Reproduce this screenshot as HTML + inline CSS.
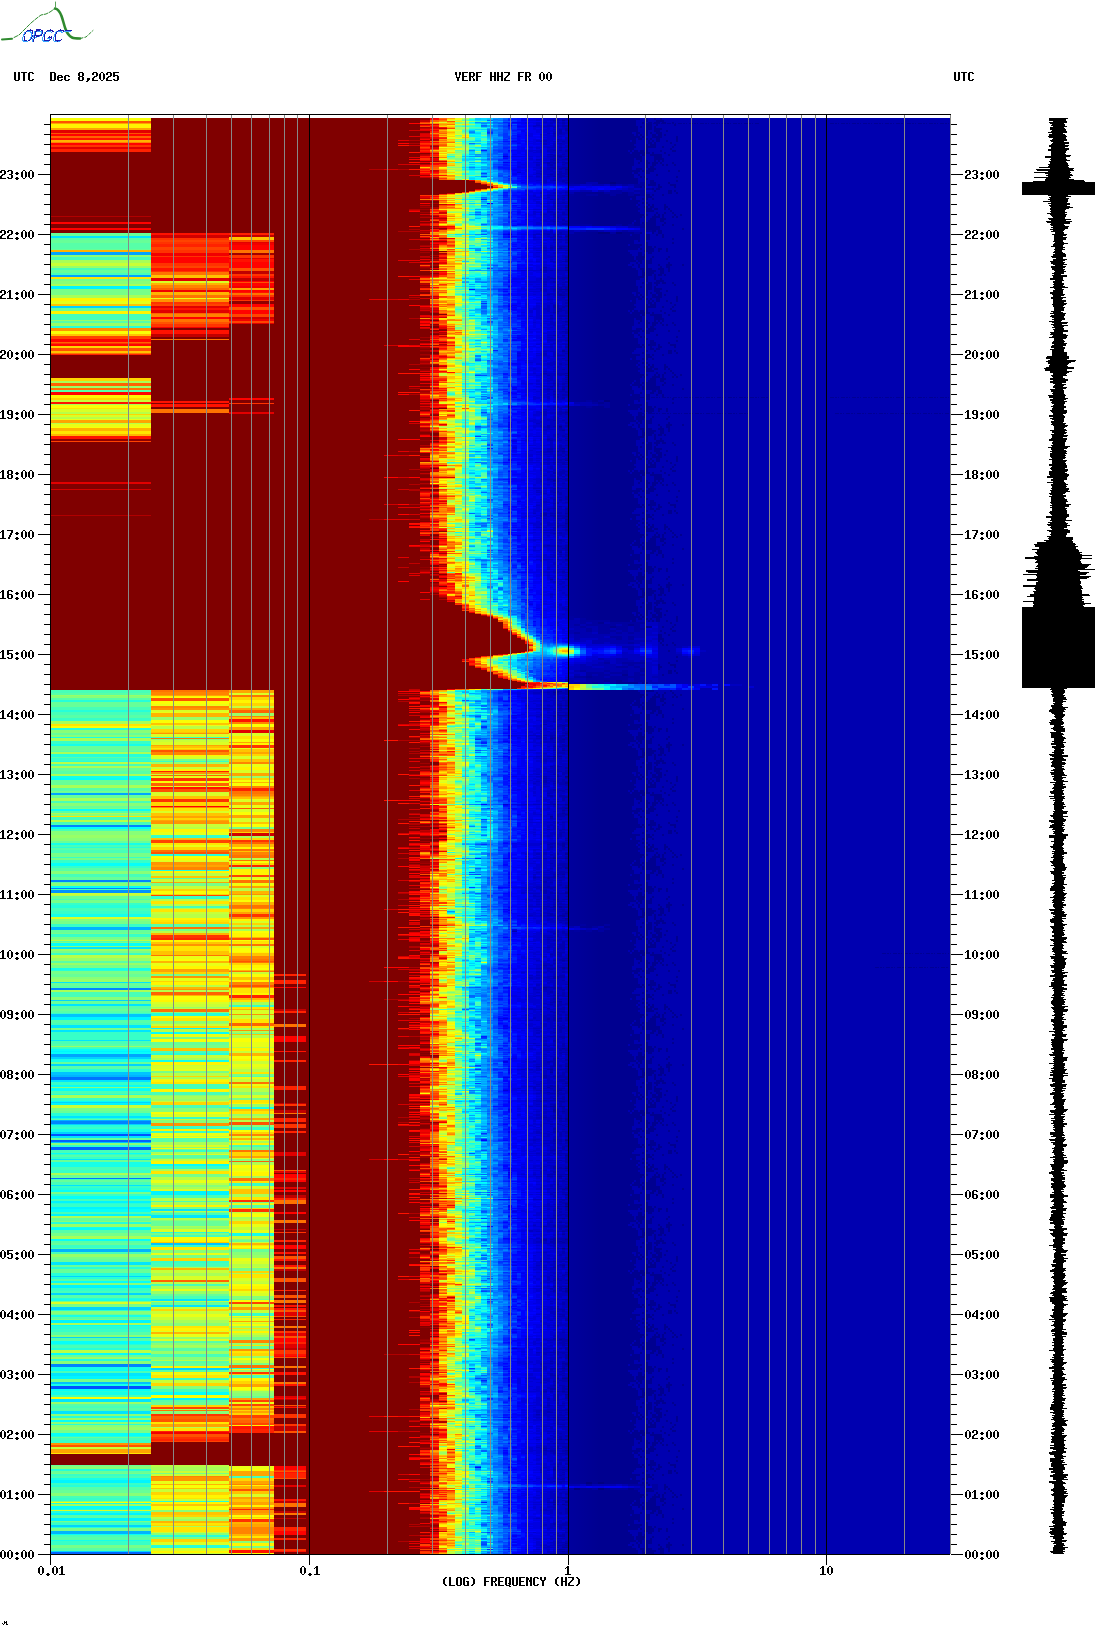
<!DOCTYPE html><html><head><meta charset="utf-8"><style>html,body{margin:0;padding:0;background:#fff;overflow:hidden}svg{display:block}
text{font-family:"Liberation Mono",monospace;font-weight:bold;font-size:13.6px;fill:#000}
.s path{fill:none}
.c0{stroke:#000080}
.c1{stroke:#000090}
.c2{stroke:#0000a0}
.c3{stroke:#0000b0}
.c4{stroke:#0000c0}
.c5{stroke:#0000d0}
.c6{stroke:#0000e1}
.c7{stroke:#0000f1}
.c8{stroke:#0002ff}
.c9{stroke:#0012ff}
.c10{stroke:#0022ff}
.c11{stroke:#0033ff}
.c12{stroke:#0043ff}
.c13{stroke:#0053ff}
.c14{stroke:#0063ff}
.c15{stroke:#0073ff}
.c16{stroke:#0084ff}
.c17{stroke:#0094ff}
.c18{stroke:#00a4ff}
.c19{stroke:#00b4ff}
.c20{stroke:#00c4ff}
.c21{stroke:#00d4ff}
.c22{stroke:#00e5ff}
.c23{stroke:#00f5ff}
.c24{stroke:#06fff9}
.c25{stroke:#16ffe9}
.c26{stroke:#26ffd9}
.c27{stroke:#37ffc8}
.c28{stroke:#47ffb8}
.c29{stroke:#57ffa8}
.c30{stroke:#67ff98}
.c31{stroke:#77ff88}
.c32{stroke:#88ff77}
.c33{stroke:#98ff67}
.c34{stroke:#a8ff57}
.c35{stroke:#b8ff47}
.c36{stroke:#c8ff37}
.c37{stroke:#d9ff26}
.c38{stroke:#e9ff16}
.c39{stroke:#f9ff06}
.c40{stroke:#fff500}
.c41{stroke:#ffe500}
.c42{stroke:#ffd500}
.c43{stroke:#ffc400}
.c44{stroke:#ffb400}
.c45{stroke:#ffa400}
.c46{stroke:#ff9400}
.c47{stroke:#ff8400}
.c48{stroke:#ff7300}
.c49{stroke:#ff6300}
.c50{stroke:#ff5300}
.c51{stroke:#ff4300}
.c52{stroke:#ff3300}
.c53{stroke:#ff2200}
.c54{stroke:#ff1200}
.c55{stroke:#ff0200}
.c56{stroke:#f10000}
.c57{stroke:#e10000}
.c58{stroke:#d00000}
.c59{stroke:#c00000}
.c60{stroke:#b00000}
.c61{stroke:#a00000}
.c62{stroke:#900000}
.c63{stroke:#800000}</style></head><body>
<svg width="1102" height="1634" viewBox="0 0 1102 1634" shape-rendering="crispEdges">
<rect width="1102" height="1634" fill="#fff"/>
<defs><linearGradient id="nvg" x1="0" x2="1" y1="0" y2="0"><stop offset="0" stop-color="#00009e"/><stop offset="1" stop-color="#000090"/></linearGradient><pattern id="mot" patternUnits="userSpaceOnUse" x="624" y="118" width="88" height="160"><path fill="#0000b0" d="M16 0h2v2h-2zM18 0h2v2h-2zM20 0h2v2h-2zM12 2h2v2h-2zM14 2h2v2h-2zM16 2h2v2h-2zM18 2h2v2h-2zM20 2h2v2h-2zM12 4h2v2h-2zM14 4h2v2h-2zM16 4h2v2h-2zM20 4h2v2h-2zM12 6h2v2h-2zM14 6h2v2h-2zM16 6h2v2h-2zM18 6h2v2h-2zM20 6h2v2h-2zM14 8h2v2h-2zM18 8h2v2h-2zM20 8h2v2h-2zM14 10h2v2h-2zM16 10h2v2h-2zM18 10h2v2h-2zM20 10h2v2h-2zM14 12h2v2h-2zM16 12h2v2h-2zM18 12h2v2h-2zM20 12h2v2h-2zM8 14h2v2h-2zM10 14h2v2h-2zM16 14h2v2h-2zM18 14h2v2h-2zM20 14h2v2h-2zM10 16h2v2h-2zM14 16h2v2h-2zM18 16h2v2h-2zM20 16h2v2h-2zM16 18h2v2h-2zM20 18h2v2h-2zM12 20h2v2h-2zM18 20h2v2h-2zM20 20h2v2h-2zM6 22h2v2h-2zM12 22h2v2h-2zM14 22h2v2h-2zM16 22h2v2h-2zM18 22h2v2h-2zM20 22h2v2h-2zM12 24h2v2h-2zM14 24h2v2h-2zM16 24h2v2h-2zM18 24h2v2h-2zM20 24h2v2h-2zM10 26h2v2h-2zM12 26h2v2h-2zM14 26h2v2h-2zM16 26h2v2h-2zM18 26h2v2h-2zM20 26h2v2h-2zM12 28h2v2h-2zM14 28h2v2h-2zM16 28h2v2h-2zM18 28h2v2h-2zM20 28h2v2h-2zM10 30h2v2h-2zM12 30h2v2h-2zM14 30h2v2h-2zM16 30h2v2h-2zM18 30h2v2h-2zM20 30h2v2h-2zM4 32h2v2h-2zM8 32h2v2h-2zM14 32h2v2h-2zM20 32h2v2h-2zM6 34h2v2h-2zM16 36h2v2h-2zM18 38h2v2h-2zM20 38h2v2h-2zM10 40h2v2h-2zM18 40h2v2h-2zM20 40h2v2h-2zM10 42h2v2h-2zM12 42h2v2h-2zM14 42h2v2h-2zM18 42h2v2h-2zM20 42h2v2h-2zM10 44h2v2h-2zM12 44h2v2h-2zM16 44h2v2h-2zM18 44h2v2h-2zM20 44h2v2h-2zM10 46h2v2h-2zM12 46h2v2h-2zM14 46h2v2h-2zM16 46h2v2h-2zM18 46h2v2h-2zM20 46h2v2h-2zM8 48h2v2h-2zM10 48h2v2h-2zM12 48h2v2h-2zM14 48h2v2h-2zM16 48h2v2h-2zM18 48h2v2h-2zM20 48h2v2h-2zM8 50h2v2h-2zM10 50h2v2h-2zM18 50h2v2h-2zM20 50h2v2h-2zM16 52h2v2h-2zM20 52h2v2h-2zM8 54h2v2h-2zM14 54h2v2h-2zM16 54h2v2h-2zM18 54h2v2h-2zM20 54h2v2h-2zM10 56h2v2h-2zM12 56h2v2h-2zM16 56h2v2h-2zM18 56h2v2h-2zM20 56h2v2h-2zM10 58h2v2h-2zM12 58h2v2h-2zM14 58h2v2h-2zM18 58h2v2h-2zM14 60h2v2h-2zM16 60h2v2h-2zM18 60h2v2h-2zM20 60h2v2h-2zM14 62h2v2h-2zM16 62h2v2h-2zM18 62h2v2h-2zM20 62h2v2h-2zM14 64h2v2h-2zM16 64h2v2h-2zM18 64h2v2h-2zM20 64h2v2h-2zM16 66h2v2h-2zM20 66h2v2h-2zM18 68h2v2h-2zM12 70h2v2h-2zM14 70h2v2h-2zM16 70h2v2h-2zM18 70h2v2h-2zM20 70h2v2h-2zM10 72h2v2h-2zM12 72h2v2h-2zM14 72h2v2h-2zM16 72h2v2h-2zM18 72h2v2h-2zM20 72h2v2h-2zM8 74h2v2h-2zM10 74h2v2h-2zM12 74h2v2h-2zM14 74h2v2h-2zM16 74h2v2h-2zM20 74h2v2h-2zM16 76h2v2h-2zM18 76h2v2h-2zM20 76h2v2h-2zM12 78h2v2h-2zM14 78h2v2h-2zM16 78h2v2h-2zM18 78h2v2h-2zM20 78h2v2h-2zM6 80h2v2h-2zM12 80h2v2h-2zM14 80h2v2h-2zM16 80h2v2h-2zM20 80h2v2h-2zM16 82h2v2h-2zM18 82h2v2h-2zM20 82h2v2h-2zM14 84h2v2h-2zM16 84h2v2h-2zM20 84h2v2h-2zM12 86h2v2h-2zM16 86h2v2h-2zM18 86h2v2h-2zM20 86h2v2h-2zM14 88h2v2h-2zM16 88h2v2h-2zM18 88h2v2h-2zM16 90h2v2h-2zM18 90h2v2h-2zM20 90h2v2h-2zM14 92h2v2h-2zM16 92h2v2h-2zM18 92h2v2h-2zM20 92h2v2h-2zM16 94h2v2h-2zM18 94h2v2h-2zM20 94h2v2h-2zM20 96h2v2h-2zM18 98h2v2h-2zM16 100h2v2h-2zM18 100h2v2h-2zM20 100h2v2h-2zM10 102h2v2h-2zM16 102h2v2h-2zM18 102h2v2h-2zM20 102h2v2h-2zM8 104h2v2h-2zM16 104h2v2h-2zM20 104h2v2h-2zM6 106h2v2h-2zM18 106h2v2h-2zM20 106h2v2h-2zM8 108h2v2h-2zM10 108h2v2h-2zM12 108h2v2h-2zM16 108h2v2h-2zM20 108h2v2h-2zM8 110h2v2h-2zM10 110h2v2h-2zM12 110h2v2h-2zM14 110h2v2h-2zM16 110h2v2h-2zM20 110h2v2h-2zM10 112h2v2h-2zM12 112h2v2h-2zM14 112h2v2h-2zM16 112h2v2h-2zM18 112h2v2h-2zM20 112h2v2h-2zM10 114h2v2h-2zM12 114h2v2h-2zM14 114h2v2h-2zM18 114h2v2h-2zM20 114h2v2h-2zM6 116h2v2h-2zM16 116h2v2h-2zM18 116h2v2h-2zM20 116h2v2h-2zM16 118h2v2h-2zM18 118h2v2h-2zM20 118h2v2h-2zM16 120h2v2h-2zM18 120h2v2h-2zM20 120h2v2h-2zM10 122h2v2h-2zM12 122h2v2h-2zM16 122h2v2h-2zM18 122h2v2h-2zM20 122h2v2h-2zM10 124h2v2h-2zM12 124h2v2h-2zM14 124h2v2h-2zM16 124h2v2h-2zM18 124h2v2h-2zM20 124h2v2h-2zM4 126h2v2h-2zM18 126h2v2h-2zM20 126h2v2h-2zM16 128h2v2h-2zM18 128h2v2h-2zM20 128h2v2h-2zM14 130h2v2h-2zM18 130h2v2h-2zM20 130h2v2h-2zM4 132h2v2h-2zM6 132h2v2h-2zM8 132h2v2h-2zM10 132h2v2h-2zM12 132h2v2h-2zM14 132h2v2h-2zM16 132h2v2h-2zM18 132h2v2h-2zM6 134h2v2h-2zM8 134h2v2h-2zM10 134h2v2h-2zM12 134h2v2h-2zM18 134h2v2h-2zM20 134h2v2h-2zM8 136h2v2h-2zM10 136h2v2h-2zM12 136h2v2h-2zM18 136h2v2h-2zM10 138h2v2h-2zM10 140h2v2h-2zM20 140h2v2h-2zM12 142h2v2h-2zM18 142h2v2h-2zM20 142h2v2h-2zM6 144h2v2h-2zM8 144h2v2h-2zM10 144h2v2h-2zM14 144h2v2h-2zM18 144h2v2h-2zM20 144h2v2h-2zM4 146h2v2h-2zM6 146h2v2h-2zM10 146h2v2h-2zM12 146h2v2h-2zM16 146h2v2h-2zM18 146h2v2h-2zM20 146h2v2h-2zM8 148h2v2h-2zM10 148h2v2h-2zM12 148h2v2h-2zM16 148h2v2h-2zM18 148h2v2h-2zM20 148h2v2h-2zM12 150h2v2h-2zM14 150h2v2h-2zM20 150h2v2h-2zM14 152h2v2h-2zM16 152h2v2h-2zM20 152h2v2h-2zM14 154h2v2h-2zM16 154h2v2h-2zM14 156h2v2h-2zM16 156h2v2h-2zM20 158h2v2h-2z"/><path fill="#000090" d="M22 0h2v2h-2zM30 0h2v2h-2zM36 0h2v2h-2zM22 2h2v2h-2zM32 2h2v2h-2zM34 2h2v2h-2zM36 2h2v2h-2zM38 2h2v2h-2zM24 4h2v2h-2zM26 4h2v2h-2zM30 4h2v2h-2zM32 4h2v2h-2zM34 4h2v2h-2zM38 4h2v2h-2zM40 4h2v2h-2zM48 4h2v2h-2zM22 6h2v2h-2zM24 6h2v2h-2zM26 6h2v2h-2zM32 6h2v2h-2zM50 6h2v2h-2zM22 8h2v2h-2zM24 8h2v2h-2zM26 8h2v2h-2zM30 8h2v2h-2zM22 10h2v2h-2zM24 10h2v2h-2zM26 10h2v2h-2zM30 10h2v2h-2zM32 10h2v2h-2zM34 10h2v2h-2zM36 10h2v2h-2zM22 12h2v2h-2zM30 12h2v2h-2zM32 12h2v2h-2zM34 12h2v2h-2zM42 12h2v2h-2zM22 14h2v2h-2zM26 14h2v2h-2zM32 14h2v2h-2zM34 14h2v2h-2zM36 14h2v2h-2zM22 16h2v2h-2zM28 16h2v2h-2zM30 16h2v2h-2zM34 16h2v2h-2zM36 16h2v2h-2zM40 16h2v2h-2zM28 18h2v2h-2zM30 18h2v2h-2zM32 18h2v2h-2zM34 18h2v2h-2zM36 18h2v2h-2zM52 18h2v2h-2zM22 20h2v2h-2zM26 20h2v2h-2zM32 20h2v2h-2zM34 20h2v2h-2zM52 20h2v2h-2zM24 22h2v2h-2zM28 22h2v2h-2zM32 22h2v2h-2zM34 22h2v2h-2zM42 22h2v2h-2zM52 22h2v2h-2zM24 24h2v2h-2zM26 24h2v2h-2zM30 24h2v2h-2zM46 24h2v2h-2zM22 26h2v2h-2zM26 26h2v2h-2zM28 26h2v2h-2zM30 26h2v2h-2zM50 26h2v2h-2zM22 28h2v2h-2zM24 28h2v2h-2zM26 28h2v2h-2zM28 28h2v2h-2zM30 28h2v2h-2zM38 28h2v2h-2zM48 28h2v2h-2zM22 30h2v2h-2zM46 30h2v2h-2zM22 32h2v2h-2zM36 32h2v2h-2zM48 32h2v2h-2zM50 32h2v2h-2zM22 34h2v2h-2zM24 34h2v2h-2zM28 34h2v2h-2zM40 34h2v2h-2zM26 36h2v2h-2zM28 36h2v2h-2zM30 36h2v2h-2zM32 36h2v2h-2zM34 36h2v2h-2zM36 36h2v2h-2zM44 36h2v2h-2zM30 38h2v2h-2zM32 38h2v2h-2zM34 38h2v2h-2zM36 38h2v2h-2zM30 40h2v2h-2zM32 40h2v2h-2zM34 40h2v2h-2zM36 40h2v2h-2zM38 40h2v2h-2zM22 42h2v2h-2zM30 42h2v2h-2zM34 42h2v2h-2zM38 42h2v2h-2zM22 44h2v2h-2zM24 44h2v2h-2zM28 44h2v2h-2zM30 44h2v2h-2zM32 44h2v2h-2zM36 44h2v2h-2zM48 44h2v2h-2zM22 46h2v2h-2zM28 46h2v2h-2zM30 46h2v2h-2zM38 46h2v2h-2zM42 46h2v2h-2zM50 46h2v2h-2zM22 48h2v2h-2zM26 48h2v2h-2zM28 48h2v2h-2zM24 50h2v2h-2zM26 50h2v2h-2zM28 50h2v2h-2zM30 50h2v2h-2zM22 52h2v2h-2zM24 52h2v2h-2zM26 52h2v2h-2zM28 52h2v2h-2zM44 52h2v2h-2zM54 52h2v2h-2zM22 54h2v2h-2zM24 54h2v2h-2zM32 56h2v2h-2zM52 58h2v2h-2zM22 60h2v2h-2zM26 62h2v2h-2zM28 62h2v2h-2zM52 62h2v2h-2zM26 64h2v2h-2zM28 64h2v2h-2zM30 64h2v2h-2zM44 64h2v2h-2zM24 66h2v2h-2zM26 66h2v2h-2zM28 66h2v2h-2zM30 66h2v2h-2zM34 66h2v2h-2zM46 66h2v2h-2zM48 66h2v2h-2zM50 66h2v2h-2zM26 68h2v2h-2zM34 68h2v2h-2zM36 68h2v2h-2zM50 68h2v2h-2zM26 70h2v2h-2zM28 70h2v2h-2zM32 70h2v2h-2zM34 70h2v2h-2zM22 72h2v2h-2zM30 72h2v2h-2zM44 72h2v2h-2zM46 72h2v2h-2zM50 72h2v2h-2zM44 74h2v2h-2zM46 74h2v2h-2zM52 74h2v2h-2zM22 76h2v2h-2zM24 76h2v2h-2zM28 76h2v2h-2zM38 76h2v2h-2zM22 78h2v2h-2zM24 78h2v2h-2zM26 78h2v2h-2zM22 80h2v2h-2zM28 80h2v2h-2zM22 84h2v2h-2zM24 86h2v2h-2zM28 86h2v2h-2zM40 86h2v2h-2zM22 88h2v2h-2zM26 88h2v2h-2zM28 88h2v2h-2zM40 88h2v2h-2zM42 88h2v2h-2zM22 90h2v2h-2zM24 90h2v2h-2zM26 90h2v2h-2zM30 90h2v2h-2zM32 90h2v2h-2zM40 90h2v2h-2zM44 90h2v2h-2zM22 92h2v2h-2zM24 92h2v2h-2zM26 92h2v2h-2zM28 92h2v2h-2zM46 92h2v2h-2zM32 94h2v2h-2zM40 94h2v2h-2zM48 94h2v2h-2zM22 96h2v2h-2zM30 96h2v2h-2zM34 96h2v2h-2zM38 96h2v2h-2zM50 96h2v2h-2zM56 96h2v2h-2zM28 98h2v2h-2zM30 98h2v2h-2zM32 98h2v2h-2zM34 98h2v2h-2zM38 98h2v2h-2zM48 98h2v2h-2zM52 98h2v2h-2zM26 100h2v2h-2zM28 100h2v2h-2zM30 100h2v2h-2zM36 100h2v2h-2zM38 100h2v2h-2zM40 100h2v2h-2zM24 102h2v2h-2zM26 102h2v2h-2zM28 102h2v2h-2zM30 102h2v2h-2zM36 102h2v2h-2zM38 102h2v2h-2zM22 104h2v2h-2zM24 104h2v2h-2zM26 104h2v2h-2zM28 104h2v2h-2zM30 104h2v2h-2zM40 104h2v2h-2zM22 106h2v2h-2zM24 106h2v2h-2zM26 106h2v2h-2zM28 106h2v2h-2zM30 106h2v2h-2zM38 106h2v2h-2zM48 106h2v2h-2zM22 108h2v2h-2zM24 108h2v2h-2zM26 108h2v2h-2zM28 108h2v2h-2zM30 108h2v2h-2zM32 108h2v2h-2zM34 108h2v2h-2zM22 110h2v2h-2zM24 110h2v2h-2zM26 110h2v2h-2zM28 110h2v2h-2zM30 110h2v2h-2zM32 110h2v2h-2zM34 110h2v2h-2zM58 110h2v2h-2zM28 112h2v2h-2zM30 112h2v2h-2zM34 112h2v2h-2zM36 112h2v2h-2zM26 114h2v2h-2zM28 114h2v2h-2zM34 114h2v2h-2zM36 114h2v2h-2zM22 116h2v2h-2zM24 116h2v2h-2zM32 116h2v2h-2zM38 116h2v2h-2zM22 118h2v2h-2zM24 118h2v2h-2zM38 118h2v2h-2zM22 120h2v2h-2zM24 120h2v2h-2zM48 120h2v2h-2zM22 124h2v2h-2zM48 124h2v2h-2zM22 126h2v2h-2zM22 128h2v2h-2zM24 128h2v2h-2zM26 128h2v2h-2zM30 128h2v2h-2zM22 130h2v2h-2zM24 130h2v2h-2zM26 130h2v2h-2zM28 130h2v2h-2zM34 130h2v2h-2zM36 130h2v2h-2zM42 130h2v2h-2zM22 132h2v2h-2zM24 132h2v2h-2zM26 132h2v2h-2zM28 132h2v2h-2zM34 132h2v2h-2zM42 132h2v2h-2zM24 134h2v2h-2zM26 134h2v2h-2zM28 138h2v2h-2zM44 138h2v2h-2zM26 140h2v2h-2zM42 140h2v2h-2zM22 142h2v2h-2zM24 142h2v2h-2zM26 142h2v2h-2zM22 144h2v2h-2zM24 144h2v2h-2zM26 144h2v2h-2zM44 144h2v2h-2zM22 146h2v2h-2zM34 146h2v2h-2zM42 146h2v2h-2zM44 146h2v2h-2zM46 146h2v2h-2zM58 146h2v2h-2zM22 148h2v2h-2zM36 148h2v2h-2zM42 148h2v2h-2zM44 148h2v2h-2zM22 150h2v2h-2zM24 150h2v2h-2zM26 150h2v2h-2zM34 150h2v2h-2zM36 150h2v2h-2zM38 150h2v2h-2zM44 150h2v2h-2zM22 152h2v2h-2zM24 152h2v2h-2zM26 152h2v2h-2zM28 152h2v2h-2zM30 152h2v2h-2zM36 152h2v2h-2zM38 152h2v2h-2zM44 152h2v2h-2zM22 154h2v2h-2zM24 154h2v2h-2zM26 154h2v2h-2zM28 154h2v2h-2zM36 154h2v2h-2zM38 154h2v2h-2zM22 156h2v2h-2zM24 156h2v2h-2zM26 156h2v2h-2zM30 156h2v2h-2zM34 156h2v2h-2zM36 156h2v2h-2zM40 156h2v2h-2zM22 158h2v2h-2zM30 158h2v2h-2z"/></pattern></defs>
<rect x="306" y="118" width="114" height="1436" fill="#800000"/>
<rect x="568" y="118" width="77" height="1436" fill="#000090"/>
<rect x="645" y="118" width="305" height="1436" fill="#0000b0"/>
<rect x="568" y="118" width="32" height="1436" fill="url(#nvg)"/>
<rect x="624" y="118" width="88" height="1436" fill="url(#mot)"/>
<path d="M645 123.5H760M830 123.5H949M640 397.5H770M830 397.5H949M640 413.5H750M835 413.5H949M882 953.5H949M875 967.5H949" stroke="#000094" stroke-width="1" stroke-dasharray="4 1 2 1 1 2" fill="none"/>
<g class="s">
<g stroke-width="100">
<path class="c39" d="M101 118v3m0 210v3m0 71v3m0 19v1m0 298v2m0 669v2m0 103v1"/>
<path class="c50" d="M101 121v2m0 10v1m0 214v3m0 1094v2"/>
<path class="c45" d="M101 123v1m0 4v2m0 290v3m0 1026v4"/>
<path class="c40" d="M101 124v4m0 170v3m0 10v3m0 81v3"/>
<path class="c57" d="M101 130v3m0 14v2m0 333v2"/>
<path class="c55" d="M101 134v2m0 7v2m0 77v2m0 4v2m0 109v3m0 2v2m0 46v3"/>
<path class="c49" d="M101 136v2m0 204v1m0 40v3"/>
<path class="c54" d="M101 138v2m0 262v2m0 32v3"/>
<path class="c44" d="M101 140v2m0 108v2m0 176v3m0 3v2"/>
<path class="c47" d="M101 142v1"/>
<path class="c52" d="M101 145v2m0 196v1"/>
<path class="c53" d="M101 149v3m0 202v1"/>
<path class="c63" d="M101 152v64m0 1v5m0 2v4m0 2v3m0 122v23m0 64v40m0 2v5m0 1v25m0 1v174m0 764v11"/>
<path class="c60" d="M101 216v1m0 298v1"/>
<path class="c30" d="M101 233v3m0 4v3m0 6v1m0 20v3m0 35v3m0 391v5m0 26v2m0 11v5m0 17v3m0 9v5m0 7v1m0 2v3m0 8v2m0 33v2m0 34v3m0 16v3m0 31v3m0 41v3m0 6v3m0 15v3m0 5v2m0 51v2m0 47v2m0 25v2m0 20v2m0 13v3m0 2v2m0 36v3m0 22v2m0 14v3m0 3v2m0 2v4m0 41v1m0 40v2m0 80v1m0 27v1m0 5v2m0 17v3"/>
<path class="c22" d="M101 236v2m0 709v2m0 33v1m0 21v2m0 19v3m0 2v2m0 8v1m0 39v2m0 34v2m0 18v2m0 21v1m0 25v1m0 76v3m0 108v3m0 23v3m0 9v3"/>
<path class="c29" d="M101 238v2m0 3v6m0 72v2m0 67v2m0 301v2m0 3v2m0 15v3m0 33v1m0 5v1m0 13v3m0 14v3m0 20v2m0 35v2m0 18v3m0 11v1m0 58v1m0 19v2m0 23v2m0 18v3m0 2v2m0 7v3m0 21v2m0 20v3m0 50v1m0 35v2m0 73v3m0 8v2m0 5v1m0 30v2m0 14v3m0 19v2m0 13v3m0 3v3m0 63v2m0 2v3m0 76v3m0 25v3m0 19v3m0 8v3"/>
<path class="c18" d="M101 252v3m0 20v2m0 516v2m0 259v3"/>
<path class="c32" d="M101 255v2m0 24v3m0 412v2m0 32v3m0 2v2m0 66v3m0 8v2m0 15v4m0 3v3m0 30v3m0 9v3m0 33v2m0 18v1m0 6v1m0 30v2m0 18v3m0 87v1m0 55v2m0 76v1m0 61v2m0 26v3m0 21v2m0 24v3m0 50v2m0 6v2m0 1v2m0 39v3m0 24v3m0 5v1"/>
<path class="c28" d="M101 257v3m0 8v2m0 3v2m0 39v6m0 370v3m0 14v3m0 2v3m0 49v2m0 35v2m0 14v3m0 2v3m0 4v2m0 14v2m0 3v3m0 21v3m0 12v1m0 9v1m0 8v3m0 81v5m0 26v2m0 16v3m0 3v1m0 43v3m0 56v3m0 14v3m0 12v3m0 14v2m0 11v2m0 38v2m0 37v2m0 52v3m0 23v2m0 22v2m0 9v2m0 30v2m0 36v2m0 18v2m0 24v1m0 12v2"/>
<path class="c34" d="M101 260v3m0 21v2m0 9v3m0 83v2m0 21v1m0 316v3m0 14v3m0 11v2m0 12v2m0 6v2m0 9v3m0 10v3m0 12v1m0 176v2m0 103v3m0 75v2m0 41v2m0 18v3m0 84v2"/>
<path class="c36" d="M101 263v3m0 134v2m0 491v2m0 210v3m0 339v2"/>
<path class="c33" d="M101 266v2m0 52v1m0 2v3m0 60v2m0 307v1m0 139v3m0 111v2m0 7v3m0 2v2m0 14v3m0 64v1m0 177v3m0 27v3m0 100v2m0 43v2m0 14v2m0 7v3m0 74v2"/>
<path class="c41" d="M101 277v2m0 129v1m0 22v3m0 290v2m0 90v1m0 636v1"/>
<path class="c31" d="M101 279v2m0 8v6m0 496v1m0 16v1m0 44v4m0 1v2m0 40v3m0 18v3m0 9v1m0 3v2m0 3v1m0 8v2m0 12v3m0 3v3m0 54v2m0 78v3m0 81v2m0 39v3m0 21v2m0 42v1m0 2v3m0 12v1m0 59v3m0 48v3m0 40v1m0 47v1m0 6v3m0 14v3"/>
<path class="c23" d="M101 286v3m0 728v3m0 31v1m0 51v2m0 96v2m0 4v2m0 5v2m0 69v3m0 32v3m0 53v3m0 101v3m0 30v2m0 3v3"/>
<path class="c38" d="M101 301v3m0 115v1m0 4v3"/>
<path class="c43" d="M101 304v2m0 28v2m0 15v2"/>
<path class="c21" d="M101 306v2m0 692v1m0 56v2m0 5v2m0 36v1m0 21v1m0 7v2m0 142v1m0 16v2m0 12v3m0 27v1m0 187v2m0 24v1"/>
<path class="c26" d="M101 326v2m0 372v2m0 8v2m0 16v2m0 24v3m0 4v1m0 85v1m0 57v3m0 62v1m0 98v3m0 22v1m0 18v3m0 2v1m0 6v2m0 19v1m0 41v2m0 13v1m0 18v2m0 43v2m0 4v3m0 1v2m0 19v1m0 11v1m0 15v3m0 15v1m0 3v2m0 9v2m0 30v1m0 24v2m0 6v1m0 11v1m0 32v2m0 14v2m0 22v1m0 1v2m0 14v1"/>
<path class="c46" d="M101 328v3m0 1112v2"/>
<path class="c51" d="M101 336v3m0 102v1"/>
<path class="c42" d="M101 346v2m0 30v3m0 17v2m0 14v1"/>
<path class="c48" d="M101 353v1m0 34v2"/>
<path class="c37" d="M101 409v3m0 3v2m0 500v2m0 383v2m0 206v1"/>
<path class="c35" d="M101 412v2m0 3v2m0 4v1m0 338v2m0 56v2m0 73v1m0 44v1m0 14v3m0 392v3"/>
<path class="c62" d="M101 439v2"/>
<path class="c58" d="M101 489v1"/>
<path class="c27" d="M101 718v3m0 20v3m0 14v3m0 96v1m0 2v3m0 3v2m0 35v2m0 6v3m0 10v3m0 7v3m0 16v2m0 58v1m0 18v8m0 8v1m0 33v3m0 13v3m0 26v2m0 16v1m0 8v1m0 2v2m0 11v3m0 6v1m0 6v2m0 6v2m0 8v3m0 38v3m0 40v3m0 38v3m0 108v3m0 31v2m0 7v2m0 13v3m0 22v2m0 16v4"/>
<path class="c25" d="M101 737v1m0 6v2m0 30v2m0 65v2m0 69v3m0 51v2m0 89v3m0 26v1m0 40v3m0 30v5m0 60v1m0 71v2m0 14v2m0 50v3m0 14v2m0 6v3m0 83v2m0 23v1m0 36v1"/>
<path class="c24" d="M101 778v2m0 29v2m0 16v2m0 34v3m0 20v2m0 55v3m0 103v2m0 1v2m0 31v2m0 2v2m0 10v1m0 51v1m0 36v2m0 4v3m0 10v3m0 16v2m0 9v2m0 40v2m0 42v1m0 15v3m0 9v2m0 15v1m0 18v2m0 29v2m0 11v3m0 70v3m0 25v1"/>
<path class="c16" d="M101 825v2m0 53v2m0 6v1m0 99v2m0 131v3m0 240v3"/>
<path class="c17" d="M101 890v3"/>
<path class="c19" d="M101 927v3m0 145v2m0 43v1m0 128v3m0 279v3"/>
<path class="c20" d="M101 1014v3m0 55v3m0 67v1m0 239v2"/>
<path class="c15" d="M101 1077v3m0 98v1"/>
<path class="c13" d="M101 1134v2m0 250v3"/>
<path class="c14" d="M101 1140v2m0 5v3m0 402v2"/>
</g>
<g stroke-width="78">
<path class="c63" d="M190 118v115m0 95v2m0 7v2m0 1v61m0 2v1m0 3v2m0 4v277m0 752v23"/>
<path class="c54" d="M190 233v2m0 33v3m0 37v2m0 20v4m0 67v2m0 1v3m0 380v2"/>
<path class="c58" d="M190 235v3"/>
<path class="c52" d="M190 238v2m0 2v2m0 6v3m0 3v1m0 6v3m0 5v1m0 30v2m0 20v3m0 451v3m0 18v3m0 133v3m0 476v2m0 21v2"/>
<path class="c51" d="M190 240v2m0 5v3m0 16v2m0 36v2m0 534v3m0 52v1m0 511v2m0 32v1"/>
<path class="c53" d="M190 244v3m0 524v1m0 166v2m0 491v1m0 7v2"/>
<path class="c56" d="M190 253v3m0 34v2m0 35v1m0 1104v2"/>
<path class="c55" d="M190 257v6m0 54v2m0 487v1"/>
<path class="c48" d="M190 272v3m0 20v3m0 21v3m0 17v1m0 69v4m0 277v2m0 46v1m0 111v2m0 75v2m0 26v1m0 53v3m0 398v1"/>
<path class="c43" d="M190 275v3m0 445v2m0 7v1m0 13v2m0 1v1m0 46v3m0 14v3m0 22v1m0 37v2m0 64v2m0 7v4m0 93v3m0 191v1m0 245v1m0 15v2m0 6v3"/>
<path class="c57" d="M190 278v3m0 25v2m0 2v3"/>
<path class="c37" d="M190 281v2m0 427v2m0 22v3m0 5v3m0 11v3m0 34v3m0 15v2m0 48v1m0 140v2m0 62v3m0 45v3m0 28v2m0 7v1m0 34v2m0 38v3m0 44v4m0 51v1m0 7v2m0 201v3m0 3v3"/>
<path class="c44" d="M190 283v2m0 7v3m0 418v4m0 47v3m0 72v1m0 93v2m0 26v2m0 24v2m0 6v1m0 272v2m0 62v2m0 150v1m0 36v2"/>
<path class="c47" d="M190 285v3m0 26v3m0 375v3m0 11v2m0 44v3m0 52v1m0 59v3m0 606v1"/>
<path class="c49" d="M190 288v2m0 23v1m0 461v1m0 7v3m0 206v3m0 285v2m0 134v3"/>
<path class="c38" d="M190 298v1m0 405v2m0 6v1m0 12v1m0 50v2m0 8v1m0 45v3m0 10v2m0 13v1m0 95v3m0 4v3m0 12v3m0 53v3m0 32v2m0 8v1m0 53v3m0 44v3m0 70v2m0 34v2m0 23v3m0 17v3m0 36v2m0 106v3"/>
<path class="c46" d="M190 299v3m0 406v2m0 23v1m0 38v2m0 47v3m0 38v3m0 79v2m0 30v2m0 11v1m0 133v3m0 351v4"/>
<path class="c50" d="M190 322v2m0 374v3m0 49v2m0 37v3m0 60v2m0 565v3m0 12v3"/>
<path class="c59" d="M190 334v3"/>
<path class="c45" d="M190 695v1m0 49v1m0 70v2m0 2v1m0 44v2m0 15v1m0 86v3m0 452v3"/>
<path class="c40" d="M190 696v1m0 58v1m0 13v2m0 58v3m0 26v2m0 11v2m0 45v2m0 20v2m0 24v3m0 13v3m0 15v2m0 14v2m0 44v3m0 15v2m0 7v3m0 37v2m0 30v3m0 41v2m0 33v2m0 86v3m0 35v2m0 4v1m0 122v3m0 4v2m0 47v2"/>
<path class="c39" d="M190 697v1m0 3v3m0 16v3m0 58v2m0 73v2m0 33v3m0 65v2m0 35v4m0 39v3m0 70v2m0 23v1m0 10v1m0 88v3m0 155v3m0 87v3m0 18v4"/>
<path class="c33" d="M190 717v3m0 42v2m0 243v1m0 15v1m0 75v2m0 126v2m0 62v3m0 43v2m0 8v1m0 3v3m0 116v1m0 48v2"/>
<path class="c35" d="M190 726v3m0 98v2m0 44v3m0 23v2m0 3v2m0 8v4m0 13v2m0 52v2m0 3v2m0 16v1m0 20v3m0 41v3m0 101v3m0 3v2m0 13v3m0 10v1m0 6v2m0 62v2m0 17v1m0 58v1m0 66v1m0 37v2m0 50v2"/>
<path class="c42" d="M190 729v3m0 70v4m0 12v2m0 27v3m0 39v2m0 3v1m0 27v2m0 48v2m0 7v1m0 44v2m0 48v1m0 25v3m0 153v3m0 48v2m0 72v3m0 19v2m0 85v3m0 20v2m0 8v1m0 13v3"/>
<path class="c27" d="M190 737v1m0 23v1m0 73v3m0 58v3m0 218v2m0 7v3m0 2v2m0 17v2m0 14v3m0 76v2m0 14v2m0 115v2"/>
<path class="c32" d="M190 739v1m0 272v1m0 8v2m0 72v1m0 12v4m0 8v3m0 24v1m0 37v2m0 33v1m0 29v3m0 70v3m0 17v2m0 12v3m0 26v3m0 22v3m0 96v2m0 21v2"/>
<path class="c36" d="M190 740v2m0 25v2m0 5v1m0 17v1m0 31v3m0 52v3m0 4v3m0 23v2m0 90v3m0 17v2m0 29v3m0 7v1m0 35v1m0 17v1m0 16v1m0 22v2m0 109v3m0 34v2m0 2v3m0 3v3m0 60v3m0 88v2m0 1v2m0 13v3m0 7v2m0 31v1m0 20v1"/>
<path class="c41" d="M190 748v1m0 59v3m0 32v2m0 56v3m0 5v3m0 8v2m0 24v5m0 67v3m0 61v2m0 87v3m0 73v3m0 76v2m0 47v3m0 44v2m0 4v3m0 67v1m0 24v2m0 2v5"/>
<path class="c31" d="M190 759v2m0 122v3m0 43v2m0 43v2m0 61v2m0 6v3m0 23v2m0 76v1m0 8v1m0 15v3m0 30v2m0 3v1m0 20v2m0 20v3m0 215v1m0 63v2"/>
<path class="c26" d="M190 854v2m0 157v3m0 37v2m0 177v1m0 268v1m0 33v2m0 8v3"/>
<path class="c25" d="M190 870v1m0 189v2"/>
<path class="c29" d="M190 878v1m0 45v3m0 211v4m0 13v3m0 108v1m0 74v2m0 5v3m0 10v2m0 7v2m0 28v2"/>
<path class="c28" d="M190 906v2m0 143v2m0 31v5m0 3v3m0 10v3m0 87v3m0 3v1m0 11v2m0 20v2m0 26v3m0 18v2m0 10v3m0 55v3m0 32v3"/>
<path class="c34" d="M190 908v1m0 149v2m0 17v2m0 17v3m0 43v3m0 7v2m0 15v2m0 16v2m0 13v3m0 21v1m0 40v1m0 5v3m0 10v3m0 31v3m0 22v2m0 62v1m0 57v3m0 56v1"/>
<path class="c23" d="M190 1028v1m0 162v4m0 203v2"/>
<path class="c24" d="M190 1032v2m0 130v2m0 226v3"/>
<path class="c30" d="M190 1042v3m0 176v5m0 68v2m0 6v3m0 58v3m0 36v3"/>
<path class="c22" d="M190 1209v2m0 4v3m0 81v2m0 4v2"/>
<path class="c20" d="M190 1243v2"/>
<path class="c21" d="M190 1368v2"/>
</g>
<g stroke-width="45">
<path class="c63" d="M251.5 118v115m0 91v74m0 2v3m0 1v8m0 2v276m0 743v33"/>
<path class="c53" d="M251.5 233v2m0 553v3m0 74v2m0 128v3m0 431v4m0 76v1"/>
<path class="c59" d="M251.5 235v2m0 34v3m0 4v3"/>
<path class="c43" d="M251.5 237v3m0 477v2m0 30v3m0 7v3m0 35v2m0 23v2m0 27v1m0 101v3m0 21v3m0 54v1m0 74v2m0 78v5m0 212v2m0 83v3m0 5v3"/>
<path class="c51" d="M251.5 240v2m0 72v3m0 4v2m0 552v2m0 425v2m0 96v2m0 2v2m0 9v3m0 5v2"/>
<path class="c57" d="M251.5 242v1m0 15v1m0 38v3m0 23v1m0 88v2m0 316v3"/>
<path class="c56" d="M251.5 243v2m0 41v2m0 31v2"/>
<path class="c55" d="M251.5 245v5m0 12v6m0 13v1m0 1v3m0 4v2m0 12v3m0 3v4m0 84v2"/>
<path class="c48" d="M251.5 250v3m0 40v2m0 400v2m0 94v3m0 55v2m0 4v3m0 2v1m0 19v3m0 22v3m0 36v2m0 13v2m0 1v1m0 8v1m0 110v2m0 66v2m0 26v3m0 184v3m0 50v2"/>
<path class="c61" d="M251.5 253v2"/>
<path class="c52" d="M251.5 255v3m0 16v2m0 19v2m0 3v1m0 102v1m0 341v3m0 92v2m0 72v3m0 283v2m0 7v3m0 160v2m0 145v3"/>
<path class="c54" d="M251.5 259v3m0 14v2m0 14v1m0 426v3m0 704v3m0 121v3"/>
<path class="c50" d="M251.5 268v3m0 11v1m0 24v3m0 498v1m0 129v2m0 21v1m0 23v2m0 135v3m0 364v2"/>
<path class="c45" d="M251.5 288v2m0 400v3m0 15v2m0 17v3m0 12v1m0 9v2m0 19v3m0 20v1m0 5v3m0 10v3m0 68v2m0 24v2m0 13v2m0 189v2m0 36v2m0 149v3m0 11v1m0 62v3m0 11v2m0 11v2m0 58v5m0 5v3m0 13v2m0 3v3m0 8v2m0 9v3"/>
<path class="c62" d="M251.5 301v3"/>
<path class="c58" d="M251.5 317v2m0 514v3"/>
<path class="c37" d="M251.5 693v2m0 38v3m0 20v3m0 11v3m0 27v2m0 7v3m0 6v4m0 55v2m0 16v2m0 24v2m0 23v2m0 62v4m0 4v1m0 48v2m0 26v3m0 38v2m0 20v1m0 27v2m0 73v3m0 14v3m0 12v3m0 8v3m0 83v1m0 103v3"/>
<path class="c42" d="M251.5 697v3m0 3v3m0 48v2m0 22v2m0 52v1m0 5v2m0 23v2m0 44v3m0 11v2m0 38v2m0 167v2m0 18v4m0 52v1m0 12v3m0 47v2m0 16v2m0 62v3m0 18v1m0 6v3m0 26v1m0 2v2m0 63v3m0 36v1m0 30v2"/>
<path class="c40" d="M251.5 700v3m0 40v2m0 22v3m0 77v2m0 20v6m0 10v1m0 33v2m0 12v4m0 15v1m0 12v3m0 12v2m0 11v2m0 53v3m0 8v2m0 42v1m0 39v2m0 27v4m0 110v3m0 42v2m0 45v3m0 44v1m0 59v1m0 19v2m0 11v1m0 24v3"/>
<path class="c36" d="M251.5 706v2m0 264v2m0 41v3m0 33v2m0 8v3m0 15v3m0 106v1m0 38v3m0 6v3m0 3v1m0 24v1m0 13v2m0 27v3m0 10v1m0 9v2m0 25v3"/>
<path class="c49" d="M251.5 710v3m0 129v2m0 179v3m0 135v1m0 258v3"/>
<path class="c33" d="M251.5 713v3m0 60v2m0 326v3m0 7v2m0 46v1m0 92v3m0 85v2m0 11v2m0 12v2m0 19v2"/>
<path class="c47" d="M251.5 716v1m0 5v2m0 38v2m0 22v2m0 6v2m0 33v3m0 20v3m0 53v1m0 47v3m0 23v3m0 149v2m0 204v3m0 65v2m0 74v1m0 42v7"/>
<path class="c39" d="M251.5 724v3m0 12v3m0 38v2m0 1v3m0 26v3m0 9v3m0 34v2m0 16v1m0 20v2m0 29v2m0 7v1m0 7v4m0 16v2m0 4v3m0 61v4m0 14v3m0 71v2m0 33v3m0 3v1m0 42v3m0 29v2m0 36v2m0 14v2m0 14v1m0 7v2m0 32v2m0 9v1m0 17v3m0 79v2m0 44v2m0 36v1"/>
<path class="c41" d="M251.5 736v3m0 158v3m0 41v3m0 44v5m0 7v2m0 5v2m0 10v4m0 3v2m0 44v2m0 12v2m0 12v3m0 8v3m0 67v2m0 14v3m0 45v1m0 2v1m0 25v4m0 50v1m0 16v1m0 5v2m0 183v2"/>
<path class="c38" d="M251.5 748v1m0 15v3m0 32v1m0 5v3m0 75v2m0 157v5m0 17v3m0 10v2m0 5v2m0 54v1m0 27v3m0 32v2m0 8v1m0 10v3m0 3v3m0 25v3m0 30v2m0 25v3m0 1v1m0 79v2m0 62v3"/>
<path class="c44" d="M251.5 782v1m0 61v3m0 44v3m0 8v3m0 32v1m0 32v1m0 27v2m0 9v1m0 43v3m0 82v2m0 103v2m0 241v3m0 33v2m0 10v2"/>
<path class="c31" d="M251.5 827v2m0 245v2m0 22v2m0 47v3m0 52v1m0 65v3m0 66v3m0 23v2m0 181v2"/>
<path class="c34" d="M251.5 836v2m0 91v2m0 71v3m0 23v2m0 1v2m0 108v2m0 33v2m0 16v3m0 20v2m0 54v1m0 43v1m0 8v2m0 7v2"/>
<path class="c35" d="M251.5 858v2m0 28v3m0 34v2m0 108v3m0 9v1m0 21v3m0 16v4m0 24v2m0 2v2m0 41v2m0 47v1m0 6v2m0 43v3m0 16v1m0 45v2"/>
<path class="c32" d="M251.5 867v2m0 223v3m0 30v2m0 32v2m0 78v1m0 12v3m0 41v3m0 94v3m0 145v2"/>
<path class="c46" d="M251.5 894v1m0 22v2m0 68v1m0 26v1m0 15v1m0 318v2m0 156v2m0 1v3m0 25v3"/>
<path class="c27" d="M251.5 1005v2m0 120v3m0 53v3m0 127v3"/>
<path class="c30" d="M251.5 1033v1m0 206v2m0 7v3m0 47v1m0 46v3m0 47v2"/>
<path class="c29" d="M251.5 1076v1m0 128v3"/>
<path class="c25" d="M251.5 1107v2m0 124v3"/>
<path class="c28" d="M251.5 1145v2m0 228v3m0 98v2"/>
<path class="c26" d="M251.5 1368v1"/>
</g>
<g stroke-width="32">
<path class="c63" d="M290 118v856m0 2v4m0 4v3m0 1v21m0 4v11m0 3v9m0 6v9m0 1v8m0 2v24m0 4v13m0 3v4m0 4v4m0 4v2m0 4v3m0 2v19m0 4v14m0 3v1m0 8v5m0 2v1m0 2v3m0 9v8m0 2v6m0 3v6m0 1v2m0 1v7m0 2v3m0 4v3m0 2v2m0 5v4m0 6v7m0 4v8m0 1v4m0 3v2m0 3v2m0 2v1m0 9v2m0 1v6m0 2v3m0 27v8m0 2v4m0 3v7m0 4v10m0 4v5m0 3v6m0 4v6m0 9v33m0 13v6m0 2v12m0 8v4m0 4v3m0 1v8m0 8v3m0 2v9m0 3v2"/>
<path class="c53" d="M290 974v2m0 4v4m0 27v2m0 47v2m0 24v4m0 28v4m0 9v2m0 45v2m0 18v2m0 40v2m0 48v1m0 28v1m0 22v2m0 129v5m0 49v4m0 7v2"/>
<path class="c55" d="M290 987v1m0 48v6m0 132v4m0 2v2m0 8v2m0 20v2m0 31v4m0 89v4m0 14v1m0 41v1m0 67v4m0 61v4"/>
<path class="c59" d="M290 1009v2m0 92v1m0 6v3m0 82v3m0 31v1m0 39v2m0 77v2m0 49v1m0 6v1m0 19v5m0 70v2m0 8v2m0 5v1"/>
<path class="c48" d="M290 1024v3m0 86v1m0 86v4m0 16v3m0 44v2m0 31v3m0 23v2m0 38v2m0 14v2m0 119v4m0 6v2"/>
<path class="c54" d="M290 1051v1m0 200v2m0 5v2m0 4v2m0 38v2m0 1v2m0 44v2m0 16v3m0 9v2m0 21v1m0 64v1m0 26v2m0 50v1"/>
<path class="c52" d="M290 1104v2m0 18v4m0 104v1m0 98v2m0 17v4m0 60v4m0 6v2m0 44v1m0 78v2"/>
<path class="c57" d="M290 1152v4m0 15v2m0 14v2m0 123v4m0 17v3m0 8v4m0 48v2m0 87v2"/>
<path class="c50" d="M290 1170v1m0 85v3m0 19v4m0 13v3m0 12v2m0 4v1m0 19v2m0 19v1m0 47v1m0 25v2m0 38v1m0 6v1"/>
</g>
<g stroke-width="15">
<path class="c60" d="M376.5 169v1m0 349v1"/>
<path class="c57" d="M376.5 299v1m0 1116v1m0 14v1m0 59v1"/>
<path class="c58" d="M376.5 981v1m0 177v1"/>
<path class="c54" d="M376.5 1064v1"/>
</g>
<g stroke-width="14">
<path class="c58" d="M391 169v1m0 129v1m0 45v1m0 158v1m0 404v1"/>
<path class="c57" d="M391 455v1m0 63v1m0 911v1"/>
<path class="c55" d="M391 477v1m0 489v1m0 13v1m0 177v1"/>
<path class="c54" d="M391 740v1m0 59v1m0 263v1m0 351v1m0 74v1"/>
<path class="c60" d="M391 999v1m0 354v1"/>
</g>
<g stroke-width="11">
<path class="c57" d="M403.5 140v1m0 119v1m0 38v1m0 151v1m0 55v1m0 11v1m0 37v1m0 381v1m0 60v1m0 19v1m0 15v1m0 39v1m0 48v1m0 153v1"/>
<path class="c55" d="M403.5 143v1m0 201v2m0 47v1m0 44v1m0 64v1m0 9v1m0 66v1m0 109v1m0 7v1m0 25v1m0 74v1m0 47v1m0 17v1m0 100v1m0 26v1m0 11v1m0 38v1m0 2v1m0 15v1m0 9v1m0 269v1m0 71v1m0 62v1"/>
<path class="c54" d="M403.5 145v1m0 130v1m0 96v1m0 18v1m0 381v1m0 28v1m0 19v1m0 10v1m0 74v1m0 2v1m0 14v1m0 6v1m0 22v2m0 55v1m0 13v1m0 95v1m0 29v1m0 58v1m0 62v1m0 169v1m0 44v1m0 11v1"/>
<path class="c58" d="M403.5 164v1m0 290v1m0 21v1m0 11v1m0 203v1m0 30v1m0 108v1m0 13v1m0 5v1m0 26v1m0 11v1m0 12v1m0 29v1m0 20v1m0 12v1m0 42v1m0 34v1m0 56v1m0 54v1m0 314v1"/>
<path class="c60" d="M403.5 169v1m0 61v1m0 463v1m0 5v1m0 38v1m0 78v1m0 38v1m0 34v1m0 5v1m0 81v1m0 17v1m0 29v1m0 87v1m0 4v1m0 231v1m0 76v1m0 109v1"/>
<path class="c63" d="M403.5 180v15m0 346v16m0 1v9m0 1v13m0 1v108"/>
<path class="c59" d="M403.5 567v1"/>
</g>
<g stroke-width="11">
<path class="c55" d="M414.5 123v1m0 35v1m0 51v1m0 64v1m0 28v1m0 40v1m0 22v1m0 51v1m0 17v1m0 37v1m0 46v1m0 1v1m0 18v1m0 145v1m0 6v1m0 4v1m0 8v1m0 16v1m0 45v1m0 57v1m0 3v1m0 6v1m0 14v2m0 8v1m0 3v1m0 17v1m0 6v1m0 8v1m0 1v1m0 4v1m0 18v3m0 3v2m0 14v1m0 2v1m0 13v1m0 5v1m0 2v1m0 12v1m0 5v1m0 2v1m0 18v1m0 2v1m0 3v1m0 15v1m0 1v1m0 13v3m0 5v1m0 1v1m0 4v1m0 1v3m0 13v2m0 16v1m0 1v1m0 10v1m0 5v1m0 6v1m0 12v1m0 8v1m0 4v1m0 4v1m0 23v1m0 7v1m0 17v1m0 43v1m0 67v1m0 11v1m0 81v1m0 10v1m0 8v1m0 7v1m0 3v2m0 14v1m0 33v2"/>
<path class="c58" d="M414.5 130v1m0 14v1m0 29v1m0 34v1m0 28v1m0 22v1m0 160v1m0 90v1m0 4v1m0 170v1m0 6v1m0 1v1m0 10v1m0 4v1m0 8v1m0 45v1m0 27v1m0 10v1m0 18v1m0 2v1m0 13v1m0 6v2m0 4v1m0 7v1m0 3v1m0 5v1m0 4v1m0 15v1m0 12v1m0 12v1m0 5v1m0 11v1m0 14v1m0 12v1m0 5v1m0 3v1m0 2v1m0 3v1m0 11v1m0 54v1m0 1v1m0 8v2m0 7v1m0 3v1m0 5v1m0 12v1m0 1v1m0 5v1m0 12v1m0 18v1m0 9v1m0 35v1m0 34v1m0 136v1m0 66v1m0 9v1m0 47v1m0 23v1m0 44v1"/>
<path class="c57" d="M414.5 136v1m0 20v1m0 6v1m0 95v1m0 18v1m0 15v1m0 43v1m0 5v1m0 40v1m0 120v1m0 38v1m0 26v1m0 1v1m0 117v1m0 31v1m0 32v1m0 2v1m0 5v1m0 22v1m0 12v1m0 10v1m0 17v1m0 10v1m0 4v1m0 5v1m0 10v1m0 9v1m0 1v1m0 7v1m0 7v1m0 5v1m0 11v1m0 10v1m0 1v1m0 7v1m0 4v2m0 11v1m0 6v1m0 29v1m0 3v2m0 6v1m0 1v1m0 4v1m0 1v1m0 11v1m0 27v1m0 5v1m0 13v1m0 6v1m0 10v1m0 29v1m0 2v1m0 22v1m0 16v1m0 39v1m0 49v1m0 2v2m0 22v1m0 180v1m0 23v1m0 59v1m0 1v1m0 2v1"/>
<path class="c60" d="M414.5 140v1m0 2v1m0 65v1m0 19v1m0 1v1m0 17v1m0 47v1m0 1v1m0 18v1m0 45v1m0 23v1m0 5v1m0 56v1m0 17v1m0 14v1m0 4v2m0 13v1m0 190v1m0 5v1m0 21v1m0 13v1m0 2v1m0 7v1m0 2v1m0 1v1m0 20v1m0 3v1m0 34v1m0 3v1m0 1v1m0 3v2m0 1v1m0 7v1m0 3v1m0 8v1m0 14v1m0 1v1m0 23v1m0 14v1m0 4v1m0 3v1m0 33v2m0 19v1m0 2v1m0 47v1m0 5v1m0 1v1m0 1v1m0 7v1m0 23v1m0 13v1m0 24v1m0 1v1m0 1v1m0 7v1m0 12v1m0 29v1m0 14v1m0 8v1m0 1v1m0 32v1m0 43v1m0 44v1m0 8v1m0 5v1m0 58v2m0 4v1m0 26v1m0 10v1m0 66v1m0 36v1m0 1v1m0 8v1"/>
<path class="c54" d="M414.5 152v1m0 9v1m0 6v1m0 56v1m0 146v1m0 18v1m0 17v1m0 44v1m0 67v1m0 3v1m0 174v1m0 3v1m0 1v1m0 12v1m0 14v1m0 5v1m0 42v1m0 10v1m0 3v1m0 20v1m0 18v1m0 9v1m0 6v1m0 9v1m0 12v1m0 11v1m0 1v1m0 6v1m0 3v1m0 7v1m0 1v1m0 4v1m0 6v1m0 49v1m0 7v1m0 11v1m0 11v1m0 2v1m0 1v1m0 12v1m0 69v1m0 2v1m0 5v1m0 1v1m0 13v1m0 7v1m0 9v1m0 16v1m0 31v1m0 3v1m0 3v1m0 67v1m0 13v1m0 30v1m0 19v1m0 4v1m0 32v1m0 47v1m0 25v1m0 48v1m0 15v1"/>
<path class="c63" d="M414.5 180v15m0 346v4m0 2v16m0 1v9m0 1v1m0 1v113"/>
<path class="c59" d="M414.5 563v1m0 125v1"/>
</g>
<g stroke-width="10">
<path class="c63" d="M425 118v2m0 11v2m0 20v1m0 9v1m0 14v17m0 7v1m0 1v1m0 3v1m0 1v2m0 1v1m0 1v1m0 2v3m0 1v1m0 3v4m0 8v1m0 2v4m0 2v1m0 3v1m0 1v3m0 2v1m0 4v1m0 5v1m0 1v4m0 17v2m0 2v2m0 1v6m0 7v3m0 11v1m0 2v8m0 1v2m0 1v2m0 2v1m0 3v1m0 2v2m0 2v1m0 8v2m0 1v1m0 3v1m0 8v2m0 1v2m0 1v2m0 21v1m0 6v1m0 14v2m0 3v3m0 1v4m0 8v3m0 1v1m0 13v2m0 2v3m0 3v2m0 2v2m0 2v1m0 21v1m0 2v1m0 4v1m0 1v1m0 7v1m0 6v3m0 3v2m0 8v4m0 2v1m0 1v7m0 1v1m0 5v18m0 1v6m0 1v91m0 10v4m0 8v2m0 3v1m0 12v1m0 13v1m0 1v3m0 1v1m0 2v1m0 4v4m0 1v2m0 2v1m0 8v1m0 21v1m0 3v1m0 3v1m0 1v5m0 6v1m0 3v2m0 1v3m0 6v2m0 1v2m0 1v1m0 16v2m0 3v1m0 10v1m0 34v1m0 6v1m0 2v6m0 4v1m0 7v2m0 2v1m0 7v1m0 4v1m0 1v1m0 16v1m0 10v1m0 5v1m0 23v2m0 23v1m0 3v1m0 1v2m0 3v1m0 1v1m0 1v1m0 28v1m0 14v1m0 2v1m0 17v1m0 1v1m0 2v3m0 30v5m0 14v1m0 4v2m0 6v2m0 1v1m0 1v4m0 1v2m0 2v2m0 1v1m0 21v1m0 2v2m0 1v3m0 6v1m0 1v1m0 4v2m0 6v2m0 2v1m0 20v1m0 7v3m0 2v2m0 1v1m0 1v2m0 1v1m0 1v2m0 1v1m0 15v1m0 1v11m0 5v3m0 3v1m0 11v1m0 9v1m0 15v1m0 1v1m0 5v1m0 24v2m0 2v1m0 1v6m0 1v1m0 3v2m0 4v3m0 18v2m0 1v6m0 1v4m0 1v1m0 4v2m0 1v1m0 1v3m0 6v1m0 3v1m0 10v3m0 2v4m0 1v1m0 2v5m0 2v1m0 2v1"/>
<path class="c59" d="M425 120v2m0 6v1m0 26v1m0 8v1m0 12v1m0 20v1m0 6v1m0 19v1m0 20v1m0 3v1m0 5v1m0 19v1m0 7v1m0 20v1m0 1v2m0 10v2m0 2v1m0 16v1m0 19v1m0 2v1m0 10v1m0 11v1m0 3v1m0 2v1m0 17v1m0 4v1m0 7v1m0 5v1m0 16v1m0 12v1m0 12v1m0 13v1m0 3v1m0 5v1m0 2v1m0 3v1m0 2v1m0 31v1m0 9v1m0 160v1m0 4v1m0 13v1m0 7v1m0 2v1m0 1v1m0 7v1m0 4v1m0 10v1m0 20v1m0 3v1m0 13v1m0 24v1m0 19v1m0 16v1m0 8v1m0 11v1m0 40v1m0 6v1m0 4v1m0 4v1m0 12v1m0 48v1m0 5v1m0 7v1m0 16v1m0 8v1m0 7v1m0 28v1m0 10v2m0 20v1m0 27v2m0 5v1m0 13v1m0 24v1m0 18v1m0 5v1m0 27v1m0 39v1m0 3v1m0 6v1m0 9v1m0 8v1m0 27v1m0 15v1m0 25v2m0 6v1m0 9v1m0 4v1m0 31v1m0 18v1m0 22v1m0 4v1m0 5v1m0 1v1m0 17v1m0 34v1"/>
<path class="c52" d="M425 122v1m0 20v1m0 14v2m0 10v1m0 1v1m0 22v1m0 74v1m0 18v1m0 68v1m0 30v1m0 103v1m0 31v1m0 1v1m0 228v1m0 16v1m0 16v1m0 64v1m0 27v1m0 20v1m0 21v1m0 45v1m0 3v2m0 19v1m0 21v1m0 50v1m0 15v1m0 3v2m0 8v1m0 87v1m0 24v1m0 17v1m0 36v1m0 47v1m0 35v1m0 4v1m0 47v1m0 3v1m0 9v1m0 31v1m0 1v1m0 4v1m0 50v1m0 41v1m0 1v1"/>
<path class="c49" d="M425 123v1m0 154v2m0 1v2m0 131v1m0 48v1m0 275v1m0 56v1m0 61v1m0 144v1m0 14v1m0 49v2m0 41v1m0 28v1m0 73v1m0 153v1m0 29v1m0 107v1"/>
<path class="c60" d="M425 124v1m0 12v1m0 16v1m0 62v1m0 5v1m0 8v1m0 24v1m0 3v1m0 2v1m0 18v1m0 2v1m0 4v1m0 17v1m0 7v1m0 74v1m0 7v1m0 3v1m0 3v2m0 8v2m0 9v1m0 15v1m0 10v1m0 11v1m0 1v1m0 9v1m0 2v1m0 26v1m0 6v1m0 13v1m0 8v1m0 3v1m0 3v1m0 2v1m0 19v1m0 1v1m0 121v1m0 1v1m0 2v1m0 10v1m0 15v1m0 2v1m0 5v1m0 9v1m0 22v1m0 6v1m0 49v1m0 4v1m0 39v1m0 1v1m0 38v1m0 5v1m0 34v1m0 36v1m0 15v1m0 14v1m0 15v2m0 2v1m0 36v1m0 1v1m0 23v1m0 12v1m0 34v1m0 10v1m0 8v1m0 7v1m0 4v1m0 33v1m0 8v1m0 5v1m0 12v1m0 2v1m0 3v1m0 16v1m0 19v1m0 3v1m0 13v1m0 3v2m0 4v1m0 22v1m0 4v1m0 13v1m0 14v1m0 24v2m0 20v1m0 11v1m0 12v1m0 69v1m0 7v1m0 23v1"/>
<path class="c55" d="M425 125v1m0 13v1m0 20v1m0 4v1m0 5v1m0 1v1m0 2v1m0 26v1m0 58v1m0 43v1m0 14v2m0 1v1m0 19v1m0 30v1m0 1v1m0 1v1m0 32v1m0 23v1m0 93v1m0 10v1m0 50v1m0 98v1m0 4v1m0 8v2m0 16v1m0 1v2m0 48v1m0 6v2m0 35v1m0 13v2m0 12v1m0 9v1m0 19v1m0 2v1m0 13v1m0 1v1m0 34v1m0 2v1m0 13v2m0 20v1m0 4v1m0 3v2m0 29v1m0 6v1m0 8v1m0 4v1m0 11v1m0 29v1m0 24v1m0 13v1m0 22v1m0 9v1m0 4v1m0 24v1m0 11v1m0 1v1m0 18v1m0 1v1m0 9v1m0 53v1m0 36v1m0 46v1m0 6v1m0 7v2m0 4v1m0 17v1m0 6v1m0 38v1m0 8v1m0 52v1m0 32v1m0 3v1m0 3v1"/>
<path class="c51" d="M425 126v1m0 20v1m0 88v1m0 58v1m0 130v1m0 22v1m0 14v1m0 33v1m0 209v1m0 15v1m0 49v1m0 20v1m0 25v1m0 23v1m0 44v1m0 1v1m0 4v1m0 66v1m0 2v1m0 32v1m0 93v1m0 12v1m0 57v1m0 2v1m0 12v1m0 59v1m0 25v1m0 1v1m0 9v1m0 37v1m0 64v1m0 24v1m0 2v1m0 133v2m0 3v1m0 2v1"/>
<path class="c61" d="M425 127v1m0 12v1m0 34v1m0 24v1m0 6v1m0 1v1m0 2v1m0 18v1m0 3v1m0 4v1m0 4v1m0 3v1m0 2v1m0 14v1m0 7v1m0 11v1m0 2v1m0 46v1m0 9v1m0 2v1m0 3v1m0 6v2m0 1v1m0 5v1m0 5v1m0 14v1m0 15v1m0 20v1m0 2v1m0 2v1m0 26v1m0 28v1m0 10v1m0 6v1m0 6v1m0 12v1m0 41v1m0 136v1m0 4v1m0 6v1m0 23v1m0 13v1m0 5v1m0 3v1m0 2v1m0 7v2m0 14v1m0 3v1m0 18v1m0 20v1m0 2v1m0 21v1m0 1v1m0 12v1m0 2v1m0 37v1m0 20v1m0 4v1m0 5v1m0 8v1m0 4v2m0 16v1m0 51v1m0 83v1m0 4v1m0 31v2m0 12v2m0 53v1m0 17v1m0 60v1m0 7v1m0 8v1m0 18v1m0 29v2m0 15v1m0 4v1m0 18v1m0 29v1m0 14v1m0 22v1m0 1v1m0 16v1m0 12v1m0 5v1m0 18v1m0 6v1"/>
<path class="c56" d="M425 129v1m0 11v2m0 2v1m0 3v1m0 2v1m0 4v1m0 4v1m0 11v1m0 84v1m0 17v1m0 2v1m0 35v1m0 10v1m0 68v1m0 1v1m0 4v1m0 16v1m0 2v1m0 1v1m0 9v1m0 22v1m0 7v1m0 25v1m0 6v1m0 6v1m0 2v1m0 3v1m0 21v1m0 36v1m0 144v1m0 23v1m0 16v1m0 38v1m0 25v1m0 22v1m0 2v1m0 6v1m0 13v1m0 14v1m0 7v1m0 17v1m0 20v1m0 19v1m0 5v1m0 22v1m0 5v1m0 36v1m0 24v1m0 7v1m0 7v1m0 5v1m0 2v1m0 20v1m0 18v1m0 15v2m0 1v1m0 2v1m0 12v1m0 14v1m0 19v1m0 21v1m0 16v2m0 13v1m0 3v1m0 15v1m0 18v1m0 8v1m0 1v1m0 33v1m0 25v1m0 4v1m0 15v1m0 7v1m0 42v1m0 42v1m0 19v1m0 10v1m0 2v1m0 4v1m0 20v1m0 16v2"/>
<path class="c57" d="M425 130v1m0 3v3m0 59v2m0 26v1m0 12v1m0 1v1m0 75v1m0 30v1m0 12v1m0 11v1m0 8v1m0 2v1m0 13v1m0 3v1m0 4v1m0 8v1m0 43v1m0 19v1m0 16v1m0 6v1m0 18v1m0 23v1m0 12v1m0 39v1m0 116v1m0 16v1m0 37v1m0 9v1m0 2v1m0 16v1m0 13v1m0 2v1m0 24v2m0 3v1m0 23v1m0 6v1m0 4v1m0 10v1m0 6v1m0 10v1m0 1v2m0 20v1m0 5v1m0 10v1m0 6v1m0 7v1m0 1v1m0 10v1m0 9v1m0 1v1m0 34v2m0 5v1m0 5v1m0 33v1m0 10v1m0 13v1m0 1v1m0 28v1m0 6v1m0 2v1m0 1v1m0 9v1m0 31v1m0 7v1m0 8v1m0 12v1m0 4v1m0 4v2m0 27v1m0 6v1m0 3v1m0 15v1m0 40v1m0 1v1m0 25v1m0 2v1m0 20v1m0 15v1m0 20v3m0 3v1m0 5v1m0 11v1m0 5v1m0 12v1m0 40v1m0 3v1m0 11v1m0 22v1m0 3v1"/>
<path class="c58" d="M425 133v1m0 4v1m0 75v1m0 6v1m0 8v1m0 17v1m0 17v1m0 31v1m0 11v1m0 17v1m0 14v1m0 34v1m0 20v1m0 27v1m0 37v1m0 1v1m0 10v1m0 37v1m0 17v1m0 10v1m0 176v1m0 5v1m0 6v1m0 16v2m0 26v1m0 4v1m0 28v1m0 1v1m0 15v1m0 2v1m0 15v1m0 14v1m0 1v2m0 33v1m0 1v1m0 2v1m0 19v1m0 4v1m0 10v1m0 28v1m0 15v1m0 14v1m0 2v1m0 42v1m0 12v2m0 10v1m0 3v1m0 3v1m0 31v1m0 7v1m0 5v1m0 7v2m0 9v1m0 17v1m0 2v1m0 9v1m0 22v1m0 6v1m0 63v1m0 9v1m0 6v1m0 8v1m0 20v1m0 3v1m0 38v1m0 16v1m0 13v1m0 31v1m0 10v1m0 19v1m0 4v1m0 4v1m0 33v1m0 45v1"/>
<path class="c53" d="M425 144v1m0 3v1m0 1v1m0 15v1m0 121v1m0 5v1m0 118v1m0 80v1m0 7v1m0 20v2m0 7v1m0 161v1m0 77v1m0 109v1m0 8v1m0 8v1m0 87v1m0 4v1m0 1v1m0 15v1m0 8v1m0 11v1m0 55v1m0 21v1m0 23v1m0 87v1m0 17v1m0 8v1m0 14v1m0 5v1m0 4v2m0 41v1m0 80v2m0 15v1m0 33v1m0 56v1m0 2v1"/>
<path class="c54" d="M425 146v1m0 4v1m0 4v1m0 12v1m0 155v1m0 47v1m0 21v1m0 56v1m0 35v1m0 6v1m0 30v1m0 23v1m0 158v1m0 10v1m0 67v1m0 3v1m0 11v1m0 3v1m0 77v1m0 11v1m0 7v1m0 2v1m0 25v1m0 27v1m0 14v1m0 5v1m0 13v1m0 10v1m0 2v1m0 10v1m0 1v1m0 7v1m0 47v2m0 22v1m0 3v1m0 3v1m0 59v1m0 2v1m0 1v1m0 33v1m0 26v1m0 16v1m0 15v1m0 76v1m0 5v2m0 9v2m0 10v1m0 2v1m0 1v1m0 22v1m0 8v1m0 48v1m0 24v1m0 18v1m0 23v1"/>
<path class="c62" d="M425 161v1m0 39v1m0 4v1m0 9v1m0 16v1m0 26v1m0 7v1m0 16v1m0 25v1m0 36v1m0 2v1m0 3v1m0 1v1m0 9v1m0 1v1m0 32v1m0 2v1m0 34v1m0 5v1m0 22v1m0 4v1m0 9v1m0 20v1m0 6v1m0 5v1m0 1v1m0 26v1m0 8v2m0 9v1m0 1v1m0 128v2m0 32v1m0 1v1m0 9v1m0 41v1m0 6v1m0 6v1m0 1v1m0 3v1m0 54v2m0 26v1m0 24v1m0 12v1m0 28v1m0 5v1m0 23v1m0 18v1m0 7v1m0 20v1m0 10v1m0 6v1m0 1v1m0 12v1m0 48v1m0 4v1m0 6v1m0 22v1m0 101v1m0 33v1m0 13v1m0 25v1m0 11v1m0 1v1m0 18v1m0 3v1m0 24v1m0 5v1m0 37v1m0 13v1m0 1v1m0 10v2m0 12v1m0 9v1m0 40v1m0 7v1"/>
<path class="c43" d="M425 167v1"/>
<path class="c50" d="M425 168v1m0 65v1m0 30v1m0 128v1m0 26v1m0 111v1m0 187v1m0 16v1m0 50v1m0 84v1m0 12v1m0 11v1m0 7v1m0 39v1m0 20v1m0 59v1m0 33v1m0 3v1m0 10v1m0 11v1m0 18v1m0 32v1m0 13v1m0 43v1m0 18v1m0 11v1m0 34v1m0 14v2m0 102v1m0 69v1"/>
<path class="c48" d="M425 199v1m0 248v1m0 244v1m0 160v1m0 144v1m0 2v1m0 24v1m0 33v1m0 10v1m0 101v1m0 73v1m0 8v1m0 20v1"/>
<path class="c46" d="M425 318v1m0 533v1m0 48v1m0 94v1m0 61v1m0 84v1m0 71v1"/>
<path class="c47" d="M425 422v1m0 27v1m0 241v1m0 129v1m0 237v1m0 31v1m0 168v1m0 242v1"/>
<path class="c44" d="M425 451v1m0 401v1m0 563v1"/>
<path class="c45" d="M425 462v1m0 538v1m0 57v1"/>
<path class="c39" d="M425 1093v1"/>
<path class="c41" d="M425 1106v1"/>
</g>
<g stroke-width="9">
<path class="c56" d="M434.5 118v1m0 11v1m0 6v2m0 19v1m0 4v1m0 49v1m0 33v1m0 14v1m0 5v1m0 7v1m0 20v1m0 23v1m0 14v1m0 1v1m0 8v1m0 22v1m0 1v1m0 7v1m0 9v1m0 13v2m0 11v1m0 22v1m0 20v1m0 3v1m0 21v1m0 12v2m0 22v1m0 28v1m0 7v1m0 7v1m0 19v1m0 108v1m0 6v1m0 8v1m0 9v1m0 16v1m0 25v1m0 13v1m0 18v1m0 2v1m0 26v1m0 19v1m0 2v1m0 35v1m0 31v1m0 57v1m0 51v1m0 21v1m0 9v1m0 65v1m0 24v1m0 14v1m0 7v1m0 14v1m0 13v1m0 47v1m0 18v1m0 8v1m0 12v1m0 4v1m0 8v2m0 5v2m0 4v1m0 12v1m0 5v1m0 19v1m0 11v1m0 67v1m0 36v2m0 10v1m0 9v1m0 31v1m0 1v1m0 1v1m0 7v1"/>
<path class="c55" d="M434.5 119v1m0 22v1m0 21v1m0 7v1m0 2v1m0 20v1m0 33v1m0 5v1m0 6v1m0 6v1m0 36v1m0 17v1m0 10v1m0 24v1m0 13v2m0 1v1m0 8v2m0 2v1m0 13v1m0 1v1m0 19v1m0 3v1m0 37v1m0 43v1m0 10v1m0 3v1m0 13v1m0 27v1m0 1v1m0 10v1m0 17v1m0 124v1m0 3v1m0 8v2m0 47v2m0 9v1m0 26v3m0 8v1m0 11v1m0 3v1m0 1v1m0 31v1m0 23v1m0 43v1m0 5v1m0 22v2m0 56v1m0 10v1m0 93v1m0 16v1m0 6v1m0 43v1m0 20v1m0 8v1m0 16v1m0 15v1m0 9v1m0 9v1m0 1v1m0 5v1m0 28v1m0 4v1m0 12v1m0 3v1m0 2v1m0 3v1m0 2v1m0 6v1m0 65v1m0 23v1m0 17v1m0 38v1m0 1v1m0 13v1m0 3v1m0 6v1m0 22v1"/>
<path class="c49" d="M434.5 120v2m0 19v1m0 25v2m0 79v1m0 51v2m0 4v1m0 56v1m0 63v1m0 51v1m0 32v1m0 177v1m0 6v1m0 3v1m0 29v1m0 13v1m0 2v1m0 9v1m0 14v1m0 8v1m0 3v1m0 8v1m0 20v1m0 51v1m0 13v1m0 15v1m0 30v1m0 4v1m0 14v1m0 7v1m0 11v1m0 18v1m0 14v1m0 28v1m0 25v1m0 5v1m0 9v1m0 3v1m0 4v1m0 8v1m0 5v1m0 9v1m0 32v1m0 18v1m0 6v1m0 20v1m0 37v1m0 1v4m0 9v1m0 10v1m0 22v1m0 12v1m0 63v1m0 4v1m0 10v1m0 2v1m0 4v2m0 2v1m0 2v1m0 2v2m0 3v1m0 15v1m0 2v1m0 42v1m0 18v1m0 37v1m0 42v1"/>
<path class="c42" d="M434.5 122v1m0 272v1m0 60v1m0 281v1m0 17v1m0 121v1m0 14v1m0 15v1m0 27v1m0 38v1m0 42v1m0 50v1m0 39v1m0 8v1m0 304v1"/>
<path class="c46" d="M434.5 123v1m0 75v1m0 34v1m0 56v1m0 11v1m0 58v1m0 33v2m0 27v1m0 22v1m0 2v1m0 21v1m0 6v1m0 212v2m0 41v1m0 2v1m0 218v1m0 1v2m0 6v1m0 6v1m0 34v1m0 1v1m0 14v1m0 17v1m0 34v1m0 8v1m0 13v1m0 30v1m0 31v1m0 22v1m0 48v2m0 59v1m0 50v1m0 52v1m0 46v1"/>
<path class="c57" d="M434.5 124v1m0 3v1m0 18v2m0 4v1m0 5v2m0 10v1m0 45v1m0 24v1m0 2v1m0 26v1m0 36v1m0 1v1m0 5v1m0 1v1m0 8v1m0 6v1m0 4v1m0 9v1m0 25v1m0 4v1m0 2v1m0 14v1m0 9v1m0 3v1m0 4v1m0 17v1m0 9v1m0 22v2m0 27v1m0 46v1m0 18v1m0 22v2m0 1v1m0 108v1m0 23v1m0 25v1m0 41v1m0 29v1m0 4v1m0 4v1m0 13v1m0 2v1m0 14v2m0 5v1m0 53v1m0 18v1m0 6v1m0 4v1m0 78v1m0 149v1m0 1v1m0 3v2m0 32v1m0 12v1m0 5v1m0 28v1m0 1v1m0 2v1m0 18v1m0 11v1m0 20v1m0 16v1m0 22v1m0 23v2m0 35v1m0 2v1m0 8v1m0 4v1m0 1v1m0 9v1m0 1v1m0 24v1m0 12v1m0 19v1m0 10v1m0 12v1m0 2v1"/>
<path class="c52" d="M434.5 125v1m0 8v1m0 1v1m0 12v1m0 47v1m0 13v1m0 12v2m0 35v1m0 33v1m0 73v1m0 33v1m0 19v1m0 4v1m0 15v1m0 21v1m0 9v1m0 15v1m0 6v1m0 9v1m0 16v1m0 2v2m0 1v2m0 161v1m0 11v1m0 17v1m0 26v1m0 4v1m0 2v1m0 5v1m0 21v1m0 13v1m0 19v1m0 20v1m0 10v2m0 28v1m0 18v1m0 24v1m0 1v1m0 8v1m0 34v1m0 5v2m0 7v1m0 4v1m0 9v2m0 18v1m0 19v1m0 6v1m0 13v1m0 16v1m0 1v1m0 11v2m0 16v1m0 6v1m0 23v1m0 13v1m0 1v1m0 25v1m0 12v2m0 57v1m0 46v1m0 12v1m0 28v1m0 17v1m0 23v1m0 11v1m0 5v1m0 3v1m0 12v1m0 5v1m0 6v1m0 17v2m0 5v1m0 5v1m0 26v1m0 15v1m0 28v1"/>
<path class="c54" d="M434.5 126v1m0 8v1m0 19v1m0 42v1m0 11v1m0 20v1m0 3v1m0 2v1m0 1v1m0 63v1m0 2v1m0 29v1m0 23v1m0 31v1m0 18v1m0 6v1m0 23v1m0 6v1m0 68v2m0 4v1m0 2v1m0 10v1m0 19v1m0 7v1m0 128v1m0 24v1m0 18v1m0 6v1m0 13v1m0 13v1m0 18v1m0 6v1m0 11v2m0 17v1m0 9v1m0 17v1m0 39v1m0 13v1m0 23v1m0 3v1m0 27v1m0 19v1m0 30v1m0 49v1m0 54v1m0 1v1m0 18v2m0 21v1m0 1v1m0 1v1m0 5v1m0 28v1m0 22v1m0 3v1m0 8v1m0 2v1m0 2v1m0 15v1m0 35v1m0 9v1m0 10v1m0 7v1m0 10v1m0 18v1m0 2v1m0 15v1m0 10v1m0 35v1m0 11v1m0 44v1m0 6v1m0 18v1m0 23v1"/>
<path class="c58" d="M434.5 127v1m0 17v1m0 24v1m0 44v1m0 11v1m0 18v1m0 28v1m0 22v1m0 9v1m0 23v1m0 18v1m0 49v2m0 28v1m0 35v1m0 3v1m0 5v1m0 25v1m0 7v1m0 60v1m0 1v1m0 5v1m0 10v1m0 112v1m0 6v1m0 53v1m0 4v1m0 6v1m0 47v1m0 26v1m0 6v1m0 2v1m0 3v1m0 52v1m0 24v1m0 1v1m0 6v1m0 9v1m0 21v1m0 138v1m0 5v1m0 48v1m0 5v1m0 17v1m0 40v1m0 49v1m0 26v1m0 48v1m0 13v1m0 15v2m0 20v1m0 9v1m0 2v1m0 12v1m0 16v1m0 2v1m0 47v1m0 6v1m0 9v1"/>
<path class="c53" d="M434.5 129v1m0 1v2m0 21v1m0 18v1m0 45v1m0 3v1m0 5v1m0 93v1m0 5v1m0 13v1m0 13v1m0 2v1m0 17v2m0 3v1m0 5v1m0 16v1m0 3v1m0 5v1m0 30v1m0 36v1m0 17v1m0 43v1m0 15v1m0 149v1m0 31v1m0 14v1m0 18v1m0 1v1m0 9v1m0 8v1m0 18v1m0 25v1m0 4v1m0 15v1m0 17v1m0 26v1m0 5v1m0 3v1m0 5v1m0 39v1m0 56v1m0 11v1m0 11v1m0 51v1m0 17v1m0 7v1m0 5v1m0 17v2m0 4v1m0 79v1m0 17v1m0 44v1m0 2v2m0 1v2m0 12v1m0 36v1m0 2v1m0 15v1m0 7v1m0 6v1m0 46v1m0 9v1m0 23v1m0 2v1m0 17v1m0 1v1m0 12v2m0 6v1m0 7v1m0 19v1m0 4v1m0 4v1"/>
<path class="c47" d="M434.5 133v1m0 99v1m0 5v1m0 39v1m0 2v1m0 103v1m0 42v1m0 24v1m0 8v1m0 8v1m0 1v1m0 48v1m0 167v1m0 8v1m0 26v1m0 22v1m0 23v1m0 40v1m0 59v1m0 19v2m0 7v1m0 26v1m0 63v1m0 11v1m0 21v2m0 6v1m0 24v1m0 46v1m0 5v1m0 2v1m0 17v1m0 2v2m0 11v2m0 4v1m0 3v1m0 18v1m0 17v1m0 8v1m0 3v1m0 132v1m0 68v1m0 37v1m0 29v1m0 6v1m0 5v1"/>
<path class="c60" d="M434.5 139v1m0 38v1m0 24v1m0 3v2m0 13v1m0 26v1m0 5v1m0 1v1m0 7v1m0 59v1m0 5v1m0 22v1m0 4v1m0 4v1m0 67v1m0 9v1m0 132v1m0 8v1m0 1v1m0 5v1m0 1v1m0 123v1m0 32v1m0 193v1m0 16v1m0 94v1m0 88v1m0 28v1m0 47v1m0 36v1m0 22v1m0 23v1m0 3v1m0 19v1m0 144v1m0 38v1m0 8v1m0 15v1m0 7v1"/>
<path class="c59" d="M434.5 140v1m0 36v1m0 22v1m0 20v1m0 22v1m0 14v1m0 11v1m0 2v1m0 21v1m0 13v1m0 1v1m0 2v1m0 26v1m0 39v1m0 5v1m0 102v1m0 2v1m0 2v1m0 9v1m0 13v1m0 15v1m0 20v1m0 9v1m0 1v1m0 131v2m0 9v1m0 8v1m0 48v1m0 33v1m0 3v1m0 1v1m0 11v1m0 14v1m0 8v1m0 21v1m0 57v1m0 24v1m0 114v1m0 55v1m0 32v1m0 16v1m0 8v1m0 13v1m0 1v1m0 8v1m0 12v1m0 36v1m0 23v1m0 15v1m0 25v1m0 3v1m0 6v1m0 7v1m0 10v1m0 13v1m0 31v1m0 21v1m0 7v1m0 41v1m0 5v1m0 2v1m0 39v1m0 6v1m0 9v1"/>
<path class="c50" d="M434.5 143v1m0 18v1m0 57v1m0 56v1m0 2v1m0 9v1m0 2v2m0 7v1m0 41v1m0 29v1m0 2v1m0 13v2m0 27v1m0 3v1m0 50v1m0 2v1m0 2v1m0 6v1m0 21v1m0 44v1m0 4v1m0 18v1m0 137v1m0 12v1m0 3v1m0 7v1m0 3v1m0 8v1m0 20v1m0 12v1m0 3v1m0 3v1m0 14v1m0 58v1m0 1v1m0 11v2m0 7v1m0 6v2m0 15v1m0 13v1m0 3v1m0 10v1m0 6v1m0 1v1m0 29v1m0 59v1m0 1v1m0 24v1m0 3v1m0 13v1m0 2v1m0 18v1m0 6v1m0 21v1m0 20v1m0 4v1m0 94v2m0 14v1m0 34v1m0 34v1m0 6v1m0 6v1m0 11v1m0 9v1m0 18v1m0 8v1m0 2v1m0 10v1m0 9v1m0 5v1m0 20v1m0 16v1m0 2v1m0 23v1"/>
<path class="c51" d="M434.5 144v1m0 7v1m0 3v1m0 8v2m0 9v1m0 18v1m0 13v1m0 4v1m0 70v1m0 6v1m0 25v1m0 3v1m0 16v1m0 6v1m0 28v1m0 22v1m0 31v1m0 14v1m0 6v2m0 10v1m0 17v1m0 22v1m0 8v1m0 3v1m0 38v1m0 196v1m0 17v1m0 10v2m0 7v1m0 5v1m0 20v1m0 14v1m0 26v1m0 19v1m0 8v1m0 14v1m0 16v2m0 16v1m0 26v1m0 14v3m0 21v1m0 19v1m0 9v1m0 13v1m0 3v1m0 20v1m0 17v1m0 1v1m0 75v1m0 4v1m0 1v1m0 23v1m0 8v1m0 2v2m0 6v1m0 4v1m0 5v2m0 27v1m0 13v1m0 61v2m0 11v1m0 12v1m0 44v1m0 1v1m0 5v1m0 1v1m0 25v1m0 9v1m0 2v1m0 1v1m0 5v2m0 6v2m0 11v1m0 6v1m0 10v1m0 3v1m0 28v2m0 5v1m0 3v1"/>
<path class="c61" d="M434.5 146v1m0 10v1m0 3v1m0 54v1m0 1v1m0 7v1m0 33v1m0 3v1m0 80v1m0 68v1m0 121v1m0 41v1m0 4v1m0 1v1m0 224v1m0 13v1m0 11v1m0 4v1m0 214v1m0 136v1m0 10v1m0 12v1m0 32v1m0 4v1m0 28v1m0 27v1m0 12v1m0 4v1m0 41v1m0 153v1m0 23v1"/>
<path class="c44" d="M434.5 150v1m0 86v1m0 32v1m0 12v1m0 5v1m0 167v1m0 1v1m0 96v1m0 152v1m0 19v1m0 2v1m0 63v1m0 79v1m0 2v1m0 93v1m0 3v1m0 15v1m0 46v3m0 23v1m0 23v1m0 16v1m0 298v1m0 90v1"/>
<path class="c48" d="M434.5 151v1m0 17v1m0 4v1m0 37v1m0 75v1m0 84v1m0 20v1m0 26v2m0 37v1m0 45v1m0 10v1m0 9v1m0 26v1m0 160v1m0 21v1m0 5v1m0 9v1m0 31v1m0 1v1m0 68v1m0 23v1m0 7v1m0 3v1m0 4v1m0 14v1m0 2v1m0 32v1m0 10v1m0 65v1m0 12v1m0 20v1m0 16v1m0 2v1m0 1v1m0 3v1m0 30v1m0 15v2m0 1v1m0 1v1m0 19v1m0 6v2m0 28v1m0 2v1m0 20v1m0 21v1m0 24v1m0 122v1m0 34v1m0 15v1m0 14v1m0 28v1m0 18v1m0 10v1"/>
<path class="c63" d="M434.5 179v16m0 6v2m0 1v1m0 1v1m0 44v4m0 1v1m0 1v1m0 4v1m0 2v2m0 45v2m0 5v1m0 5v2m0 2v1m0 3v1m0 13v2m0 2v2m0 12v1m0 33v1m0 7v1m0 24v2m0 2v3m0 28v1m0 20v2m0 5v1m0 34v1m0 3v1m0 2v1m0 1v5m0 3v2m0 1v1m0 13v2m0 4v1m0 1v1m0 2v2m0 4v1m0 10v1m0 1v95m0 72v3m0 55v1m0 6v2m0 10v2m0 76v1m0 7v1m0 129v1m0 127v1m0 21v1m0 15v1m0 24v2m0 1v1m0 6v1m0 9v1m0 2v3m0 13v1m0 6v1m0 35v1m0 7v1m0 22v1m0 35v2m0 21v1m0 15v1m0 53v1m0 42v1"/>
<path class="c62" d="M434.5 205v1m0 22v1m0 12v1m0 27v1m0 3v1m0 50v1m0 8v1m0 31v1m0 49v1m0 19v1m0 5v1m0 43v2m0 8v1m0 38v1m0 12v1m0 289v1m0 8v1m0 4v1m0 99v1m0 170v1m0 96v1m0 67v1m0 1v3m0 1v1m0 32v1m0 33v1m0 36v2m0 126v1m0 3v1"/>
<path class="c45" d="M434.5 232v1m0 48v1m0 4v1m0 12v1m0 158v1m0 3v1m0 50v1m0 1v1m0 200v1m0 11v1m0 128v1m0 14v1m0 26v1m0 11v1m0 1v1m0 19v1m0 37v1m0 6v1m0 18v1m0 4v1m0 8v1m0 16v1m0 10v1m0 9v1m0 2v1m0 15v1m0 3v1m0 29v1m0 1v1m0 33v1m0 71v1m0 2v1m0 201v1m0 10v1m0 24v1m0 46v1m0 19v1"/>
<path class="c38" d="M434.5 278v1m0 628v1m0 64v1m0 41v1m0 2v1m0 69v1m0 17v1"/>
<path class="c41" d="M434.5 284v1m0 707v1m0 5v1m0 87v1m0 13v1m0 10v1"/>
<path class="c37" d="M434.5 426v1m0 308v1m0 264v1"/>
<path class="c43" d="M434.5 455v1m0 60v1m0 175v1m0 15v1m0 17v1m0 6v1m0 172v1m0 1v1m0 78v1m0 3v1m0 9v1m0 11v1m0 2v1m0 3v1m0 39v1m0 200v1m0 116v2m0 124v1"/>
<path class="c40" d="M434.5 483v1m0 320v1m0 72v1m0 118v1m0 64v1m0 7v1m0 42v1m0 30v1"/>
<path class="c35" d="M434.5 858v1m0 140v1m0 8v1m0 9v1"/>
<path class="c39" d="M434.5 874v1m0 12v1m0 155v1m0 361v1"/>
<path class="c33" d="M434.5 1009v1"/>
<path class="c31" d="M434.5 1015v1"/>
<path class="c36" d="M434.5 1088v1m0 12v1"/>
<path class="c32" d="M434.5 1106v1"/>
</g>
<g stroke-width="8">
<path class="c49" d="M443 118v1m0 10v1m0 3v1m0 8v1m0 1v1m0 15v1m0 5v1m0 3v1m0 1v1m0 6v1m0 26v2m0 13v1m0 13v1m0 16v1m0 11v1m0 1v1m0 1v1m0 16v1m0 20v1m0 3v1m0 28v1m0 51v1m0 2v1m0 21v1m0 27v1m0 1v1m0 8v1m0 1v1m0 12v1m0 26v1m0 21v1m0 1v1m0 11v1m0 11v1m0 157v1m0 20v1m0 34v1m0 6v1m0 1v1m0 29v1m0 74v1m0 1v1m0 43v1m0 10v1m0 12v1m0 41v1m0 48v2m0 19v1m0 15v1m0 79v1m0 2v1m0 24v1m0 16v1m0 13v2m0 16v1m0 4v1m0 2v1m0 16v1m0 31v1m0 3v1m0 12v1m0 24v1m0 6v1m0 62v1m0 73v1m0 10v1m0 8v1m0 6v1m0 21v1m0 1v1m0 7v1m0 8v1m0 3v2m0 3v1"/>
<path class="c51" d="M443 119v1m0 45v1m0 39v1m0 4v1m0 64v2m0 19v1m0 16v1m0 6v3m0 15v1m0 19v1m0 8v1m0 4v1m0 9v1m0 6v1m0 6v1m0 9v1m0 3v1m0 32v1m0 6v1m0 51v1m0 2v1m0 8v1m0 22v1m0 11v1m0 9v1m0 1v1m0 7v1m0 12v1m0 148v1m0 2v1m0 28v1m0 5v1m0 5v1m0 49v1m0 7v1m0 25v1m0 208v1m0 83v1m0 5v1m0 28v1m0 3v1m0 11v1m0 1v1m0 10v1m0 49v1m0 11v1m0 5v1m0 8v1m0 31v1m0 2v1m0 57v1m0 8v1m0 36v1m0 50v1m0 4v1m0 22v1m0 2v1m0 1v1"/>
<path class="c48" d="M443 120v1m0 19v1m0 30v1m0 30v1m0 5v1m0 21v2m0 4v1m0 8v1m0 34v1m0 9v1m0 13v1m0 6v1m0 12v1m0 28v1m0 5v1m0 16v2m0 17v1m0 22v1m0 16v1m0 12v1m0 3v2m0 15v1m0 20v1m0 13v1m0 6v1m0 36v1m0 13v1m0 150v1m0 3v1m0 11v1m0 7v1m0 14v1m0 9v1m0 47v1m0 23v1m0 20v1m0 14v1m0 34v1m0 4v1m0 13v1m0 2v1m0 18v1m0 74v1m0 1v1m0 27v1m0 18v1m0 26v1m0 4v1m0 53v1m0 6v1m0 8v1m0 4v1m0 2v2m0 12v1m0 7v1m0 3v1m0 8v1m0 14v1m0 4v1m0 8v1m0 15v1m0 1v2m0 12v1m0 10v1m0 2v1m0 5v1m0 21v1m0 17v1m0 12v1m0 16v1m0 7v1m0 45v1m0 17v1m0 25v1m0 9v1m0 2v1m0 17v1m0 1v1m0 29v2m0 23v1"/>
<path class="c46" d="M443 121v1m0 2v1m0 14v1m0 3v1m0 52v1m0 26v1m0 8v1m0 13v1m0 44v1m0 70v1m0 24v1m0 9v1m0 11v1m0 13v1m0 9v1m0 2v1m0 35v1m0 2v1m0 15v1m0 2v1m0 4v1m0 6v1m0 1v1m0 38v1m0 156v1m0 10v1m0 4v1m0 6v1m0 4v1m0 9v2m0 30v1m0 22v1m0 10v1m0 6v1m0 55v1m0 4v1m0 44v1m0 1v1m0 25v1m0 16v1m0 2v1m0 31v1m0 18v1m0 4v1m0 4v1m0 19v1m0 1v1m0 10v2m0 7v1m0 16v1m0 15v1m0 36v1m0 5v1m0 21v1m0 88v1m0 8v1m0 28v1m0 3v1m0 22v1m0 10v1m0 2v3m0 1v1m0 5v1m0 2v1m0 12v1m0 15v1m0 1v1m0 23v1m0 16v1m0 65v1m0 27v1m0 20v1m0 2v1"/>
<path class="c37" d="M443 122v1m0 111v1m0 167v1m0 379v1m0 97v1m0 4v1m0 65v1m0 23v1m0 6v1m0 5v1m0 11v1m0 44v1m0 39v1m0 7v1m0 37v2m0 147v1m0 124v1m0 37v1m0 3v1"/>
<path class="c44" d="M443 123v1m0 1v1m0 4v1m0 3v1m0 16v1m0 21v2m0 50v1m0 7v1m0 13v1m0 1v1m0 50v1m0 62v1m0 37v1m0 26v1m0 37v1m0 26v1m0 22v1m0 6v1m0 1v1m0 169v2m0 19v1m0 69v1m0 61v1m0 8v1m0 2v1m0 18v1m0 9v1m0 4v3m0 21v1m0 21v1m0 6v1m0 13v1m0 65v1m0 4v2m0 13v1m0 6v1m0 14v1m0 39v1m0 15v1m0 15v1m0 15v1m0 2v1m0 17v1m0 18v1m0 16v1m0 16v2m0 8v1m0 14v2m0 24v1m0 8v1m0 3v1m0 17v1m0 17v1m0 1v1m0 22v1m0 2v2m0 4v1m0 58v1m0 16v1m0 19v1m0 8v1m0 52v1m0 9v1m0 19v1"/>
<path class="c42" d="M443 126v1m0 22v1m0 5v2m0 40v1m0 5v1m0 46v1m0 19v1m0 11v1m0 26v1m0 9v1m0 40v1m0 51v1m0 38v1m0 9v1m0 18v1m0 224v1m0 72v1m0 43v1m0 21v1m0 21v1m0 11v1m0 18v1m0 3v1m0 14v1m0 9v1m0 2v1m0 6v1m0 25v1m0 33v1m0 1v1m0 5v1m0 2v1m0 11v1m0 6v1m0 10v1m0 1v1m0 2v1m0 5v2m0 27v1m0 2v1m0 2v1m0 8v1m0 5v1m0 9v1m0 46v1m0 9v1m0 163v1m0 24v1m0 3v1m0 9v1m0 20v1m0 59v1m0 36v1m0 14v1m0 4v1m0 1v1m0 25v1"/>
<path class="c54" d="M443 127v1m0 47v1m0 67v1m0 16v1m0 76v1m0 5v1m0 36v1m0 7v1m0 9v1m0 6v1m0 90v1m0 3v1m0 28v1m0 9v1m0 1v1m0 12v1m0 26v1m0 2v1m0 6v1m0 138v1m0 75v2m0 3v1m0 6v1m0 13v1m0 124v1m0 232v1m0 16v1m0 65v1m0 29v1m0 3v1m0 11v1m0 30v1m0 21v1m0 10v1m0 1v1m0 10v1m0 3v1m0 32v1m0 2v2m0 52v1m0 3v1m0 26v1m0 29v1"/>
<path class="c59" d="M443 128v1m0 75v1m0 128v1m0 2v1m0 29v1m0 171v1m0 57v1m0 227v1m0 2v1m0 370v1m0 75v1m0 119v1"/>
<path class="c47" d="M443 131v2m0 2v1m0 10v1m0 10v1m0 19v1m0 20v1m0 2v1m0 12v1m0 72v1m0 13v2m0 9v1m0 37v1m0 3v1m0 15v1m0 10v1m0 29v1m0 5v1m0 16v1m0 14v1m0 6v1m0 6v2m0 19v1m0 24v2m0 1v1m0 2v1m0 1v1m0 38v1m0 33v1m0 103v1m0 19v1m0 3v1m0 32v1m0 1v1m0 11v1m0 4v1m0 23v1m0 10v1m0 7v2m0 4v1m0 21v1m0 8v1m0 11v1m0 11v1m0 33v1m0 29v1m0 5v1m0 23v1m0 55v1m0 4v1m0 1v1m0 12v1m0 1v1m0 6v1m0 19v1m0 8v1m0 1v1m0 10v2m0 6v1m0 16v1m0 6v1m0 1v1m0 19v1m0 11v2m0 8v1m0 12v1m0 4v1m0 5v1m0 4v1m0 3v1m0 29v1m0 10v1m0 2v1m0 5v1m0 12v1m0 24v1m0 54v1m0 21v1m0 1v1m0 3v1m0 1v1m0 10v1m0 14v1m0 3v1m0 11v1m0 8v1m0 29v1m0 4v1m0 2v2m0 4v1m0 20v1m0 24v1"/>
<path class="c43" d="M443 136v1m0 11v1m0 1v1m0 2v1m0 22v1m0 18v1m0 3v1m0 67v1m0 9v1m0 8v1m0 1v1m0 4v1m0 14v1m0 42v1m0 34v1m0 43v1m0 23v1m0 16v1m0 1v1m0 11v1m0 205v1m0 44v1m0 21v1m0 1v1m0 10v1m0 1v1m0 5v1m0 11v3m0 48v1m0 4v1m0 1v1m0 2v2m0 2v1m0 4v1m0 38v1m0 70v1m0 2v1m0 2v1m0 38v1m0 26v1m0 34v1m0 44v1m0 6v1m0 14v3m0 40v1m0 38v1m0 15v1m0 25v1m0 46v1m0 26v1m0 29v1m0 16v1m0 18v1m0 1v2m0 3v1m0 22v1m0 4v2m0 9v1m0 22v1m0 21v1m0 4v1m0 30v2m0 7v1"/>
<path class="c52" d="M443 137v1m0 26v1m0 13v1m0 15v1m0 44v1m0 44v1m0 30v1m0 19v1m0 11v1m0 30v1m0 14v1m0 6v1m0 3v1m0 20v1m0 5v1m0 54v1m0 2v1m0 8v1m0 19v1m0 1v1m0 7v1m0 34v1m0 3v1m0 3v1m0 11v1m0 9v1m0 114v1m0 1v1m0 53v1m0 2v1m0 31v2m0 1v2m0 8v1m0 10v1m0 2v1m0 75v2m0 13v1m0 32v1m0 46v1m0 106v1m0 112v1m0 28v1m0 4v1m0 18v1m0 12v1m0 15v1m0 11v2m0 2v1m0 6v1m0 75v1m0 66v1m0 2v1m0 71v1"/>
<path class="c53" d="M443 138v1m0 72v1m0 3v2m0 5v1m0 21v1m0 10v2m0 4v1m0 10v1m0 43v1m0 8v1m0 20v1m0 2v1m0 5v1m0 23v1m0 12v1m0 48v1m0 5v1m0 86v1m0 7v2m0 11v1m0 36v1m0 116v1m0 44v1m0 62v1m0 10v1m0 119v1m0 172v1m0 63v1m0 15v1m0 45v1m0 2v1m0 53v1m0 3v1m0 67v1m0 15v1m0 9v1m0 1v1m0 68v1m0 18v1m0 3v1m0 53v1"/>
<path class="c45" d="M443 141v1m0 27v1m0 109v1m0 3v1m0 21v1m0 46v1m0 11v1m0 20v1m0 28v1m0 4v1m0 12v1m0 35v1m0 5v1m0 3v1m0 34v1m0 8v1m0 1v1m0 7v1m0 17v1m0 6v1m0 132v1m0 28v1m0 2v1m0 2v1m0 13v1m0 4v1m0 2v3m0 7v1m0 19v1m0 9v2m0 27v1m0 103v1m0 1v1m0 19v1m0 2v1m0 21v1m0 15v2m0 17v2m0 71v1m0 3v1m0 11v1m0 7v1m0 7v1m0 2v1m0 17v1m0 15v1m0 24v1m0 5v1m0 16v1m0 20v1m0 5v1m0 17v1m0 34v1m0 41v1m0 2v1m0 27v1m0 6v2m0 13v1m0 11v1m0 1v1m0 5v1m0 39v1m0 28v1m0 12v1m0 5v2m0 2v2m0 3v1m0 2v1m0 22v1m0 31v1m0 6v1"/>
<path class="c50" d="M443 145v1m0 16v1m0 37v1m0 36v1m0 21v1m0 9v1m0 22v1m0 4v1m0 25v1m0 16v1m0 27v1m0 30v1m0 40v1m0 35v1m0 18v1m0 11v1m0 18v1m0 8v1m0 24v1m0 11v1m0 16v1m0 122v1m0 10v1m0 16v2m0 13v1m0 45v1m0 7v1m0 11v1m0 133v2m0 2v1m0 10v1m0 15v1m0 35v1m0 150v1m0 8v2m0 24v1m0 20v1m0 22v1m0 22v1m0 1v1m0 1v1m0 25v1m0 3v1m0 10v1m0 2v1m0 13v1m0 3v1m0 2v1m0 1v1m0 8v1m0 14v1m0 28v1m0 18v1m0 6v1m0 5v1m0 8v1m0 1v1m0 19v1m0 46v1m0 3v1m0 5v1m0 9v1"/>
<path class="c39" d="M443 147v1m0 6v1m0 12v1m0 56v1m0 190v1m0 5v1m0 7v1m0 49v1m0 1v2m0 210v1m0 4v1m0 1v1m0 75v1m0 13v1m0 5v1m0 48v1m0 37v1m0 20v1m0 2v1m0 23v1m0 2v1m0 28v1m0 30v1m0 11v1m0 3v2m0 1v1m0 3v1m0 38v1m0 8v2m0 33v1m0 14v1m0 107v3m0 29v1m0 5v1m0 26v1m0 74v1m0 14v1m0 36v1m0 130v1"/>
<path class="c38" d="M443 152v1m0 128v1m0 121v1m0 58v1m0 64v1m0 18v1m0 150v1m0 40v1m0 11v1m0 10v1m0 18v2m0 81v1m0 18v1m0 26v1m0 22v1m0 20v1m0 22v1m0 14v1m0 7v1m0 5v1m0 6v1m0 25v1m0 19v1m0 22v1m0 5v1m0 2v1m0 15v1m0 6v2m0 38v1m0 66v2m0 16v2m0 177v1m0 41v1m0 21v1m0 3v1m0 21v1m0 39v1"/>
<path class="c40" d="M443 158v1m0 119v1m0 16v1m0 3v1m0 61v1m0 7v1m0 13v1m0 29v1m0 8v1m0 44v1m0 19v1m0 4v1m0 206v1m0 26v1m0 56v1m0 59v1m0 2v1m0 37v1m0 13v2m0 12v1m0 1v2m0 12v1m0 6v1m0 3v1m0 1v1m0 18v1m0 4v1m0 12v1m0 8v1m0 1v2m0 4v1m0 12v1m0 65v1m0 44v1m0 6v1m0 8v1m0 1v3m0 10v1m0 13v1m0 11v1m0 35v1m0 13v1m0 13v1m0 1v1m0 15v1m0 6v1m0 66v1m0 24v1m0 4v1m0 50v1m0 12v1m0 21v1m0 1v1m0 52v1m0 21v2"/>
<path class="c36" d="M443 159v1m0 213v3m0 83v1m0 28v1m0 246v1m0 20v1m0 101v1m0 32v1m0 89v1m0 33v1m0 2v1m0 9v1m0 30v1m0 56v1m0 7v1m0 42v2m0 49v1m0 62v1m0 79v1m0 52v1"/>
<path class="c58" d="M443 161v1m0 50v2m0 15v1m0 24v1m0 3v1m0 58v1m0 27v1m0 91v2m0 62v1m0 63v1m0 9v1m0 4v1m0 14v1m0 111v1m0 112v1m0 137v1m0 234v1m0 116v1"/>
<path class="c56" d="M443 163v1m0 53v1m0 2v1m0 6v1m0 12v1m0 1v1m0 19v1m0 102v1m0 41v1m0 57v1m0 37v1m0 26v1m0 13v1m0 7v1m0 5v1m0 9v1m0 8v1m0 273v1m0 73v1m0 196v1m0 63v1m0 84v1m0 157v2m0 3v1m0 77v1"/>
<path class="c41" d="M443 168v1m0 40v1m0 38v1m0 16v1m0 23v1m0 4v1m0 3v1m0 4v1m0 3v1m0 10v1m0 65v1m0 60v1m0 12v1m0 1v1m0 22v1m0 217v1m0 19v1m0 6v1m0 4v1m0 12v1m0 25v1m0 11v2m0 3v1m0 5v1m0 58v1m0 14v1m0 2v1m0 4v1m0 3v1m0 29v1m0 1v1m0 40v1m0 9v1m0 7v2m0 40v1m0 21v1m0 3v2m0 15v1m0 4v1m0 13v1m0 11v1m0 5v1m0 6v1m0 38v1m0 2v1m0 22v1m0 7v1m0 24v1m0 64v1m0 21v1m0 7v1m0 11v1m0 23v1m0 60v1m0 18v1m0 46v1m0 2v1m0 63v1m0 7v1m0 2v1"/>
<path class="c63" d="M443 180v14m0 57v1m0 62v1m0 15v1m0 77v1m0 165v1m0 11v1m0 11v1m0 1v90m0 141v1m0 4v1m0 2v1"/>
<path class="c60" d="M443 218v1m0 113v1m0 11v1m0 221v1m0 32v1m0 230v1m0 6v1m0 583v2"/>
<path class="c57" d="M443 219v1m0 6v1m0 30v1m0 5v1m0 7v1m0 55v2m0 27v1m0 67v1m0 14v1m0 37v1m0 73v1m0 18v1m0 2v1m0 5v1m0 5v1m0 249v1m0 323v1m0 140v1m0 20v1m0 86v1m0 122v1"/>
<path class="c62" d="M443 228v1m0 100v1m0 201v1m0 46v1m0 822v1"/>
<path class="c61" d="M443 238v1m0 2v1m0 11v1m0 80v1m0 7v1m0 210v1m0 10v1m0 32v1m0 795v1"/>
<path class="c55" d="M443 273v2m0 51v1m0 4v1m0 9v1m0 6v1m0 8v1m0 13v1m0 18v1m0 51v1m0 93v1m0 3v1m0 35v1m0 10v2m0 5v1m0 107v1m0 3v1m0 4v1m0 117v1m0 8v1m0 1v1m0 226v1m0 141v1m0 39v1m0 48v1m0 27v1m0 57v1m0 50v1m0 63v1m0 15v1"/>
<path class="c32" d="M443 420v1m0 467v1m0 3v1m0 13v1m0 154v1m0 24v1m0 30v1m0 104v1"/>
<path class="c35" d="M443 426v2m0 317v1m0 118v2m0 1v2m0 24v1m0 43v1m0 14v1m0 40v1m0 118v1m0 20v2m0 316v1m0 2v1m0 47v1"/>
<path class="c34" d="M443 692v1m0 111v1m0 81v1m0 3v1m0 88v1m0 12v1m0 118v1m0 24v1"/>
<path class="c30" d="M443 887v1m0 230v1"/>
<path class="c33" d="M443 933v1m0 518v2"/>
<path class="c31" d="M443 980v1m0 79v1m0 385v1m0 57v1"/>
<path class="c28" d="M443 1009v1"/>
</g>
<g stroke-width="8">
<path class="c45" d="M451 118v1m0 8v1m0 48v1m0 17v1m0 3v1m0 3v1m0 3v1m0 11v1m0 31v1m0 1v1m0 2v1m0 8v1m0 10v2m0 26v1m0 2v1m0 5v1m0 1v1m0 19v1m0 47v1m0 17v1m0 4v1m0 3v1m0 79v1m0 8v1m0 6v1m0 25v1m0 26v1m0 11v1m0 8v1m0 127v1m0 2v1m0 12v1m0 42v1m0 1v1m0 2v1m0 21v1m0 29v1m0 36v1m0 39v1m0 2v1m0 19v1m0 21v1m0 9v1m0 1v1m0 7v1m0 3v1m0 59v1m0 23v1m0 10v1m0 44v1m0 6v1m0 65v2m0 6v1m0 25v1m0 3v1m0 2v1m0 26v1m0 55v1m0 3v1m0 107v1m0 31v1m0 3v1m0 8v1m0 15v1m0 15v2m0 36v1m0 3v1m0 4v1"/>
<path class="c41" d="M451 119v1m0 14v1m0 9v2m0 3v1m0 46v1m0 22v1m0 13v1m0 25v2m0 11v1m0 14v1m0 20v1m0 7v1m0 6v1m0 16v1m0 23v1m0 5v1m0 3v1m0 4v1m0 8v1m0 8v1m0 3v1m0 5v1m0 16v1m0 8v1m0 6v1m0 15v1m0 1v1m0 2v1m0 11v1m0 8v1m0 8v1m0 48v1m0 11v1m0 15v2m0 24v1m0 100v1m0 9v1m0 13v1m0 1v1m0 28v1m0 6v1m0 26v2m0 8v1m0 5v1m0 16v1m0 22v1m0 5v1m0 1v1m0 15v1m0 8v1m0 17v1m0 16v1m0 21v1m0 23v1m0 6v1m0 40v1m0 2v1m0 28v2m0 13v1m0 58v1m0 1v1m0 13v1m0 4v2m0 13v1m0 7v1m0 12v1m0 14v1m0 4v1m0 39v1m0 9v1m0 17v1m0 25v1m0 2v1m0 54v1m0 3v1m0 13v1m0 44v1m0 1v1m0 12v1m0 18v1m0 39v1m0 6v1m0 2v1m0 40v4m0 21v1"/>
<path class="c37" d="M451 120v1m0 17v1m0 8v1m0 2v1m0 46v1m0 25v1m0 8v1m0 15v1m0 39v1m0 5v1m0 27v1m0 96v1m0 3v1m0 5v1m0 18v1m0 38v1m0 6v1m0 9v1m0 12v1m0 4v1m0 31v1m0 158v1m0 6v1m0 57v3m0 27v1m0 6v1m0 17v1m0 13v1m0 10v1m0 4v1m0 1v1m0 1v1m0 15v4m0 1v1m0 3v1m0 5v1m0 37v1m0 5v1m0 5v1m0 19v1m0 3v1m0 14v1m0 6v1m0 15v1m0 1v1m0 12v1m0 5v1m0 57v3m0 2v1m0 10v2m0 32v1m0 26v1m0 14v1m0 27v1m0 8v1m0 11v1m0 11v1m0 14v1m0 28v2m0 1v2m0 27v1m0 21v1m0 39v1m0 13v1m0 16v2m0 3v1m0 3v1m0 6v1m0 2v1m0 4v1m0 51v1m0 26v1m0 23v1"/>
<path class="c50" d="M451 121v1m0 83v1m0 40v1m0 57v1m0 10v1m0 10v1m0 3v1m0 12v1m0 164v1m0 1v1m0 31v1m0 4v2m0 4v1m0 26v1m0 9v1m0 157v1m0 5v2m0 103v1m0 65v1m0 336v1m0 10v1m0 52v1m0 19v1m0 109v1m0 34v1m0 7v1"/>
<path class="c44" d="M451 122v1m0 9v1m0 8v1m0 4v1m0 14v1m0 3v1m0 12v1m0 21v1m0 29v1m0 30v2m0 4v3m0 8v1m0 19v1m0 1v1m0 1v1m0 4v1m0 17v1m0 6v1m0 22v1m0 9v2m0 79v1m0 10v1m0 12v1m0 7v1m0 27v1m0 29v1m0 1v1m0 172v1m0 32v1m0 20v1m0 4v1m0 2v1m0 23v2m0 6v1m0 19v2m0 3v1m0 6v1m0 18v1m0 13v1m0 1v1m0 6v1m0 1v1m0 20v1m0 2v1m0 21v1m0 18v1m0 38v1m0 20v1m0 41v1m0 2v1m0 32v1m0 47v1m0 30v2m0 26v1m0 3v1m0 26v1m0 21v1m0 4v1m0 1v2m0 5v2m0 14v1m0 33v1m0 45v1m0 15v1m0 8v1m0 7v1m0 18v1m0 2v1m0 11v1m0 21v1m0 33v1m0 25v1m0 5v1m0 12v1"/>
<path class="c43" d="M451 123v1m0 15v1m0 74v2m0 8v1m0 59v2m0 15v1m0 8v1m0 2v1m0 17v1m0 4v1m0 14v1m0 6v1m0 14v1m0 2v3m0 95v1m0 18v1m0 3v1m0 1v1m0 28v1m0 20v1m0 31v1m0 135v1m0 57v1m0 12v1m0 12v3m0 10v1m0 6v1m0 6v1m0 40v1m0 46v1m0 1v1m0 34v1m0 20v1m0 4v1m0 2v1m0 24v1m0 28v1m0 5v1m0 16v1m0 1v1m0 16v1m0 48v1m0 29v1m0 1v1m0 67v1m0 4v2m0 22v1m0 38v1m0 6v1m0 1v1m0 8v1m0 1v1m0 3v1m0 12v1m0 17v1m0 52v1m0 41v1m0 2v1m0 9v1m0 1v1m0 11v1m0 10v1m0 16v1m0 7v1m0 9v1m0 16v2m0 4v1m0 2v1m0 1v1"/>
<path class="c48" d="M451 124v1m0 17v1m0 110v2m0 11v1m0 4v1m0 5v1m0 55v1m0 65v1m0 8v1m0 5v1m0 38v1m0 22v1m0 30v1m0 3v1m0 32v1m0 28v1m0 148v1m0 26v1m0 2v1m0 10v1m0 5v1m0 50v1m0 18v1m0 130v1m0 155v1m0 76v1m0 79v1m0 25v1m0 17v1m0 2v1m0 122v1m0 5v1m0 80v1"/>
<path class="c40" d="M451 125v1m0 9v1m0 24v1m0 34v1m0 7v1m0 6v1m0 2v1m0 3v1m0 39v1m0 23v1m0 9v2m0 6v1m0 71v1m0 13v1m0 17v1m0 8v1m0 5v1m0 15v1m0 14v1m0 21v2m0 12v1m0 27v1m0 11v1m0 13v1m0 15v1m0 3v1m0 4v1m0 1v1m0 172v1m0 3v1m0 1v2m0 9v1m0 29v1m0 20v1m0 1v1m0 1v1m0 12v1m0 6v2m0 2v1m0 21v1m0 31v2m0 13v1m0 14v1m0 9v1m0 3v1m0 37v1m0 17v1m0 23v1m0 9v1m0 2v1m0 1v1m0 12v1m0 5v1m0 20v1m0 4v1m0 39v1m0 8v1m0 8v1m0 11v1m0 14v1m0 29v1m0 25v2m0 27v1m0 22v2m0 17v1m0 7v1m0 18v1m0 4v1m0 59v1m0 5v1m0 4v1m0 1v1m0 6v1m0 7v1m0 23v1m0 8v1m0 62v1m0 46v1"/>
<path class="c42" d="M451 126v1m0 4v1m0 1v1m0 2v1m0 3v1m0 7v1m0 3v1m0 10v2m0 7v1m0 4v1m0 42v1m0 35v1m0 8v1m0 13v1m0 59v1m0 14v1m0 58v1m0 21v2m0 17v1m0 31v1m0 34v1m0 4v1m0 10v1m0 12v1m0 6v1m0 3v1m0 9v1m0 23v1m0 100v1m0 43v1m0 20v1m0 15v1m0 9v1m0 11v1m0 10v1m0 7v2m0 18v1m0 16v1m0 15v1m0 5v1m0 2v1m0 40v2m0 9v1m0 6v1m0 10v1m0 1v1m0 11v1m0 8v1m0 6v2m0 1v1m0 17v1m0 52v1m0 5v1m0 18v2m0 18v1m0 17v3m0 15v1m0 25v1m0 10v1m0 4v1m0 14v1m0 1v1m0 1v1m0 11v1m0 37v1m0 14v1m0 16v1m0 2v1m0 38v1m0 15v1m0 8v1m0 2v1m0 7v1m0 19v1m0 8v1m0 3v1m0 6v1m0 43v1m0 6v1m0 13v1m0 13v1m0 6v1m0 47v1m0 1v1m0 6v1m0 7v1"/>
<path class="c51" d="M451 128v1m0 112v2m0 6v1m0 78v1m0 9v1m0 157v1m0 54v1m0 23v1m0 17v1m0 233v1m0 400v1m0 41v2m0 51v1m0 4v1m0 55v1m0 72v1m0 4v1m0 8v1"/>
<path class="c38" d="M451 129v2m0 12v1m0 7v1m0 18v1m0 38v1m0 12v1m0 14v1m0 32v1m0 11v1m0 7v1m0 26v2m0 2v1m0 53v1m0 4v1m0 47v1m0 16v1m0 9v1m0 8v1m0 14v1m0 10v1m0 1v1m0 10v1m0 20v1m0 5v1m0 29v1m0 4v1m0 128v1m0 4v1m0 4v1m0 7v1m0 11v1m0 8v1m0 7v1m0 17v1m0 29v1m0 5v1m0 10v1m0 5v1m0 3v1m0 12v1m0 12v1m0 2v1m0 15v1m0 20v1m0 32v1m0 35v1m0 11v1m0 22v1m0 1v1m0 1v1m0 9v1m0 21v1m0 4v1m0 12v1m0 5v1m0 9v1m0 1v1m0 12v1m0 40v1m0 7v2m0 19v1m0 42v1m0 2v1m0 38v1m0 18v1m0 8v1m0 20v1m0 35v1m0 27v1m0 3v1m0 16v1m0 1v1m0 6v1m0 1v1m0 3v1m0 15v1m0 44v1m0 2v1m0 24v1m0 1v1m0 35v1m0 3v1m0 16v1"/>
<path class="c39" d="M451 137v1m0 36v1m0 26v1m0 29v1m0 54v1m0 22v1m0 25v1m0 23v1m0 3v1m0 3v1m0 13v1m0 8v1m0 11v1m0 3v1m0 36v1m0 6v1m0 67v1m0 171v1m0 7v1m0 75v1m0 16v2m0 29v1m0 13v1m0 4v1m0 9v1m0 16v1m0 6v1m0 2v1m0 22v1m0 26v1m0 11v1m0 3v1m0 11v1m0 2v1m0 24v1m0 18v2m0 19v1m0 7v2m0 3v2m0 11v1m0 1v1m0 13v1m0 7v1m0 17v1m0 2v1m0 8v1m0 9v1m0 8v1m0 4v1m0 22v1m0 2v1m0 5v1m0 1v1m0 15v2m0 9v1m0 7v1m0 26v1m0 52v1m0 2v1m0 11v1m0 1v1m0 19v1m0 1v1m0 32v1m0 43v1m0 52v1m0 18v1m0 1v1m0 21v1m0 15v1m0 1v1"/>
<path class="c36" d="M451 153v1m0 14v1m0 2v1m0 1v1m0 25v1m0 93v1m0 1v1m0 65v1m0 7v1m0 13v2m0 1v1m0 2v1m0 6v1m0 25v1m0 2v2m0 17v1m0 22v1m0 12v1m0 2v1m0 31v1m0 4v1m0 14v1m0 31v1m0 129v1m0 3v1m0 6v2m0 4v1m0 1v1m0 13v1m0 5v1m0 39v1m0 5v2m0 6v1m0 5v1m0 16v1m0 39v1m0 8v1m0 3v1m0 9v1m0 30v1m0 27v1m0 5v1m0 16v1m0 19v1m0 16v1m0 43v1m0 17v1m0 11v1m0 7v1m0 4v2m0 13v1m0 38v3m0 1v1m0 14v1m0 13v1m0 1v1m0 41v1m0 22v1m0 4v1m0 13v1m0 73v1m0 34v2m0 6v1m0 19v1m0 17v1m0 2v2m0 7v1m0 2v1m0 60v1m0 17v1m0 6v1m0 12v1m0 27v1"/>
<path class="c30" d="M451 154v1m0 2v1m0 234v1m0 70v1m0 340v1m0 69v1m0 34v1m0 109v1m0 83v1m0 41v1m0 4v1m0 16v1m0 70v1m0 135v1m0 174v1"/>
<path class="c32" d="M451 155v1m0 6v1m0 49v1m0 22v1m0 215v1m0 239v1m0 35v1m0 3v1m0 217v1m0 67v1m0 25v1m0 26v1m0 10v1m0 6v1m0 13v1m0 44v1m0 22v1m0 41v1m0 75v1m0 77v1m0 1v1m0 9v1m0 2v1m0 35v1m0 8v1"/>
<path class="c25" d="M451 156v1"/>
<path class="c31" d="M451 158v1m0 8v1m0 227v1m0 131v1m0 164v1m0 32v1m0 12v1m0 95v1m0 157v1m0 15v1m0 92v1m0 129v1m0 8v1m0 141v1m0 15v1m0 20v1"/>
<path class="c34" d="M451 159v1m0 129v1m0 70v1m0 60v1m0 44v1m0 14v1m0 6v1m0 11v2m0 14v1m0 176v1m0 6v1m0 14v1m0 12v1m0 114v1m0 5v1m0 43v2m0 1v2m0 1v1m0 6v1m0 13v1m0 5v1m0 4v1m0 11v1m0 47v1m0 1v1m0 5v1m0 14v1m0 29v1m0 27v1m0 2v2m0 21v1m0 12v1m0 64v1m0 88v1m0 72v1m0 12v1m0 5v1m0 41v1m0 32v1m0 4v1m0 74v1"/>
<path class="c35" d="M451 166v1m0 44v1m0 150v1m0 5v1m0 51v1m0 9v1m0 53v1m0 17v1m0 16v1m0 14v1m0 167v2m0 28v1m0 2v1m0 1v1m0 4v1m0 17v1m0 20v1m0 62v1m0 50v1m0 38v1m0 2v1m0 9v1m0 12v1m0 14v1m0 21v1m0 18v1m0 4v1m0 8v1m0 54v3m0 60v1m0 4v1m0 20v1m0 11v1m0 12v1m0 11v1m0 22v1m0 29v1m0 11v1m0 65v1m0 4v1m0 4v1m0 8v1m0 5v1m0 60v1m0 2v1m0 1v1m0 117v1m0 1v1"/>
<path class="c33" d="M451 169v1m0 51v1m0 169v1m0 35v1m0 31v2m0 68v1m0 2v2m0 22v1m0 172v1m0 28v1m0 91v1m0 3v1m0 32v1m0 26v1m0 61v2m0 18v1m0 1v1m0 12v1m0 3v1m0 29v1m0 47v1m0 2v1m0 49v1m0 2v1m0 87v1m0 53v1m0 66v2m0 3v1m0 60v1m0 60v1"/>
<path class="c46" d="M451 175v1m0 3v1m0 28v1m0 31v1m0 6v1m0 15v1m0 10v1m0 22v1m0 26v1m0 2v1m0 19v1m0 1v1m0 37v1m0 10v1m0 32v2m0 5v2m0 1v1m0 5v1m0 4v1m0 281v1m0 29v1m0 201v2m0 87v1m0 9v1m0 1v1m0 65v1m0 8v1m0 30v1m0 1v1m0 24v1m0 47v1m0 23v1m0 11v1m0 14v1m0 22v1m0 1v2m0 9v1m0 50v1m0 14v1m0 39v1m0 28v1m0 2v1m0 2v1m0 17v1m0 2v2m0 11v1m0 4v1m0 1v1m0 3v1m0 7v1m0 1v1"/>
<path class="c63" d="M451 180v13m0 409v87"/>
<path class="c58" d="M451 193v1m0 283v1"/>
<path class="c55" d="M451 204v1m0 21v1m0 118v1m0 238v1m0 1v1m0 713v1"/>
<path class="c49" d="M451 207v1m0 36v1m0 28v1m0 55v1m0 11v1m0 14v1m0 47v1m0 11v1m0 20v1m0 4v1m0 26v1m0 39v1m0 52v1m0 14v1m0 140v1m0 43v1m0 4v1m0 156v1m0 138v1m0 61v1m0 30v1m0 44v2m0 1v1m0 1v1m0 12v1m0 85v1m0 1v1m0 23v1m0 63v1m0 8v1m0 2v2m0 71v1m0 7v1m0 3v1m0 26v2"/>
<path class="c47" d="M451 216v1m0 8v1m0 3v1m0 9v1m0 3v1m0 14v1m0 21v1m0 2v1m0 12v1m0 8v1m0 5v1m0 7v2m0 23v1m0 1v1m0 1v1m0 1v1m0 1v2m0 63v1m0 47v1m0 2v1m0 6v1m0 19v1m0 16v1m0 1v1m0 26v1m0 1v1m0 1v2m0 16v1m0 18v1m0 123v1m0 40v1m0 5v1m0 18v1m0 165v1m0 23v1m0 99v1m0 44v1m0 7v1m0 18v1m0 58v1m0 23v1m0 11v1m0 33v1m0 4v2m0 33v1m0 17v1m0 11v2m0 9v1m0 8v1m0 88v1m0 1v1m0 6v1m0 3v1m0 13v1m0 8v1m0 14v1m0 22v1m0 17v1m0 8v1m0 1v1"/>
<path class="c53" d="M451 227v1m0 17v1m0 96v1m0 72v1m0 158v1m0 3v1m0 8v1m0 3v1m0 5v3m0 317v1m0 329v1m0 50v1m0 2v1m0 188v1"/>
<path class="c54" d="M451 228v1m0 143v1m0 216v1m0 2v1m0 158v1m0 446v1m0 22v1"/>
<path class="c28" d="M451 234v1m0 774v1m0 200v1m0 302v1"/>
<path class="c29" d="M451 236v1m0 286v1m0 48v1m0 447v1m0 79v1m0 138v1m0 183v1"/>
<path class="c56" d="M451 238v1m0 344v1m0 17v1m0 87v1m0 515v1m0 243v1"/>
<path class="c52" d="M451 251v1m0 85v1m0 19v1m0 52v2m0 164v1m0 8v1m0 2v1m0 7v1m0 610v1m0 52v1m0 35v1m0 155v1m0 15v1"/>
<path class="c27" d="M451 393v1"/>
<path class="c26" d="M451 394v1m0 67v1m0 263v1m0 125v1m0 57v1m0 107v1m0 149v1m0 204v1"/>
<path class="c59" d="M451 600v1m0 696v1"/>
<path class="c17" d="M451 911v1"/>
<path class="c21" d="M451 912v1"/>
<path class="c24" d="M451 913v1"/>
</g>
<g stroke-width="7">
<path class="c38" d="M458.5 118v1m0 11v1m0 3v1m0 7v1m0 2v1m0 3v1m0 22v1m0 37v1m0 3v1m0 5v1m0 1v1m0 39v1m0 4v1m0 4v1m0 1v1m0 24v1m0 16v1m0 4v1m0 14v1m0 11v1m0 30v2m0 11v1m0 11v1m0 6v1m0 19v1m0 20v1m0 6v1m0 24v1m0 43v1m0 10v1m0 6v1m0 4v1m0 4v1m0 7v1m0 137v1m0 20v1m0 16v1m0 13v1m0 32v1m0 17v1m0 5v2m0 8v1m0 4v1m0 62v1m0 31v1m0 5v1m0 2v1m0 13v2m0 184v1m0 17v1m0 14v1m0 13v1m0 37v1m0 4v1m0 27v1m0 6v1m0 4v1m0 31v1m0 22v1m0 7v2m0 21v1m0 11v1m0 27v1m0 3v1m0 42v1m0 3v1m0 4v1m0 2v1m0 25v1m0 3v1m0 2v1m0 2v1m0 2v1m0 10v1m0 20v1"/>
<path class="c39" d="M458.5 119v1m0 18v1m0 55v1m0 5v1m0 8v1m0 5v1m0 3v1m0 6v1m0 15v2m0 5v1m0 15v2m0 1v1m0 31v1m0 42v1m0 21v1m0 11v1m0 6v1m0 5v1m0 10v1m0 14v1m0 1v1m0 23v1m0 3v2m0 9v1m0 3v1m0 6v1m0 76v1m0 226v1m0 20v1m0 43v1m0 79v1m0 4v1m0 32v1m0 75v1m0 122v1m0 45v1m0 15v1m0 11v1m0 28v1m0 5v1m0 10v1m0 7v1m0 26v1m0 18v1m0 3v1m0 3v1m0 39v1m0 45v1m0 1v1m0 4v1m0 19v1m0 2v1m0 4v1m0 1v2m0 12v1m0 17v2m0 21v1m0 4v2m0 27v1m0 1v1"/>
<path class="c34" d="M458.5 120v1m0 6v3m0 6v1m0 3v1m0 5v1m0 6v1m0 3v1m0 6v1m0 4v1m0 3v1m0 4v1m0 54v1m0 5v1m0 21v1m0 7v1m0 15v1m0 75v1m0 2v1m0 2v1m0 15v1m0 10v3m0 16v1m0 11v1m0 8v1m0 4v2m0 14v1m0 4v1m0 20v2m0 11v1m0 15v1m0 11v1m0 35v1m0 148v1m0 10v1m0 20v1m0 4v1m0 13v1m0 1v2m0 4v1m0 1v1m0 27v1m0 3v1m0 14v1m0 1v1m0 14v1m0 1v1m0 7v1m0 4v1m0 5v1m0 17v1m0 5v1m0 25v1m0 8v1m0 6v1m0 37v1m0 5v1m0 1v1m0 8v1m0 15v1m0 11v1m0 3v1m0 58v2m0 5v3m0 24v1m0 12v1m0 16v1m0 3v2m0 1v1m0 13v1m0 1v1m0 4v1m0 4v1m0 1v1m0 1v1m0 1v1m0 12v1m0 4v1m0 9v1m0 14v1m0 9v1m0 3v1m0 8v1m0 6v1m0 38v1m0 14v1m0 3v1m0 6v1m0 12v1m0 21v1m0 7v1m0 9v1m0 7v1m0 21v1m0 1v1m0 3v1m0 10v1m0 5v1m0 26v1m0 22v1m0 3v1m0 26v1m0 4v1m0 10v1"/>
<path class="c41" d="M458.5 121v1m0 76v1m0 3v1m0 4v1m0 8v1m0 10v1m0 10v1m0 2v1m0 33v1m0 62v2m0 29v3m0 10v1m0 6v1m0 38v1m0 35v1m0 20v1m0 17v1m0 17v1m0 9v1m0 9v1m0 12v2m0 7v1m0 3v1m0 17v2m0 1v1m0 160v1m0 21v1m0 22v1m0 11v1m0 16v1m0 3v1m0 3v1m0 9v1m0 14v1m0 67v1m0 21v1m0 90v1m0 133v1m0 11v1m0 51v1m0 17v2m0 1v1m0 13v1m0 12v1m0 9v1m0 2v1m0 3v1m0 6v1m0 27v1m0 57v1m0 31v1m0 27v1m0 20v1m0 13v1m0 16v1"/>
<path class="c31" d="M458.5 122v2m0 1v1m0 9v1m0 3v1m0 7v1m0 4v1m0 5v2m0 7v1m0 8v1m0 22v1m0 78v1m0 16v1m0 50v1m0 116v1m0 9v1m0 38v1m0 11v1m0 1v1m0 30v1m0 2v1m0 167v1m0 5v1m0 18v1m0 26v1m0 2v1m0 5v1m0 8v1m0 3v1m0 62v1m0 25v1m0 17v1m0 26v1m0 5v1m0 28v1m0 12v1m0 3v1m0 9v1m0 8v1m0 8v1m0 25v1m0 16v1m0 1v1m0 6v1m0 19v1m0 2v1m0 4v1m0 10v2m0 2v1m0 6v1m0 5v1m0 1v2m0 47v1m0 13v1m0 9v1m0 18v1m0 12v1m0 43v2m0 1v1m0 19v1m0 18v1m0 7v1m0 13v1m0 24v1m0 14v1m0 1v1m0 3v1m0 55v1m0 4v1m0 16v1m0 46v1m0 30v1m0 7v1m0 3v1"/>
<path class="c37" d="M458.5 124v1m0 19v1m0 56v1m0 29v2m0 13v1m0 29v1m0 6v1m0 21v1m0 17v1m0 11v1m0 4v1m0 12v1m0 14v1m0 36v1m0 9v1m0 8v1m0 2v1m0 26v1m0 1v1m0 1v1m0 10v1m0 28v1m0 1v1m0 6v1m0 10v1m0 30v1m0 2v1m0 167v1m0 1v1m0 4v1m0 2v1m0 16v1m0 11v1m0 2v1m0 6v2m0 15v1m0 29v1m0 32v1m0 7v1m0 1v1m0 4v1m0 5v1m0 7v1m0 6v1m0 40v1m0 11v2m0 22v1m0 31v1m0 37v1m0 14v1m0 23v1m0 6v2m0 42v1m0 36v1m0 1v1m0 22v1m0 2v1m0 14v1m0 10v1m0 13v1m0 38v1m0 10v1m0 9v1m0 26v1m0 22v1m0 12v1m0 19v1m0 3v2m0 16v1m0 1v1m0 2v1m0 11v1m0 8v1m0 21v1m0 3v1m0 6v1m0 6v1m0 6v1m0 11v1m0 16v1m0 9v1m0 18v1m0 15v2"/>
<path class="c29" d="M458.5 126v1m0 14v1m0 8v1m0 52v1m0 20v1m0 10v1m0 57v1m0 13v2m0 38v1m0 54v2m0 17v1m0 27v1m0 28v1m0 29v1m0 26v1m0 160v1m0 9v1m0 29v2m0 4v1m0 3v1m0 35v1m0 60v1m0 43v1m0 6v1m0 12v1m0 8v1m0 1v1m0 12v1m0 9v1m0 30v1m0 16v1m0 5v2m0 2v1m0 9v1m0 12v1m0 23v1m0 2v1m0 3v1m0 6v1m0 14v1m0 6v2m0 2v1m0 34v1m0 22v1m0 31v1m0 20v1m0 9v1m0 32v1m0 38v1m0 38v1m0 36v1m0 5v1m0 6v1m0 9v1m0 35v1m0 4v1m0 30v1m0 16v1m0 66v1m0 9v1"/>
<path class="c36" d="M458.5 131v3m0 3v1m0 17v1m0 15v1m0 45v1m0 12v1m0 16v1m0 2v1m0 2v1m0 5v1m0 11v1m0 5v1m0 3v1m0 15v1m0 17v1m0 10v1m0 10v1m0 6v1m0 9v1m0 19v1m0 22v1m0 25v1m0 14v1m0 2v1m0 29v1m0 17v2m0 20v1m0 18v1m0 56v1m0 131v1m0 23v1m0 4v1m0 8v1m0 6v2m0 12v1m0 24v1m0 4v1m0 19v2m0 3v1m0 4v1m0 11v2m0 2v1m0 8v1m0 5v1m0 2v1m0 3v1m0 2v1m0 1v1m0 2v1m0 23v1m0 24v1m0 9v1m0 7v2m0 1v1m0 11v1m0 3v1m0 34v1m0 34v1m0 56v1m0 33v2m0 14v1m0 1v1m0 5v1m0 13v1m0 2v2m0 19v1m0 1v1m0 28v1m0 19v2m0 12v1m0 5v1m0 4v1m0 2v1m0 16v1m0 7v1m0 5v2m0 11v1m0 3v1m0 5v2m0 1v1m0 21v1m0 4v1m0 3v1m0 11v1m0 37v1m0 19v2m0 36v1m0 1v1m0 1v1m0 6v1m0 5v1m0 1v1m0 9v1m0 2v1m0 6v1m0 3v1m0 24v1m0 1v1"/>
<path class="c33" d="M458.5 143v1m0 10v1m0 1v1m0 3v1m0 2v1m0 6v1m0 41v1m0 71v1m0 2v1m0 2v1m0 1v1m0 10v1m0 9v1m0 11v1m0 3v1m0 25v1m0 94v1m0 23v2m0 11v1m0 27v1m0 17v2m0 169v1m0 5v1m0 1v1m0 11v1m0 4v1m0 1v2m0 8v1m0 42v1m0 6v1m0 5v1m0 1v1m0 14v1m0 7v1m0 12v2m0 45v1m0 3v1m0 10v1m0 22v1m0 11v1m0 31v1m0 4v1m0 11v2m0 2v1m0 7v1m0 3v1m0 52v1m0 12v1m0 6v1m0 9v1m0 8v1m0 5v1m0 27v1m0 11v1m0 10v1m0 11v1m0 8v1m0 2v1m0 19v1m0 14v1m0 8v1m0 23v2m0 41v1m0 4v1m0 7v1m0 82v1m0 25v1m0 3v1m0 15v1m0 3v1m0 33v1m0 40v1m0 5v1m0 4v1m0 3v1m0 13v1m0 11v1"/>
<path class="c40" d="M458.5 148v1m0 26v1m0 30v1m0 6v1m0 15v1m0 14v1m0 9v1m0 41v1m0 1v1m0 2v2m0 1v1m0 12v1m0 23v2m0 6v1m0 16v1m0 9v1m0 8v1m0 1v2m0 4v1m0 5v1m0 8v1m0 1v1m0 6v1m0 35v1m0 13v1m0 9v1m0 14v2m0 3v1m0 19v1m0 22v1m0 24v1m0 6v1m0 11v1m0 190v1m0 16v1m0 16v2m0 223v1m0 16v1m0 104v1m0 28v1m0 17v1m0 25v1m0 2v1m0 3v2m0 8v1m0 61v1m0 21v1m0 73v1m0 3v1m0 12v1m0 68v1m0 5v1m0 9v1m0 15v1"/>
<path class="c32" d="M458.5 151v1m0 25v1m0 17v1m0 27v1m0 32v2m0 12v1m0 11v1m0 23v1m0 5v1m0 49v2m0 9v1m0 12v1m0 32v1m0 13v1m0 2v1m0 11v1m0 56v2m0 6v1m0 11v1m0 190v2m0 3v1m0 23v1m0 4v1m0 25v1m0 42v1m0 25v1m0 6v1m0 8v1m0 4v1m0 13v1m0 9v1m0 7v1m0 3v1m0 8v1m0 23v1m0 4v1m0 15v1m0 16v1m0 29v2m0 5v1m0 18v1m0 5v1m0 26v1m0 1v1m0 22v1m0 26v1m0 2v1m0 7v1m0 12v1m0 3v1m0 8v1m0 8v1m0 4v1m0 25v1m0 12v1m0 21v1m0 38v1m0 1v2m0 19v1m0 1v1m0 51v1m0 2v1m0 7v2m0 10v2m0 6v1m0 6v1m0 6v2m0 9v1m0 1v1m0 15v2m0 46v1m0 53v1m0 9v1m0 1v1m0 15v1m0 4v2"/>
<path class="c35" d="M458.5 161v1m0 3v2m0 1v1m0 5v1m0 21v2m0 13v1m0 9v1m0 15v1m0 2v1m0 4v1m0 6v1m0 2v1m0 17v1m0 40v1m0 3v1m0 3v1m0 33v1m0 2v1m0 15v1m0 5v1m0 9v1m0 15v1m0 1v1m0 2v1m0 1v1m0 14v2m0 1v1m0 2v1m0 9v1m0 24v1m0 1v1m0 3v1m0 22v1m0 2v1m0 1v1m0 9v1m0 1v1m0 12v1m0 7v1m0 23v1m0 141v1m0 7v1m0 2v1m0 37v1m0 2v1m0 7v1m0 3v1m0 6v1m0 4v1m0 5v1m0 4v1m0 4v1m0 17v1m0 4v1m0 29v1m0 13v1m0 20v1m0 39v1m0 4v1m0 5v1m0 12v3m0 33v1m0 7v2m0 37v1m0 2v1m0 5v1m0 17v1m0 19v1m0 6v2m0 23v2m0 9v1m0 7v1m0 8v1m0 50v1m0 23v1m0 10v1m0 6v1m0 28v1m0 2v1m0 39v1m0 40v2m0 2v1m0 9v1m0 11v1m0 26v1m0 14v1m0 1v1m0 14v1m0 3v1m0 14v1m0 28v1m0 24v1m0 10v1m0 11v4m0 1v1"/>
<path class="c24" d="M458.5 162v1m0 123v1m0 240v1m0 4v1m0 164v1m0 160v1m0 121v1m0 122v1m0 70v1m0 188v1"/>
<path class="c30" d="M458.5 179v1m0 45v1m0 62v1m0 2v1m0 18v2m0 15v2m0 91v1m0 58v2m0 28v1m0 40v1m0 8v1m0 135v1m0 5v1m0 36v1m0 17v1m0 31v1m0 57v1m0 13v1m0 6v1m0 5v2m0 13v1m0 3v1m0 2v2m0 8v1m0 4v1m0 3v1m0 14v1m0 78v1m0 4v1m0 13v2m0 7v1m0 7v1m0 3v1m0 3v1m0 23v1m0 4v1m0 22v2m0 10v1m0 22v1m0 151v1m0 46v1m0 1v1m0 7v1m0 3v1m0 31v1m0 14v1m0 20v1m0 22v1m0 25v1m0 62v1m0 2v1"/>
<path class="c63" d="M458.5 180v13m0 412v84"/>
<path class="c43" d="M458.5 193v1m0 70v1m0 80v1m0 12v1m0 13v1m0 25v1m0 1v1m0 65v1m0 19v1m0 32v1m0 16v1m0 46v1m0 6v1m0 122v1m0 59v1m0 33v1m0 259v1m0 110v1m0 1v1m0 92v1m0 164v1m0 44v1m0 2v1m0 16v1"/>
<path class="c45" d="M458.5 204v1m0 46v1m0 11v1m0 69v1m0 17v1m0 217v1m0 29v1m0 220v1m0 104v1m0 112v1m0 140v1m0 2v1m0 18v1m0 47v2"/>
<path class="c42" d="M458.5 205v1m0 12v1m0 39v1m0 20v1m0 44v1m0 6v1m0 18v1m0 6v1m0 20v1m0 58v1m0 5v2m0 46v1m0 4v1m0 4v1m0 18v1m0 17v1m0 9v1m0 33v1m0 168v1m0 25v1m0 46v2m0 4v1m0 8v2m0 14v1m0 19v1m0 74v1m0 2v1m0 265v1m0 13v1m0 18v1m0 48v1m0 3v1m0 16v1m0 8v1m0 2v1m0 100v2m0 17v2m0 26v1m0 32v1m0 5v1m0 15v1"/>
<path class="c46" d="M458.5 208v1m0 143v1m0 112v1m0 76v2m0 31v1m0 5v1m0 18v2m0 708v1m0 2v1m0 7v1"/>
<path class="c47" d="M458.5 228v1m0 91v1m0 9v1m0 3v1m0 233v1m0 25v1m0 603v1m0 112v1m0 122v1"/>
<path class="c22" d="M458.5 234v1m0 456v1m0 16v1m0 197v1m0 105v1"/>
<path class="c28" d="M458.5 236v1m0 123v1m0 45v1m0 15v1m0 3v1m0 24v1m0 10v1m0 20v1m0 4v1m0 34v1m0 168v1m0 6v1m0 15v1m0 9v1m0 118v1m0 23v1m0 31v2m0 35v1m0 21v1m0 1v1m0 13v1m0 3v1m0 20v2m0 15v1m0 3v1m0 3v1m0 17v1m0 11v2m0 35v1m0 5v1m0 16v1m0 25v1m0 50v1m0 16v2m0 11v1m0 19v1m0 18v1m0 100v1m0 8v1m0 11v1m0 17v1m0 3v1m0 20v1m0 62v1m0 43v1m0 13v1"/>
<path class="c26" d="M458.5 248v1m0 40v1m0 4v1m0 14v1m0 388v1m0 105v1m0 88v1m0 19v1m0 44v1m0 1v1m0 62v1m0 34v1m0 43v1m0 37v1m0 2v1m0 1v1m0 60v1"/>
<path class="c44" d="M458.5 260v1m0 19v1m0 38v1m0 175v1m0 51v1m0 14v1m0 3v1m0 3v2m0 17v1m0 12v1m0 614v1m0 33v1m0 19v1m0 13v1m0 47v1m0 122v1m0 23v1m0 18v1"/>
<path class="c49" d="M458.5 332v1m0 220v1m0 22v1m0 112v1m0 557v1"/>
<path class="c48" d="M458.5 544v1m0 33v2m0 11v1"/>
<path class="c54" d="M458.5 573v1"/>
<path class="c52" d="M458.5 574v1m0 18v1m0 3v1m0 6v1m0 679v1"/>
<path class="c51" d="M458.5 577v1m0 2v1m0 731v1"/>
<path class="c50" d="M458.5 592v1m0 2v1"/>
<path class="c57" d="M458.5 596v1"/>
<path class="c53" d="M458.5 598v1m0 4v1"/>
<path class="c25" d="M458.5 690v1m0 2v1m0 6v1m0 4v1m0 3v1m0 71v1m0 133v1m0 62v1m0 7v1m0 32v2"/>
<path class="c27" d="M458.5 694v1m0 31v1m0 6v1m0 1v1m0 65v1m0 97v1m0 4v1m0 62v2m0 7v2m0 36v2m0 8v1m0 1v1m0 14v1m0 27v1m0 43v1m0 5v1m0 33v1m0 40v1m0 13v1m0 34v1m0 138v1m0 19v1m0 12v1m0 32v1m0 93v1"/>
<path class="c23" d="M458.5 987v1m0 23v1m0 6v1m0 35v1m0 35v1m0 9v1m0 5v1m0 438v1"/>
<path class="c20" d="M458.5 1045v1m0 47v2"/>
<path class="c19" d="M458.5 1101v1"/>
</g>
<g stroke-width="7">
<path class="c35" d="M465.5 118v1m0 29v2m0 54v1m0 2v1m0 10v1m0 1v1m0 21v1m0 2v2m0 2v1m0 74v1m0 17v1m0 1v1m0 8v1m0 2v1m0 9v1m0 5v1m0 55v1m0 16v1m0 4v1m0 26v1m0 17v1m0 14v1m0 9v1m0 1v1m0 6v1m0 6v1m0 6v1m0 1v1m0 2v1m0 22v1m0 1v1m0 27v1m0 104v1m0 11v1m0 60v1m0 41v1m0 81v1m0 81v1m0 52v1m0 3v1m0 113v1m0 6v1m0 19v1m0 44v1m0 3v1m0 5v1m0 7v1m0 5v1m0 2v1m0 4v1m0 39v1m0 8v1m0 45v1m0 33v1m0 31v1m0 20v1m0 25v1m0 6v1m0 14v1m0 1v1m0 16v1m0 9v1m0 24v1"/>
<path class="c31" d="M465.5 119v1m0 19v1m0 10v1m0 1v1m0 24v1m0 17v1m0 10v1m0 5v1m0 24v1m0 5v1m0 16v1m0 6v2m0 6v1m0 21v1m0 6v1m0 7v1m0 7v1m0 1v1m0 3v1m0 74v2m0 32v1m0 29v1m0 8v2m0 10v1m0 3v2m0 2v1m0 6v1m0 33v1m0 10v1m0 3v1m0 4v2m0 2v2m0 135v1m0 24v2m0 3v1m0 5v1m0 4v1m0 23v1m0 19v2m0 1v1m0 18v1m0 26v1m0 17v1m0 10v1m0 15v1m0 24v1m0 4v1m0 24v3m0 9v1m0 37v1m0 10v1m0 13v1m0 10v1m0 18v1m0 35v1m0 17v1m0 24v1m0 7v1m0 6v2m0 11v1m0 1v1m0 7v1m0 6v1m0 1v1m0 7v1m0 15v1m0 21v1m0 27v1m0 23v1m0 20v1m0 8v1m0 5v1m0 1v1m0 16v1m0 29v2m0 41v1m0 2v1m0 29v1m0 9v1m0 13v1m0 13v2m0 9v1m0 23v2m0 3v1m0 1v1m0 13v1m0 15v1m0 4v2"/>
<path class="c28" d="M465.5 120v1m0 9v1m0 34v1m0 4v1m0 46v1m0 62v1m0 10v1m0 24v1m0 1v1m0 18v1m0 43v1m0 5v1m0 8v1m0 26v1m0 39v1m0 2v1m0 35v1m0 22v1m0 46v1m0 124v1m0 33v1m0 13v2m0 4v1m0 1v1m0 1v1m0 4v1m0 11v1m0 13v1m0 3v1m0 45v1m0 17v1m0 39v1m0 3v1m0 15v1m0 43v1m0 3v1m0 18v1m0 10v1m0 10v1m0 9v1m0 1v1m0 17v1m0 5v1m0 10v1m0 11v1m0 3v1m0 1v1m0 6v1m0 8v1m0 18v1m0 11v1m0 16v1m0 1v1m0 43v1m0 7v2m0 20v1m0 5v1m0 24v1m0 21v1m0 26v1m0 1v2m0 6v2m0 33v1m0 23v2m0 7v1m0 9v1m0 4v1m0 3v1m0 47v1m0 4v1m0 14v1m0 2v1m0 21v2m0 11v1m0 9v1m0 2v1m0 8v1m0 3v2m0 14v2m0 6v1m0 10v1"/>
<path class="c37" d="M465.5 121v1m0 88v1m0 14v1m0 15v1m0 2v1m0 7v1m0 49v1m0 43v1m0 7v1m0 51v2m0 24v1m0 5v1m0 5v1m0 8v1m0 83v1m0 4v1m0 18v1m0 1v1m0 27v1m0 118v1m0 12v1m0 12v1m0 27v2m0 46v1m0 5v1m0 7v1m0 4v1m0 92v1m0 12v1m0 129v1m0 23v1m0 159v1m0 1v1m0 9v1m0 8v1m0 11v1m0 46v1m0 22v1m0 1v1m0 39v1m0 21v1m0 64v1m0 15v1"/>
<path class="c32" d="M465.5 122v1m0 10v1m0 38v1m0 2v1m0 18v1m0 7v1m0 2v1m0 3v1m0 1v1m0 11v1m0 6v1m0 5v1m0 2v1m0 10v1m0 6v1m0 4v1m0 1v1m0 1v1m0 25v1m0 8v1m0 6v1m0 12v1m0 1v1m0 4v1m0 9v2m0 18v1m0 8v1m0 1v2m0 9v1m0 1v1m0 12v1m0 22v1m0 35v1m0 4v1m0 33v1m0 13v1m0 9v1m0 5v2m0 14v1m0 13v1m0 155v1m0 14v1m0 9v1m0 24v1m0 6v1m0 26v2m0 3v1m0 3v1m0 21v1m0 92v1m0 27v1m0 4v1m0 32v1m0 52v1m0 41v1m0 13v1m0 6v1m0 57v1m0 4v1m0 3v2m0 7v1m0 4v1m0 1v1m0 17v1m0 20v1m0 25v1m0 10v1m0 8v1m0 1v1m0 13v1m0 1v1m0 22v1m0 3v2m0 11v1m0 21v1m0 3v1m0 97v1m0 2v1m0 13v1m0 17v1m0 3v1m0 21v1m0 4v1"/>
<path class="c33" d="M465.5 123v1m0 21v2m0 24v1m0 28v2m0 57v1m0 5v1m0 3v1m0 1v1m0 18v1m0 36v1m0 1v1m0 6v1m0 22v1m0 8v1m0 19v1m0 8v1m0 13v1m0 34v1m0 5v1m0 3v1m0 4v1m0 14v1m0 34v1m0 2v1m0 15v1m0 2v2m0 14v1m0 44v1m0 100v1m0 81v1m0 27v1m0 1v1m0 24v2m0 3v1m0 1v1m0 10v1m0 1v1m0 2v1m0 41v1m0 10v1m0 17v1m0 1v1m0 4v1m0 7v1m0 40v1m0 14v1m0 19v1m0 33v1m0 45v1m0 66v1m0 25v1m0 4v1m0 8v1m0 14v2m0 12v1m0 10v1m0 4v1m0 14v1m0 16v2m0 4v1m0 5v1m0 13v1m0 3v1m0 22v1m0 14v2m0 37v1m0 3v1m0 1v1m0 13v1m0 13v1m0 17v1m0 4v1m0 21v1m0 14v1m0 23v2m0 3v2m0 16v1m0 9v2"/>
<path class="c41" d="M465.5 124v1m0 10v1m0 72v1m0 26v1m0 19v1m0 2v1m0 71v1m0 14v1m0 2v1m0 60v1m0 118v1m0 35v1m0 1v1m0 20v1m0 4v1m0 5v2m0 251v1m0 469v1m0 149v1"/>
<path class="c30" d="M465.5 125v1m0 3v1m0 2v1m0 7v1m0 3v1m0 52v2m0 14v1m0 2v1m0 70v1m0 8v1m0 6v1m0 37v1m0 19v1m0 16v1m0 34v3m0 1v1m0 6v1m0 15v1m0 23v1m0 2v1m0 28v1m0 3v1m0 14v1m0 2v1m0 8v1m0 4v1m0 7v1m0 11v1m0 4v1m0 136v1m0 8v3m0 24v1m0 16v1m0 6v1m0 2v1m0 9v1m0 10v1m0 4v1m0 8v1m0 8v1m0 14v1m0 5v1m0 11v1m0 14v1m0 3v1m0 34v1m0 12v1m0 27v1m0 4v1m0 9v1m0 1v1m0 8v1m0 28v1m0 9v1m0 5v1m0 5v1m0 25v1m0 11v1m0 7v1m0 10v1m0 9v1m0 30v2m0 1v1m0 8v1m0 11v1m0 6v1m0 18v1m0 22v1m0 24v1m0 13v1m0 10v1m0 2v1m0 14v1m0 20v1m0 1v1m0 37v1m0 30v1m0 31v1m0 10v1m0 16v1m0 18v1m0 15v1m0 1v1m0 11v1m0 7v1m0 7v2m0 52v1m0 3v1m0 21v1m0 3v2"/>
<path class="c26" d="M465.5 126v1m0 27v1m0 6v1m0 2v1m0 8v1m0 29v1m0 80v1m0 8v1m0 13v1m0 57v1m0 9v1m0 3v1m0 14v1m0 24v1m0 7v1m0 42v2m0 10v1m0 1v1m0 2v1m0 10v2m0 212v1m0 35v1m0 1v1m0 17v1m0 20v1m0 7v1m0 16v1m0 4v1m0 15v1m0 20v2m0 2v1m0 10v1m0 13v1m0 9v1m0 3v1m0 12v1m0 5v1m0 34v2m0 8v1m0 1v1m0 3v1m0 3v1m0 19v1m0 8v1m0 17v1m0 3v1m0 4v1m0 17v1m0 1v1m0 4v1m0 2v2m0 13v1m0 1v1m0 44v1m0 1v1m0 1v1m0 3v1m0 5v1m0 6v1m0 9v1m0 7v1m0 17v1m0 17v1m0 30v2m0 59v1m0 48v1m0 7v1m0 47v1m0 6v1m0 52v1m0 3v1m0 1v1m0 3v1m0 27v1m0 32v1m0 2v1m0 23v1m0 1v1"/>
<path class="c34" d="M465.5 127v2m0 9v1m0 8v1m0 48v1m0 22v1m0 11v2m0 7v1m0 15v1m0 15v1m0 44v1m0 14v1m0 17v1m0 1v1m0 2v1m0 4v1m0 37v2m0 29v1m0 3v1m0 9v1m0 3v1m0 1v1m0 5v1m0 2v1m0 30v1m0 36v1m0 184v1m0 7v2m0 19v2m0 38v1m0 25v1m0 6v1m0 9v1m0 65v1m0 12v1m0 20v1m0 3v1m0 8v1m0 97v1m0 18v1m0 41v1m0 41v1m0 27v1m0 31v1m0 3v1m0 1v1m0 1v1m0 23v1m0 6v1m0 25v1m0 12v1m0 2v2m0 16v1m0 6v1m0 6v1m0 19v1m0 62v1m0 9v1m0 25v1m0 6v1m0 28v1m0 39v1m0 31v1m0 10v1m0 1v1"/>
<path class="c27" d="M465.5 131v1m0 10v2m0 18v1m0 52v1m0 32v1m0 25v1m0 1v1m0 6v1m0 4v2m0 15v2m0 2v1m0 5v1m0 46v1m0 14v1m0 12v1m0 1v1m0 10v1m0 65v1m0 10v1m0 11v1m0 4v1m0 15v1m0 199v2m0 2v1m0 10v1m0 6v1m0 16v1m0 16v1m0 1v1m0 13v1m0 5v1m0 7v2m0 14v1m0 24v1m0 1v1m0 2v2m0 32v1m0 1v1m0 14v1m0 10v1m0 1v1m0 9v1m0 1v1m0 21v1m0 5v1m0 1v1m0 14v1m0 3v1m0 8v1m0 6v1m0 9v1m0 1v2m0 1v1m0 9v2m0 1v1m0 3v1m0 22v1m0 1v1m0 4v1m0 10v1m0 4v2m0 27v1m0 2v1m0 5v1m0 5v1m0 8v1m0 18v1m0 1v1m0 7v2m0 1v1m0 5v1m0 14v3m0 19v1m0 6v1m0 6v1m0 17v1m0 9v1m0 6v2m0 14v1m0 34v1m0 46v1m0 1v1m0 6v1m0 3v1m0 11v2m0 1v1m0 4v1m0 11v1m0 22v1m0 4v1m0 24v1m0 5v1m0 53v1m0 23v1m0 5v1m0 10v1"/>
<path class="c36" d="M465.5 134v1m0 89v1m0 2v1m0 1v1m0 17v1m0 25v1m0 57v1m0 3v1m0 7v1m0 3v1m0 9v1m0 42v1m0 29v1m0 8v1m0 65v1m0 2v1m0 10v1m0 21v1m0 2v1m0 6v1m0 6v1m0 41v1m0 107v1m0 100v3m0 5v1m0 7v1m0 2v1m0 106v1m0 4v1m0 250v1m0 64v1m0 17v1m0 30v1m0 18v1m0 28v1m0 50v1m0 69v1m0 2v1m0 2v1m0 14v2m0 34v1m0 11v1"/>
<path class="c40" d="M465.5 136v1m0 42v1m0 46v1m0 1v1m0 9v1m0 14v1m0 9v1m0 85v1m0 87v1m0 83v1m0 9v1m0 30v1m0 2v1m0 13v1m0 1v1m0 14v1m0 328v1m0 376v1m0 14v2m0 3v1m0 4v2m0 17v1m0 88v1m0 37v1m0 2v1"/>
<path class="c43" d="M465.5 137v1m0 430v1m0 7v1m0 1v1m0 18v1m0 5v1m0 594v1m0 124v1"/>
<path class="c24" d="M465.5 141v1m0 72v1m0 55v1m0 8v1m0 19v1m0 73v2m0 45v1m0 1v1m0 39v1m0 5v1m0 10v1m0 210v1m0 2v1m0 64v1m0 16v1m0 19v1m0 12v1m0 29v1m0 2v1m0 24v1m0 2v2m0 2v1m0 9v1m0 2v1m0 26v1m0 42v1m0 18v1m0 43v1m0 3v1m0 22v1m0 14v1m0 7v2m0 10v1m0 24v1m0 3v1m0 2v1m0 12v1m0 46v1m0 35v1m0 2v1m0 9v1m0 42v1m0 66v1m0 7v1m0 32v2m0 2v1m0 61v1m0 24v1m0 58v1m0 4v1m0 24v1"/>
<path class="c29" d="M465.5 151v1m0 1v1m0 9v1m0 12v1m0 1v1m0 42v2m0 10v1m0 64v1m0 1v1m0 9v1m0 2v2m0 4v1m0 5v1m0 14v1m0 10v1m0 19v1m0 4v1m0 8v1m0 7v1m0 18v1m0 3v1m0 4v1m0 12v1m0 13v1m0 2v1m0 8v1m0 17v1m0 6v1m0 17v2m0 1v1m0 5v1m0 3v1m0 37v1m0 147v1m0 22v1m0 7v1m0 4v2m0 2v1m0 6v1m0 23v1m0 55v1m0 17v1m0 42v1m0 13v1m0 5v1m0 11v1m0 34v1m0 16v1m0 29v1m0 2v1m0 14v1m0 17v1m0 14v1m0 20v1m0 3v1m0 13v1m0 25v1m0 4v1m0 5v1m0 16v1m0 2v1m0 8v1m0 18v1m0 4v1m0 28v1m0 1v1m0 1v1m0 25v1m0 32v1m0 52v1m0 6v1m0 1v1m0 20v1m0 11v1m0 7v1m0 2v2m0 2v1m0 18v2m0 2v1m0 9v1m0 3v1m0 1v1m0 1v2m0 2v1m0 15v1m0 22v1m0 10v1m0 21v1m0 22v1m0 18v1"/>
<path class="c25" d="M465.5 155v1m0 1v1m0 8v1m0 1v1m0 5v1m0 110v1m0 25v1m0 72v1m0 1v1m0 38v1m0 10v1m0 35v2m0 7v1m0 1v1m0 4v1m0 227v1m0 12v1m0 44v1m0 12v2m0 87v1m0 1v1m0 12v1m0 19v1m0 4v1m0 3v1m0 26v2m0 15v1m0 60v1m0 53v1m0 18v1m0 25v1m0 14v1m0 1v1m0 1v1m0 1v1m0 43v1m0 33v1m0 7v1m0 8v1m0 53v1m0 80v1m0 35v1m0 1v1m0 1v1m0 1v1m0 6v1m0 23v1m0 11v1m0 24v2m0 45v1"/>
<path class="c20" d="M465.5 156v1m0 534v1m0 64v1m0 19v1m0 27v1m0 58v1m0 10v1m0 2v1m0 2v1m0 25v1m0 70v1m0 10v1m0 19v1m0 17v1m0 58v1"/>
<path class="c22" d="M465.5 158v1m0 127v1m0 7v1m0 68v1m0 432v1m0 70v2m0 3v1m0 11v1m0 67v1m0 6v1m0 1v1m0 9v1m0 38v1m0 10v1m0 6v1m0 2v1m0 28v1m0 21v2m0 6v1m0 62v1m0 27v1m0 29v1m0 130v1m0 20v1m0 4v1m0 41v1m0 3v1m0 35v1m0 36v1"/>
<path class="c21" d="M465.5 159v2m0 6v1m0 93v1m0 127v1m0 1v1m0 309v1m0 160v1m0 52v1m0 56v1m0 3v1m0 12v1m0 40v1m0 55v1m0 14v1m0 10v1m0 55v1m0 5v1m0 35v1m0 151v1m0 38v1"/>
<path class="c23" d="M465.5 169v1m0 29v1m0 34v1m0 42v1m0 17v1m0 68v1m0 18v1m0 42v1m0 271v2m0 70v1m0 93v2m0 16v1m0 4v1m0 4v1m0 74v2m0 9v1m0 11v1m0 4v1m0 31v1m0 28v1m0 20v1m0 9v2m0 11v1m0 8v1m0 8v1m0 69v1m0 29v1m0 29v1m0 111v1m0 17v1m0 23v1m0 23v1m0 75v1m0 21v1"/>
<path class="c63" d="M465.5 180v12m0 419v48m0 3v27"/>
<path class="c51" d="M465.5 192v1m0 414v1m0 2v1"/>
<path class="c38" d="M465.5 193v1m0 237v1m0 10v1m0 14v1m0 109v1m0 1v2m0 12v1m0 5v1m0 5v1m0 111v1m0 19v1m0 16v1m0 17v2m0 56v1m0 118v1m0 97v1m0 216v1m0 15v1m0 2v1m0 30v1m0 11v1m0 3v1m0 120v1m0 30v1"/>
<path class="c44" d="M465.5 251v1m0 330v1m0 1v1m0 353v1"/>
<path class="c39" d="M465.5 254v1m0 78v1m0 70v1m0 5v1m0 30v1m0 67v1m0 37v1m0 26v2m0 14v1m0 11v1m0 140v1m0 83v1m0 365v1m0 2v1m0 53v1m0 26v1m0 23v1m0 13v1m0 3v1m0 6v1m0 43v1m0 24v1m0 112v1"/>
<path class="c18" d="M465.5 278v1m0 3v1m0 561v1m0 48v1m0 66v1m0 439v1"/>
<path class="c19" d="M465.5 281v1m0 410v1m0 22v1m0 127v1m0 17v1m0 183v1m0 65v1m0 249v1m0 37v1"/>
<path class="c42" d="M465.5 334v1m0 70v1m0 132v1m0 49v1m0 4v1m0 643v1m0 33v1"/>
<path class="c50" d="M465.5 408v1"/>
<path class="c47" d="M465.5 577v1m0 2v1"/>
<path class="c49" d="M465.5 585v2m0 17v1"/>
<path class="c54" d="M465.5 605v1m0 2v1"/>
<path class="c52" d="M465.5 606v1m0 54v1"/>
<path class="c57" d="M465.5 609v1"/>
<path class="c56" d="M465.5 659v1"/>
<path class="c58" d="M465.5 660v1"/>
<path class="c48" d="M465.5 689v1"/>
<path class="c14" d="M465.5 700v1m0 308v1"/>
<path class="c16" d="M465.5 858v1"/>
<path class="c17" d="M465.5 987v1"/>
</g>
<g stroke-width="6">
<path class="c30" d="M472 118v1m0 18v1m0 1v1m0 35v1m0 32v1m0 2v1m0 4v1m0 25v2m0 13v1m0 61v1m0 12v1m0 21v2m0 1v1m0 3v1m0 15v1m0 9v1m0 32v1m0 9v1m0 12v1m0 2v2m0 29v1m0 13v1m0 11v1m0 4v1m0 42v2m0 9v1m0 5v1m0 133v1m0 8v1m0 7v1m0 8v1m0 30v1m0 10v1m0 2v1m0 3v1m0 13v2m0 17v1m0 6v2m0 2v1m0 29v1m0 14v1m0 41v1m0 12v1m0 37v1m0 13v1m0 6v1m0 29v1m0 30v1m0 9v1m0 35v1m0 11v1m0 26v1m0 10v1m0 3v2m0 16v1m0 3v1m0 20v1m0 50v1m0 22v1m0 9v1m0 9v1m0 4v1m0 1v1m0 9v1m0 26v1m0 2v3m0 2v1m0 56v1m0 35v1m0 26v1m0 34v1m0 14v1m0 23v1m0 12v1m0 2v1m0 9v1"/>
<path class="c25" d="M472 119v2m0 13v1m0 28v1m0 8v3m0 26v1m0 4v1m0 6v1m0 1v1m0 30v2m0 1v1m0 18v2m0 5v1m0 7v1m0 17v1m0 10v1m0 26v1m0 24v1m0 3v1m0 24v2m0 8v1m0 22v1m0 2v1m0 20v1m0 13v1m0 2v1m0 3v1m0 30v1m0 12v1m0 6v1m0 1v1m0 3v1m0 161v1m0 7v1m0 35v1m0 2v1m0 3v1m0 3v1m0 10v1m0 1v1m0 22v1m0 21v1m0 11v1m0 8v1m0 16v2m0 7v1m0 17v1m0 6v1m0 5v1m0 1v1m0 16v1m0 1v1m0 9v1m0 15v1m0 17v1m0 7v1m0 13v1m0 62v2m0 2v1m0 1v1m0 19v1m0 6v1m0 55v1m0 3v1m0 3v1m0 7v1m0 1v1m0 21v2m0 3v1m0 39v2m0 1v1m0 2v1m0 17v1m0 26v2m0 22v1m0 48v1m0 2v1m0 9v2m0 8v1m0 21v1m0 8v1m0 2v1m0 18v1m0 7v1m0 1v1m0 11v2m0 17v2m0 6v1m0 26v2m0 18v1m0 12v1m0 11v1m0 1v1m0 4v1m0 2v1"/>
<path class="c33" d="M472 121v1m0 2v1m0 137v1m0 64v1m0 3v1m0 10v1m0 9v1m0 18v1m0 8v1m0 4v1m0 31v1m0 119v1m0 5v1m0 29v1m0 197v1m0 48v1m0 82v1m0 13v1m0 282v1m0 6v1m0 41v1m0 25v1m0 11v1m0 3v1m0 9v1m0 5v1m0 42v1m0 45v2m0 20v1m0 19v1m0 10v1m0 34v1m0 1v1m0 42v1m0 1v1m0 16v1"/>
<path class="c24" d="M472 122v1m0 24v1m0 17v1m0 10v1m0 20v1m0 11v1m0 22v2m0 5v1m0 10v1m0 30v1m0 3v1m0 5v1m0 8v1m0 2v1m0 10v1m0 1v1m0 23v1m0 10v1m0 13v1m0 3v1m0 13v1m0 6v1m0 4v1m0 39v2m0 15v1m0 10v1m0 1v1m0 8v1m0 9v1m0 1v1m0 29v1m0 23v2m0 27v1m0 121v2m0 13v1m0 7v1m0 16v1m0 20v1m0 11v2m0 10v1m0 6v1m0 1v1m0 1v1m0 2v1m0 9v2m0 36v1m0 6v1m0 19v1m0 18v1m0 12v1m0 6v1m0 13v2m0 7v1m0 10v1m0 21v1m0 3v1m0 1v2m0 3v1m0 34v1m0 8v1m0 9v1m0 2v1m0 4v1m0 14v1m0 7v1m0 11v1m0 5v1m0 3v1m0 24v2m0 3v1m0 7v1m0 12v1m0 1v2m0 2v1m0 7v1m0 4v1m0 22v1m0 32v1m0 11v1m0 10v1m0 6v1m0 17v1m0 1v1m0 31v1m0 1v1m0 22v1m0 22v1m0 12v1m0 14v1m0 4v1m0 4v1m0 17v1m0 16v1m0 9v1m0 30v1m0 4v1m0 43v1m0 14v1m0 36v1"/>
<path class="c27" d="M472 123v1m0 1v1m0 2v1m0 11v1m0 20v1m0 32v1m0 1v1m0 8v1m0 1v1m0 9v1m0 3v1m0 1v1m0 14v1m0 1v1m0 11v1m0 14v1m0 4v1m0 7v1m0 25v1m0 34v1m0 5v1m0 19v1m0 6v2m0 10v1m0 40v2m0 47v1m0 3v1m0 13v1m0 22v1m0 3v1m0 10v1m0 11v1m0 20v1m0 6v1m0 136v1m0 3v1m0 25v1m0 17v1m0 5v1m0 5v1m0 9v1m0 2v1m0 3v1m0 21v1m0 13v1m0 12v1m0 4v1m0 11v1m0 6v1m0 20v1m0 1v1m0 62v1m0 6v1m0 32v1m0 40v1m0 12v1m0 4v1m0 1v1m0 32v1m0 14v1m0 1v1m0 10v1m0 17v1m0 14v1m0 4v1m0 3v1m0 23v1m0 12v1m0 3v1m0 3v1m0 2v1m0 25v1m0 4v1m0 35v1m0 2v1m0 11v1m0 26v1m0 5v1m0 11v1m0 8v1m0 2v1m0 9v1m0 10v3m0 28v1m0 3v1m0 11v1m0 19v1m0 11v1m0 23v1m0 7v1m0 5v1m0 8v1m0 43v1m0 14v1m0 1v1m0 7v1"/>
<path class="c26" d="M472 126v1m0 44v1m0 102v1m0 2v1m0 14v1m0 18v1m0 94v1m0 26v2m0 34v1m0 5v1m0 14v1m0 1v1m0 11v1m0 1v1m0 2v3m0 2v1m0 3v1m0 15v1m0 12v1m0 1v1m0 4v1m0 16v1m0 123v1m0 1v1m0 1v1m0 20v1m0 8v1m0 20v1m0 9v2m0 16v1m0 1v1m0 7v1m0 8v1m0 1v1m0 6v1m0 4v1m0 1v1m0 5v1m0 7v1m0 1v1m0 26v1m0 13v1m0 14v1m0 4v1m0 20v1m0 1v1m0 16v1m0 1v1m0 17v1m0 2v1m0 15v1m0 2v1m0 2v1m0 2v1m0 55v1m0 15v1m0 4v1m0 7v1m0 16v1m0 8v1m0 22v1m0 9v2m0 6v1m0 13v1m0 13v1m0 3v1m0 3v2m0 19v1m0 15v1m0 16v1m0 3v1m0 7v2m0 9v1m0 21v1m0 32v2m0 19v1m0 24v1m0 4v1m0 20v1m0 23v1m0 3v1m0 20v2m0 22v1m0 8v1m0 9v1m0 7v1m0 4v1m0 17v1m0 4v1m0 7v1m0 10v1m0 2v1m0 4v1m0 19v1"/>
<path class="c29" d="M472 127v1m0 20v1m0 61v1m0 24v1m0 19v2m0 2v1m0 1v1m0 3v1m0 30v1m0 11v1m0 8v1m0 7v1m0 11v1m0 21v1m0 6v1m0 3v1m0 7v1m0 5v1m0 14v2m0 1v1m0 37v1m0 8v1m0 57v1m0 11v1m0 18v1m0 3v1m0 5v1m0 18v1m0 139v1m0 22v1m0 41v1m0 2v1m0 17v1m0 4v1m0 29v1m0 1v2m0 1v1m0 3v1m0 1v1m0 15v1m0 13v1m0 35v1m0 3v2m0 138v1m0 47v1m0 29v1m0 23v1m0 5v1m0 6v1m0 13v1m0 3v1m0 36v1m0 25v1m0 7v1m0 5v1m0 3v1m0 17v1m0 12v1m0 2v1m0 10v1m0 14v1m0 13v1m0 13v1m0 24v1m0 16v1m0 35v1m0 1v1m0 1v1m0 1v1m0 3v1m0 15v1m0 1v2m0 13v1m0 6v1m0 11v2m0 1v1m0 21v1m0 6v1m0 6v1m0 8v1m0 1v1m0 1v1m0 2v1"/>
<path class="c23" d="M472 129v1m0 5v2m0 18v1m0 1v1m0 12v1m0 24v1m0 35v1m0 44v1m0 10v1m0 5v1m0 3v1m0 11v1m0 34v1m0 103v1m0 12v1m0 17v1m0 5v1m0 26v1m0 13v1m0 2v2m0 2v1m0 1v1m0 20v1m0 137v1m0 13v1m0 3v1m0 4v1m0 3v1m0 1v1m0 8v1m0 3v1m0 31v1m0 26v1m0 6v1m0 9v1m0 34v1m0 23v1m0 6v1m0 7v1m0 7v1m0 12v1m0 8v1m0 3v1m0 10v1m0 7v1m0 2v1m0 1v1m0 16v2m0 19v2m0 30v1m0 12v1m0 15v1m0 10v1m0 7v1m0 8v1m0 12v1m0 25v1m0 2v2m0 19v1m0 4v1m0 10v1m0 19v1m0 1v1m0 3v1m0 11v1m0 32v1m0 3v1m0 15v2m0 18v1m0 47v1m0 7v1m0 17v1m0 5v1m0 11v1m0 19v1m0 1v1m0 1v1m0 4v1m0 2v1m0 3v1m0 10v1m0 1v1m0 6v1m0 59v1m0 32v1m0 15v1m0 16v1"/>
<path class="c20" d="M472 130v1m0 20v1m0 7v1m0 6v1m0 1v2m0 64v1m0 53v1m0 10v1m0 154v3m0 68v1m0 19v1m0 158v1m0 84v1m0 53v1m0 18v1m0 4v1m0 28v1m0 2v1m0 15v1m0 17v2m0 13v2m0 52v1m0 6v1m0 8v1m0 33v1m0 32v1m0 2v1m0 16v2m0 2v1m0 1v1m0 5v1m0 1v1m0 48v1m0 141v1m0 5v1m0 1v1m0 42v1m0 16v1m0 87v2m0 40v1m0 42v1m0 1v1"/>
<path class="c17" d="M472 131v1m0 24v1m0 91v1m0 21v1m0 217v1m0 226v1m0 142v1m0 33v1m0 36v1m0 7v1m0 3v1m0 117v1m0 6v1m0 2v1m0 2v1m0 20v1m0 7v1"/>
<path class="c16" d="M472 132v1m0 17v1m0 16v1m0 636v1m0 21v1m0 234v1m0 30v1m0 247v1m0 50v1m0 18v1"/>
<path class="c19" d="M472 133v1m0 20v1m0 7v1m0 123v1m0 8v1m0 14v1m0 4v1m0 75v1m0 67v1m0 13v1m0 7v1m0 1v1m0 3v1m0 35v1m0 176v1m0 15v1m0 9v1m0 8v1m0 113v1m0 4v1m0 36v1m0 43v2m0 10v1m0 28v1m0 7v1m0 4v1m0 2v3m0 65v1m0 9v1m0 5v2m0 3v1m0 36v1m0 14v1m0 76v1m0 7v1m0 7v1m0 28v1m0 109v1m0 13v1m0 46v1m0 86v1m0 18v1"/>
<path class="c31" d="M472 138v1m0 61v1m0 1v1m0 1v1m0 36v1m0 2v1m0 8v2m0 78v1m0 1v1m0 9v1m0 16v1m0 13v1m0 5v1m0 5v1m0 16v1m0 1v1m0 4v1m0 8v1m0 19v2m0 1v1m0 8v1m0 3v1m0 37v1m0 9v1m0 25v1m0 4v1m0 173v1m0 7v1m0 28v1m0 3v1m0 55v1m0 116v1m0 31v1m0 85v1m0 113v1m0 18v1m0 3v1m0 13v1m0 19v2m0 21v1m0 14v1m0 10v1m0 13v1m0 13v1m0 5v1m0 3v1m0 3v1m0 16v1m0 6v1m0 66v1m0 10v1m0 15v1m0 11v1m0 2v1m0 6v1m0 11v1m0 19v1m0 3v1m0 8v1m0 5v1m0 9v1m0 16v1"/>
<path class="c21" d="M472 141v1m0 2v1m0 7v2m0 4v1m0 5v1m0 13v1m0 24v1m0 15v1m0 16v1m0 41v1m0 11v1m0 98v1m0 70v1m0 1v1m0 3v1m0 5v1m0 5v1m0 3v1m0 56v1m0 10v1m0 6v1m0 143v1m0 1v1m0 20v1m0 13v1m0 27v1m0 17v1m0 29v1m0 10v1m0 8v1m0 13v1m0 4v1m0 6v2m0 1v2m0 30v1m0 5v1m0 41v1m0 19v1m0 1v1m0 20v1m0 11v2m0 1v1m0 3v1m0 1v1m0 3v2m0 4v1m0 4v2m0 12v1m0 21v1m0 6v1m0 17v1m0 18v1m0 52v1m0 25v1m0 10v1m0 19v1m0 17v1m0 7v2m0 98v1m0 6v1m0 2v1m0 14v1m0 39v1m0 8v1m0 1v1"/>
<path class="c28" d="M472 142v1m0 2v2m0 51v1m0 19v1m0 3v1m0 1v1m0 5v1m0 33v1m0 6v1m0 1v1m0 30v2m0 1v1m0 35v1m0 2v1m0 11v1m0 1v1m0 12v1m0 24v1m0 26v1m0 42v1m0 20v1m0 30v1m0 34v1m0 2v1m0 2v1m0 8v1m0 125v1m0 25v1m0 4v1m0 12v1m0 2v2m0 1v1m0 6v1m0 8v1m0 11v1m0 19v1m0 10v1m0 17v1m0 12v1m0 20v1m0 21v1m0 9v1m0 24v1m0 7v1m0 28v1m0 6v1m0 20v1m0 1v1m0 34v1m0 23v1m0 6v1m0 5v1m0 41v1m0 2v1m0 47v2m0 21v1m0 7v1m0 11v1m0 1v1m0 10v1m0 6v1m0 5v1m0 1v1m0 19v1m0 8v1m0 1v1m0 33v1m0 30v3m0 40v1m0 44v1m0 6v1m0 7v1m0 8v1m0 25v1m0 7v1m0 27v1m0 27v1m0 5v1m0 25v1"/>
<path class="c15" d="M472 143v1m0 853v1m0 10v1m0 11v1m0 69v1m0 280v1m0 92v1"/>
<path class="c22" d="M472 149v1m0 10v1m0 16v1m0 1v1m0 19v1m0 12v1m0 7v1m0 16v1m0 7v1m0 33v1m0 2v1m0 11v1m0 3v1m0 14v1m0 4v1m0 44v1m0 28v1m0 3v1m0 48v1m0 12v1m0 11v1m0 89v1m0 164v1m0 7v1m0 8v1m0 24v1m0 28v1m0 19v1m0 15v1m0 40v1m0 2v2m0 10v1m0 9v1m0 7v1m0 19v1m0 13v1m0 36v1m0 22v1m0 12v1m0 7v1m0 2v1m0 4v2m0 14v1m0 27v1m0 1v1m0 6v1m0 3v1m0 65v1m0 1v1m0 44v1m0 31v1m0 88v1m0 33v2m0 4v1m0 5v1m0 13v2m0 2v1m0 14v1m0 11v1m0 49v1m0 1v1m0 1v1m0 38v1m0 2v1m0 1v3m0 22v1m0 3v1"/>
<path class="c57" d="M472 180v1m0 484v1"/>
<path class="c63" d="M472 181v10m0 422v45m0 8v23"/>
<path class="c51" d="M472 191v1m0 419v1"/>
<path class="c37" d="M472 192v1m0 127v1m0 28v1m0 58v1m0 22v1m0 147v1m0 6v1m0 1v1m0 682v1"/>
<path class="c32" d="M472 193v1m0 31v1m0 76v1m0 18v2m0 6v1m0 8v1m0 14v1m0 25v1m0 33v2m0 1v1m0 15v1m0 6v1m0 53v1m0 72v1m0 18v1m0 162v2m0 59v1m0 113v1m0 33v1m0 12v1m0 3v1m0 205v1m0 4v1m0 9v2m0 47v1m0 2v1m0 2v1m0 9v1m0 11v1m0 30v1m0 1v1m0 25v1m0 98v1m0 9v2m0 35v1m0 18v1m0 2v1m0 3v1"/>
<path class="c18" d="M472 214v1m0 69v1m0 112v1m0 53v1m0 75v1m0 18v1m0 12v1m0 133v1m0 11v1m0 138v1m0 1v1m0 46v1m0 94v1m0 1v2m0 11v2m0 14v1m0 71v1m0 8v1m0 14v1m0 5v1m0 52v1m0 47v1m0 17v1m0 123v1m0 4v1"/>
<path class="c40" d="M472 226v1m0 369v1m0 1v1m0 3v2"/>
<path class="c34" d="M472 227v1m0 1v1m0 21v1m0 8v1m0 65v1m0 9v1m0 19v1m0 24v1m0 22v1m0 4v1m0 5v1m0 6v1m0 74v1m0 1v1m0 1v1m0 51v1m0 21v1m0 178v1m0 200v1m0 111v1m0 115v1m0 85v1m0 7v1m0 11v1m0 142v1m0 12v1m0 25v1m0 1v1m0 4v1m0 11v1m0 28v1"/>
<path class="c36" d="M472 228v1m0 94v2m0 76v1m0 17v1m0 17v1m0 58v1m0 66v1m0 10v1m0 7v1m0 4v1m0 167v1m0 169v1m0 366v2"/>
<path class="c38" d="M472 258v1m0 152v1m0 11v1m0 76v1m0 89v1m0 6v1m0 672v1m0 2v1m0 10v1m0 17v1m0 118v1m0 20v1"/>
<path class="c35" d="M472 263v1m0 2v1m0 61v1m0 19v1m0 1v1m0 67v1m0 5v1m0 13v1m0 59v1m0 65v1m0 18v2m0 14v1m0 438v1m0 159v1m0 2v1m0 64v1m0 7v1"/>
<path class="c9" d="M472 289v1"/>
<path class="c39" d="M472 330v1m0 3v1m0 37v1m0 203v1m0 4v1m0 7v1m0 14v1"/>
<path class="c41" d="M472 410v1"/>
<path class="c14" d="M472 513v1m0 473v1m0 7v2"/>
<path class="c44" d="M472 577v1m0 2v1"/>
<path class="c43" d="M472 578v1m0 21v1m0 4v2"/>
<path class="c42" d="M472 591v4m0 12v1m0 81v1m0 798v1"/>
<path class="c46" d="M472 595v1"/>
<path class="c45" d="M472 601v1"/>
<path class="c49" d="M472 608v1"/>
<path class="c47" d="M472 609v1"/>
<path class="c50" d="M472 610v1m0 48v1"/>
<path class="c56" d="M472 612v1"/>
<path class="c52" d="M472 658v1"/>
<path class="c53" d="M472 660v1m0 2v2"/>
<path class="c55" d="M472 661v2"/>
<path class="c13" d="M472 872v1m0 1v1m0 278v1m0 185v1"/>
<path class="c12" d="M472 887v1m0 480v1"/>
</g>
<g stroke-width="6">
<path class="c20" d="M478 118v2m0 47v1m0 1v1m0 45v1m0 64v1m0 12v1m0 5v1m0 11v2m0 33v1m0 43v1m0 7v1m0 26v1m0 12v1m0 1v1m0 34v1m0 8v1m0 33v1m0 6v1m0 7v1m0 157v1m0 10v1m0 17v1m0 10v1m0 12v1m0 15v1m0 10v1m0 24v1m0 45v1m0 10v1m0 3v1m0 12v1m0 2v1m0 4v1m0 20v1m0 2v1m0 10v1m0 8v1m0 6v1m0 2v1m0 65v1m0 7v1m0 40v1m0 15v1m0 14v1m0 5v1m0 7v1m0 12v1m0 1v1m0 17v1m0 3v1m0 7v1m0 43v1m0 36v1m0 20v1m0 25v1m0 9v1m0 15v1m0 14v1m0 7v1m0 9v1m0 24v1m0 101v1m0 12v1"/>
<path class="c22" d="M478 120v1m0 8v1m0 2v1m0 14v1m0 49v1m0 1v1m0 17v1m0 19v1m0 14v1m0 8v1m0 15v1m0 6v1m0 1v1m0 1v1m0 5v1m0 32v2m0 14v1m0 32v1m0 14v1m0 68v1m0 47v1m0 1v1m0 1v1m0 6v1m0 6v1m0 3v1m0 161v1m0 28v1m0 8v1m0 16v1m0 5v1m0 48v1m0 12v1m0 2v1m0 22v1m0 8v1m0 54v1m0 14v1m0 26v1m0 11v1m0 8v1m0 9v1m0 3v1m0 17v1m0 9v1m0 25v1m0 15v1m0 19v2m0 8v1m0 18v1m0 2v1m0 53v1m0 9v1m0 4v1m0 38v1m0 18v1m0 2v2m0 25v1m0 49v1m0 8v1m0 18v2m0 2v1m0 16v1m0 8v1m0 11v1m0 2v1m0 7v1m0 16v1m0 22v2m0 2v1m0 39v1m0 8v1m0 1v1m0 10v1m0 7v1m0 15v1"/>
<path class="c28" d="M478 121v1m0 5v1m0 2v1m0 11v1m0 9v1m0 4v1m0 2v1m0 11v1m0 19v1m0 39v2m0 23v1m0 14v1m0 25v1m0 6v1m0 11v1m0 8v1m0 15v1m0 8v1m0 59v1m0 34v1m0 17v1m0 1v1m0 15v1m0 48v1m0 15v1m0 18v1m0 4v1m0 192v1m0 19v1m0 2v1m0 3v1m0 17v1m0 7v1m0 9v1m0 23v1m0 121v1m0 29v3m0 52v1m0 12v1m0 23v1m0 6v1m0 39v1m0 1v1m0 14v1m0 3v1m0 41v1m0 31v1m0 7v1m0 31v1m0 1v1m0 37v1m0 14v1m0 18v1m0 3v1m0 40v2m0 24v1m0 37v1m0 1v1m0 37v1m0 38v1"/>
<path class="c17" d="M478 122v1m0 31v1m0 79v1m0 13v2m0 20v1m0 8v1m0 2v1m0 6v1m0 68v1m0 15v1m0 53v1m0 103v1m0 167v1m0 4v1m0 11v1m0 18v1m0 4v1m0 16v1m0 42v1m0 70v1m0 28v1m0 14v1m0 44v1m0 27v1m0 1v1m0 2v1m0 16v1m0 9v2m0 8v2m0 17v1m0 26v1m0 8v1m0 3v1m0 20v1m0 24v1m0 3v1m0 10v1m0 3v1m0 66v1m0 15v1m0 47v1m0 90v1m0 1v1m0 36v1m0 30v1m0 20v1m0 35v1"/>
<path class="c21" d="M478 123v1m0 9v1m0 6v2m0 20v1m0 13v1m0 92v1m0 22v1m0 15v1m0 9v1m0 38v1m0 3v1m0 11v1m0 3v1m0 1v2m0 15v1m0 2v1m0 1v3m0 26v1m0 21v1m0 23v1m0 6v1m0 20v1m0 9v1m0 42v2m0 2v1m0 128v1m0 3v1m0 9v1m0 9v1m0 3v2m0 28v2m0 1v1m0 5v1m0 3v1m0 33v1m0 20v1m0 17v1m0 30v1m0 26v1m0 11v1m0 4v1m0 1v1m0 2v1m0 11v1m0 6v1m0 15v1m0 10v1m0 6v1m0 4v1m0 7v1m0 18v1m0 8v1m0 3v1m0 2v1m0 2v1m0 9v1m0 1v1m0 9v1m0 20v1m0 18v1m0 7v1m0 9v1m0 1v1m0 8v1m0 3v1m0 10v1m0 7v1m0 23v1m0 3v1m0 27v1m0 4v1m0 13v1m0 32v1m0 1v1m0 21v1m0 60v1m0 12v1m0 24v1m0 4v1m0 16v2m0 3v1m0 3v1m0 17v1m0 6v1m0 17v1m0 5v1m0 21v1m0 9v1m0 26v1"/>
<path class="c26" d="M478 124v1m0 12v1m0 35v1m0 24v1m0 23v1m0 1v2m0 34v1m0 1v1m0 10v1m0 2v1m0 43v1m0 8v1m0 23v1m0 16v1m0 13v1m0 2v1m0 21v2m0 4v1m0 6v1m0 9v1m0 9v2m0 3v1m0 7v1m0 7v1m0 4v1m0 1v1m0 10v1m0 7v1m0 4v1m0 4v3m0 3v2m0 13v1m0 7v1m0 20v1m0 17v1m0 4v1m0 122v1m0 2v1m0 8v1m0 17v1m0 2v1m0 33v1m0 4v1m0 7v1m0 1v1m0 3v1m0 1v1m0 4v1m0 3v1m0 13v1m0 30v2m0 1v1m0 7v1m0 3v1m0 22v1m0 10v1m0 10v1m0 10v1m0 29v2m0 10v1m0 1v1m0 1v1m0 1v1m0 26v1m0 32v2m0 11v1m0 7v1m0 21v1m0 37v1m0 16v1m0 6v1m0 21v1m0 4v1m0 23v1m0 22v1m0 8v1m0 11v1m0 12v1m0 13v1m0 4v1m0 4v1m0 6v1m0 9v1m0 2v2m0 14v1m0 3v1m0 9v1m0 1v1m0 3v1m0 11v2m0 10v1m0 3v1m0 12v1m0 2v1m0 4v1m0 3v1m0 2v1m0 29v1m0 12v1m0 9v1m0 4v1m0 34v1m0 12v2m0 16v1m0 6v1m0 4v1m0 10v1m0 7v1m0 6v1m0 5v1m0 11v1"/>
<path class="c24" d="M478 125v2m0 8v1m0 22v1m0 4v1m0 1v1m0 13v1m0 14v1m0 15v1m0 8v1m0 27v1m0 26v2m0 7v1m0 13v1m0 2v1m0 5v1m0 8v1m0 9v1m0 15v1m0 36v1m0 4v1m0 53v1m0 10v1m0 4v1m0 7v1m0 10v1m0 1v1m0 15v1m0 2v1m0 9v1m0 3v1m0 21v1m0 26v1m0 7v1m0 134v1m0 11v1m0 14v1m0 43v1m0 1v1m0 5v1m0 10v1m0 7v3m0 5v1m0 7v1m0 8v1m0 36v1m0 3v1m0 2v1m0 13v1m0 7v1m0 6v1m0 25v1m0 26v1m0 13v2m0 11v1m0 3v1m0 71v1m0 10v1m0 4v1m0 21v1m0 6v1m0 6v1m0 6v1m0 1v1m0 14v1m0 2v1m0 3v1m0 40v1m0 6v1m0 8v1m0 7v1m0 6v1m0 1v2m0 11v1m0 1v1m0 12v1m0 12v1m0 16v1m0 14v1m0 5v1m0 2v1m0 19v1m0 2v1m0 9v1m0 18v1m0 4v1m0 4v1m0 20v2m0 49v1m0 6v1m0 8v2m0 7v1m0 5v1m0 17v1m0 7v2m0 3v1m0 6v1m0 3v1m0 15v1m0 4v1m0 4v1m0 1v2m0 1v1m0 7v1m0 16v1"/>
<path class="c27" d="M478 128v1m0 20v1m0 14v1m0 9v1m0 18v1m0 2v1m0 9v1m0 23v1m0 12v1m0 2v1m0 4v1m0 15v1m0 17v1m0 1v1m0 35v1m0 7v2m0 4v1m0 12v1m0 11v1m0 4v1m0 24v1m0 1v1m0 11v2m0 13v1m0 34v1m0 10v1m0 10v1m0 1v1m0 10v1m0 53v2m0 1v1m0 3v1m0 1v2m0 9v1m0 4v1m0 16v1m0 109v1m0 12v1m0 11v1m0 51v1m0 5v1m0 27v1m0 21v1m0 1v1m0 46v1m0 1v1m0 9v1m0 32v1m0 21v1m0 24v1m0 62v1m0 81v1m0 44v1m0 2v2m0 4v1m0 7v1m0 11v1m0 5v1m0 23v1m0 6v1m0 5v1m0 10v1m0 33v1m0 1v1m0 1v1m0 12v1m0 3v1m0 15v2m0 17v1m0 9v1m0 1v1m0 20v1m0 2v1m0 1v1m0 9v1m0 15v1m0 35v1m0 28v1m0 13v2m0 4v1m0 8v1m0 1v2m0 11v1m0 6v1m0 19v2m0 1v1m0 5v1"/>
<path class="c25" d="M478 131v1m0 12v1m0 3v1m0 21v1m0 6v1m0 30v1m0 11v2m0 9v1m0 36v1m0 34v2m0 2v1m0 11v1m0 1v1m0 17v1m0 14v1m0 8v2m0 23v1m0 8v1m0 14v1m0 1v1m0 5v1m0 29v1m0 28v1m0 18v1m0 37v2m0 12v1m0 11v2m0 5v1m0 126v1m0 16v1m0 54v2m0 3v1m0 5v1m0 2v1m0 17v1m0 2v1m0 15v1m0 13v1m0 1v2m0 23v1m0 1v1m0 22v1m0 4v1m0 7v1m0 4v1m0 6v1m0 16v2m0 1v1m0 10v1m0 23v2m0 18v1m0 15v1m0 33v1m0 5v1m0 49v1m0 23v1m0 30v1m0 2v1m0 17v1m0 9v1m0 2v1m0 16v1m0 4v1m0 10v1m0 3v1m0 12v1m0 23v2m0 1v1m0 5v1m0 8v1m0 31v1m0 30v1m0 21v1m0 25v1m0 17v1m0 3v1m0 20v1m0 3v1m0 11v1m0 14v1m0 16v1m0 28v1m0 6v1m0 10v1m0 16v1"/>
<path class="c23" d="M478 134v1m0 1v1m0 1v2m0 10v1m0 15v1m0 1v1m0 9v1m0 16v1m0 7v1m0 12v1m0 18v2m0 59v1m0 16v1m0 2v1m0 27v1m0 26v1m0 9v1m0 4v1m0 8v1m0 4v1m0 12v1m0 9v2m0 8v2m0 4v1m0 1v1m0 7v1m0 8v1m0 12v1m0 1v1m0 11v1m0 6v1m0 16v1m0 1v1m0 5v1m0 3v1m0 17v1m0 166v1m0 2v1m0 19v1m0 4v1m0 19v2m0 3v1m0 3v1m0 29v2m0 17v1m0 13v1m0 2v1m0 25v2m0 4v1m0 14v1m0 5v2m0 16v1m0 11v1m0 4v1m0 5v1m0 13v1m0 2v1m0 10v1m0 12v1m0 16v1m0 2v1m0 12v1m0 9v1m0 5v1m0 32v1m0 13v1m0 33v1m0 22v1m0 1v1m0 3v1m0 7v1m0 1v1m0 7v1m0 3v1m0 1v1m0 6v1m0 11v1m0 4v1m0 11v1m0 27v1m0 2v1m0 9v1m0 1v1m0 24v1m0 24v1m0 15v1m0 14v1m0 4v1m0 28v1m0 3v1m0 8v1m0 4v1m0 4v1m0 6v1m0 39v1m0 1v1m0 6v1m0 14v1m0 8v1m0 11v1m0 2v1m0 31v1m0 13v1m0 11v1"/>
<path class="c19" d="M478 143v1m0 11v1m0 3v1m0 51v1m0 1v1m0 4v1m0 91v1m0 29v1m0 94v1m0 18v1m0 4v1m0 42v1m0 10v1m0 8v1m0 12v1m0 157v1m0 14v1m0 23v1m0 7v1m0 35v1m0 37v1m0 31v1m0 2v1m0 14v1m0 2v1m0 16v1m0 2v1m0 6v1m0 1v1m0 10v1m0 28v1m0 21v1m0 17v1m0 9v1m0 3v1m0 1v1m0 40v1m0 8v1m0 21v1m0 5v1m0 4v1m0 11v1m0 30v1m0 7v1m0 1v1m0 21v1m0 1v2m0 3v1m0 18v1m0 8v1m0 1v1m0 22v1m0 4v1m0 9v1m0 15v1m0 10v1m0 5v1m0 8v2m0 39v1m0 52v1m0 13v1m0 11v2m0 61v1m0 1v2m0 16v1m0 53v1"/>
<path class="c34" d="M478 145v1m0 81v1m0 38v1m0 63v1m0 7v1m0 78v2m0 58v1m0 17v1m0 46v1m0 30v1m0 2v1m0 2v1m0 2v1m0 9v1m0 377v1m0 3v1m0 322v1m0 32v1"/>
<path class="c31" d="M478 146v1m0 53v1m0 1v1m0 52v1m0 2v1m0 12v1m0 30v1m0 30v1m0 1v2m0 29v1m0 1v1m0 13v1m0 33v1m0 157v1m0 10v1m0 2v1m0 176v1m0 58v1m0 117v1m0 257v1m0 18v1m0 12v1m0 23v1m0 14v1m0 29v1m0 17v1m0 101v1m0 3v1m0 62v1m0 19v1m0 10v1m0 10v1m0 1v1m0 11v1m0 2v1m0 1v1m0 1v1"/>
<path class="c33" d="M478 151v1m0 9v1m0 78v1m0 107v1m0 3v1m0 52v1m0 2v1m0 10v1m0 37v1m0 7v1m0 87v1m0 27v1m0 13v1m0 4v1m0 122v2m0 106v1m0 93v1m0 401v1m0 171v1"/>
<path class="c29" d="M478 153v1m0 17v1m0 35v1m0 15v1m0 15v1m0 13v2m0 1v1m0 2v1m0 54v1m0 7v1m0 22v1m0 1v1m0 17v1m0 3v1m0 2v1m0 20v1m0 51v1m0 23v1m0 16v1m0 10v1m0 43v1m0 2v1m0 45v1m0 13v1m0 161v1m0 23v1m0 30v1m0 3v1m0 2v1m0 115v1m0 8v1m0 1v1m0 1v1m0 44v1m0 53v1m0 42v1m0 69v1m0 9v1m0 23v1m0 42v1m0 47v1m0 41v1m0 19v1m0 9v1m0 32v2m0 1v1m0 4v1m0 20v1m0 32v1m0 22v1m0 30v1m0 30v1m0 5v1"/>
<path class="c16" d="M478 156v1m0 93v1m0 30v1m0 13v1m0 59v2m0 94v1m0 72v1m0 190v1m0 19v1m0 1v1m0 8v1m0 96v1m0 87v1m0 63v2m0 26v1m0 15v1m0 4v1m0 3v1m0 19v1m0 12v1m0 24v1m0 31v2m0 34v1m0 9v1m0 9v1m0 153v1m0 42v1m0 1v1m0 75v1"/>
<path class="c30" d="M478 175v1m0 29v1m0 23v1m0 14v2m0 18v2m0 35v1m0 22v1m0 24v1m0 54v1m0 26v1m0 12v1m0 51v1m0 41v1m0 1v1m0 10v1m0 16v1m0 6v1m0 7v1m0 2v1m0 7v1m0 132v1m0 57v2m0 20v1m0 3v1m0 11v1m0 15v1m0 49v1m0 53v1m0 110v1m0 2v1m0 62v1m0 1v1m0 127v1m0 34v1m0 16v1m0 15v1m0 7v1m0 2v1m0 73v1m0 2v1m0 20v1m0 1v1m0 49v1m0 31v1m0 4v1m0 12v1m0 11v2"/>
<path class="c46" d="M478 180v1m0 481v1"/>
<path class="c49" d="M478 181v1m0 8v1m0 422v1m0 47v1"/>
<path class="c51" d="M478 182v1m0 480v2"/>
<path class="c63" d="M478 183v6m0 425v43m0 11v21"/>
<path class="c57" d="M478 189v1"/>
<path class="c41" d="M478 191v1"/>
<path class="c32" d="M478 201v1m0 39v2m0 20v1m0 121v1m0 157v1m0 40v1m0 4v1m0 1v1m0 7v1m0 210v1m0 9v1m0 124v1m0 23v1m0 83v1m0 108v1m0 38v1m0 26v1m0 33v1m0 20v1m0 16v1m0 30v1m0 72v1m0 75v1m0 9v1m0 18v1"/>
<path class="c35" d="M478 204v1m0 129v1m0 258v1m0 7v1m0 645v1m0 36v1m0 255v1"/>
<path class="c18" d="M478 209v1m0 68v1m0 11v2m0 17v1m0 79v1m0 39v1m0 57v1m0 27v1m0 18v1m0 25v1m0 142v1m0 8v1m0 20v1m0 111v1m0 1v1m0 6v1m0 14v1m0 1v1m0 34v1m0 8v1m0 3v1m0 14v2m0 52v1m0 20v1m0 4v1m0 4v1m0 4v1m0 1v2m0 10v1m0 35v1m0 4v1m0 5v1m0 7v1m0 41v1m0 50v1m0 2v1m0 69v1m0 9v1m0 18v1m0 87v1m0 3v1m0 8v1m0 20v1m0 6v1m0 20v1m0 6v1m0 8v1"/>
<path class="c15" d="M478 212v1m0 146v1m0 67v1m0 34v1m0 25v1m0 27v1m0 6v1m0 3v1m0 31v1m0 141v1m0 41v1m0 1v1m0 6v1m0 3v1m0 47v1m0 113v1m0 58v1m0 15v1m0 26v1m0 24v1m0 3v1m0 58v1m0 83v1m0 221v2m0 32v1"/>
<path class="c14" d="M478 214v1m0 145v1m0 381v1m0 125v1m0 8v1m0 15v1m0 172v1m0 9v1m0 369v1"/>
<path class="c36" d="M478 226v1m0 11v1m0 338v1m0 18v1m0 1v1m0 4v1m0 692v1m0 251v1m0 1v1"/>
<path class="c38" d="M478 228v1m0 368v1m0 4v1m0 928v1"/>
<path class="c12" d="M478 375v1m0 60v1m0 437v1m0 168v1m0 21v1m0 17v1m0 294v1m0 60v1"/>
<path class="c13" d="M478 426v1m0 289v1m0 21v1m0 11v1m0 93v1m0 142v1m0 37v1m0 440v1"/>
<path class="c37" d="M478 578v1m0 27v2m0 590v1m0 99v1m0 29v1"/>
<path class="c39" d="M478 580v1m0 27v1m0 1v1m0 444v1"/>
<path class="c40" d="M478 605v1m0 83v1"/>
<path class="c44" d="M478 609v1m0 49v2"/>
<path class="c47" d="M478 611v1m0 46v1"/>
<path class="c43" d="M478 612v1"/>
<path class="c56" d="M478 657v1"/>
<path class="c45" d="M478 665v1"/>
<path class="c50" d="M478 666v1"/>
<path class="c54" d="M478 667v1"/>
<path class="c10" d="M478 739v1m0 118v1"/>
<path class="c11" d="M478 1069v1"/>
<path class="c8" d="M478 1467v1"/>
</g>
<g stroke-width="6">
<path class="c21" d="M484 118v2m0 7v1m0 1v1m0 27v2m0 11v1m0 25v1m0 12v1m0 19v1m0 2v1m0 24v1m0 6v1m0 3v1m0 10v2m0 3v2m0 1v1m0 9v1m0 20v1m0 32v1m0 24v1m0 5v1m0 1v1m0 5v1m0 4v1m0 11v1m0 12v1m0 17v1m0 9v1m0 9v1m0 29v1m0 10v2m0 3v1m0 13v1m0 18v1m0 1v1m0 1v1m0 27v1m0 13v1m0 112v1m0 5v1m0 1v1m0 59v1m0 3v2m0 1v1m0 8v1m0 14v1m0 6v1m0 22v1m0 2v1m0 81v1m0 6v1m0 11v1m0 5v1m0 9v1m0 3v1m0 14v1m0 9v1m0 5v1m0 51v1m0 8v1m0 12v1m0 60v1m0 4v1m0 21v1m0 36v2m0 33v1m0 18v1m0 1v1m0 17v1m0 15v1m0 5v1m0 1v1m0 15v3m0 10v1m0 12v1m0 4v2m0 13v1m0 1v3m0 44v2m0 7v1m0 4v1m0 2v1m0 5v3m0 18v2m0 7v1m0 17v3m0 3v2m0 9v1m0 1v1m0 19v1m0 10v1m0 6v2m0 2v1m0 7v1"/>
<path class="c22" d="M484 120v1m0 23v1m0 16v1m0 9v1m0 22v1m0 17v2m0 3v1m0 27v2m0 6v1m0 2v1m0 4v2m0 14v2m0 4v1m0 4v1m0 3v1m0 2v1m0 23v1m0 5v1m0 2v1m0 30v1m0 17v1m0 2v1m0 20v2m0 13v1m0 5v1m0 2v1m0 2v1m0 16v1m0 3v1m0 33v1m0 6v1m0 2v2m0 6v1m0 3v1m0 3v1m0 5v1m0 26v1m0 3v1m0 24v1m0 1v1m0 1v1m0 3v1m0 168v1m0 4v1m0 8v1m0 4v1m0 24v1m0 18v1m0 4v1m0 1v1m0 13v1m0 3v1m0 1v1m0 7v1m0 3v1m0 71v1m0 3v1m0 1v1m0 22v1m0 3v1m0 199v1m0 3v1m0 6v1m0 6v1m0 11v1m0 10v1m0 4v1m0 5v1m0 9v1m0 9v1m0 14v1m0 1v1m0 7v1m0 3v1m0 7v1m0 7v1m0 27v1m0 1v2m0 8v1m0 4v1m0 5v1m0 6v1m0 64v1m0 28v1m0 13v1m0 14v1m0 15v1m0 12v1m0 4v1m0 9v1m0 7v2m0 1v1m0 18v1m0 9v1"/>
<path class="c30" d="M484 121v1m0 104v1m0 1v1m0 114v1m0 12v1m0 67v1m0 51v1m0 58v1m0 17v1m0 26v1m0 14v1m0 3v2m0 199v1m0 603v1m0 24v1m0 41v1m0 12v1"/>
<path class="c18" d="M484 122v1m0 29v1m0 1v1m0 1v1m0 10v1m0 4v1m0 30v1m0 66v1m0 19v1m0 3v1m0 4v1m0 2v1m0 11v1m0 9v1m0 4v1m0 43v2m0 34v2m0 3v1m0 21v1m0 22v1m0 46v1m0 9v1m0 5v1m0 4v1m0 35v1m0 2v1m0 134v1m0 20v1m0 8v1m0 3v1m0 1v1m0 6v1m0 12v1m0 3v1m0 15v2m0 3v1m0 4v1m0 17v1m0 6v1m0 1v1m0 5v1m0 13v1m0 12v1m0 17v1m0 2v1m0 2v2m0 1v1m0 3v1m0 10v1m0 1v1m0 8v1m0 1v1m0 2v1m0 7v1m0 5v2m0 10v2m0 1v1m0 42v1m0 3v1m0 1v2m0 6v1m0 12v3m0 3v1m0 5v1m0 1v1m0 12v1m0 7v2m0 2v1m0 4v1m0 3v1m0 6v5m0 4v1m0 2v1m0 7v1m0 1v1m0 1v2m0 2v1m0 4v1m0 1v1m0 1v2m0 4v2m0 4v2m0 8v1m0 13v1m0 10v1m0 1v1m0 1v1m0 22v3m0 4v1m0 8v1m0 2v1m0 9v1m0 5v1m0 2v1m0 6v1m0 14v1m0 15v1m0 7v1m0 44v1m0 14v1m0 23v1m0 8v2m0 10v1m0 1v1m0 3v1m0 7v1m0 2v1m0 6v1m0 6v1m0 7v2m0 10v1m0 9v1m0 2v1m0 38v1m0 44v1m0 38v2m0 3v1"/>
<path class="c16" d="M484 123v1m0 27v1m0 46v1m0 6v1m0 80v1m0 2v1m0 1v1m0 1v1m0 92v1m0 12v1m0 13v1m0 13v1m0 12v1m0 21v2m0 15v1m0 44v1m0 34v1m0 131v1m0 33v1m0 24v1m0 25v1m0 32v1m0 11v1m0 4v1m0 26v2m0 3v1m0 18v1m0 6v2m0 4v1m0 3v3m0 7v1m0 6v1m0 36v1m0 17v3m0 7v1m0 5v1m0 6v2m0 1v2m0 3v1m0 1v1m0 1v1m0 6v2m0 1v3m0 35v1m0 8v1m0 5v1m0 4v2m0 2v1m0 3v1m0 21v1m0 4v1m0 6v1m0 14v1m0 2v1m0 11v1m0 4v1m0 15v1m0 29v1m0 11v1m0 33v1m0 18v1m0 9v1m0 83v1m0 40v1m0 70v1m0 40v1m0 8v1m0 9v1m0 15v1m0 13v1"/>
<path class="c20" d="M484 124v1m0 38v1m0 13v1m0 17v1m0 4v1m0 6v1m0 7v1m0 7v1m0 41v1m0 34v1m0 14v2m0 4v1m0 38v1m0 42v1m0 35v1m0 6v1m0 8v2m0 7v1m0 26v1m0 10v1m0 14v1m0 11v2m0 9v1m0 11v1m0 141v1m0 20v1m0 3v1m0 3v1m0 8v1m0 1v1m0 12v1m0 4v1m0 6v2m0 2v1m0 2v1m0 3v1m0 8v1m0 1v1m0 3v1m0 10v1m0 9v1m0 6v1m0 10v1m0 31v1m0 2v2m0 1v1m0 4v1m0 7v1m0 5v1m0 30v1m0 1v1m0 24v1m0 1v1m0 4v1m0 6v2m0 15v1m0 1v1m0 12v1m0 48v1m0 20v1m0 29v1m0 9v1m0 18v1m0 1v1m0 4v2m0 1v1m0 23v1m0 38v1m0 12v1m0 2v1m0 17v1m0 7v1m0 2v1m0 3v1m0 42v1m0 2v1m0 3v1m0 5v1m0 22v2m0 3v1m0 8v1m0 22v3m0 1v1m0 17v1m0 19v1m0 21v1m0 8v1m0 1v1m0 7v3m0 5v1m0 5v1m0 17v1m0 2v1m0 18v1m0 13v1m0 7v1m0 6v1m0 16v2m0 15v1"/>
<path class="c14" d="M484 125v1m0 71v1m0 26v1m0 76v1m0 5v2m0 2v1m0 84v1m0 95v1m0 30v1m0 1v1m0 34v1m0 3v1m0 140v1m0 33v1m0 16v1m0 18v1m0 51v1m0 79v1m0 7v1m0 17v1m0 61v2m0 109v1m0 67v1m0 3v1m0 33v1m0 32v1m0 34v1m0 7v1m0 1v1m0 84v1m0 15v1m0 58v2m0 73v1m0 19v1"/>
<path class="c15" d="M484 126v1m0 104v1m0 50v1m0 22v1m0 4v1m0 1v2m0 212v1m0 40v1m0 138v1m0 1v1m0 19v1m0 11v1m0 5v1m0 61v1m0 26v1m0 7v1m0 42v2m0 4v1m0 6v1m0 94v1m0 5v1m0 71v1m0 17v1m0 7v1m0 1v1m0 4v1m0 28v1m0 3v1m0 21v1m0 49v1m0 15v1m0 4v1m0 2v1m0 23v2m0 97v1m0 21v1m0 2v1m0 1v1m0 15v1m0 13v1m0 2v1m0 1v1m0 90v1m0 21v1m0 5v1m0 2v1"/>
<path class="c26" d="M484 128v1m0 1v1m0 5v1m0 9v1m0 31v1m0 32v1m0 4v1m0 3v2m0 33v1m0 10v1m0 7v1m0 57v2m0 1v1m0 10v1m0 15v1m0 1v1m0 16v1m0 49v1m0 18v1m0 6v1m0 24v1m0 2v1m0 12v1m0 13v1m0 19v1m0 10v1m0 4v1m0 37v2m0 128v1m0 77v1m0 60v1m0 71v1m0 267v1m0 51v1m0 62v2m0 21v1m0 33v1m0 19v1m0 42v1m0 9v1m0 33v1m0 8v1m0 2v1m0 3v1m0 3v1m0 24v1m0 9v1m0 3v1m0 14v1"/>
<path class="c24" d="M484 131v1m0 5v1m0 3v1m0 1v1m0 64v1m0 33v1m0 16v1m0 16v1m0 54v1m0 23v1m0 2v1m0 6v1m0 40v1m0 1v1m0 32v1m0 24v1m0 36v1m0 41v1m0 4v1m0 3v1m0 2v1m0 18v1m0 1v1m0 5v1m0 122v1m0 3v1m0 2v1m0 2v1m0 36v2m0 35v1m0 59v1m0 18v1m0 50v1m0 8v1m0 7v1m0 3v1m0 1v1m0 7v1m0 7v1m0 83v1m0 85v1m0 44v1m0 6v1m0 36v1m0 8v1m0 33v1m0 2v2m0 18v1m0 11v2m0 8v1m0 10v1m0 7v1m0 4v1m0 3v1m0 8v1m0 4v1m0 19v1m0 1v1m0 14v1m0 9v1m0 11v1m0 13v1m0 5v1m0 15v1m0 23v1m0 11v1m0 4v1m0 35v1"/>
<path class="c28" d="M484 132v1m0 9v1m0 106v1m0 4v1m0 8v1m0 7v2m0 57v1m0 5v2m0 3v1m0 10v1m0 4v1m0 3v1m0 7v1m0 35v1m0 11v1m0 1v1m0 13v1m0 35v1m0 17v1m0 19v1m0 11v1m0 69v1m0 14v1m0 188v1m0 4v1m0 40v1m0 121v1m0 236v1m0 61v1m0 2v1m0 6v1m0 3v1m0 12v1m0 157v1"/>
<path class="c27" d="M484 133v2m0 83v1m0 3v1m0 14v1m0 31v1m0 5v1m0 50v1m0 11v1m0 5v1m0 5v1m0 2v1m0 12v1m0 1v1m0 1v1m0 52v1m0 8v1m0 9v1m0 4v1m0 13v1m0 5v1m0 4v1m0 38v1m0 8v2m0 11v1m0 2v1m0 1v1m0 8v1m0 3v1m0 25v1m0 3v2m0 7v1m0 3v1m0 94v1m0 107v1m0 1v1m0 123v1m0 26v1m0 203v1m0 35v2m0 31v1m0 27v1m0 31v1m0 20v1m0 16v2m0 5v1m0 5v1m0 2v1m0 30v1m0 34v1m0 53v1m0 34v1m0 6v1m0 50v1"/>
<path class="c31" d="M484 135v1m0 44v1m0 223v1m0 39v1m0 23v1m0 119v1m0 13v2m0 2v1m0 317v1m0 325v1m0 20v1m0 98v1m0 117v1"/>
<path class="c29" d="M484 138v3m0 99v2m0 5v1m0 12v1m0 84v1m0 97v1m0 29v3m0 20v2m0 16v1m0 29v1m0 56v1m0 5v1m0 110v1m0 239v2m0 87v1m0 236v1m0 87v1m0 69v1m0 30v1"/>
<path class="c23" d="M484 145v1m0 2v1m0 15v1m0 14v1m0 13v1m0 56v1m0 1v1m0 14v1m0 28v1m0 20v1m0 21v1m0 14v1m0 8v1m0 14v2m0 8v1m0 4v1m0 6v1m0 20v1m0 30v1m0 17v2m0 12v1m0 10v1m0 17v1m0 14v1m0 27v1m0 11v1m0 5v1m0 10v1m0 163v1m0 15v1m0 20v1m0 1v1m0 12v1m0 5v1m0 9v1m0 13v1m0 16v1m0 17v1m0 2v1m0 86v1m0 96v1m0 98v1m0 4v2m0 24v1m0 32v1m0 3v1m0 4v1m0 11v1m0 63v1m0 3v1m0 3v1m0 22v1m0 74v1m0 10v1m0 12v1m0 2v1m0 12v1m0 4v1m0 3v1m0 1v1m0 16v1m0 15v1m0 1v1m0 21v1m0 14v1m0 9v1"/>
<path class="c19" d="M484 147v1m0 5v1m0 1v1m0 4v1m0 5v1m0 1v1m0 6v1m0 16v1m0 9v1m0 3v1m0 7v1m0 10v1m0 7v1m0 2v1m0 2v1m0 82v2m0 59v1m0 3v1m0 9v1m0 13v1m0 22v1m0 16v1m0 8v1m0 19v2m0 80v1m0 7v1m0 122v1m0 1v1m0 1v1m0 1v2m0 11v1m0 11v1m0 5v1m0 53v1m0 4v2m0 12v1m0 6v1m0 4v1m0 7v1m0 6v1m0 18v1m0 7v1m0 3v1m0 1v2m0 8v1m0 5v2m0 2v1m0 24v1m0 7v1m0 19v2m0 2v1m0 2v1m0 27v1m0 1v1m0 1v1m0 2v1m0 7v1m0 32v2m0 1v4m0 1v4m0 2v1m0 8v1m0 2v1m0 11v1m0 9v1m0 10v1m0 1v1m0 1v1m0 27v1m0 1v2m0 3v1m0 1v1m0 3v1m0 1v1m0 1v2m0 2v1m0 3v1m0 8v1m0 6v1m0 1v1m0 7v1m0 1v1m0 1v1m0 1v1m0 16v1m0 12v1m0 4v1m0 3v1m0 2v1m0 3v1m0 27v1m0 6v1m0 29v1m0 2v1m0 7v1m0 23v1m0 26v1m0 4v1m0 14v1m0 1v1m0 1v1m0 1v1m0 10v1m0 7v1m0 15v1m0 7v1m0 5v1m0 23v1m0 8v1m0 28v1m0 1v1m0 1v1m0 14v1m0 3v1m0 11v1m0 1v1m0 34v1"/>
<path class="c17" d="M484 149v1m0 9v1m0 2v1m0 6v1m0 4v1m0 26v1m0 28v1m0 50v1m0 22v1m0 4v1m0 79v1m0 1v2m0 1v1m0 3v1m0 16v1m0 10v1m0 27v1m0 106v1m0 3v1m0 6v1m0 117v1m0 1v1m0 5v1m0 10v1m0 10v1m0 8v1m0 3v1m0 2v1m0 21v1m0 13v2m0 9v1m0 38v1m0 6v1m0 12v1m0 2v1m0 6v1m0 23v1m0 5v1m0 5v1m0 8v2m0 2v1m0 1v1m0 5v1m0 8v1m0 46v1m0 3v1m0 9v1m0 7v2m0 9v1m0 3v2m0 3v1m0 6v2m0 1v1m0 8v1m0 8v1m0 14v2m0 4v1m0 8v2m0 7v2m0 10v1m0 1v2m0 1v1m0 1v1m0 7v1m0 5v1m0 28v1m0 12v1m0 14v1m0 4v1m0 6v1m0 4v1m0 6v1m0 5v1m0 27v1m0 20v1m0 17v1m0 6v1m0 7v1m0 78v1m0 2v1m0 4v1m0 29v1m0 70v1m0 36v1m0 20v1m0 3v1"/>
<path class="c10" d="M484 150v1m0 48v1m0 542v2m0 292v1m0 102v1m0 240v1m0 121v1"/>
<path class="c25" d="M484 165v1m0 38v1m0 5v1m0 8v1m0 7v1m0 7v1m0 7v1m0 4v1m0 9v1m0 39v1m0 21v1m0 6v1m0 12v1m0 6v2m0 18v1m0 3v2m0 12v1m0 43v2m0 4v1m0 1v1m0 15v1m0 11v1m0 12v1m0 10v1m0 18v1m0 1v1m0 38v1m0 5v1m0 2v1m0 144v1m0 6v1m0 2v1m0 37v1m0 81v1m0 3v1m0 2v2m0 115v1m0 5v1m0 57v1m0 24v1m0 90v1m0 18v1m0 36v1m0 30v1m0 24v1m0 23v1m0 22v1m0 11v1m0 18v1m0 8v1m0 9v1m0 3v1m0 55v1m0 14v1m0 24v1m0 7v2m0 16v1m0 22v1m0 35v1m0 2v1"/>
<path class="c12" d="M484 173v1m0 2v1m0 235v1m0 308v1m0 19v1m0 77v1m0 218v1m0 129v1m0 49v1m0 72v1m0 252v1"/>
<path class="c42" d="M484 181v1m0 430v2m0 48v1"/>
<path class="c47" d="M484 182v1"/>
<path class="c49" d="M484 183v1"/>
<path class="c59" d="M484 184v1m0 430v1"/>
<path class="c63" d="M484 185v4m0 427v40m0 14v19"/>
<path class="c48" d="M484 189v1m0 474v1m0 2v1"/>
<path class="c41" d="M484 190v1m0 420v1m0 47v1"/>
<path class="c34" d="M484 191v1m0 399v1m0 4v1m0 1v1m0 326v1"/>
<path class="c13" d="M484 234v1m0 71v1m0 68v1m0 362v1m0 6v1m0 28v1m0 118v1m0 12v1m0 40v1m0 128v1m0 73v1m0 60v1m0 27v2m0 14v1m0 122v1m0 2v1m0 44v1m0 97v1m0 17v2"/>
<path class="c33" d="M484 238v1m0 238v1m0 56v1"/>
<path class="c32" d="M484 244v1m0 28v1m0 75v1m0 68v1m0 67v1m0 44v1m0 65v1m0 7v1"/>
<path class="c35" d="M484 251v1m0 340v1"/>
<path class="c11" d="M484 303v1m0 422v2m0 116v1m0 192v1m0 95v1"/>
<path class="c36" d="M484 334v1m0 258v1m0 16v1"/>
<path class="c37" d="M484 342v1"/>
<path class="c39" d="M484 608v1m0 54v1"/>
<path class="c38" d="M484 609v1m0 352v1"/>
<path class="c51" d="M484 614v1"/>
<path class="c53" d="M484 656v1"/>
<path class="c45" d="M484 657v1"/>
<path class="c43" d="M484 658v1"/>
<path class="c40" d="M484 660v2"/>
<path class="c46" d="M484 665v2"/>
<path class="c55" d="M484 668v1"/>
<path class="c56" d="M484 669v1"/>
<path class="c9" d="M484 804v1"/>
<path class="c8" d="M484 1140v1"/>
</g>
<g stroke-width="6">
<path class="c20" d="M490 118v1m0 19v1m0 3v1m0 2v1m0 15v1m0 8v2m0 2v2m0 2v1m0 40v1m0 5v1m0 11v1m0 1v1m0 5v1m0 6v2m0 5v1m0 40v2m0 3v1m0 3v1m0 3v1m0 1v1m0 4v1m0 55v1m0 7v1m0 16v1m0 10v1m0 45v1m0 11v1m0 10v2m0 1v1m0 1v1m0 3v1m0 4v1m0 2v1m0 5v3m0 10v1m0 43v1m0 13v1m0 9v1m0 2v1m0 133v2m0 27v1m0 5v1m0 1v1m0 33v1m0 1v1m0 10v1m0 3v1m0 113v1m0 9v1m0 21v1m0 2v1m0 20v2m0 56v1m0 8v1m0 3v2m0 2v1m0 123v1m0 2v1m0 2v1m0 11v1m0 2v1m0 2v1m0 4v1m0 4v1m0 3v1m0 33v1m0 15v1m0 2v1m0 6v1m0 14v1m0 12v1m0 5v1m0 1v1m0 21v1m0 9v1m0 4v1m0 1v2m0 42v1m0 24v1m0 3v1m0 1v1m0 1v2m0 14v1m0 13v1m0 5v2m0 3v1m0 3v1m0 16v2m0 1v1m0 3v1m0 1v1m0 18v1m0 18v1"/>
<path class="c19" d="M490 119v1m0 17v1m0 24v2m0 1v2m0 5v1m0 6v1m0 15v1m0 1v3m0 4v2m0 7v1m0 2v2m0 4v1m0 11v1m0 1v1m0 5v1m0 26v1m0 6v2m0 5v1m0 3v1m0 4v1m0 4v3m0 3v1m0 2v1m0 3v1m0 8v1m0 5v1m0 5v1m0 14v1m0 7v2m0 16v1m0 19v1m0 13v1m0 24v2m0 8v1m0 4v1m0 10v1m0 3v1m0 3v1m0 10v1m0 2v2m0 6v1m0 6v1m0 2v1m0 10v1m0 16v1m0 1v1m0 10v1m0 1v1m0 8v1m0 1v1m0 3v1m0 23v1m0 3v2m0 125v2m0 8v2m0 5v1m0 21v1m0 2v1m0 1v2m0 2v1m0 2v2m0 4v4m0 12v4m0 1v1m0 1v1m0 1v1m0 3v1m0 1v2m0 12v1m0 2v1m0 3v1m0 2v2m0 24v1m0 2v1m0 7v2m0 8v1m0 19v1m0 24v1m0 2v1m0 5v1m0 2v2m0 7v1m0 5v1m0 1v3m0 7v1m0 1v1m0 2v1m0 2v2m0 16v1m0 2v1m0 48v2m0 1v1m0 13v1m0 4v2m0 81v2m0 9v2m0 28v2m0 10v1m0 9v1m0 2v1m0 6v1m0 9v3m0 15v1m0 7v2m0 2v2m0 5v1m0 1v1m0 1v1m0 12v1m0 1v1m0 4v2m0 7v1m0 10v1m0 3v1m0 31v2m0 3v1m0 2v1m0 2v1m0 1v1m0 1v1m0 2v1m0 1v1m0 8v1m0 14v2m0 1v1m0 11v1m0 5v1m0 16v1m0 9v1m0 2v1m0 8v2m0 2v1m0 2v2m0 18v1m0 1v1m0 5v1m0 9v1m0 7v1m0 3v1m0 5v1m0 1v1m0 2v2m0 2v1m0 10v1m0 5v1m0 4v1m0 4v1m0 5v2"/>
<path class="c14" d="M490 120v1m0 9v1m0 28v1m0 54v1m0 74v1m0 28v1m0 3v1m0 37v1m0 37v1m0 20v1m0 6v1m0 73v1m0 14v1m0 176v1m0 7v2m0 36v1m0 9v1m0 29v1m0 1v1m0 23v1m0 39v1m0 8v2m0 3v1m0 21v1m0 1v3m0 12v1m0 11v1m0 58v3m0 17v1m0 13v1m0 6v1m0 10v1m0 40v1m0 2v1m0 4v1m0 11v1m0 4v1m0 1v1m0 1v1m0 9v2m0 4v1m0 4v1m0 1v1m0 9v1m0 70v1m0 53v1m0 39v1m0 2v1m0 33v1m0 35v1m0 71v1m0 44v1m0 34v1m0 38v1"/>
<path class="c23" d="M490 121v1m0 18v1m0 103v1m0 1v1m0 9v1m0 4v2m0 3v1m0 61v2m0 11v1m0 15v1m0 49v1m0 61v1m0 67v1m0 6v1m0 8v1m0 15v1m0 12v1m0 11v1m0 2v1m0 220v1m0 5v2m0 4v1m0 3v1m0 372v1m0 46v1m0 16v1m0 24v1m0 32v1m0 146v1"/>
<path class="c17" d="M490 122v1m0 12v1m0 7v1m0 6v3m0 7v1m0 6v2m0 7v1m0 35v1m0 2v1m0 5v1m0 2v1m0 7v2m0 36v1m0 7v1m0 3v1m0 3v1m0 3v1m0 25v1m0 6v1m0 13v1m0 24v2m0 4v1m0 4v1m0 1v1m0 27v1m0 11v3m0 2v2m0 1v2m0 4v1m0 6v1m0 2v2m0 2v1m0 9v1m0 1v1m0 3v2m0 1v1m0 3v2m0 3v2m0 1v1m0 26v1m0 7v3m0 1v1m0 5v1m0 3v1m0 15v1m0 32v1m0 121v1m0 8v1m0 15v1m0 6v1m0 2v1m0 6v2m0 2v2m0 3v1m0 10v1m0 7v2m0 31v1m0 2v1m0 4v1m0 3v1m0 6v1m0 25v1m0 3v1m0 5v1m0 4v1m0 3v2m0 3v1m0 1v1m0 1v1m0 2v1m0 12v1m0 4v1m0 6v3m0 1v2m0 8v2m0 1v2m0 3v1m0 8v2m0 1v1m0 5v1m0 1v1m0 5v1m0 1v2m0 14v2m0 8v4m0 6v1m0 1v1m0 7v1m0 2v1m0 3v1m0 11v2m0 10v2m0 2v1m0 6v1m0 4v1m0 14v2m0 4v2m0 3v1m0 10v1m0 5v2m0 11v1m0 7v1m0 1v1m0 8v1m0 2v2m0 1v1m0 2v3m0 5v1m0 5v1m0 2v1m0 7v2m0 2v1m0 2v1m0 2v1m0 1v1m0 2v1m0 3v1m0 2v1m0 2v2m0 7v1m0 5v1m0 4v1m0 8v1m0 1v1m0 3v3m0 12v1m0 2v1m0 3v1m0 2v1m0 3v4m0 22v1m0 3v1m0 9v1m0 2v1m0 35v1m0 1v1m0 18v2m0 7v1m0 11v1m0 1v1m0 5v3m0 8v1m0 5v1m0 4v1m0 1v1m0 4v1m0 2v1m0 1v4m0 1v1m0 1v1m0 3v1m0 2v2m0 2v1m0 1v1m0 3v1m0 7v1m0 4v1m0 3v1m0 7v2m0 1v2m0 1v2m0 36v1m0 10v2m0 16v1m0 26v1"/>
<path class="c18" d="M490 123v1m0 1v2m0 1v1m0 7v1m0 4v1m0 2v1m0 2v3m0 7v1m0 6v1m0 4v1m0 22v3m0 11v2m0 1v1m0 1v1m0 8v1m0 2v1m0 7v1m0 25v1m0 6v1m0 2v1m0 11v2m0 3v2m0 5v1m0 1v1m0 2v1m0 14v2m0 11v1m0 39v1m0 2v1m0 1v3m0 2v1m0 8v1m0 2v1m0 7v3m0 5v1m0 10v1m0 14v1m0 1v1m0 3v2m0 1v2m0 3v1m0 4v1m0 4v1m0 3v1m0 6v2m0 10v1m0 7v1m0 1v1m0 2v1m0 3v2m0 18v1m0 1v1m0 5v1m0 25v1m0 10v1m0 1v1m0 7v1m0 127v3m0 8v2m0 4v1m0 2v4m0 5v2m0 2v1m0 1v1m0 3v1m0 8v2m0 2v1m0 2v1m0 2v1m0 6v1m0 2v1m0 9v2m0 12v1m0 1v1m0 12v2m0 10v1m0 25v2m0 5v1m0 1v2m0 12v3m0 9v1m0 12v1m0 30v1m0 1v2m0 5v1m0 4v1m0 2v1m0 2v1m0 10v3m0 1v1m0 5v1m0 2v1m0 14v1m0 4v1m0 1v1m0 7v1m0 12v1m0 9v1m0 7v1m0 5v1m0 2v1m0 1v1m0 1v1m0 1v2m0 1v1m0 3v1m0 2v2m0 23v3m0 2v1m0 54v2m0 2v1m0 7v1m0 2v1m0 2v1m0 3v1m0 1v2m0 1v1m0 1v2m0 6v1m0 8v1m0 5v3m0 16v1m0 9v2m0 6v2m0 11v1m0 6v1m0 8v1m0 2v1m0 6v3m0 3v1m0 3v1m0 1v1m0 20v1m0 10v1m0 7v2m0 1v1m0 5v1m0 2v1m0 5v2m0 4v1m0 3v2m0 11v1m0 8v1m0 1v2m0 4v1m0 3v1m0 5v1m0 1v1m0 1v4m0 3v1m0 12v1m0 1v1m0 15v1m0 7v1m0 2v4m0 3v1m0 3v1m0 3v1m0 9v3m0 5v1m0 11v1m0 2v1m0 3v1m0 1v1m0 6v1m0 4v2m0 1v1m0 6v1m0 2v1m0 1v3m0 1v1m0 4v2m0 3v1m0 2v1"/>
<path class="c24" d="M490 124v1m0 52v1m0 51v1m0 25v1m0 58v1m0 12v1m0 5v1m0 43v1m0 27v1m0 27v1m0 95v1m0 12v1m0 15v1m0 15v1m0 2v1m0 11v1m0 2v1m0 224v1m0 9v2m0 6v1m0 3v1m0 413v1m0 29v1m0 1v1m0 7v1m0 16v1m0 20v1m0 152v1m0 3v1"/>
<path class="c22" d="M490 127v1m0 74v1m0 5v1m0 1v1m0 29v1m0 2v1m0 19v1m0 8v1m0 35v1m0 8v1m0 21v1m0 4v1m0 2v1m0 5v1m0 2v1m0 2v1m0 5v2m0 15v1m0 4v1m0 3v1m0 7v1m0 10v1m0 57v1m0 8v1m0 29v1m0 16v1m0 22v2m0 14v4m0 14v1m0 19v1m0 192v1m0 18v1m0 12v1m0 2v1m0 363v1m0 63v1m0 1v1m0 49v1m0 2v1m0 9v1m0 198v1m0 13v1m0 8v1m0 5v1"/>
<path class="c15" d="M490 129v1m0 24v1m0 1v1m0 1v1m0 255v1m0 10v1m0 126v1m0 1v1m0 5v1m0 138v1m0 8v1m0 23v1m0 2v1m0 41v1m0 1v1m0 1v1m0 73v1m0 23v1m0 1v1m0 3v1m0 4v1m0 2v2m0 9v2m0 1v1m0 59v1m0 3v2m0 14v1m0 1v1m0 1v2m0 3v1m0 1v2m0 3v1m0 4v1m0 3v1m0 5v1m0 3v2m0 4v1m0 16v1m0 12v3m0 4v1m0 2v1m0 1v1m0 6v1m0 9v1m0 3v1m0 2v1m0 3v1m0 3v1m0 6v2m0 3v1m0 2v2m0 5v1m0 4v2m0 1v1m0 7v1m0 12v1m0 14v1m0 5v1m0 47v1m0 11v1m0 41v1m0 9v1m0 3v1m0 11v1m0 13v1m0 41v2m0 13v2m0 19v1m0 15v3m0 2v1m0 40v1m0 25v1m0 39v1m0 24v1m0 5v1"/>
<path class="c13" d="M490 131v1m0 189v1m0 75v1m0 46v1m0 54v1m0 50v1m0 225v1m0 100v2m0 17v1m0 9v1m0 285v1m0 85v1m0 22v1m0 22v1"/>
<path class="c11" d="M490 132v1m0 1265v1m0 82v1"/>
<path class="c12" d="M490 133v1m0 134v1m0 176v1m0 72v1m0 289v1m0 86v1m0 403v1m0 99v1m0 132v1"/>
<path class="c16" d="M490 134v1m0 18v1m0 1v1m0 92v1m0 16v1m0 15v1m0 6v1m0 5v2m0 65v1m0 56v1m0 3v1m0 4v1m0 21v3m0 2v1m0 18v1m0 28v1m0 13v1m0 5v1m0 22v1m0 10v1m0 29v2m0 102v2m0 1v1m0 4v1m0 3v1m0 1v2m0 3v1m0 21v1m0 1v1m0 5v1m0 2v1m0 3v1m0 19v1m0 4v2m0 2v1m0 6v1m0 18v1m0 41v1m0 1v1m0 10v1m0 10v1m0 3v2m0 1v1m0 1v1m0 10v1m0 4v1m0 8v1m0 6v1m0 1v2m0 6v1m0 12v1m0 5v1m0 9v1m0 18v1m0 6v1m0 16v1m0 4v1m0 4v1m0 3v2m0 1v1m0 2v2m0 3v1m0 1v1m0 1v1m0 1v1m0 5v1m0 15v2m0 21v1m0 4v3m0 6v1m0 1v2m0 5v1m0 2v2m0 1v2m0 2v1m0 3v2m0 3v1m0 3v1m0 2v1m0 5v1m0 6v1m0 2v1m0 9v1m0 1v3m0 9v1m0 10v2m0 2v1m0 2v1m0 7v1m0 36v1m0 8v1m0 1v3m0 1v1m0 4v1m0 22v1m0 41v1m0 23v1m0 29v1m0 5v1m0 7v1m0 3v1m0 1v2m0 12v1m0 22v1m0 4v1m0 3v1m0 29v1m0 9v2m0 14v1m0 30v1m0 17v1m0 13v1"/>
<path class="c21" d="M490 139v1m0 6v1m0 26v1m0 22v1m0 4v1m0 16v1m0 11v1m0 4v1m0 11v1m0 1v2m0 20v1m0 1v3m0 26v1m0 1v1m0 2v1m0 24v1m0 2v2m0 1v1m0 19v1m0 20v3m0 3v1m0 3v1m0 3v1m0 6v1m0 8v1m0 68v1m0 10v1m0 1v1m0 4v1m0 6v1m0 17v1m0 4v1m0 35v1m0 10v1m0 2v1m0 136v1m0 77v1m0 15v1m0 13v1m0 16v1m0 86v1m0 16v1m0 14v1m0 225v1m0 7v1m0 4v1m0 4v1m0 64v1m0 20v1m0 6v1m0 2v2m0 8v2m0 10v1m0 14v1m0 11v1m0 102v1m0 22v1m0 4v1m0 12v1m0 8v1m0 27v1m0 3v1m0 8v2"/>
<path class="c26" d="M490 180v1m0 46v1m0 30v1m0 1v1m0 90v1m0 26v1m0 149v1m0 14v1m0 24v1m0 1v1m0 9v1m0 15v1m0 6v2m0 227v1m0 640v1"/>
<path class="c25" d="M490 181v1m0 9v1m0 34v1m0 27v1m0 71v1m0 13v1m0 2v1m0 60v1m0 6v1m0 120v1m0 1v1m0 6v1m0 29v1m0 18v1m0 4v1m0 6v1m0 208v1m0 19v1m0 1v1m0 380v1m0 29v1m0 2v1m0 73v1m0 6v1m0 186v1m0 20v1"/>
<path class="c40" d="M490 182v1"/>
<path class="c45" d="M490 183v1"/>
<path class="c51" d="M490 184v2m0 485v1"/>
<path class="c63" d="M490 186v2m0 429v39m0 16v17"/>
<path class="c49" d="M490 188v1m0 467v1m0 10v1"/>
<path class="c39" d="M490 189v1"/>
<path class="c35" d="M490 190v1m0 470v1m0 1v1"/>
<path class="c30" d="M490 200v1m0 50v1m0 353v1"/>
<path class="c8" d="M490 203v1"/>
<path class="c27" d="M490 228v1m0 105v1m0 13v1m0 184v1m0 1v1m0 42v1m0 12v1m0 1v1m0 5v1m0 8v1m0 105v1m0 121v2m0 446v1m0 45v1m0 206v1m0 5v1m0 4v1"/>
<path class="c28" d="M490 238v1m0 2v1m0 88v1m0 11v1m0 2v1m0 6v1m0 35v1m0 19v1m0 198v1m0 212v1m0 665v1"/>
<path class="c32" d="M490 349v1m0 260v1m0 1v1m0 76v1"/>
<path class="c29" d="M490 350v1m0 39v1m0 207v1m0 1v1m0 5v1m0 864v1"/>
<path class="c10" d="M490 448v1m0 1100v1"/>
<path class="c33" d="M490 530v1m0 129v1m0 1v1m0 535v1"/>
<path class="c38" d="M490 531v1m0 81v1"/>
<path class="c31" d="M490 536v1m0 72v1m0 49v1"/>
<path class="c34" d="M490 611v1"/>
<path class="c44" d="M490 614v1m0 42v1"/>
<path class="c50" d="M490 615v1"/>
<path class="c58" d="M490 616v1"/>
<path class="c41" d="M490 658v1"/>
<path class="c37" d="M490 664v2"/>
<path class="c42" d="M490 666v1"/>
<path class="c47" d="M490 668v1"/>
<path class="c46" d="M490 669v2"/>
<path class="c9" d="M490 1226v1"/>
</g>
<g stroke-width="5">
<path class="c17" d="M495.5 118v1m0 2v1m0 2v1m0 2v1m0 7v1m0 1v2m0 1v1m0 3v1m0 16v1m0 9v1m0 4v2m0 1v1m0 13v1m0 1v1m0 1v1m0 5v1m0 3v2m0 2v1m0 1v2m0 1v1m0 18v1m0 12v1m0 1v1m0 6v1m0 1v1m0 23v1m0 11v1m0 12v2m0 33v1m0 3v2m0 4v1m0 1v2m0 2v1m0 5v1m0 1v1m0 9v1m0 4v1m0 3v1m0 19v4m0 2v1m0 1v1m0 1v1m0 1v1m0 10v1m0 2v5m0 1v2m0 3v1m0 1v1m0 1v3m0 8v1m0 5v1m0 1v1m0 6v1m0 2v1m0 12v1m0 1v1m0 5v1m0 5v1m0 3v1m0 11v1m0 9v1m0 10v2m0 8v1m0 1v1m0 7v1m0 4v1m0 13v1m0 11v1m0 9v1m0 104v2m0 10v1m0 2v1m0 18v1m0 4v1m0 1v1m0 14v1m0 16v1m0 18v1m0 3v1m0 2v2m0 8v2m0 3v1m0 8v1m0 3v1m0 16v1m0 18v1m0 41v2m0 1v1m0 2v2m0 1v2m0 2v1m0 17v2m0 11v2m0 4v1m0 85v1m0 2v2m0 5v1m0 20v1m0 8v1m0 1v1m0 35v1m0 20v4m0 4v1m0 2v1m0 4v1m0 31v2m0 2v1m0 4v1m0 3v1m0 19v3m0 2v1m0 2v2m0 1v1m0 1v2m0 3v1m0 1v1m0 4v1m0 7v1m0 2v1m0 3v1m0 4v1m0 2v1m0 6v1m0 3v1m0 13v1m0 3v1m0 1v1m0 4v1m0 2v1m0 21v1m0 14v1m0 1v4m0 29v1m0 1v3m0 1v1m0 10v1m0 1v3m0 13v1m0 3v1m0 5v2m0 3v1m0 3v1m0 1v1m0 6v1m0 4v2m0 3v1m0 1v1m0 13v1m0 5v3m0 3v1m0 17v4m0 2v1m0 1v1m0 4v1m0 1v1m0 1v2m0 3v1m0 2v1m0 1v3m0 5v1m0 3v3m0 1v1m0 3v1"/>
<path class="c15" d="M495.5 119v1m0 3v1m0 1v2m0 3v1m0 12v1m0 4v1m0 8v1m0 11v1m0 22v1m0 19v1m0 10v2m0 6v1m0 1v2m0 4v2m0 26v2m0 2v1m0 1v3m0 1v1m0 1v2m0 1v1m0 1v2m0 1v1m0 2v2m0 12v2m0 1v1m0 3v1m0 5v1m0 33v1m0 10v1m0 1v1m0 3v1m0 3v1m0 2v2m0 2v2m0 2v1m0 7v1m0 35v1m0 31v1m0 1v1m0 16v1m0 2v1m0 4v1m0 24v1m0 1v1m0 2v1m0 6v1m0 1v1m0 30v2m0 1v1m0 39v1m0 90v1m0 12v2m0 11v1m0 9v1m0 2v1m0 2v1m0 6v1m0 1v1m0 1v2m0 7v1m0 7v1m0 2v2m0 1v1m0 1v1m0 2v1m0 1v1m0 3v1m0 15v2m0 2v1m0 10v1m0 12v1m0 21v1m0 1v1m0 3v1m0 2v1m0 3v2m0 3v1m0 4v1m0 3v1m0 10v1m0 4v1m0 2v1m0 11v1m0 1v1m0 1v1m0 2v1m0 21v3m0 2v2m0 1v2m0 1v1m0 4v1m0 2v1m0 4v1m0 3v2m0 15v1m0 3v2m0 1v1m0 20v1m0 2v1m0 4v1m0 17v1m0 4v1m0 5v2m0 3v1m0 8v1m0 3v1m0 15v1m0 5v1m0 3v1m0 1v1m0 4v1m0 2v1m0 8v1m0 8v1m0 2v1m0 2v4m0 1v2m0 2v1m0 1v1m0 3v3m0 2v1m0 4v1m0 7v2m0 6v1m0 1v1m0 2v3m0 5v2m0 3v2m0 4v1m0 3v2m0 3v1m0 12v2m0 1v2m0 1v1m0 1v1m0 1v2m0 3v1m0 2v1m0 1v1m0 5v1m0 10v1m0 14v1m0 3v2m0 2v1m0 26v1m0 20v1m0 25v1m0 2v1m0 9v1m0 4v1m0 1v2m0 17v2m0 1v1m0 9v1m0 6v2m0 1v1m0 7v1m0 3v1m0 9v1m0 3v1m0 11v1m0 1v1m0 3v2m0 1v1m0 1v1m0 2v1m0 8v1m0 7v1m0 23v1m0 3v3m0 24v1m0 2v1m0 12v2m0 4v1m0 5v1"/>
<path class="c16" d="M495.5 120v1m0 8v1m0 1v3m0 5v1m0 5v1m0 9v1m0 4v1m0 17v1m0 22v1m0 7v1m0 7v1m0 1v4m0 7v1m0 1v1m0 4v1m0 9v1m0 16v1m0 1v1m0 2v1m0 6v1m0 15v1m0 10v1m0 6v1m0 1v2m0 1v2m0 2v1m0 19v2m0 3v1m0 7v1m0 5v1m0 1v2m0 27v2m0 1v1m0 20v1m0 6v2m0 2v1m0 3v1m0 1v1m0 10v1m0 8v1m0 1v1m0 1v3m0 6v1m0 10v2m0 6v1m0 2v1m0 4v1m0 1v2m0 1v1m0 2v2m0 2v1m0 1v1m0 1v1m0 10v1m0 2v3m0 1v1m0 1v2m0 4v3m0 19v2m0 11v1m0 140v1m0 6v1m0 1v1m0 2v1m0 4v1m0 2v1m0 1v1m0 15v1m0 2v1m0 1v1m0 3v1m0 1v1m0 1v1m0 5v1m0 1v1m0 1v2m0 7v1m0 20v1m0 1v1m0 1v1m0 5v1m0 9v1m0 12v1m0 5v1m0 5v1m0 1v1m0 12v2m0 7v1m0 33v1m0 7v1m0 2v1m0 2v1m0 16v2m0 5v1m0 3v2m0 2v1m0 1v1m0 6v1m0 4v1m0 10v2m0 6v1m0 1v1m0 1v1m0 24v1m0 22v1m0 1v1m0 6v1m0 1v1m0 1v1m0 1v2m0 2v2m0 1v2m0 10v1m0 11v1m0 8v1m0 6v3m0 18v2m0 4v1m0 7v1m0 6v1m0 4v1m0 2v1m0 9v1m0 2v1m0 11v1m0 8v4m0 2v2m0 9v1m0 4v2m0 9v1m0 1v1m0 3v1m0 2v1m0 2v1m0 1v1m0 3v1m0 2v1m0 9v1m0 2v1m0 2v1m0 4v1m0 3v1m0 5v1m0 23v1m0 1v2m0 1v3m0 42v1m0 1v1m0 7v1m0 18v1m0 2v1m0 1v1m0 3v2m0 7v1m0 1v1m0 12v1m0 17v1m0 9v1m0 1v1m0 6v2m0 4v2m0 6v2m0 5v1m0 1v1m0 4v1m0 2v2m0 19v1m0 1v1m0 4v1m0 12v2m0 13v1m0 1v1m0 8v1m0 2v2m0 3v1m0 5v1m0 1v1"/>
<path class="c14" d="M495.5 122v1m0 18v2m0 3v1m0 7v1m0 1v1m0 1v1m0 3v2m0 72v1m0 35v1m0 5v1m0 2v1m0 11v2m0 11v1m0 11v1m0 44v1m0 7v1m0 9v1m0 43v2m0 13v1m0 10v1m0 8v1m0 22v2m0 2v1m0 20v3m0 1v1m0 178v1m0 3v2m0 5v1m0 2v1m0 25v1m0 1v2m0 2v1m0 12v1m0 3v1m0 6v1m0 10v1m0 7v2m0 5v6m0 7v1m0 21v1m0 30v1m0 1v1m0 8v1m0 2v1m0 3v1m0 3v2m0 1v2m0 3v1m0 4v1m0 8v1m0 17v1m0 13v1m0 17v1m0 3v3m0 6v1m0 2v1m0 1v1m0 6v1m0 11v1m0 15v3m0 2v1m0 1v1m0 4v1m0 8v4m0 5v3m0 5v2m0 3v1m0 18v1m0 3v1m0 4v1m0 3v3m0 4v1m0 7v1m0 1v2m0 10v1m0 9v1m0 11v1m0 4v2m0 3v1m0 2v1m0 10v1m0 33v1m0 4v1m0 7v1m0 2v1m0 9v1m0 11v1m0 11v1m0 13v1m0 6v1m0 43v1m0 43v1m0 5v1m0 8v1m0 2v2m0 1v1m0 1v1m0 1v2m0 1v1m0 2v2m0 4v1m0 3v1m0 17v1m0 8v2m0 7v1m0 3v1m0 22v1m0 15v2m0 1v2m0 25v1m0 1v1m0 1v1m0 5v1"/>
<path class="c19" d="M495.5 128v1m0 43v2m0 24v1m0 1v1m0 1v1m0 2v1m0 38v2m0 7v2m0 3v1m0 1v2m0 34v1m0 5v1m0 17v1m0 3v1m0 2v2m0 2v3m0 1v3m0 4v1m0 41v2m0 8v1m0 3v2m0 1v1m0 13v1m0 21v1m0 6v1m0 20v1m0 5v1m0 24v1m0 4v1m0 29v1m0 13v2m0 4v1m0 46v1m0 114v1m0 9v1m0 3v1m0 86v1m0 3v1m0 5v3m0 4v1m0 3v1m0 4v2m0 77v1m0 5v1m0 267v1m0 76v1m0 8v1m0 3v1m0 3v1m0 1v1m0 7v1m0 9v2m0 8v4m0 1v1m0 2v1m0 3v1m0 1v1m0 1v1m0 59v1m0 14v1m0 20v1m0 4v1m0 38v2m0 2v2m0 1v1m0 5v1m0 1v1m0 25v1m0 16v1"/>
<path class="c18" d="M495.5 134v1m0 1v1m0 33v1m0 3v2m0 4v1m0 10v1m0 2v1m0 1v1m0 2v1m0 6v1m0 3v1m0 4v1m0 2v1m0 6v1m0 12v1m0 2v3m0 2v1m0 2v1m0 2v1m0 3v1m0 5v2m0 33v5m0 12v1m0 6v3m0 1v1m0 3v1m0 8v1m0 2v1m0 7v1m0 4v1m0 2v1m0 8v1m0 11v1m0 8v2m0 4v1m0 1v2m0 3v1m0 4v1m0 4v2m0 5v1m0 1v1m0 11v1m0 10v1m0 3v1m0 6v1m0 3v1m0 9v1m0 2v1m0 1v1m0 27v1m0 4v1m0 8v2m0 2v1m0 9v1m0 1v1m0 4v1m0 1v1m0 1v1m0 2v1m0 6v1m0 3v1m0 4v1m0 2v1m0 2v1m0 18v1m0 8v1m0 116v1m0 4v1m0 4v1m0 2v1m0 1v1m0 23v1m0 58v1m0 2v1m0 6v1m0 5v1m0 4v1m0 1v1m0 3v1m0 1v2m0 4v1m0 4v2m0 2v1m0 71v1m0 161v1m0 58v1m0 11v1m0 6v1m0 7v1m0 18v2m0 12v1m0 12v1m0 1v1m0 17v1m0 1v1m0 4v1m0 5v2m0 1v1m0 2v1m0 2v1m0 6v1m0 1v2m0 6v1m0 1v1m0 1v2m0 3v1m0 10v1m0 1v1m0 2v1m0 1v1m0 1v1m0 3v2m0 1v1m0 19v1m0 2v1m0 1v1m0 3v1m0 2v2m0 1v1m0 2v1m0 43v1m0 2v1m0 6v1m0 17v1m0 10v1m0 1v1m0 20v2m0 13v2m0 6v1m0 4v2m0 4v1m0 1v1m0 19v1m0 3v2m0 1v1m0 1v1m0 7v1m0 6v2m0 12v1"/>
<path class="c13" d="M495.5 147v1m0 1v1m0 1v3m0 5v1m0 5v1m0 2v1m0 96v1m0 4v1m0 15v1m0 1v1m0 80v2m0 2v2m0 47v2m0 55v2m0 7v1m0 5v1m0 199v1m0 2v3m0 36v1m0 16v1m0 2v1m0 17v2m0 6v1m0 1v1m0 1v1m0 8v2m0 7v1m0 49v1m0 7v2m0 1v1m0 6v2m0 3v1m0 2v1m0 1v1m0 1v2m0 4v2m0 2v3m0 1v3m0 3v1m0 2v1m0 1v1m0 16v3m0 8v1m0 26v1m0 1v2m0 1v1m0 8v1m0 7v1m0 2v1m0 1v4m0 2v1m0 6v1m0 3v2m0 3v2m0 4v2m0 4v1m0 10v2m0 21v1m0 5v1m0 7v1m0 7v1m0 1v1m0 14v1m0 2v2m0 2v1m0 4v2m0 1v1m0 14v1m0 11v2m0 11v1m0 6v1m0 6v1m0 1v1m0 5v1m0 189v1m0 17v1m0 26v1m0 3v3m0 2v1m0 6v1m0 74v1m0 2v1"/>
<path class="c12" d="M495.5 150v1m0 13v1m0 1v2m0 121v1m0 172v1m0 229v2m0 6v2m0 33v1m0 2v1m0 3v1m0 15v1m0 17v1m0 6v1m0 1v1m0 72v1m0 15v1m0 12v1m0 4v1m0 13v1m0 63v2m0 4v2m0 12v1m0 4v2m0 2v1m0 15v2m0 1v1m0 7v3m0 31v2m0 2v1m0 7v1m0 26v1m0 7v2m0 59v1m0 5v1m0 1v1m0 22v1m0 163v1m0 9v1m0 8v1m0 34v1m0 84v1"/>
<path class="c21" d="M495.5 181v1m0 69v1m0 78v1m0 217v1m0 26v1m0 2v1m0 16v2m0 3v1m0 110v1m0 590v1m0 12v1m0 160v1"/>
<path class="c30" d="M495.5 182v1"/>
<path class="c37" d="M495.5 183v1m0 473v1m0 7v1"/>
<path class="c38" d="M495.5 184v1m0 430v1"/>
<path class="c50" d="M495.5 185v1"/>
<path class="c49" d="M495.5 186v1m0 430v1m0 54v2"/>
<path class="c54" d="M495.5 187v1"/>
<path class="c41" d="M495.5 188v1m0 478v1"/>
<path class="c32" d="M495.5 189v1m0 423v1m0 45v1"/>
<path class="c25" d="M495.5 190v1m0 37v1m0 341v1m0 36v1"/>
<path class="c20" d="M495.5 204v1m0 24v1m0 25v1m0 70v1m0 18v2m0 50v1m0 4v2m0 64v2m0 7v1m0 58v1m0 1v1m0 4v2m0 17v1m0 3v1m0 1v2m0 14v2m0 4v1m0 3v1m0 2v1m0 112v1m0 1v1m0 98v3m0 13v1m0 11v1m0 82v1m0 348v1m0 1v2m0 2v1m0 6v1m0 31v1m0 4v1m0 1v2m0 1v2m0 2v1m0 3v1m0 11v1m0 48v2m0 118v1"/>
<path class="c22" d="M495.5 226v1m0 107v1m0 69v1m0 142v1m0 24v1m0 3v1m0 9v1m0 2v1m0 3v1m0 8v1m0 725v1"/>
<path class="c23" d="M495.5 227v1m0 335v1m0 10v1m0 2v1m0 3v1"/>
<path class="c10" d="M495.5 350v1m0 542v1m0 93v2m0 80v1"/>
<path class="c24" d="M495.5 571v1m0 10v1m0 4v1"/>
<path class="c27" d="M495.5 573v1m0 14v1m0 17v1m0 3v1m0 50v1m0 27v1"/>
<path class="c28" d="M495.5 580v1m0 22v1m0 5v1m0 2v1m0 49v2"/>
<path class="c26" d="M495.5 604v1m0 3v1"/>
<path class="c33" d="M495.5 605v1m0 58v1"/>
<path class="c31" d="M495.5 611v1m0 48v1"/>
<path class="c29" d="M495.5 614v1"/>
<path class="c46" d="M495.5 616v1"/>
<path class="c56" d="M495.5 618v1"/>
<path class="c63" d="M495.5 619v36m0 20v14"/>
<path class="c48" d="M495.5 655v1"/>
<path class="c39" d="M495.5 656v1m0 11v2"/>
<path class="c34" d="M495.5 658v1"/>
<path class="c42" d="M495.5 666v1m0 3v1"/>
<path class="c52" d="M495.5 671v1"/>
<path class="c58" d="M495.5 674v1"/>
<path class="c11" d="M495.5 968v1m0 29v1m0 18v1m0 45v1m0 4v1m0 1v1m0 29v1m0 8v1"/>
<path class="c9" d="M495.5 1106v1"/>
</g>
<g stroke-width="5">
<path class="c16" d="M500.5 118v2m0 4v1m0 67v3m0 1v1m0 1v1m0 2v1m0 4v1m0 1v1m0 7v1m0 8v1m0 4v1m0 10v1m0 13v1m0 1v2m0 6v1m0 7v1m0 9v1m0 12v1m0 17v1m0 2v1m0 8v1m0 9v6m0 8v3m0 5v2m0 16v1m0 14v1m0 1v1m0 2v1m0 11v1m0 1v1m0 23v2m0 6v1m0 13v1m0 1v1m0 9v1m0 20v2m0 2v1m0 2v1m0 1v1m0 6v1m0 11v1m0 2v1m0 16v2m0 5v1m0 15v1m0 6v1m0 1v1m0 2v1m0 4v1m0 201v1m0 29v1m0 7v1m0 6v2m0 6v1m0 1v1m0 1v2m0 21v1m0 10v1m0 53v1m0 132v1m0 20v1m0 63v1m0 40v1m0 9v1m0 23v1m0 15v2m0 1v1m0 17v1m0 3v1m0 7v1m0 3v1m0 1v1m0 4v1m0 3v2m0 9v3m0 3v1m0 5v1m0 4v1m0 9v1m0 2v2m0 5v1m0 3v2m0 12v1m0 70v1m0 2v2m0 32v1m0 2v1m0 9v1m0 2v2m0 2v1m0 1v2m0 15v1m0 4v1m0 5v1m0 8v1m0 4v1m0 10v1m0 3v1m0 9v1m0 3v1m0 1v1"/>
<path class="c15" d="M500.5 120v1m0 6v2m0 1v2m0 4v1m0 2v2m0 12v1m0 1v1m0 1v1m0 13v2m0 4v3m0 1v1m0 15v1m0 4v2m0 3v1m0 1v1m0 1v1m0 2v1m0 5v1m0 14v1m0 2v1m0 3v1m0 2v2m0 1v1m0 1v1m0 5v1m0 2v1m0 7v1m0 4v1m0 1v4m0 6v2m0 1v1m0 10v1m0 1v1m0 1v1m0 1v1m0 8v1m0 2v1m0 1v1m0 2v1m0 2v1m0 5v3m0 10v1m0 1v1m0 8v2m0 4v1m0 5v2m0 9v2m0 6v1m0 1v1m0 6v1m0 3v1m0 8v1m0 11v1m0 19v1m0 3v1m0 1v3m0 11v1m0 1v1m0 2v1m0 2v1m0 1v1m0 7v1m0 3v1m0 3v1m0 1v1m0 3v1m0 5v1m0 2v1m0 3v1m0 2v2m0 1v2m0 6v2m0 2v1m0 6v2m0 1v1m0 3v1m0 5v1m0 2v2m0 2v1m0 3v1m0 1v2m0 30v1m0 125v2m0 3v1m0 4v2m0 2v1m0 21v1m0 3v2m0 7v1m0 4v1m0 9v2m0 12v1m0 11v1m0 4v1m0 4v1m0 4v1m0 2v1m0 1v1m0 2v2m0 5v1m0 1v1m0 19v1m0 63v1m0 7v2m0 1v2m0 14v1m0 10v1m0 77v1m0 1v2m0 1v1m0 1v1m0 19v2m0 3v1m0 11v1m0 57v1m0 5v2m0 6v1m0 4v3m0 16v1m0 1v3m0 2v1m0 1v2m0 5v2m0 3v1m0 4v1m0 1v1m0 9v1m0 2v1m0 2v1m0 12v1m0 2v1m0 1v1m0 6v1m0 2v1m0 3v1m0 1v1m0 1v1m0 1v1m0 2v1m0 6v3m0 4v1m0 1v1m0 1v1m0 1v1m0 4v1m0 1v1m0 11v1m0 1v2m0 3v2m0 2v2m0 2v1m0 1v3m0 1v1m0 11v1m0 2v3m0 2v1m0 1v1m0 5v1m0 1v2m0 24v1m0 19v2m0 5v2m0 3v1m0 16v1m0 9v1m0 9v1m0 11v1m0 1v2m0 8v2m0 8v2m0 2v1m0 3v2m0 6v1m0 6v2m0 8v2m0 3v1m0 4v1m0 1v2m0 1v2m0 4v1m0 1v1m0 7v1m0 8v1"/>
<path class="c18" d="M500.5 121v1m0 69v1m0 8v1m0 50v1m0 11v1m0 55v1m0 36v1m0 44v1m0 1v1m0 53v1m0 45v1m0 58v1m0 7v1m0 4v1m0 14v1m0 18v1m0 141v1m0 54v1m0 32v1m0 431v1m0 23v1m0 28v2m0 130v1m0 16v1m0 11v1m0 29v1"/>
<path class="c14" d="M500.5 122v1m0 6v1m0 2v2m0 8v1m0 1v2m0 15v1m0 8v1m0 9v1m0 18v1m0 12v1m0 4v3m0 1v3m0 7v1m0 4v2m0 2v1m0 3v1m0 2v1m0 4v1m0 8v1m0 7v1m0 1v1m0 6v3m0 1v1m0 9v1m0 4v1m0 5v1m0 4v1m0 3v1m0 2v1m0 6v2m0 1v1m0 1v1m0 1v1m0 16v2m0 5v1m0 8v1m0 2v1m0 2v3m0 1v1m0 1v2m0 3v2m0 1v1m0 5v1m0 3v1m0 2v1m0 10v1m0 2v1m0 1v1m0 1v1m0 2v1m0 3v1m0 7v3m0 5v1m0 4v1m0 7v2m0 9v1m0 5v1m0 3v1m0 11v1m0 9v1m0 1v1m0 4v1m0 21v1m0 1v2m0 1v1m0 1v1m0 4v1m0 6v1m0 10v1m0 2v1m0 2v1m0 21v1m0 8v2m0 114v1m0 6v2m0 2v1m0 3v2m0 13v1m0 9v2m0 1v1m0 2v1m0 1v1m0 2v1m0 1v1m0 1v1m0 3v4m0 17v1m0 3v1m0 1v1m0 1v1m0 4v2m0 3v1m0 7v2m0 2v3m0 5v1m0 7v1m0 7v1m0 2v1m0 9v1m0 4v2m0 2v2m0 7v1m0 1v1m0 36v1m0 8v1m0 4v1m0 6v1m0 2v1m0 22v1m0 14v2m0 2v1m0 5v2m0 52v1m0 6v1m0 2v1m0 8v1m0 1v1m0 9v1m0 44v1m0 6v1m0 1v1m0 2v1m0 5v2m0 15v3m0 4v1m0 1v1m0 5v1m0 19v1m0 5v1m0 7v2m0 6v1m0 2v3m0 1v4m0 1v1m0 5v1m0 3v2m0 1v3m0 15v2m0 3v1m0 1v1m0 6v1m0 15v1m0 3v1m0 10v2m0 16v1m0 22v1m0 6v2m0 5v1m0 3v1m0 2v3m0 1v1m0 13v1m0 2v2m0 2v1m0 1v2m0 12v1m0 1v1m0 5v2m0 4v1m0 1v1m0 3v1m0 2v1m0 6v2m0 7v1m0 1v1m0 5v1m0 1v1m0 1v1m0 9v1m0 6v3m0 1v3m0 13v2m0 7v1m0 1v2m0 2v1m0 1v1m0 1v2m0 4v1m0 4v1m0 6v1m0 7v1m0 5v1m0 5v3m0 4v2m0 2v1m0 3v1"/>
<path class="c13" d="M500.5 123v1m0 1v2m0 7v2m0 10v3m0 5v1m0 3v1m0 4v1m0 9v2m0 20v1m0 28v1m0 7v2m0 9v1m0 24v1m0 17v1m0 6v1m0 5v1m0 1v1m0 3v1m0 4v2m0 16v1m0 15v1m0 16v1m0 9v1m0 9v1m0 2v1m0 1v1m0 3v1m0 21v1m0 1v2m0 1v2m0 2v2m0 17v1m0 7v1m0 2v2m0 1v1m0 8v1m0 7v1m0 1v1m0 1v2m0 6v1m0 4v1m0 23v1m0 1v3m0 8v1m0 1v1m0 6v2m0 3v1m0 1v1m0 10v1m0 6v1m0 130v1m0 16v1m0 9v1m0 3v2m0 2v1m0 2v2m0 7v1m0 8v1m0 1v1m0 11v2m0 6v1m0 1v1m0 2v1m0 6v1m0 4v1m0 3v1m0 3v2m0 1v1m0 2v1m0 19v1m0 8v1m0 13v1m0 2v1m0 16v3m0 3v1m0 6v1m0 2v1m0 2v4m0 6v1m0 2v1m0 12v1m0 2v5m0 3v1m0 4v1m0 2v1m0 6v2m0 3v1m0 3v2m0 1v1m0 5v1m0 4v1m0 1v1m0 3v1m0 14v3m0 9v1m0 15v2m0 22v1m0 6v1m0 6v1m0 2v1m0 4v1m0 4v1m0 1v1m0 5v1m0 15v1m0 3v1m0 9v1m0 25v1m0 5v2m0 2v1m0 2v1m0 4v1m0 10v1m0 3v1m0 1v1m0 5v3m0 2v2m0 4v3m0 1v1m0 4v1m0 7v2m0 6v1m0 2v1m0 3v1m0 10v1m0 2v1m0 2v1m0 4v1m0 11v1m0 10v1m0 14v2m0 20v1m0 1v2m0 53v2m0 14v2m0 6v1m0 1v1m0 1v1m0 3v1m0 2v1m0 2v1m0 1v1m0 1v1m0 8v1m0 11v1m0 4v2m0 1v2m0 4v1m0 6v1m0 1v2m0 2v1m0 2v1m0 1v1m0 2v1m0 4v1m0 2v1m0 14v1m0 32v1m0 6v1m0 2v4m0 12v1m0 18v1m0 4v1m0 3v1"/>
<path class="c17" d="M500.5 137v2m0 66v1m0 4v1m0 2v1m0 1v1m0 33v1m0 3v2m0 5v1m0 1v1m0 1v1m0 55v1m0 12v3m0 6v1m0 5v2m0 7v1m0 39v1m0 1v2m0 1v1m0 2v1m0 25v1m0 1v1m0 3v2m0 5v1m0 10v1m0 9v1m0 20v1m0 8v1m0 5v2m0 3v1m0 24v1m0 11v1m0 3v2m0 9v1m0 2v1m0 1v4m0 1v1m0 2v1m0 1v1m0 2v1m0 31v1m0 196v1m0 1v1m0 4v1m0 7v1m0 10v1m0 8v1m0 79v2m0 237v1m0 38v1m0 57v1m0 16v1m0 9v2m0 12v1m0 2v1m0 2v1m0 1v1m0 6v2m0 1v1m0 5v1m0 8v1m0 10v1m0 4v1m0 25v1m0 101v1m0 1v1m0 7v1m0 31v1m0 3v2m0 7v1m0 1v1m0 4v2"/>
<path class="c12" d="M500.5 141v1m0 1v1m0 5v1m0 2v1m0 3v1m0 5v1m0 2v1m0 9v2m0 57v1m0 4v1m0 41v1m0 6v1m0 6v1m0 11v1m0 1v1m0 53v2m0 8v1m0 49v1m0 3v1m0 44v1m0 1v1m0 3v1m0 1v1m0 3v1m0 24v1m0 68v1m0 116v1m0 6v2m0 2v1m0 3v1m0 5v1m0 9v1m0 3v3m0 3v1m0 3v1m0 2v1m0 14v1m0 12v2m0 8v1m0 1v1m0 11v1m0 5v1m0 2v1m0 24v1m0 13v2m0 1v1m0 1v2m0 2v3m0 3v1m0 7v2m0 4v2m0 2v1m0 2v2m0 8v1m0 5v1m0 4v1m0 3v3m0 9v1m0 19v1m0 2v3m0 2v1m0 2v1m0 1v2m0 1v3m0 11v1m0 5v2m0 1v2m0 5v1m0 2v4m0 1v2m0 9v3m0 6v1m0 19v3m0 6v1m0 7v1m0 4v1m0 1v1m0 4v1m0 6v1m0 1v1m0 1v2m0 9v1m0 1v1m0 1v1m0 1v3m0 3v1m0 1v1m0 3v1m0 11v3m0 2v1m0 1v1m0 2v1m0 12v3m0 4v1m0 6v1m0 1v1m0 17v4m0 15v1m0 20v1m0 14v1m0 15v3m0 1v1m0 4v1m0 14v1m0 91v1m0 1v2m0 2v1m0 4v1m0 1v1m0 13v1m0 1v1m0 1v1m0 2v1m0 8v3m0 4v1m0 4v1m0 8v1m0 6v1m0 1v1m0 8v1m0 1v1m0 3v1m0 6v4m0 35v1m0 51v1"/>
<path class="c11" d="M500.5 150v2m0 7v2m0 3v1m0 4v1m0 100v1m0 19v2m0 2v1m0 11v1m0 76v1m0 5v1m0 34v2m0 27v1m0 8v1m0 50v1m0 36v1m0 140v1m0 2v1m0 1v1m0 8v1m0 2v2m0 23v1m0 1v1m0 2v2m0 16v1m0 12v1m0 4v3m0 5v1m0 3v2m0 12v1m0 46v1m0 2v1m0 14v1m0 8v1m0 2v1m0 7v1m0 4v1m0 1v1m0 6v1m0 1v3m0 5v1m0 5v1m0 19v1m0 1v1m0 10v1m0 10v3m0 1v1m0 1v1m0 3v1m0 22v1m0 1v1m0 2v1m0 11v1m0 1v3m0 1v1m0 11v1m0 5v1m0 11v1m0 3v2m0 9v2m0 20v1m0 3v1m0 3v1m0 1v1m0 4v2m0 2v3m0 1v1m0 1v1m0 6v2m0 7v3m0 5v2m0 6v1m0 24v2m0 56v1m0 7v2m0 10v1m0 18v2m0 125v1m0 28v1m0 13v1m0 15v2m0 42v1"/>
<path class="c10" d="M500.5 166v1m0 1v1m0 120v1m0 136v1m0 52v1m0 212v2m0 3v1m0 3v1m0 39v2m0 143v1m0 6v1m0 2v1m0 1v1m0 68v1m0 15v2m0 8v1m0 1v1m0 4v1m0 3v1m0 2v2m0 5v1m0 6v1m0 3v2m0 42v1m0 3v5m0 13v1m0 4v1m0 3v1m0 3v1m0 3v2m0 30v1m0 47v1m0 173v4m0 21v1m0 2v1m0 1v1"/>
<path class="c9" d="M500.5 167v1m0 530v3m0 187v1m0 8v1m0 66v1m0 3v1m0 27v1m0 1v2m0 16v2m0 1v1m0 2v1m0 1v1m0 3v1m0 19v1m0 23v1m0 33v1m0 92v1m0 191v1"/>
<path class="c22" d="M500.5 182v1m0 403v1m0 15v1m0 9v1"/>
<path class="c24" d="M500.5 183v1m0 396v1m0 10v2m0 4v1m0 3v1m0 61v1"/>
<path class="c35" d="M500.5 184v1"/>
<path class="c43" d="M500.5 185v2m0 431v1m0 53v1"/>
<path class="c47" d="M500.5 187v1m0 467v1"/>
<path class="c30" d="M500.5 188v1m0 472v1m0 3v1"/>
<path class="c26" d="M500.5 189v1m0 395v1m0 7v1m0 6v1"/>
<path class="c19" d="M500.5 190v1m0 38v1m0 36v1m0 137v1m0 27v1m0 162v1m0 3v1m0 696v1m0 29v1m0 1v1"/>
<path class="c20" d="M500.5 204v1m0 369v1m0 6v1m0 21v1m0 2v1m0 3v1m0 314v1m0 401v1m0 158v1"/>
<path class="c23" d="M500.5 226v3m0 367v1m0 65v1"/>
<path class="c25" d="M500.5 582v1m0 22v1m0 5v1m0 47v2"/>
<path class="c27" d="M500.5 583v1m0 14v1m0 14v1"/>
<path class="c28" d="M500.5 584v1m0 29v1m0 74v1"/>
<path class="c21" d="M500.5 594v1m0 9v1m0 2v1"/>
<path class="c34" d="M500.5 615v2m0 51v1"/>
<path class="c46" d="M500.5 617v1"/>
<path class="c41" d="M500.5 619v1"/>
<path class="c50" d="M500.5 620v1m0 54v1"/>
<path class="c49" d="M500.5 621v1"/>
<path class="c63" d="M500.5 622v32m0 24v11"/>
<path class="c59" d="M500.5 654v1"/>
<path class="c39" d="M500.5 656v1m0 12v1"/>
<path class="c31" d="M500.5 657v1m0 8v1"/>
<path class="c29" d="M500.5 658v1"/>
<path class="c32" d="M500.5 664v1"/>
<path class="c33" d="M500.5 667v1"/>
<path class="c42" d="M500.5 670v1"/>
<path class="c45" d="M500.5 671v1"/>
<path class="c52" d="M500.5 673v2"/>
<path class="c54" d="M500.5 676v1"/>
<path class="c56" d="M500.5 677v1"/>
<path class="c8" d="M500.5 887v1m0 132v1m0 2v1"/>
<path class="c7" d="M500.5 1018v1"/>
</g>
<g stroke-width="5">
<path class="c14" d="M505.5 118v1m0 54v1m0 33v2m0 13v1m0 17v3m0 2v1m0 1v1m0 8v1m0 4v2m0 9v1m0 14v1m0 13v1m0 22v1m0 6v1m0 1v1m0 4v1m0 5v1m0 1v1m0 1v1m0 3v1m0 3v1m0 8v2m0 1v2m0 12v1m0 2v1m0 1v1m0 7v2m0 2v1m0 6v1m0 3v2m0 19v2m0 5v1m0 8v1m0 5v1m0 3v1m0 7v2m0 6v1m0 1v2m0 9v1m0 2v1m0 1v1m0 26v1m0 12v1m0 1v2m0 1v1m0 6v2m0 8v1m0 1v1m0 2v1m0 2v3m0 147v1m0 1v2m0 33v1m0 71v1m0 4v1m0 1v1m0 4v1m0 3v2m0 1v1m0 8v1m0 103v6m0 27v1m0 170v1m0 16v1m0 11v1m0 22v1m0 5v1m0 29v1m0 6v1m0 11v1m0 2v1m0 3v1m0 3v1m0 2v1m0 1v1m0 7v1m0 1v1m0 3v1m0 2v3m0 8v3m0 8v3m0 4v1m0 6v1m0 17v1m0 37v1m0 7v2m0 6v1m0 30v2m0 32v1m0 7v1m0 1v2m0 1v2m0 45v3m0 5v1m0 2v1m0 7v1"/>
<path class="c13" d="M505.5 119v1m0 1v1m0 2v1m0 3v1m0 43v1m0 1v1m0 1v1m0 1v2m0 1v2m0 7v1m0 9v1m0 5v1m0 2v2m0 1v1m0 1v1m0 2v2m0 19v1m0 7v1m0 3v1m0 8v1m0 7v2m0 2v1m0 1v1m0 2v1m0 3v1m0 23v1m0 4v1m0 2v4m0 1v1m0 1v3m0 1v1m0 3v1m0 4v1m0 2v1m0 1v1m0 9v1m0 1v1m0 3v1m0 8v3m0 2v1m0 2v1m0 1v1m0 5v1m0 5v1m0 3v1m0 24v1m0 19v3m0 4v1m0 2v2m0 1v1m0 1v3m0 1v1m0 3v1m0 10v1m0 1v4m0 1v1m0 10v1m0 7v1m0 1v3m0 11v1m0 1v2m0 1v2m0 5v1m0 7v1m0 2v1m0 2v1m0 1v2m0 8v2m0 1v2m0 5v1m0 1v1m0 11v2m0 123v4m0 10v1m0 1v1m0 5v1m0 24v1m0 1v2m0 4v1m0 13v1m0 7v1m0 27v1m0 9v3m0 3v1m0 5v2m0 1v1m0 4v1m0 3v1m0 15v1m0 37v1m0 33v2m0 1v1m0 2v1m0 2v1m0 9v1m0 1v1m0 5v2m0 6v1m0 3v1m0 16v1m0 58v3m0 14v1m0 11v1m0 3v1m0 44v1m0 25v1m0 5v1m0 3v1m0 6v1m0 12v1m0 2v1m0 6v3m0 8v1m0 8v2m0 3v1m0 1v1m0 3v1m0 15v2m0 1v2m0 11v1m0 14v1m0 1v1m0 5v2m0 3v1m0 2v1m0 1v1m0 3v4m0 6v1m0 1v2m0 3v1m0 6v1m0 5v1m0 1v4m0 8v2m0 17v1m0 2v2m0 1v1m0 3v1m0 33v2m0 4v1m0 2v1m0 19v1m0 2v3m0 10v1m0 4v1m0 4v1m0 23v1m0 2v1m0 2v2m0 2v1m0 10v1m0 2v1m0 6v1m0 3v1m0 10v1m0 4v1m0 12v1m0 1v3m0 2v1m0 3v2m0 5v1"/>
<path class="c12" d="M505.5 120v1m0 2v1m0 1v1m0 1v1m0 1v4m0 5v1m0 6v1m0 24v2m0 5v1m0 2v1m0 10v1m0 6v1m0 6v1m0 5v1m0 7v3m0 3v1m0 4v1m0 43v1m0 21v1m0 5v1m0 5v1m0 7v1m0 1v1m0 6v1m0 29v1m0 15v1m0 7v2m0 2v1m0 2v1m0 3v1m0 1v1m0 1v1m0 2v2m0 15v3m0 2v1m0 3v2m0 2v1m0 1v2m0 8v1m0 5v1m0 12v1m0 9v1m0 9v1m0 1v2m0 1v2m0 2v1m0 4v1m0 1v1m0 6v1m0 1v1m0 3v2m0 1v1m0 5v1m0 11v1m0 1v1m0 14v2m0 5v1m0 3v1m0 3v1m0 134v1m0 11v2m0 6v3m0 1v1m0 7v1m0 9v1m0 6v1m0 7v1m0 1v1m0 31v1m0 1v2m0 1v1m0 1v2m0 5v1m0 1v2m0 5v2m0 3v1m0 3v1m0 2v1m0 6v3m0 2v2m0 3v1m0 1v1m0 6v1m0 1v2m0 1v1m0 16v1m0 2v1m0 8v1m0 8v1m0 11v1m0 19v1m0 7v2m0 11v1m0 1v2m0 12v1m0 26v1m0 7v1m0 2v1m0 3v1m0 1v2m0 1v1m0 14v1m0 15v1m0 3v1m0 2v1m0 2v2m0 2v1m0 5v1m0 14v1m0 37v1m0 4v1m0 19v1m0 5v1m0 2v4m0 1v1m0 1v1m0 5v1m0 13v1m0 5v3m0 6v2m0 2v2m0 3v2m0 3v1m0 3v1m0 1v1m0 11v1m0 1v1m0 13v2m0 10v1m0 1v1m0 8v1m0 9v1m0 7v1m0 5v1m0 4v1m0 3v1m0 20v1m0 1v1m0 15v1m0 5v2m0 7v1m0 8v2m0 1v1m0 15v1m0 3v1m0 9v2m0 4v3m0 4v1m0 6v1m0 1v2m0 3v1m0 10v2m0 3v1m0 3v1m0 6v1m0 2v1m0 1v2m0 9v1m0 8v2m0 3v1m0 20v1m0 3v1m0 5v1m0 6v2m0 1v1m0 6v1m0 1v3m0 3v1m0 1v1m0 9v1m0 3v1m0 8v1"/>
<path class="c10" d="M505.5 122v1m0 16v1m0 7v2m0 4v1m0 5v1m0 3v1m0 2v1m0 2v1m0 23v2m0 1v2m0 1v1m0 31v2m0 2v1m0 34v1m0 11v1m0 1v1m0 5v1m0 14v2m0 32v1m0 37v1m0 11v1m0 1v1m0 26v1m0 7v1m0 36v2m0 58v2m0 2v1m0 172v1m0 3v1m0 19v3m0 4v1m0 6v1m0 18v2m0 1v3m0 17v1m0 4v1m0 10v1m0 1v2m0 22v1m0 21v3m0 7v4m0 2v1m0 5v2m0 2v2m0 2v1m0 9v3m0 1v1m0 3v1m0 4v1m0 3v1m0 3v1m0 1v1m0 5v2m0 4v1m0 14v1m0 1v1m0 12v1m0 10v1m0 3v2m0 5v2m0 2v1m0 2v1m0 2v1m0 8v1m0 5v1m0 10v1m0 5v1m0 2v1m0 3v1m0 1v1m0 6v1m0 1v1m0 1v1m0 1v2m0 9v1m0 2v1m0 2v1m0 1v1m0 1v1m0 1v1m0 4v1m0 1v2m0 1v1m0 15v2m0 1v1m0 8v3m0 3v1m0 14v1m0 1v1m0 1v1m0 3v2m0 1v1m0 1v3m0 3v1m0 18v1m0 6v1m0 6v1m0 6v1m0 4v1m0 12v1m0 17v1m0 8v1m0 1v1m0 1v1m0 14v3m0 16v1m0 1v1m0 76v3m0 2v1m0 15v1m0 1v2m0 2v1m0 1v1m0 3v1m0 1v1m0 5v3m0 9v1m0 9v1m0 3v1m0 10v1m0 2v2m0 7v1m0 1v1m0 16v1m0 7v1m0 2v2m0 3v2m0 7v1m0 20v1m0 4v1m0 1v1m0 1v1m0 2v1m0 1v1m0 9v1m0 5v1m0 25v1"/>
<path class="c11" d="M505.5 126v1m0 6v5m0 2v1m0 1v3m0 1v1m0 2v4m0 7v2m0 39v3m0 19v2m0 14v1m0 37v3m0 1v1m0 1v1m0 1v2m0 1v1m0 3v2m0 3v4m0 2v1m0 3v1m0 32v2m0 33v2m0 4v1m0 11v1m0 23v1m0 2v3m0 2v1m0 10v1m0 14v1m0 2v2m0 3v3m0 26v1m0 13v1m0 2v2m0 6v1m0 8v1m0 2v2m0 12v4m0 147v1m0 2v2m0 7v2m0 2v1m0 2v1m0 10v4m0 4v1m0 1v1m0 3v1m0 1v1m0 12v2m0 4v1m0 3v1m0 3v2m0 1v5m0 1v1m0 1v1m0 12v1m0 2v1m0 1v1m0 14v2m0 6v2m0 2v1m0 21v1m0 11v1m0 5v1m0 8v1m0 4v1m0 1v6m0 1v2m0 7v1m0 8v1m0 2v1m0 4v1m0 6v3m0 3v1m0 11v1m0 1v1m0 2v4m0 5v2m0 12v1m0 1v1m0 2v2m0 2v1m0 2v2m0 1v1m0 3v1m0 2v2m0 4v1m0 3v1m0 1v1m0 2v3m0 1v1m0 2v1m0 4v1m0 19v1m0 3v1m0 7v1m0 7v1m0 2v1m0 5v1m0 9v2m0 2v3m0 6v1m0 11v2m0 3v1m0 7v3m0 8v1m0 1v1m0 1v1m0 4v1m0 5v2m0 2v1m0 5v1m0 6v1m0 2v2m0 3v1m0 1v2m0 1v1m0 10v1m0 5v1m0 7v2m0 2v1m0 4v1m0 12v2m0 12v1m0 3v1m0 2v1m0 4v2m0 5v1m0 8v5m0 1v1m0 5v2m0 6v1m0 7v1m0 7v1m0 2v1m0 45v1m0 3v1m0 10v1m0 4v1m0 2v1m0 9v1m0 6v1m0 5v3m0 14v1m0 2v1m0 3v1m0 2v3m0 18v2m0 16v1m0 7v1m0 2v3m0 4v1m0 5v1m0 7v1m0 12v1m0 1v1m0 7v1m0 1v1m0 3v1m0 1v2m0 1v2m0 8v1m0 19v3m0 4v2"/>
<path class="c9" d="M505.5 141v1m0 12v2m0 1v1m0 6v2m0 1v2m0 23v1m0 2v1m0 37v1m0 2v2m0 56v2m0 77v2m0 104v1m0 24v1m0 186v2m0 36v1m0 2v1m0 2v1m0 3v2m0 1v1m0 10v1m0 17v1m0 3v5m0 1v4m0 10v1m0 1v1m0 8v1m0 35v1m0 18v3m0 30v3m0 1v2m0 4v1m0 1v1m0 3v1m0 1v1m0 5v1m0 1v1m0 47v2m0 7v1m0 4v1m0 5v1m0 2v2m0 15v1m0 2v2m0 1v1m0 8v2m0 7v1m0 10v1m0 1v1m0 14v1m0 3v1m0 11v1m0 1v2m0 3v1m0 2v1m0 1v1m0 3v2m0 6v2m0 1v1m0 7v4m0 8v1m0 5v1m0 8v2m0 24v1m0 2v1m0 2v1m0 28v1m0 26v2m0 11v1m0 102v1m0 15v1m0 5v1m0 9v2m0 2v1m0 3v1m0 19v1m0 11v2m0 10v2m0 20v1m0 2v1m0 2v1m0 42v1m0 26v1"/>
<path class="c5" d="M505.5 156v1m0 647v1m0 285v1"/>
<path class="c8" d="M505.5 158v1m0 130v1m0 1v1m0 170v1m0 238v1m0 3v1m0 27v1m0 22v1m0 48v1m0 37v1m0 20v2m0 21v1m0 5v1m0 17v1m0 25v1m0 49v1m0 21v1m0 5v1m0 1v1m0 1v1m0 7v1m0 52v2m0 7v1m0 1v1m0 12v3m0 17v1m0 15v1m0 24v2m0 1v1m0 53v1m0 15v1m0 124v1m0 2v1m0 1v2m0 47v1m0 32v1m0 1v2"/>
<path class="c7" d="M505.5 162v1m0 71v1m0 506v1m0 116v1m0 50v1m0 115v2m0 1v1m0 33v1m0 14v1"/>
<path class="c15" d="M505.5 175v1m0 28v1m0 10v2m0 26v1m0 4v1m0 3v2m0 3v2m0 4v4m0 2v1m0 5v1m0 34v2m0 10v1m0 3v1m0 1v1m0 7v1m0 5v2m0 6v2m0 2v1m0 2v4m0 39v2m0 3v1m0 1v1m0 1v1m0 2v1m0 15v1m0 8v1m0 44v1m0 7v1m0 7v3m0 16v1m0 31v1m0 4v1m0 9v3m0 2v1m0 21v1m0 155v1m0 177v1m0 275v1m0 3v1m0 9v1m0 3v1m0 27v1m0 1v1m0 50v1m0 3v1m0 5v1m0 10v2m0 1v1m0 3v1m0 1v2m0 1v2m0 12v1m0 89v1m0 3v2m0 33v1m0 11v1m0 1v1m0 36v1m0 5v1m0 7v1"/>
<path class="c19" d="M505.5 183v1m0 393v1m0 6v3m0 2v1m0 3v1m0 1v2m0 1v1m0 887v1"/>
<path class="c25" d="M505.5 184v1"/>
<path class="c39" d="M505.5 185v1m0 1v1"/>
<path class="c35" d="M505.5 186v1"/>
<path class="c30" d="M505.5 188v1m0 476v1m0 1v1"/>
<path class="c18" d="M505.5 189v1m0 37v1m0 23v1m0 324v1m0 2v1m0 1v1m0 5v2m0 1v1m0 6v1m0 91v1"/>
<path class="c16" d="M505.5 213v1m0 30v1m0 4v1m0 4v2m0 73v2m0 3v1m0 10v1m0 62v1m0 32v1m0 35v1m0 41v2m0 46v1m0 7v1m0 16v1m0 605v1m0 17v2m0 32v1m0 20v1m0 29v1m0 1v1m0 1v1m0 17v1m0 22v1m0 91v1m0 45v1m0 2v1"/>
<path class="c17" d="M505.5 226v1m0 2v1m0 30v1m0 100v1m0 40v1m0 39v1m0 125v1m0 1v1m0 2v2m0 7v2m0 10v1m0 12v1m0 319v2m0 373v1m0 182v1"/>
<path class="c20" d="M505.5 228v1m0 349v1m0 1v1m0 18v1m0 1v2m0 7v1"/>
<path class="c21" d="M505.5 403v2m0 198v1m0 2v1m0 1v2m0 2v1"/>
<path class="c23" d="M505.5 600v1m0 10v1m0 1v1"/>
<path class="c24" d="M505.5 604v1"/>
<path class="c29" d="M505.5 605v1m0 10v1m0 39v1m0 5v1m0 1v1"/>
<path class="c26" d="M505.5 614v2m0 41v1m0 8v1"/>
<path class="c33" d="M505.5 617v1m0 51v1"/>
<path class="c37" d="M505.5 618v1"/>
<path class="c44" d="M505.5 619v1"/>
<path class="c45" d="M505.5 620v1m0 52v1m0 1v1"/>
<path class="c47" d="M505.5 621v1m0 1v1"/>
<path class="c48" d="M505.5 622v1"/>
<path class="c51" d="M505.5 624v1m0 1v1"/>
<path class="c50" d="M505.5 625v1m0 1v1m0 48v1"/>
<path class="c55" d="M505.5 628v1"/>
<path class="c63" d="M505.5 629v25m0 25v10"/>
<path class="c53" d="M505.5 654v1"/>
<path class="c36" d="M505.5 655v1m0 14v1"/>
<path class="c31" d="M505.5 658v1m0 2v1"/>
<path class="c22" d="M505.5 659v2"/>
<path class="c28" d="M505.5 663v1m0 4v1"/>
<path class="c38" d="M505.5 671v1"/>
<path class="c41" d="M505.5 672v1"/>
<path class="c43" d="M505.5 674v1"/>
<path class="c52" d="M505.5 677v1"/>
<path class="c54" d="M505.5 678v1"/>
<path class="c6" d="M505.5 1018v1m0 42v1"/>
</g>
<g stroke-width="4">
<path class="c11" d="M510 118v1m0 10v1m0 6v2m0 4v1m0 1v1m0 1v1m0 1v2m0 3v3m0 3v1m0 1v1m0 8v2m0 7v1m0 10v3m0 2v1m0 1v2m0 2v1m0 1v1m0 7v1m0 2v2m0 2v3m0 2v2m0 19v2m0 4v1m0 1v2m0 1v1m0 12v1m0 3v2m0 9v1m0 6v1m0 1v1m0 3v1m0 1v1m0 11v1m0 4v1m0 3v1m0 1v2m0 2v1m0 9v1m0 8v1m0 1v1m0 4v1m0 1v2m0 5v1m0 6v1m0 5v2m0 8v1m0 7v1m0 4v4m0 9v1m0 1v1m0 22v1m0 4v1m0 2v1m0 1v1m0 1v1m0 1v2m0 2v1m0 4v1m0 7v1m0 1v1m0 9v1m0 11v1m0 4v2m0 1v1m0 3v3m0 1v1m0 4v1m0 3v1m0 2v2m0 5v2m0 5v1m0 14v1m0 3v1m0 18v1m0 133v1m0 2v2m0 2v2m0 11v1m0 22v1m0 1v1m0 13v2m0 7v1m0 16v1m0 6v3m0 4v2m0 5v1m0 7v1m0 5v2m0 1v1m0 2v1m0 6v2m0 9v4m0 11v1m0 1v1m0 52v1m0 2v3m0 1v1m0 6v6m0 1v1m0 2v1m0 1v1m0 5v1m0 3v1m0 1v1m0 5v2m0 7v1m0 4v1m0 3v1m0 2v1m0 1v1m0 57v2m0 1v1m0 1v1m0 3v1m0 1v1m0 3v1m0 20v2m0 44v1m0 17v1m0 7v1m0 6v4m0 2v1m0 2v1m0 12v1m0 2v4m0 3v1m0 2v1m0 1v1m0 1v1m0 3v1m0 1v1m0 10v2m0 4v1m0 5v2m0 5v2m0 11v2m0 2v1m0 2v1m0 1v2m0 2v1m0 1v1m0 1v1m0 2v1m0 2v2m0 5v2m0 3v1m0 4v2m0 7v1m0 1v1m0 2v1m0 8v1m0 1v1m0 1v1m0 2v1m0 4v1m0 2v2m0 5v1m0 1v2m0 1v2m0 8v1m0 1v1m0 1v1m0 1v1m0 3v1m0 20v1m0 13v4m0 2v1m0 5v2m0 3v2m0 2v1m0 6v1m0 3v2m0 7v3m0 4v1m0 7v1m0 6v2m0 3v1m0 4v1m0 1v1m0 9v2m0 1v2m0 3v1m0 8v1m0 27v1m0 3v1m0 3v1m0 3v1m0 2v3m0 1v1m0 1v1m0 4v1m0 1v1"/>
<path class="c10" d="M510 119v2m0 1v1m0 1v1m0 2v2m0 9v1m0 4v1m0 3v1m0 4v1m0 4v2m0 1v1m0 2v2m0 1v1m0 9v1m0 1v1m0 1v1m0 18v1m0 13v1m0 2v1m0 4v2m0 8v1m0 7v1m0 3v1m0 5v1m0 11v2m0 11v1m0 1v1m0 1v1m0 5v1m0 2v2m0 2v1m0 7v3m0 9v1m0 5v2m0 36v1m0 2v1m0 3v1m0 2v1m0 2v1m0 6v1m0 8v2m0 8v2m0 9v1m0 2v1m0 4v1m0 1v1m0 12v1m0 2v1m0 3v2m0 4v1m0 8v1m0 2v1m0 1v2m0 1v1m0 2v1m0 1v2m0 1v1m0 3v1m0 1v5m0 7v1m0 7v1m0 11v1m0 2v1m0 3v1m0 3v1m0 6v2m0 3v1m0 1v2m0 11v1m0 9v1m0 4v1m0 1v1m0 1v1m0 133v2m0 5v1m0 1v1m0 13v2m0 19v1m0 3v1m0 1v1m0 1v1m0 3v1m0 1v2m0 6v1m0 2v2m0 3v2m0 2v1m0 1v1m0 3v1m0 2v1m0 1v1m0 2v1m0 3v1m0 1v2m0 3v1m0 8v1m0 2v6m0 2v1m0 19v1m0 2v2m0 1v1m0 14v1m0 3v1m0 1v1m0 1v4m0 17v3m0 9v1m0 13v1m0 1v1m0 2v1m0 3v1m0 2v1m0 2v1m0 10v1m0 3v1m0 9v1m0 1v1m0 2v2m0 2v1m0 13v2m0 1v2m0 4v1m0 18v1m0 16v4m0 3v2m0 1v1m0 3v1m0 2v1m0 8v3m0 5v1m0 10v1m0 7v1m0 37v2m0 1v1m0 2v2m0 1v1m0 3v1m0 14v1m0 4v1m0 2v1m0 5v1m0 6v1m0 17v1m0 5v1m0 1v1m0 8v1m0 12v2m0 5v2m0 1v1m0 1v2m0 6v1m0 4v3m0 5v1m0 9v1m0 5v1m0 1v1m0 2v1m0 17v1m0 5v1m0 6v1m0 11v1m0 17v1m0 3v1m0 1v1m0 5v1m0 2v2m0 2v1m0 17v1m0 1v1m0 2v1m0 4v1m0 10v1m0 3v3m0 4v1m0 6v1m0 7v1m0 2v1m0 2v2m0 2v1m0 6v1m0 7v2m0 3v1m0 20v2m0 6v2m0 7v1m0 12v2m0 7v1m0 3v1m0 1v2m0 5v2m0 3v1m0 5v1m0 1v2m0 15v4m0 5v1"/>
<path class="c13" d="M510 121v1m0 9v3m0 1v1m0 9v1m0 28v1m0 2v1m0 16v1m0 10v3m0 2v1m0 27v1m0 2v2m0 11v1m0 1v2m0 2v1m0 2v2m0 71v1m0 2v1m0 1v1m0 3v1m0 1v1m0 28v2m0 2v1m0 1v1m0 17v2m0 1v1m0 29v1m0 3v1m0 31v1m0 17v1m0 12v1m0 20v1m0 4v1m0 9v1m0 2v1m0 4v1m0 3v2m0 4v1m0 9v1m0 3v1m0 2v1m0 1v1m0 139v1m0 106v1m0 7v1m0 1v1m0 3v1m0 4v1m0 106v1m0 1v1m0 25v1m0 8v1m0 1v1m0 58v1m0 10v1m0 95v1m0 4v1m0 34v1m0 6v1m0 29v1m0 21v2m0 14v1m0 3v1m0 13v1m0 4v2m0 9v1m0 1v2m0 17v1m0 4v1m0 7v1m0 90v1m0 15v1m0 13v3m0 13v1m0 1v1m0 42v1m0 2v1m0 1v1m0 8v1m0 21v1"/>
<path class="c9" d="M510 123v1m0 2v1m0 14v1m0 9v1m0 4v1m0 8v1m0 1v3m0 42v1m0 4v1m0 14v1m0 2v1m0 12v1m0 21v1m0 4v1m0 1v1m0 1v2m0 4v1m0 3v1m0 5v1m0 7v2m0 2v2m0 54v2m0 21v1m0 6v1m0 18v1m0 3v1m0 1v4m0 8v1m0 14v1m0 5v1m0 2v1m0 23v1m0 1v1m0 1v2m0 4v1m0 17v1m0 1v2m0 3v1m0 2v1m0 16v2m0 21v1m0 133v1m0 7v2m0 5v1m0 3v1m0 5v3m0 2v3m0 1v1m0 9v1m0 5v1m0 8v1m0 2v1m0 6v2m0 5v3m0 3v1m0 4v2m0 2v1m0 1v1m0 2v1m0 2v2m0 1v1m0 6v3m0 3v2m0 9v1m0 2v1m0 23v1m0 8v1m0 7v2m0 4v1m0 4v1m0 3v1m0 3v3m0 2v1m0 1v1m0 4v1m0 5v3m0 1v5m0 2v1m0 2v1m0 3v1m0 21v1m0 1v1m0 18v1m0 5v1m0 1v1m0 2v1m0 1v3m0 15v1m0 7v2m0 5v1m0 1v2m0 2v1m0 2v5m0 1v2m0 5v1m0 1v1m0 4v3m0 1v2m0 1v2m0 10v1m0 7v6m0 8v1m0 1v1m0 3v1m0 12v5m0 1v1m0 7v1m0 7v1m0 1v1m0 3v1m0 1v1m0 6v1m0 2v8m0 2v3m0 1v2m0 5v1m0 9v2m0 1v1m0 3v1m0 6v1m0 2v1m0 26v1m0 3v1m0 2v1m0 8v1m0 6v1m0 2v1m0 5v3m0 5v1m0 57v1m0 6v2m0 23v2m0 3v1m0 4v1m0 3v1m0 3v2m0 1v3m0 1v1m0 1v2m0 2v2m0 3v2m0 21v1m0 1v2m0 4v1m0 4v1m0 3v1m0 21v2m0 5v1m0 20v1m0 1v1m0 3v1m0 10v2m0 11v3m0 1v1m0 1v1m0 6v1m0 1v1m0 1v1m0 26v1m0 8v1"/>
<path class="c7" d="M510 125v1m0 160v1m0 19v1m0 115v1m0 1v4m0 31v2m0 231v1m0 15v1m0 18v2m0 7v1m0 1v1m0 3v1m0 7v1m0 53v1m0 53v1m0 15v1m0 7v1m0 4v1m0 19v1m0 87v1m0 13v1m0 59v2m0 1v1m0 4v1m0 8v1m0 3v1m0 10v2m0 7v2m0 19v2m0 37v1m0 28v1m0 6v1m0 172v1m0 5v1m0 31v1m0 49v1m0 21v1m0 12v1"/>
<path class="c12" d="M510 130v1m0 8v2m0 31v2m0 1v1m0 5v2m0 10v1m0 2v1m0 3v1m0 1v1m0 6v1m0 15v1m0 4v1m0 9v1m0 5v2m0 11v1m0 5v1m0 1v1m0 1v1m0 1v1m0 25v1m0 4v1m0 9v1m0 3v1m0 3v1m0 2v2m0 2v1m0 9v1m0 2v1m0 9v1m0 1v1m0 3v2m0 1v1m0 1v1m0 4v1m0 2v4m0 8v1m0 5v4m0 19v1m0 3v1m0 17v1m0 5v1m0 4v1m0 3v1m0 20v1m0 16v1m0 4v2m0 1v1m0 2v1m0 1v2m0 19v2m0 7v1m0 6v1m0 1v1m0 2v2m0 1v1m0 1v1m0 5v1m0 1v1m0 1v1m0 2v1m0 3v2m0 3v1m0 2v1m0 1v1m0 139v1m0 1v1m0 29v1m0 10v1m0 65v2m0 2v1m0 6v2m0 1v1m0 4v1m0 4v2m0 4v1m0 73v1m0 1v2m0 1v1m0 11v1m0 2v1m0 1v1m0 3v2m0 4v1m0 18v1m0 54v1m0 14v1m0 7v1m0 70v1m0 26v1m0 8v1m0 25v1m0 2v1m0 4v1m0 5v1m0 1v2m0 16v1m0 7v1m0 14v1m0 2v1m0 8v2m0 5v1m0 3v1m0 4v2m0 3v3m0 1v1m0 1v1m0 3v1m0 3v3m0 3v2m0 10v1m0 1v1m0 4v4m0 2v1m0 23v1m0 3v1m0 2v2m0 40v1m0 8v1m0 1v1m0 6v1m0 6v1m0 3v1m0 2v1m0 2v1m0 9v1m0 1v1m0 1v2m0 1v2m0 1v3m0 6v1m0 2v1m0 9v1m0 1v1m0 5v1m0 6v2m0 29v1m0 3v1m0 4v1m0 5v2m0 5v1m0 9v1m0 2v1"/>
<path class="c14" d="M510 134v1m0 48v1m0 5v1m0 14v1m0 3v1m0 49v1m0 7v1m0 46v2m0 11v1m0 1v1m0 3v3m0 8v1m0 4v2m0 29v1m0 22v1m0 83v1m0 60v1m0 17v2m0 8v1m0 34v2m0 215v1m0 122v1m0 242v1m0 33v1m0 46v1m0 26v1m0 2v2m0 21v1m0 93v1m0 6v1m0 20v1m0 34v1m0 29v2m0 13v1"/>
<path class="c8" d="M510 150v1m0 11v1m0 70v1m0 2v2m0 43v2m0 10v2m0 10v1m0 3v1m0 82v1m0 13v2m0 9v1m0 5v1m0 5v1m0 10v1m0 21v1m0 8v1m0 7v1m0 1v1m0 30v1m0 19v1m0 27v1m0 130v1m0 1v2m0 2v1m0 2v2m0 23v1m0 4v4m0 3v1m0 3v1m0 14v3m0 15v1m0 1v1m0 3v1m0 4v1m0 22v1m0 44v5m0 14v2m0 2v3m0 4v1m0 1v1m0 6v5m0 9v1m0 2v1m0 2v2m0 4v1m0 46v1m0 1v2m0 18v2m0 1v5m0 1v1m0 2v5m0 4v1m0 2v2m0 5v1m0 2v1m0 5v1m0 30v2m0 6v1m0 1v1m0 2v1m0 1v1m0 7v5m0 1v3m0 1v2m0 5v1m0 1v1m0 2v4m0 1v1m0 3v1m0 5v1m0 8v3m0 23v1m0 15v1m0 3v1m0 1v3m0 27v1m0 1v1m0 1v1m0 6v1m0 21v2m0 102v1m0 15v1m0 9v1m0 2v1m0 1v1m0 3v2m0 1v3m0 1v1m0 1v1m0 106v1m0 3v1m0 3v1m0 2v1m0 3v1m0 1v1m0 38v1"/>
<path class="c21" d="M510 184v1m0 477v3"/>
<path class="c30" d="M510 185v2"/>
<path class="c34" d="M510 187v1"/>
<path class="c18" d="M510 188v1m0 141v1m0 258v1m0 16v1m0 1v2m0 5v1m0 73v1"/>
<path class="c17" d="M510 226v1m0 357v3m0 1v1m0 5v1m0 4v4m0 10v1"/>
<path class="c20" d="M510 227v2m0 367v1m0 1v1m0 6v1m0 53v1"/>
<path class="c15" d="M510 229v1m0 21v1m0 77v1m0 1v1m0 6v1m0 3v1m0 195v1m0 37v2m0 1v4m0 8v1m0 1v1m0 237v1m0 439v1m0 56v1m0 100v1m0 55v1m0 45v1"/>
<path class="c5" d="M510 234v1m0 500v1"/>
<path class="c16" d="M510 378v1m0 25v1m0 169v1m0 3v1m0 4v1m0 3v1m0 2v1m0 1v1m0 19v1m0 1v1m0 871v1"/>
<path class="c19" d="M510 595v1m0 1v1m0 5v2m0 2v1"/>
<path class="c25" d="M510 616v1m0 39v1m0 8v2"/>
<path class="c26" d="M510 617v1"/>
<path class="c33" d="M510 618v1"/>
<path class="c35" d="M510 619v1m0 53v1"/>
<path class="c37" d="M510 620v1"/>
<path class="c40" d="M510 621v1m0 2v2"/>
<path class="c44" d="M510 622v1m0 3v2m0 47v1m0 1v1"/>
<path class="c42" d="M510 623v1"/>
<path class="c48" d="M510 628v1m0 49v1"/>
<path class="c45" d="M510 629v1"/>
<path class="c53" d="M510 630v1"/>
<path class="c58" d="M510 631v1"/>
<path class="c63" d="M510 632v22m0 26v9"/>
<path class="c39" d="M510 654v1"/>
<path class="c32" d="M510 655v1"/>
<path class="c22" d="M510 657v1m0 9v1"/>
<path class="c24" d="M510 658v1m0 2v1"/>
<path class="c23" d="M510 660v1"/>
<path class="c27" d="M510 668v1"/>
<path class="c28" d="M510 669v1"/>
<path class="c31" d="M510 670v3"/>
<path class="c41" d="M510 674v1m0 1v1"/>
<path class="c50" d="M510 679v1"/>
<path class="c6" d="M510 726v1m0 2v1m0 180v1m0 198v1m0 58v1m0 3v1m0 1v1m0 223v1"/>
</g>
<g stroke-width="5">
<path class="c10" d="M514.5 118v1m0 6v1m0 3v1m0 1v1m0 1v1m0 2v2m0 1v1m0 6v1m0 1v1m0 12v1m0 21v1m0 7v1m0 6v1m0 9v1m0 3v2m0 1v3m0 1v1m0 2v1m0 8v3m0 1v1m0 11v1m0 12v2m0 3v1m0 21v1m0 8v1m0 1v1m0 2v2m0 8v1m0 3v2m0 1v5m0 4v1m0 4v1m0 3v1m0 1v1m0 5v1m0 6v1m0 8v3m0 6v1m0 1v1m0 4v2m0 5v1m0 6v1m0 7v1m0 1v1m0 7v1m0 1v1m0 1v1m0 4v1m0 10v1m0 9v1m0 18v1m0 3v1m0 1v1m0 1v3m0 19v1m0 7v1m0 1v1m0 4v1m0 1v2m0 16v1m0 5v1m0 12v1m0 2v2m0 2v1m0 1v1m0 3v2m0 1v1m0 1v2m0 3v1m0 1v1m0 8v1m0 138v1m0 8v1m0 30v1m0 4v2m0 1v4m0 28v2m0 6v2m0 2v2m0 3v2m0 1v1m0 12v1m0 3v4m0 1v1m0 4v1m0 78v1m0 23v2m0 4v1m0 6v3m0 2v1m0 71v1m0 5v1m0 6v1m0 127v1m0 4v1m0 3v3m0 4v2m0 2v2m0 5v1m0 3v2m0 1v1m0 4v1m0 2v1m0 6v1m0 2v1m0 1v1m0 2v1m0 4v1m0 4v4m0 3v1m0 1v3m0 6v1m0 5v1m0 4v1m0 8v1m0 2v1m0 9v3m0 2v1m0 3v2m0 3v1m0 2v2m0 1v1m0 4v1m0 4v3m0 2v1m0 55v1m0 2v1m0 1v1m0 3v3m0 1v3m0 1v4m0 3v1m0 12v1m0 11v1m0 1v1m0 4v1m0 1v1m0 6v1m0 5v3m0 8v1m0 7v2m0 2v2m0 12v1m0 1v1m0 4v1m0 1v1m0 1v1m0 1v1m0 2v1m0 3v1m0 9v2m0 1v2m0 16v1"/>
<path class="c9" d="M514.5 119v1m0 3v1m0 6v1m0 4v1m0 2v1m0 1v1m0 1v2m0 3v1m0 1v1m0 13v2m0 1v1m0 9v1m0 3v3m0 9v3m0 1v2m0 1v1m0 6v2m0 1v1m0 1v1m0 2v1m0 5v1m0 2v2m0 9v1m0 2v1m0 4v2m0 1v1m0 3v2m0 5v4m0 11v1m0 1v4m0 11v1m0 1v1m0 1v1m0 4v1m0 2v1m0 11v2m0 3v1m0 10v2m0 1v1m0 1v1m0 1v1m0 29v1m0 7v3m0 15v1m0 3v2m0 2v1m0 7v1m0 7v2m0 1v1m0 2v7m0 1v2m0 13v1m0 8v1m0 8v1m0 7v1m0 5v1m0 7v1m0 3v1m0 2v1m0 1v2m0 3v2m0 8v1m0 1v1m0 4v2m0 7v1m0 1v1m0 2v1m0 3v1m0 5v2m0 15v1m0 8v1m0 1v1m0 122v1m0 4v1m0 1v1m0 1v1m0 2v2m0 2v6m0 1v1m0 5v1m0 2v1m0 4v2m0 11v1m0 3v1m0 1v4m0 1v3m0 1v1m0 1v2m0 2v1m0 4v2m0 1v1m0 2v2m0 5v1m0 6v1m0 4v1m0 4v5m0 4v1m0 4v1m0 2v1m0 5v1m0 8v3m0 4v1m0 1v2m0 3v1m0 5v4m0 4v1m0 2v1m0 13v1m0 1v1m0 3v2m0 19v1m0 1v2m0 4v1m0 1v3m0 6v1m0 3v1m0 2v1m0 11v1m0 3v1m0 8v3m0 1v2m0 3v2m0 12v1m0 5v1m0 4v1m0 19v1m0 27v1m0 1v1m0 1v3m0 1v2m0 1v1m0 3v6m0 13v1m0 5v1m0 23v3m0 20v1m0 1v1m0 2v4m0 20v1m0 9v1m0 3v2m0 7v3m0 1v1m0 6v1m0 3v3m0 7v1m0 15v1m0 2v1m0 3v2m0 1v1m0 2v1m0 3v1m0 2v1m0 1v2m0 1v1m0 1v2m0 14v4m0 3v1m0 3v3m0 3v2m0 2v1m0 7v1m0 1v1m0 12v1m0 3v2m0 3v1m0 4v1m0 15v1m0 2v1m0 4v2m0 2v4m0 4v1m0 4v3m0 1v2m0 9v1m0 1v1m0 6v1m0 3v1m0 1v2m0 3v2m0 4v1m0 3v1m0 4v3m0 1v1m0 1v2m0 5v1m0 3v4m0 1v2m0 1v1m0 1v1m0 1v1m0 2v1m0 1v1m0 1v1m0 1v1m0 8v2m0 7v2m0 8v1m0 9v3m0 3v1m0 1v1m0 1v1m0 3v2m0 1v1m0 7v2m0 1v3m0 5v2m0 5v1m0 7v1m0 1v1m0 2v2m0 1v1m0 5v2m0 1v1m0 1v1"/>
<path class="c11" d="M514.5 120v2m0 4v3m0 3v1m0 1v1m0 9v1m0 32v3m0 10v1m0 11v1m0 7v1m0 7v1m0 20v1m0 15v1m0 11v3m0 2v1m0 41v1m0 8v1m0 1v1m0 15v1m0 5v1m0 2v1m0 1v1m0 1v5m0 7v1m0 1v1m0 1v1m0 9v1m0 3v2m0 15v1m0 9v1m0 25v1m0 26v1m0 3v1m0 8v1m0 18v1m0 3v1m0 2v1m0 8v3m0 2v1m0 18v2m0 4v1m0 3v1m0 5v1m0 5v1m0 4v1m0 4v1m0 7v1m0 241v1m0 3v1m0 3v1m0 95v1m0 254v2m0 3v1m0 7v1m0 7v1m0 1v1m0 2v3m0 13v1m0 5v1m0 2v1m0 17v1m0 3v1m0 31v1m0 1v1m0 27v1m0 3v2m0 1v2m0 6v1m0 6v2m0 10v1m0 82v1m0 6v1m0 1v1m0 5v2m0 14v1m0 2v1m0 1v1m0 7v1m0 2v1m0 3v1m0 7v1m0 1v1m0 9v1m0 13v1m0 1v1m0 2v1m0 8v1m0 1v1m0 2v1m0 14v1m0 1v1"/>
<path class="c7" d="M514.5 122v1m0 18v1m0 8v1m0 3v1m0 4v1m0 9v2m0 2v2m0 61v1m0 41v2m0 1v1m0 13v1m0 11v1m0 1v1m0 30v1m0 22v1m0 23v1m0 5v1m0 3v1m0 8v1m0 29v1m0 6v1m0 1v2m0 3v2m0 22v1m0 3v4m0 24v1m0 20v1m0 164v2m0 23v1m0 2v2m0 9v1m0 1v1m0 2v1m0 8v1m0 37v1m0 6v1m0 17v1m0 35v4m0 6v1m0 12v1m0 14v1m0 3v1m0 1v1m0 4v1m0 2v1m0 9v1m0 6v1m0 18v1m0 1v3m0 2v1m0 28v2m0 1v2m0 2v4m0 5v1m0 1v4m0 1v4m0 2v7m0 4v2m0 1v4m0 2v1m0 1v1m0 3v1m0 1v4m0 1v1m0 25v2m0 1v3m0 4v1m0 2v1m0 5v1m0 1v1m0 3v1m0 1v5m0 3v4m0 5v2m0 4v1m0 11v1m0 12v4m0 2v3m0 3v1m0 1v3m0 6v2m0 2v1m0 1v1m0 4v1m0 2v1m0 1v1m0 39v1m0 1v1m0 48v2m0 9v1m0 5v1m0 7v1m0 4v1m0 7v1m0 29v1m0 2v1m0 7v1m0 20v1m0 9v1m0 1v1m0 40v1m0 2v1m0 8v1m0 20v1m0 21v1m0 65v2m0 2v1m0 2v1m0 2v1m0 7v1"/>
<path class="c13" d="M514.5 124v1m0 20v1m0 54v1m0 29v1m0 7v1m0 14v1m0 8v2m0 2v1m0 63v1m0 14v1m0 36v1m0 138v1m0 31v1m0 17v1m0 1v1m0 4v1m0 13v1m0 6v1m0 216v1m0 4v1m0 1v1m0 1v1m0 13v1m0 85v1m0 1v1m0 265v1m0 264v2m0 24v1"/>
<path class="c8" d="M514.5 151v3m0 1v1m0 1v2m0 1v1m0 1v1m0 2v1m0 1v2m0 2v2m0 2v1m0 19v1m0 7v1m0 1v1m0 15v1m0 3v1m0 18v1m0 1v1m0 1v1m0 21v1m0 6v1m0 2v1m0 1v5m0 2v1m0 1v1m0 1v2m0 4v1m0 3v2m0 1v1m0 1v1m0 1v1m0 26v1m0 1v1m0 24v1m0 21v1m0 1v1m0 3v1m0 1v1m0 14v1m0 3v2m0 4v2m0 13v2m0 3v1m0 2v1m0 6v1m0 2v1m0 2v2m0 1v3m0 10v3m0 1v1m0 6v2m0 6v1m0 1v1m0 14v1m0 1v1m0 13v1m0 1v1m0 4v1m0 1v1m0 1v2m0 155v1m0 2v1m0 1v1m0 1v1m0 1v2m0 2v2m0 6v1m0 3v1m0 1v1m0 5v3m0 2v2m0 1v1m0 1v1m0 2v3m0 1v3m0 6v1m0 5v1m0 11v1m0 1v2m0 2v2m0 1v2m0 1v3m0 1v2m0 1v3m0 2v2m0 7v1m0 7v1m0 42v2m0 1v1m0 1v1m0 2v7m0 1v5m0 1v1m0 1v3m0 2v1m0 1v3m0 3v4m0 1v2m0 1v3m0 1v1m0 2v2m0 1v1m0 1v1m0 4v5m0 18v1m0 2v2m0 1v1m0 2v4m0 4v1m0 8v5m0 2v1m0 2v1m0 5v1m0 1v3m0 6v1m0 13v1m0 1v2m0 2v1m0 5v1m0 3v3m0 1v1m0 4v1m0 1v2m0 3v1m0 6v1m0 1v2m0 7v2m0 6v4m0 2v1m0 1v3m0 1v1m0 1v1m0 1v3m0 1v1m0 12v2m0 5v4m0 1v11m0 1v1m0 1v1m0 1v2m0 4v2m0 4v2m0 3v3m0 1v1m0 3v1m0 1v3m0 3v2m0 3v2m0 3v2m0 1v1m0 1v1m0 9v1m0 12v1m0 4v1m0 8v1m0 6v1m0 6v1m0 8v1m0 2v1m0 4v1m0 8v1m0 5v2m0 8v1m0 5v1m0 4v2m0 2v1m0 9v2m0 1v1m0 8v1m0 4v1m0 1v1m0 22v1m0 9v1m0 5v1m0 1v1m0 1v4m0 3v1m0 3v8m0 4v5m0 1v3m0 9v1m0 17v1m0 2v1m0 1v2m0 2v2m0 10v1m0 14v1m0 1v1m0 1v2m0 2v1m0 9v1m0 2v2m0 1v1m0 1v1m0 4v1m0 15v1m0 3v1m0 4v1m0 1v1m0 36v1m0 2v1m0 7v1"/>
<path class="c6" d="M514.5 156v1m0 148v1m0 83v1m0 50v2m0 5v2m0 5v1m0 260v1m0 19v1m0 40v1m0 27v1m0 38v1m0 14v1m0 28v1m0 41v1m0 3v1m0 61v2m0 18v1m0 2v1m0 39v1m0 29v3m0 62v1m0 57v1m0 6v1m0 46v1m0 22v1"/>
<path class="c17" d="M514.5 184v1m0 44v1m0 371v1m0 1v1"/>
<path class="c16" d="M514.5 185v1m0 2v1m0 214v2m0 175v1m0 5v1m0 6v1m0 8v1m0 1v1m0 2v2m0 4v1"/>
<path class="c24" d="M514.5 186v1m0 480v1"/>
<path class="c29" d="M514.5 187v1m0 434v1"/>
<path class="c14" d="M514.5 189v1m0 36v1m0 175v1m0 29v1m0 86v1m0 62v2m0 10v2m0 18v1m0 706v1"/>
<path class="c12" d="M514.5 201v1m0 2v1m0 35v2m0 9v2m0 1v1m0 9v1m0 59v1m0 1v1m0 7v1m0 7v2m0 2v1m0 1v2m0 3v1m0 5v1m0 7v1m0 4v1m0 5v2m0 1v1m0 23v1m0 25v1m0 1v1m0 35v1m0 15v2m0 2v1m0 11v1m0 9v1m0 6v1m0 1v1m0 10v1m0 6v1m0 4v1m0 3v1m0 1v1m0 1v1m0 9v2m0 6v2m0 1v1m0 1v1m0 2v1m0 1v1m0 235v1m0 1v1m0 2v1m0 3v1m0 15v1m0 80v1m0 2v1m0 3v1m0 250v1m0 21v1m0 45v1m0 33v1m0 14v2m0 17v1m0 6v1m0 3v1m0 9v2m0 50v1m0 124v1m0 1v1m0 4v2m0 5v1m0 1v1m0 1v1"/>
<path class="c18" d="M514.5 227v1m0 377v2m0 2v1m0 5v1"/>
<path class="c21" d="M514.5 228v1m0 433v4"/>
<path class="c15" d="M514.5 581v1m0 2v2m0 1v5m0 4v3m0 1v1m0 9v3m0 872v2"/>
<path class="c23" d="M514.5 616v1"/>
<path class="c22" d="M514.5 617v1m0 41v3m0 7v1"/>
<path class="c27" d="M514.5 618v1m0 1v1m0 2v2m0 31v1m0 11v1"/>
<path class="c25" d="M514.5 619v1m0 37v1"/>
<path class="c28" d="M514.5 621v1"/>
<path class="c32" d="M514.5 625v2m0 44v1m0 2v2"/>
<path class="c33" d="M514.5 627v1"/>
<path class="c35" d="M514.5 628v1m0 25v1"/>
<path class="c42" d="M514.5 629v1m0 48v1"/>
<path class="c45" d="M514.5 630v1"/>
<path class="c41" d="M514.5 631v1"/>
<path class="c49" d="M514.5 632v1"/>
<path class="c51" d="M514.5 633v1m0 46v1"/>
<path class="c55" d="M514.5 634v1"/>
<path class="c63" d="M514.5 635v18m0 28v8"/>
<path class="c48" d="M514.5 653v1m0 25v1"/>
<path class="c26" d="M514.5 655v1m0 2v1"/>
<path class="c20" d="M514.5 666v1m0 22v1"/>
<path class="c30" d="M514.5 670v1"/>
<path class="c31" d="M514.5 672v2"/>
<path class="c38" d="M514.5 676v1"/>
<path class="c36" d="M514.5 677v1"/>
<path class="c5" d="M514.5 930v1m0 417v1"/>
<path class="c3" d="M514.5 931v1"/>
</g>
<g stroke-width="4">
<path class="c9" d="M519 118v4m0 2v1m0 3v1m0 1v1m0 1v2m0 10v2m0 29v1m0 1v1m0 1v1m0 2v2m0 7v1m0 1v2m0 3v1m0 1v4m0 1v1m0 4v1m0 4v1m0 3v4m0 2v1m0 5v1m0 3v1m0 2v1m0 1v2m0 1v5m0 2v1m0 1v1m0 1v1m0 1v1m0 2v1m0 12v1m0 1v1m0 12v1m0 8v3m0 8v2m0 4v2m0 2v1m0 1v1m0 2v1m0 4v1m0 1v1m0 1v2m0 13v2m0 28v2m0 2v2m0 1v3m0 1v2m0 9v1m0 1v1m0 6v1m0 2v1m0 4v1m0 1v2m0 5v1m0 3v1m0 2v1m0 1v1m0 3v3m0 4v5m0 4v1m0 3v1m0 3v1m0 3v3m0 2v3m0 4v1m0 13v1m0 3v1m0 1v1m0 7v1m0 8v1m0 2v1m0 2v2m0 1v4m0 1v1m0 2v1m0 10v1m0 6v1m0 1v2m0 1v4m0 145v2m0 2v2m0 1v2m0 1v1m0 4v1m0 28v1m0 1v1m0 1v1m0 2v1m0 48v1m0 2v2m0 8v3m0 1v1m0 6v2m0 2v2m0 1v1m0 3v1m0 1v2m0 12v2m0 3v1m0 9v1m0 15v1m0 39v2m0 4v1m0 6v1m0 3v3m0 1v1m0 35v1m0 2v1m0 19v2m0 44v1m0 1v2m0 1v2m0 21v1m0 64v1m0 38v1m0 1v1m0 4v3m0 1v1m0 1v1m0 7v1m0 14v1m0 1v1m0 6v1m0 3v6m0 2v1m0 4v1m0 3v1m0 6v2m0 2v1m0 5v1m0 4v1m0 6v3m0 4v1m0 1v1m0 1v1m0 6v1m0 2v1m0 6v3m0 8v2m0 2v2m0 8v7m0 8v1m0 25v1m0 21v1m0 2v1m0 2v1m0 10v1m0 1v1m0 4v1m0 3v1m0 6v1m0 1v2m0 9v1m0 6v1m0 2v1m0 12v1m0 5v3m0 5v2m0 1v1m0 9v1m0 16v1m0 1v1m0 2v3m0 2v5m0 8v1m0 3v1m0 9v1m0 3v1"/>
<path class="c7" d="M519 122v1m0 3v1m0 9v1m0 6v1m0 6v4m0 5v1m0 3v3m0 2v4m0 40v1m0 11v1m0 9v1m0 4v1m0 28v1m0 9v2m0 1v2m0 6v3m0 1v3m0 7v1m0 2v1m0 8v2m0 18v1m0 1v2m0 13v1m0 1v1m0 1v1m0 2v2m0 2v2m0 3v4m0 2v1m0 16v1m0 29v2m0 12v2m0 17v1m0 4v1m0 2v1m0 1v1m0 9v1m0 4v3m0 2v1m0 2v1m0 41v2m0 8v1m0 20v1m0 130v1m0 3v1m0 1v2m0 1v1m0 14v1m0 6v1m0 4v2m0 3v2m0 2v1m0 2v1m0 1v2m0 3v1m0 9v1m0 1v1m0 7v1m0 1v1m0 1v5m0 1v1m0 1v3m0 3v3m0 3v1m0 14v1m0 36v3m0 1v1m0 11v1m0 2v1m0 3v1m0 1v1m0 3v2m0 1v1m0 1v5m0 1v1m0 3v1m0 1v1m0 1v4m0 1v5m0 1v1m0 2v1m0 1v2m0 1v1m0 3v1m0 2v1m0 1v2m0 13v1m0 1v1m0 1v1m0 2v1m0 18v2m0 2v1m0 1v4m0 2v2m0 2v3m0 9v1m0 2v2m0 1v3m0 1v1m0 10v2m0 1v2m0 1v1m0 2v1m0 3v1m0 1v5m0 3v2m0 2v1m0 1v2m0 1v1m0 2v1m0 1v1m0 3v1m0 10v2m0 1v3m0 2v1m0 2v2m0 1v1m0 1v2m0 2v4m0 2v2m0 1v1m0 2v1m0 1v3m0 2v1m0 2v1m0 1v2m0 1v1m0 2v1m0 2v1m0 2v3m0 2v1m0 1v4m0 2v1m0 1v3m0 2v1m0 2v3m0 3v1m0 2v1m0 1v1m0 2v1m0 1v1m0 1v1m0 2v1m0 1v1m0 2v1m0 2v6m0 7v1m0 17v2m0 5v1m0 1v1m0 1v1m0 1v1m0 9v1m0 7v2m0 19v1m0 9v1m0 32v1m0 8v1m0 12v1m0 2v2m0 18v2m0 1v2m0 1v1m0 3v1m0 1v1m0 6v3m0 3v2m0 2v2m0 1v1m0 1v2m0 2v1m0 6v6m0 1v1m0 10v2m0 1v2m0 7v2m0 10v1m0 12v1m0 10v2m0 8v2m0 1v1m0 17v1m0 14v3m0 53v1"/>
<path class="c8" d="M519 123v1m0 1v1m0 1v1m0 1v1m0 4v2m0 1v6m0 3v4m0 4v2m0 1v2m0 1v2m0 11v2m0 1v1m0 1v1m0 1v2m0 10v1m0 2v3m0 1v1m0 7v1m0 1v1m0 1v1m0 1v2m0 2v1m0 5v1m0 8v2m0 2v2m0 4v1m0 14v1m0 3v1m0 2v4m0 1v1m0 1v1m0 1v1m0 1v3m0 2v1m0 2v4m0 1v1m0 3v1m0 6v4m0 1v2m0 3v4m0 5v1m0 17v1m0 2v2m0 10v1m0 5v2m0 2v2m0 2v3m0 4v1m0 2v1m0 2v2m0 6v1m0 2v2m0 1v1m0 1v1m0 4v1m0 6v1m0 2v1m0 1v4m0 1v1m0 2v2m0 2v1m0 1v3m0 1v2m0 1v1m0 1v1m0 5v1m0 2v1m0 7v1m0 3v2m0 1v1m0 1v1m0 2v1m0 9v1m0 1v2m0 1v1m0 3v2m0 1v2m0 2v2m0 1v3m0 3v3m0 1v3m0 1v1m0 1v6m0 1v2m0 1v1m0 3v1m0 4v1m0 4v3m0 1v3m0 1v2m0 3v3m0 11v1m0 1v1m0 10v1m0 117v1m0 8v1m0 1v2m0 2v2m0 2v1m0 2v1m0 1v1m0 1v2m0 1v2m0 2v2m0 4v3m0 2v1m0 5v1m0 2v3m0 2v1m0 1v1m0 1v2m0 1v1m0 1v1m0 1v7m0 1v1m0 1v1m0 5v1m0 1v1m0 9v2m0 2v12m0 5v6m0 1v1m0 3v1m0 2v5m0 2v1m0 3v1m0 11v1m0 1v7m0 2v2m0 2v1m0 1v3m0 1v1m0 1v1m0 1v1m0 2v1m0 1v1m0 5v1m0 1v2m0 4v1m0 4v1m0 5v1m0 1v2m0 1v1m0 2v1m0 1v3m0 1v1m0 2v1m0 2v5m0 5v1m0 1v1m0 1v1m0 1v1m0 2v1m0 1v1m0 5v7m0 1v4m0 2v2m0 1v1m0 4v2m0 2v2m0 3v4m0 1v2m0 1v1m0 15v3m0 2v1m0 2v1m0 2v1m0 1v2m0 5v1m0 6v2m0 2v2m0 6v2m0 1v1m0 1v2m0 2v1m0 1v1m0 5v2m0 2v1m0 4v1m0 7v1m0 2v1m0 5v2m0 5v1m0 5v1m0 5v1m0 8v1m0 6v2m0 1v1m0 4v2m0 1v1m0 3v2m0 1v2m0 3v2m0 2v2m0 1v1m0 1v2m0 1v1m0 1v1m0 1v2m0 1v1m0 1v2m0 1v2m0 7v1m0 1v4m0 1v1m0 1v1m0 1v4m0 7v1m0 3v3m0 1v1m0 1v1m0 1v1m0 1v1m0 1v5m0 2v1m0 2v5m0 1v1m0 8v2m0 1v3m0 4v1m0 3v4m0 2v2m0 2v4m0 1v4m0 1v1m0 13v1m0 1v1m0 1v4m0 1v1m0 1v2m0 10v2m0 14v2m0 2v1m0 8v1m0 2v1m0 2v1m0 2v1m0 2v1m0 1v6m0 8v2m0 2v1m0 4v2m0 13v1m0 1v2m0 4v2m0 1v1m0 2v1m0 2v4m0 1v1m0 3v2m0 1v2m0 2v3m0 1v2m0 1v1m0 2v6m0 1v2m0 1v6m0 4v7m0 2v1m0 1v1m0 1v5m0 3v5m0 4v1m0 5v3m0 1v3m0 3v4m0 1v5m0 1v1m0 1v2m0 3v2m0 5v5m0 6v1m0 2v8m0 1v1m0 1v1m0 1v1m0 1v1"/>
<path class="c10" d="M519 131v1m0 58v1m0 15v1m0 1v1m0 7v1m0 1v1m0 11v1m0 18v1m0 3v1m0 1v1m0 2v1m0 1v1m0 1v1m0 60v3m0 7v1m0 10v1m0 3v1m0 33v1m0 10v1m0 1v3m0 3v1m0 3v1m0 2v1m0 32v2m0 6v2m0 1v1m0 43v1m0 10v1m0 11v1m0 23v1m0 4v1m0 4v1m0 8v1m0 6v1m0 1v1m0 7v1m0 241v1m0 8v1m0 4v1m0 1v1m0 1v1m0 89v1m0 15v1m0 109v1m0 137v1m0 1v1m0 2v1m0 45v1m0 1v2m0 2v1m0 24v2m0 7v1m0 15v1m0 1v1m0 1v1m0 6v1m0 3v1m0 7v2m0 5v1m0 64v2m0 24v1m0 65v2m0 14v1m0 25v2m0 3v1m0 2v1m0 10v1"/>
<path class="c6" d="M519 156v1m0 5v1m0 3v2m0 80v1m0 21v1m0 82v1m0 1v1m0 17v1m0 114v1m0 12v1m0 33v1m0 14v1m0 141v3m0 1v1m0 24v1m0 3v2m0 8v1m0 1v2m0 42v3m0 5v1m0 14v1m0 9v1m0 72v1m0 27v1m0 38v1m0 33v2m0 2v1m0 3v1m0 1v4m0 16v3m0 7v1m0 7v1m0 2v1m0 8v1m0 17v1m0 3v1m0 2v1m0 16v1m0 2v1m0 4v1m0 1v2m0 4v1m0 1v2m0 1v1m0 2v2m0 58v1m0 1v1m0 41v1m0 129v1m0 12v3m0 14v6"/>
<path class="c5" d="M519 172v1m0 896v1m0 18v1"/>
<path class="c11" d="M519 184v1m0 19v1m0 58v1m0 56v2m0 6v1m0 1v1m0 3v1m0 6v1m0 1v1m0 5v2m0 117v2m0 74v1m0 18v2m0 5v1m0 2v2m0 12v2m0 247v1m0 436v2m0 2v1m0 3v3m0 17v1m0 3v1m0 7v2m0 13v1m0 204v1"/>
<path class="c13" d="M519 185v1m0 216v1m0 1v1m0 160v1m0 2v1m0 7v1m0 1v1m0 1v1m0 3v1m0 1v1m0 2v1m0 1v1m0 3v2m0 4v1m0 2v1m0 7v1m0 314v1m0 557v1m0 45v1"/>
<path class="c18" d="M519 186v1m0 479v1m0 1v1"/>
<path class="c15" d="M519 187v1m0 41v1m0 370v1m0 6v1m0 1v1m0 4v1m0 1v1"/>
<path class="c14" d="M519 188v1m0 37v1m0 339v1m0 10v1m0 12v1m0 1v3m0 3v2m0 2v2m0 6v1m0 2v1m0 872v1"/>
<path class="c12" d="M519 189v1m0 61v1m0 74v1m0 15v1m0 2v1m0 57v1m0 154v1m0 8v1m0 7v1m0 5v3m0 1v1m0 11v1m0 330v1m0 383v1m0 14v1m0 156v1"/>
<path class="c17" d="M519 227v2m0 389v1m0 40v1m0 7v1m0 21v1"/>
<path class="c16" d="M519 605v2m0 1v1m0 2v1m0 3v1m0 1v1m0 42v1"/>
<path class="c19" d="M519 619v2m0 2v1m0 37v2m0 2v1"/>
<path class="c20" d="M519 621v1m0 35v1m0 5v2m0 5v1"/>
<path class="c25" d="M519 622v1"/>
<path class="c21" d="M519 624v1m0 47v1"/>
<path class="c24" d="M519 625v1m0 28v1m0 16v1"/>
<path class="c27" d="M519 626v1m0 50v1"/>
<path class="c30" d="M519 627v1m0 45v2"/>
<path class="c31" d="M519 628v1m0 46v1"/>
<path class="c34" d="M519 629v1"/>
<path class="c37" d="M519 630v1"/>
<path class="c42" d="M519 631v1"/>
<path class="c41" d="M519 632v1"/>
<path class="c40" d="M519 633v1m0 44v1"/>
<path class="c50" d="M519 634v1"/>
<path class="c45" d="M519 635v1"/>
<path class="c52" d="M519 636v1"/>
<path class="c54" d="M519 637v1"/>
<path class="c63" d="M519 638v15m0 29v6"/>
<path class="c39" d="M519 653v1"/>
<path class="c22" d="M519 655v1m0 2v1m0 10v1"/>
<path class="c23" d="M519 656v1"/>
<path class="c29" d="M519 676v1"/>
<path class="c38" d="M519 679v1"/>
<path class="c49" d="M519 680v1"/>
<path class="c53" d="M519 681v1m0 6v1"/>
</g>
<g stroke-width="4">
<path class="c7" d="M523 118v3m0 1v2m0 2v1m0 3v2m0 15v5m0 2v1m0 3v3m0 1v2m0 1v2m0 1v1m0 1v1m0 1v3m0 1v1m0 3v1m0 1v1m0 12v1m0 1v2m0 1v2m0 1v1m0 5v1m0 14v1m0 8v1m0 2v2m0 1v1m0 16v2m0 7v1m0 2v1m0 2v5m0 1v1m0 3v1m0 2v1m0 1v2m0 2v2m0 1v1m0 1v3m0 1v1m0 7v1m0 1v3m0 1v2m0 1v1m0 1v1m0 2v1m0 1v1m0 1v1m0 11v1m0 1v2m0 6v1m0 3v1m0 1v1m0 1v1m0 2v3m0 19v3m0 1v1m0 1v1m0 2v4m0 2v2m0 1v1m0 7v2m0 1v1m0 3v3m0 5v2m0 2v5m0 8v1m0 4v1m0 1v1m0 2v1m0 2v1m0 1v4m0 2v2m0 1v2m0 2v2m0 4v5m0 1v1m0 2v4m0 2v2m0 3v1m0 4v2m0 3v1m0 1v3m0 2v2m0 1v1m0 1v2m0 2v1m0 1v1m0 1v2m0 1v3m0 18v1m0 9v2m0 1v2m0 3v1m0 7v1m0 117v3m0 1v3m0 2v1m0 2v1m0 2v1m0 2v2m0 2v2m0 1v3m0 2v1m0 1v3m0 2v1m0 1v5m0 2v1m0 1v1m0 6v1m0 4v1m0 1v3m0 2v1m0 1v8m0 1v1m0 5v2m0 1v1m0 1v2m0 1v2m0 1v5m0 1v9m0 1v3m0 4v1m0 1v1m0 5v1m0 2v1m0 15v1m0 2v1m0 3v2m0 1v2m0 7v1m0 6v13m0 1v7m0 2v3m0 7v5m0 2v1m0 2v1m0 2v1m0 1v3m0 1v2m0 2v1m0 1v4m0 8v2m0 2v2m0 1v5m0 1v1m0 1v2m0 1v1m0 4v2m0 3v3m0 1v1m0 3v3m0 5v3m0 1v4m0 1v1m0 3v2m0 1v6m0 1v1m0 4v4m0 3v1m0 1v3m0 1v1m0 2v1m0 1v2m0 1v4m0 1v1m0 1v3m0 1v1m0 3v1m0 5v1m0 2v4m0 1v2m0 3v2m0 3v1m0 3v1m0 10v2m0 2v1m0 1v1m0 4v1m0 4v3m0 1v1m0 3v2m0 1v2m0 1v4m0 2v1m0 1v2m0 1v1m0 1v1m0 1v2m0 1v4m0 1v3m0 1v4m0 2v1m0 1v1m0 1v1m0 6v1m0 9v2m0 1v1m0 3v1m0 1v2m0 2v1m0 1v1m0 3v1m0 1v2m0 3v3m0 3v1m0 2v1m0 8v1m0 1v2m0 2v4m0 4v2m0 3v1m0 3v1m0 2v2m0 1v4m0 3v2m0 1v2m0 2v1m0 2v1m0 2v1m0 5v1m0 2v2m0 6v2m0 1v2m0 9v1m0 1v1m0 2v2m0 1v3m0 21v1m0 13v1m0 2v2m0 1v3m0 9v1m0 2v1m0 1v2m0 1v3m0 4v2m0 1v2m0 3v3m0 1v1m0 6v1m0 1v4m0 2v1m0 10v5m0 3v1m0 1v1m0 2v1m0 3v1m0 3v2m0 1v7m0 1v2m0 6v4m0 1v2m0 4v1m0 6v4m0 5v1m0 8v1m0 1v1m0 7v1m0 1v1m0 2v1m0 1v3m0 1v1m0 2v1m0 1v2m0 2v2m0 2v6m0 4v4m0 1v1m0 9v2m0 7v1m0 1v1m0 1v3"/>
<path class="c8" d="M523 121v1m0 2v2m0 1v1m0 1v1m0 2v7m0 1v2m0 1v4m0 5v2m0 1v1m0 1v1m0 3v1m0 7v1m0 1v1m0 3v1m0 1v3m0 1v1m0 1v1m0 8v3m0 1v1m0 5v1m0 2v4m0 3v1m0 1v2m0 1v1m0 2v4m0 7v2m0 2v1m0 2v1m0 1v1m0 2v4m0 1v1m0 1v1m0 1v4m0 2v2m0 4v1m0 1v2m0 1v1m0 6v1m0 3v1m0 1v1m0 2v1m0 6v1m0 5v1m0 1v2m0 1v1m0 1v2m0 1v1m0 8v1m0 1v1m0 2v1m0 1v1m0 1v2m0 7v2m0 1v1m0 2v2m0 1v3m0 1v3m0 1v1m0 1v1m0 1v2m0 3v4m0 2v1m0 1v3m0 1v3m0 1v3m0 5v1m0 1v1m0 5v2m0 2v1m0 1v1m0 8v1m0 1v2m0 4v4m0 3v2m0 5v1m0 2v4m0 2v1m0 1v2m0 1v1m0 1v2m0 1v2m0 1v1m0 4v2m0 2v1m0 2v2m0 2v4m0 5v1m0 7v1m0 3v3m0 1v4m0 2v1m0 1v1m0 1v1m0 3v1m0 3v1m0 7v1m0 1v1m0 2v1m0 3v3m0 1v4m0 3v1m0 4v2m0 1v1m0 2v1m0 1v1m0 1v1m0 3v1m0 4v1m0 3v1m0 14v2m0 3v1m0 4v1m0 110v2m0 1v2m0 2v2m0 6v2m0 8v1m0 5v1m0 2v1m0 1v2m0 1v3m0 1v4m0 1v1m0 3v1m0 11v1m0 1v5m0 10v1m0 5v1m0 9v1m0 5v2m0 1v1m0 1v1m0 2v2m0 2v1m0 3v1m0 3v1m0 2v2m0 1v1m0 1v1m0 1v2m0 1v3m0 5v5m0 3v3m0 1v2m0 39v1m0 1v2m0 1v1m0 2v1m0 3v1m0 10v1m0 6v1m0 2v2m0 10v1m0 6v2m0 8v1m0 2v2m0 3v1m0 3v1m0 8v1m0 1v2m0 3v1m0 6v1m0 36v1m0 1v3m0 1v5m0 1v2m0 7v3m0 39v1m0 1v1m0 7v1m0 4v2m0 1v1m0 4v1m0 1v1m0 7v1m0 3v1m0 7v1m0 1v1m0 11v6m0 16v3m0 1v1m0 2v3m0 3v1m0 1v1m0 1v2m0 3v5m0 2v1m0 8v2m0 1v1m0 3v2m0 2v2m0 18v1m0 2v2m0 1v2m0 1v4m0 2v2m0 3v3m0 4v1m0 2v4m0 1v4m0 3v2m0 2v1m0 3v3m0 6v1m0 3v8m0 1v2m0 1v4m0 3v3m0 1v2m0 2v1m0 3v3m0 1v1m0 1v1m0 9v1m0 9v1m0 2v3m0 3v1m0 1v6m0 1v1m0 7v2m0 2v1m0 10v1m0 9v1m0 2v3m0 10v1m0 2v3m0 7v1m0 7v1m0 2v3m0 4v5m0 2v4m0 1v2m0 1v1m0 1v2m0 8v1m0 6v1m0 1v1m0 9v2m0 6v1m0 2v1m0 4v1m0 1v4m0 4v1m0 2v4m0 1v2m0 1v1m0 1v1"/>
<path class="c9" d="M523 128v1m0 10v1m0 2v1m0 48v1m0 12v1m0 6v1m0 1v1m0 2v1m0 1v2m0 5v1m0 4v1m0 10v2m0 4v1m0 1v1m0 1v1m0 8v2m0 21v1m0 18v1m0 1v1m0 15v1m0 7v7m0 8v1m0 21v2m0 1v1m0 3v1m0 3v1m0 11v1m0 11v1m0 4v1m0 25v2m0 4v1m0 48v1m0 13v1m0 30v1m0 4v3m0 1v4m0 4v2m0 1v1m0 1v1m0 1v1m0 5v2m0 2v1m0 5v1m0 1v1m0 1v1m0 3v1m0 1v1m0 2v2m0 8v1m0 4v1m0 141v1m0 70v2m0 3v1m0 2v2m0 1v3m0 1v2m0 2v1m0 1v1m0 90v1m0 1v1m0 2v1m0 20v2m0 246v1m0 6v1m0 38v1m0 15v1m0 5v1m0 3v2m0 9v1m0 5v1m0 12v3m0 1v2m0 1v3m0 11v1m0 4v2m0 16v1m0 1v1m0 48v2m0 43v3m0 13v1m0 14v1m0 4v1m0 7v1m0 2v2m0 1v1m0 29v2m0 11v4m0 7v1"/>
<path class="c6" d="M523 156v1m0 7v1m0 2v1m0 31v1m0 34v1m0 43v2m0 8v2m0 4v1m0 17v1m0 2v1m0 67v1m0 28v1m0 7v1m0 19v1m0 38v2m0 27v1m0 4v1m0 2v2m0 175v1m0 3v2m0 1v2m0 12v1m0 6v1m0 3v2m0 8v1m0 20v1m0 1v1m0 17v1m0 1v1m0 2v1m0 23v1m0 38v1m0 7v2m0 4v1m0 15v1m0 7v2m0 4v4m0 7v1m0 6v1m0 8v2m0 1v1m0 18v1m0 5v1m0 4v1m0 7v3m0 5v1m0 6v1m0 1v1m0 4v1m0 8v1m0 11v4m0 4v1m0 3v1m0 3v1m0 1v2m0 1v1m0 2v1m0 4v1m0 1v1m0 21v1m0 7v3m0 1v3m0 1v1m0 1v6m0 1v1m0 2v2m0 1v1m0 1v1m0 1v2m0 2v3m0 6v2m0 2v1m0 13v1m0 6v1m0 13v2m0 5v6m0 1v3m0 8v1m0 1v3m0 1v1m0 2v1m0 2v1m0 15v1m0 6v1m0 10v2m0 6v1m0 3v1m0 3v1m0 3v2m0 2v1m0 4v3m0 6v1m0 99v2m0 1v2m0 1v1m0 6v4m0 25v2m0 6v5m0 6v2m0 1v1m0 1v2m0 1v1m0 1v1m0 6v1m0 23v4m0 39v1m0 1v1m0 6v1m0 1v1m0 2v2"/>
<path class="c10" d="M523 184v1m0 5v1m0 19v1m0 51v2m0 137v1m0 164v1m0 2v1m0 4v1m0 2v2m0 7v1m0 1v1m0 2v1m0 1v1m0 7v1m0 12v1m0 1v1m0 308v1m0 377v1m0 24v1m0 128v1"/>
<path class="c11" d="M523 185v1m0 218v1m0 163v1m0 7v1m0 3v1m0 8v2m0 4v1m0 1v1m0 2v1m0 5v2m0 7v1m0 1v2m0 308v2"/>
<path class="c13" d="M523 186v1m0 2v1m0 415v1m0 2v2m0 2v1m0 6v1m0 7v1m0 61v1m0 796v1"/>
<path class="c14" d="M523 187v1m0 38v1m0 376v2m0 15v1"/>
<path class="c12" d="M523 188v1m0 40v1m0 172v2m0 166v1m0 25v1m0 1v1m0 3v1m0 7v2m0 1v1m0 871v1"/>
<path class="c16" d="M523 227v2m0 392v1m0 4v1"/>
<path class="c5" d="M523 270v1m0 533v1m0 82v1m0 4v2m0 78v1m0 35v2m0 66v1m0 9v1m0 3v1m0 83v1"/>
<path class="c15" d="M523 622v1m0 1v1m0 34v1"/>
<path class="c17" d="M523 623v1m0 1v1m0 34v1m0 1v2m0 7v1"/>
<path class="c22" d="M523 628v1m0 25v1m0 1v1"/>
<path class="c24" d="M523 629v1m0 42v1"/>
<path class="c25" d="M523 630v1m0 44v1"/>
<path class="c29" d="M523 631v1"/>
<path class="c28" d="M523 632v1"/>
<path class="c32" d="M523 633v1"/>
<path class="c36" d="M523 634v1m0 44v1"/>
<path class="c37" d="M523 635v1"/>
<path class="c41" d="M523 636v1"/>
<path class="c48" d="M523 637v1m0 43v1"/>
<path class="c49" d="M523 638v1"/>
<path class="c54" d="M523 639v1m0 47v1"/>
<path class="c63" d="M523 640v12m0 31v3"/>
<path class="c53" d="M523 652v1"/>
<path class="c30" d="M523 653v1"/>
<path class="c21" d="M523 655v1m0 17v1"/>
<path class="c19" d="M523 657v2m0 2v1m0 3v2m0 3v1"/>
<path class="c18" d="M523 664v1m0 2v3"/>
<path class="c27" d="M523 674v1m0 1v1"/>
<path class="c26" d="M523 677v1"/>
<path class="c33" d="M523 678v1"/>
<path class="c39" d="M523 680v1"/>
<path class="c58" d="M523 682v1"/>
<path class="c55" d="M523 686v1"/>
<path class="c50" d="M523 688v1"/>
<path class="c4" d="M523 1069v1"/>
</g>
<g stroke-width="4">
<path class="c7" d="M527 118v3m0 4v2m0 2v1m0 2v3m0 1v5m0 1v3m0 12v1m0 2v2m0 6v1m0 3v4m0 1v2m0 1v3m0 7v4m0 2v3m0 2v3m0 3v1m0 1v1m0 3v1m0 1v3m0 2v5m0 7v2m0 5v1m0 3v1m0 1v3m0 1v2m0 4v3m0 3v1m0 5v1m0 1v1m0 1v5m0 1v2m0 1v1m0 2v1m0 1v1m0 2v1m0 2v2m0 3v1m0 3v3m0 5v6m0 1v3m0 1v1m0 1v3m0 3v3m0 5v1m0 3v3m0 2v1m0 1v2m0 5v4m0 1v1m0 2v1m0 1v1m0 9v3m0 1v1m0 3v2m0 2v1m0 1v2m0 4v1m0 2v1m0 9v2m0 2v6m0 1v9m0 2v7m0 2v2m0 3v2m0 1v1m0 6v1m0 4v2m0 2v1m0 2v1m0 1v2m0 1v1m0 3v3m0 2v3m0 3v1m0 4v3m0 4v2m0 2v5m0 3v3m0 1v1m0 1v1m0 2v2m0 5v1m0 1v2m0 12v1m0 5v1m0 1v3m0 1v1m0 3v2m0 1v5m0 3v1m0 4v1m0 117v1m0 11v1m0 7v2m0 1v3m0 1v1m0 9v2m0 1v1m0 3v1m0 5v1m0 2v4m0 1v1m0 1v1m0 6v2m0 3v2m0 1v9m0 3v5m0 3v4m0 2v3m0 4v3m0 1v2m0 2v2m0 1v2m0 2v4m0 1v1m0 2v1m0 4v5m0 1v1m0 1v1m0 1v1m0 4v2m0 5v2m0 1v1m0 3v1m0 10v1m0 2v2m0 4v6m0 2v1m0 10v4m0 5v1m0 4v1m0 1v1m0 1v1m0 1v1m0 4v5m0 7v2m0 1v1m0 5v1m0 1v1m0 1v1m0 1v1m0 1v2m0 3v2m0 1v2m0 1v8m0 2v2m0 2v4m0 1v5m0 1v3m0 15v3m0 1v2m0 5v1m0 8v1m0 6v4m0 1v2m0 1v2m0 1v1m0 1v1m0 1v1m0 6v2m0 1v1m0 1v2m0 9v1m0 3v1m0 6v1m0 5v1m0 11v2m0 16v1m0 1v1m0 3v1m0 1v1m0 2v3m0 1v6m0 1v3m0 2v2m0 1v1m0 1v4m0 1v2m0 1v2m0 2v10m0 1v4m0 2v1m0 2v2m0 4v1m0 1v4m0 2v1m0 6v1m0 4v3m0 2v2m0 2v3m0 5v1m0 1v1m0 5v1m0 1v1m0 2v1m0 1v4m0 4v1m0 3v1m0 2v1m0 2v1m0 1v2m0 1v1m0 2v3m0 2v4m0 1v1m0 1v10m0 1v2m0 1v1m0 1v2m0 2v3m0 5v1m0 1v1m0 1v1m0 17v2m0 3v1m0 2v1m0 2v1m0 1v1m0 8v1m0 1v1m0 2v2m0 1v1m0 1v1m0 2v2m0 8v1m0 1v1m0 4v1m0 6v1m0 5v2m0 1v1m0 5v1m0 4v1m0 1v3m0 1v1m0 1v1m0 1v1m0 1v2m0 5v1m0 1v2m0 1v6m0 2v4m0 2v2m0 1v2m0 3v1m0 4v3m0 5v1m0 5v3m0 1v1m0 2v4m0 3v2m0 7v2m0 5v1m0 1v2m0 2v3m0 2v2m0 1v1m0 3v1m0 5v1m0 4v4m0 2v1m0 1v2m0 4v4m0 1v1m0 1v1m0 1v1m0 1v2"/>
<path class="c8" d="M527 121v1m0 2v1m0 2v2m0 1v2m0 13v3m0 1v1m0 29v1m0 3v1m0 16v1m0 4v2m0 1v1m0 3v1m0 5v1m0 12v1m0 3v3m0 2v1m0 1v1m0 1v1m0 7v3m0 4v2m0 1v1m0 1v3m0 12v1m0 7v1m0 9v2m0 15v1m0 5v1m0 3v3m0 3v2m0 1v1m0 2v2m0 4v2m0 1v1m0 4v3m0 4v1m0 1v1m0 4v2m0 1v6m0 3v1m0 1v3m0 16v4m0 4v1m0 2v1m0 7v1m0 27v1m0 1v5m0 14v1m0 2v1m0 8v1m0 3v2m0 2v2m0 11v2m0 5v1m0 5v1m0 8v4m0 1v1m0 2v3m0 1v4m0 1v2m0 2v5m0 1v1m0 3v1m0 2v1m0 3v1m0 5v2m0 3v1m0 1v1m0 9v1m0 137v1m0 27v1m0 1v1m0 1v3m0 6v2m0 2v1m0 9v2m0 35v1m0 5v1m0 2v1m0 1v4m0 5v1m0 1v1m0 1v1m0 1v2m0 1v1m0 6v1m0 2v1m0 30v1m0 35v1m0 6v1m0 1v1m0 2v2m0 7v2m0 3v1m0 1v1m0 4v3m0 2v1m0 97v1m0 1v1m0 72v1m0 28v1m0 15v1m0 6v1m0 1v2m0 1v1m0 5v1m0 1v3m0 1v1m0 5v1m0 3v2m0 7v2m0 1v2m0 7v1m0 3v2m0 1v1m0 9v3m0 1v2m0 7v1m0 1v1m0 5v1m0 4v1m0 1v1m0 10v1m0 2v1m0 1v1m0 2v1m0 4v3m0 1v1m0 1v1m0 1v1m0 1v4m0 5v3m0 3v2m0 2v2m0 2v2m0 1v2m0 14v2m0 2v1m0 1v1m0 14v1m0 1v1m0 20v5m0 10v1m0 12v1m0 12v1m0 5v1m0 24v1m0 5v1m0 1v2m0 5v1m0 7v1m0 1v1m0 5v1m0 2v1m0 3v1m0 10v2m0 3v3m0 9v1m0 2v1m0 2v4"/>
<path class="c6" d="M527 122v2m0 11v1m0 5v1m0 8v7m0 1v2m0 2v6m0 1v3m0 4v1m0 17v2m0 3v1m0 14v1m0 4v1m0 14v1m0 33v1m0 7v1m0 4v2m0 1v1m0 1v1m0 2v2m0 2v3m0 3v1m0 3v5m0 10v1m0 41v1m0 1v1m0 20v2m0 1v1m0 2v4m0 1v2m0 13v1m0 16v2m0 7v1m0 3v1m0 1v1m0 9v1m0 1v4m0 2v2m0 2v1m0 6v3m0 3v1m0 6v1m0 3v2m0 3v4m0 10v2m0 5v1m0 1v1m0 23v1m0 151v6m0 2v3m0 1v2m0 2v1m0 1v1m0 2v1m0 3v1m0 3v4m0 1v2m0 2v1m0 1v3m0 3v3m0 1v2m0 13v1m0 19v1m0 5v3m0 4v2m0 3v2m0 1v1m0 3v1m0 3v1m0 2v1m0 3v1m0 6v1m0 23v4m0 5v1m0 4v1m0 1v2m0 1v4m0 1v2m0 2v4m0 7v1m0 1v3m0 2v1m0 1v1m0 1v1m0 4v1m0 1v3m0 1v2m0 1v1m0 1v1m0 1v1m0 1v1m0 1v2m0 1v1m0 14v1m0 1v3m0 3v1m0 5v1m0 10v1m0 8v2m0 2v2m0 4v1m0 5v1m0 3v1m0 3v4m0 2v2m0 1v2m0 3v1m0 4v3m0 3v1m0 4v1m0 1v1m0 2v3m0 4v1m0 5v1m0 1v1m0 1v1m0 1v6m0 7v1m0 1v1m0 1v5m0 3v1m0 1v5m0 2v5m0 1v1m0 1v3m0 1v2m0 1v2m0 2v2m0 2v3m0 2v7m0 1v1m0 1v3m0 1v1m0 1v2m0 10v1m0 3v2m0 2v1m0 1v1m0 4v1m0 2v1m0 14v1m0 5v1m0 1v2m0 3v1m0 29v2m0 5v1m0 3v1m0 1v2m0 1v1m0 2v1m0 9v4m0 8v2m0 1v1m0 5v1m0 3v1m0 70v1m0 3v6m0 1v1m0 9v2m0 2v2m0 1v5m0 4v3m0 1v1m0 1v4m0 1v5m0 2v1m0 7v4m0 7v1m0 1v1m0 1v1m0 3v3m0 2v1m0 2v1m0 6v1m0 5v1m0 3v1m0 2v3m0 1v3m0 4v2m0 1v2m0 1v2m0 1v2m0 11v1m0 1v1m0 7v1m0 3v3m0 1v1m0 4v1m0 4v2m0 2v1m0 1v1m0 3v2m0 4v4m0 5v1m0 12v1m0 1v1m0 3v1"/>
<path class="c9" d="M527 148v1m0 35v1m0 19v1m0 5v2m0 13v1m0 4v1m0 7v1m0 2v1m0 16v1m0 4v1m0 68v1m0 1v1m0 3v1m0 9v2m0 16v1m0 34v1m0 117v1m0 11v1m0 4v1m0 16v1m0 1v1m0 10v1m0 1v1m0 1v1m0 2v3m0 3v1m0 3v1m0 15v2m0 1v1m0 115v1m0 35v2m0 3v1m0 79v1m0 85v1m0 230v1m0 33v1m0 5v1m0 1v1m0 1v3m0 90v1m0 6v1m0 10v5m0 3v3m0 6v1m0 75v1m0 82v1"/>
<path class="c11" d="M527 185v1m0 216v1m0 1v1m0 175v1m0 9v4m0 3v1m0 5v1m0 3v1m0 1v3m0 13v1m0 301v1m0 557v1"/>
<path class="c13" d="M527 186v1m0 39v1m0 361v1m0 24v1m0 6v1m0 1v2m0 862v1"/>
<path class="c14" d="M527 187v1m0 431v1m0 1v1m0 5v2m0 2v1"/>
<path class="c12" d="M527 188v1m0 40v1m0 173v1m0 185v1m0 6v1m0 1v1m0 6v2m0 7v5m0 5v1m0 64v1"/>
<path class="c10" d="M527 189v1m0 61v1m0 324v3m0 3v1m0 1v4m0 6v2m0 5v1m0 2v1m0 3v1m0 3v1m0 315v1m0 555v1"/>
<path class="c16" d="M527 227v2m0 401v1m0 29v1m0 5v1m0 1v2"/>
<path class="c5" d="M527 248v1m0 21v1m0 165v1m0 3v1m0 21v1m0 53v1m0 180v2m0 7v1m0 1v1m0 15v1m0 10v2m0 59v1m0 56v2m0 1v1m0 1v1m0 2v1m0 25v2m0 1v1m0 1v1m0 6v1m0 6v1m0 81v3m0 4v2m0 2v1m0 8v2m0 4v1m0 2v4m0 3v2m0 10v1m0 22v1m0 1v1m0 6v2m0 7v1m0 8v1m0 3v1m0 2v1m0 6v2m0 3v2m0 119v1m0 111v2m0 23v1m0 14v1m0 38v1m0 35v1m0 5v1m0 89v1"/>
<path class="c15" d="M527 626v1m0 32v1m0 10v1"/>
<path class="c17" d="M527 629v1m0 37v1m0 5v1m0 2v1"/>
<path class="c22" d="M527 632v1"/>
<path class="c21" d="M527 633v1m0 41v1"/>
<path class="c30" d="M527 634v1"/>
<path class="c32" d="M527 635v1"/>
<path class="c35" d="M527 636v1"/>
<path class="c38" d="M527 637v1"/>
<path class="c40" d="M527 638v1"/>
<path class="c43" d="M527 639v1"/>
<path class="c47" d="M527 640v1"/>
<path class="c53" d="M527 641v1m0 40v1m0 4v1"/>
<path class="c54" d="M527 642v2m0 7v1"/>
<path class="c63" d="M527 644v7m0 32v1"/>
<path class="c41" d="M527 652v1m0 28v1"/>
<path class="c23" d="M527 653v1"/>
<path class="c19" d="M527 654v1m0 6v1"/>
<path class="c18" d="M527 655v4m0 6v1m0 8v1m0 2v1"/>
<path class="c20" d="M527 662v3m0 6v2"/>
<path class="c26" d="M527 678v1"/>
<path class="c27" d="M527 679v1"/>
<path class="c33" d="M527 680v1"/>
<path class="c55" d="M527 684v1"/>
<path class="c57" d="M527 685v1"/>
<path class="c58" d="M527 686v1"/>
<path class="c46" d="M527 688v1"/>
<path class="c4" d="M527 705v1m0 98v1m0 210v1"/>
</g>
<g stroke-width="4">
<path class="c7" d="M531 118v1m0 2v1m0 1v2m0 2v6m0 4v4m0 1v1m0 1v2m0 15v1m0 6v6m0 8v1m0 7v1m0 2v2m0 5v3m0 2v3m0 3v3m0 2v2m0 1v2m0 1v3m0 6v3m0 1v3m0 1v5m0 1v1m0 1v1m0 2v2m0 4v1m0 2v2m0 1v1m0 8v1m0 3v1m0 11v1m0 4v1m0 4v1m0 1v5m0 1v3m0 9v1m0 3v3m0 1v4m0 1v1m0 2v1m0 2v2m0 2v2m0 1v2m0 2v3m0 2v4m0 1v3m0 5v2m0 4v1m0 5v1m0 1v4m0 2v4m0 3v6m0 1v1m0 6v3m0 1v1m0 1v6m0 4v3m0 2v2m0 2v2m0 5v1m0 1v2m0 1v2m0 1v1m0 10v1m0 8v1m0 3v1m0 1v1m0 1v3m0 5v1m0 1v1m0 4v1m0 1v1m0 1v1m0 1v3m0 5v1m0 2v1m0 1v1m0 1v2m0 2v1m0 3v4m0 2v2m0 1v1m0 1v2m0 10v2m0 3v1m0 2v2m0 4v1m0 1v1m0 1v1m0 9v3m0 17v2m0 3v1m0 6v1m0 1v1m0 91v2m0 14v1m0 5v2m0 4v2m0 2v1m0 12v1m0 2v6m0 2v1m0 1v3m0 1v4m0 2v4m0 1v2m0 2v2m0 10v2m0 1v1m0 4v9m0 1v2m0 2v1m0 2v1m0 1v2m0 14v2m0 1v1m0 3v6m0 8v1m0 1v1m0 1v1m0 2v3m0 9v2m0 1v1m0 4v1m0 2v2m0 37v1m0 1v1m0 1v1m0 1v2m0 1v1m0 3v1m0 8v2m0 1v1m0 1v1m0 5v1m0 6v1m0 4v1m0 1v1m0 5v1m0 2v1m0 8v1m0 22v1m0 11v1m0 14v4m0 8v1m0 7v1m0 1v1m0 2v1m0 17v1m0 6v1m0 1v1m0 4v1m0 1v2m0 1v1m0 1v1m0 1v2m0 2v1m0 1v1m0 5v1m0 9v4m0 3v1m0 2v2m0 5v1m0 8v3m0 14v1m0 5v1m0 1v3m0 4v3m0 2v1m0 3v1m0 2v2m0 1v1m0 1v3m0 4v2m0 1v2m0 1v1m0 1v1m0 2v5m0 1v2m0 2v2m0 2v2m0 4v1m0 1v1m0 1v1m0 6v3m0 1v2m0 2v2m0 4v1m0 3v1m0 1v3m0 1v2m0 2v1m0 1v2m0 2v3m0 5v1m0 2v5m0 7v4m0 1v6m0 2v1m0 1v2m0 1v1m0 2v4m0 3v2m0 3v2m0 1v1m0 2v2m0 2v1m0 2v1m0 8v1m0 8v3m0 2v1m0 1v1m0 20v3m0 1v1m0 1v3m0 2v1m0 8v1m0 7v1m0 1v3m0 4v1m0 1v1m0 1v5m0 1v3m0 1v2m0 8v8m0 1v1m0 1v6m0 3v2m0 1v2m0 1v1m0 1v2m0 5v1m0 1v3m0 1v2m0 1v3m0 2v1m0 1v2m0 1v2m0 1v5m0 3v1m0 1v2m0 2v1m0 1v1m0 1v2m0 2v1m0 3v1m0 1v4m0 2v1m0 1v1m0 1v1"/>
<path class="c6" d="M531 119v2m0 1v1m0 2v2m0 6v4m0 4v1m0 1v1m0 2v1m0 1v2m0 2v4m0 1v1m0 2v1m0 1v6m0 6v2m0 1v5m0 9v2m0 2v5m0 3v1m0 5v1m0 4v2m0 5v1m0 12v1m0 13v1m0 3v1m0 8v1m0 2v2m0 1v3m0 2v3m0 1v5m0 2v1m0 1v2m0 1v1m0 1v1m0 2v3m0 12v2m0 3v3m0 2v1m0 10v1m0 1v2m0 2v1m0 10v1m0 4v1m0 8v2m0 1v2m0 2v4m0 2v3m0 8v1m0 4v3m0 17v1m0 8v2m0 5v2m0 2v2m0 2v4m0 10v3m0 1v3m0 7v1m0 1v2m0 6v1m0 1v1m0 4v4m0 1v1m0 3v2m0 1v1m0 1v1m0 1v1m0 3v5m0 1v1m0 4v1m0 2v2m0 1v3m0 4v1m0 9v2m0 5v2m0 13v1m0 1v1m0 15v1m0 31v1m0 85v1m0 3v1m0 2v4m0 1v6m0 1v2m0 1v3m0 1v1m0 2v4m0 2v2m0 1v3m0 2v2m0 1v2m0 1v1m0 1v1m0 7v1m0 2v1m0 14v1m0 2v2m0 3v1m0 1v3m0 1v3m0 4v4m0 9v1m0 3v1m0 2v1m0 1v1m0 2v6m0 1v2m0 1v4m0 2v1m0 1v3m0 6v3m0 3v2m0 1v1m0 3v2m0 4v4m0 1v3m0 4v4m0 1v2m0 2v3m0 2v1m0 5v1m0 2v2m0 1v2m0 3v2m0 4v1m0 1v3m0 5v1m0 1v1m0 1v1m0 8v5m0 1v1m0 5v1m0 1v2m0 1v1m0 2v1m0 1v4m0 2v3m0 1v1m0 1v3m0 1v1m0 1v2m0 1v1m0 5v2m0 1v1m0 1v2m0 1v5m0 1v1m0 8v2m0 1v2m0 2v3m0 1v3m0 1v1m0 2v2m0 4v1m0 1v3m0 5v6m0 3v2m0 2v2m0 4v1m0 1v3m0 2v3m0 2v1m0 2v1m0 1v2m0 1v5m0 2v1m0 1v1m0 1v2m0 1v1m0 2v1m0 6v2m0 3v1m0 1v3m0 1v2m0 1v2m0 3v1m0 4v1m0 1v1m0 1v2m0 2v1m0 1v3m0 1v1m0 2v2m0 6v2m0 1v1m0 1v1m0 1v4m0 1v2m0 1v4m0 2v1m0 3v2m0 1v1m0 3v1m0 2v3m0 1v2m0 2v1m0 6v1m0 4v1m0 6v2m0 8v2m0 2v2m0 2v1m0 2v1m0 1v1m0 1v1m0 2v5m0 17v1m0 5v1m0 20v1m0 10v1m0 18v1m0 1v1m0 15v1m0 1v2m0 2v2m0 1v1m0 2v1m0 1v6m0 1v4m0 2v2m0 4v1m0 1v1m0 4v1m0 2v2m0 1v4m0 1v4m0 1v1m0 5v1m0 3v2m0 2v7m0 1v7m0 1v1m0 4v2m0 2v1m0 1v1m0 5v1m0 3v1m0 2v1m0 5v2m0 8v1m0 1v1m0 14v1m0 1v1m0 12v1m0 2v1m0 3v2m0 1v1m0 2v1m0 2v1m0 5v3m0 4v2m0 1v1m0 1v1m0 3v1m0 1v3m0 1v1m0 12v3"/>
<path class="c5" d="M531 147v1m0 2v2m0 4v1m0 1v2m0 16v1m0 93v1m0 10v2m0 1v1m0 4v1m0 1v1m0 18v3m0 3v1m0 45v1m0 20v1m0 36v2m0 23v1m0 4v1m0 3v3m0 1v3m0 1v1m0 60v1m0 167v3m0 7v1m0 6v1m0 6v1m0 15v2m0 5v1m0 3v1m0 7v1m0 5v1m0 17v1m0 1v1m0 3v1m0 23v1m0 14v1m0 2v1m0 20v3m0 12v1m0 4v1m0 19v2m0 1v5m0 1v1m0 3v1m0 2v3m0 2v2m0 1v1m0 1v1m0 3v2m0 1v1m0 19v1m0 4v1m0 5v1m0 1v1m0 2v1m0 5v1m0 9v1m0 7v1m0 2v1m0 4v1m0 2v1m0 5v1m0 1v8m0 10v1m0 5v1m0 3v4m0 1v1m0 7v1m0 6v1m0 1v1m0 2v2m0 11v2m0 3v1m0 3v1m0 1v1m0 8v1m0 31v1m0 2v3m0 6v1m0 7v1m0 5v2m0 2v3m0 5v1m0 1v1m0 1v1m0 4v1m0 7v1m0 7v1m0 17v1m0 23v1m0 19v1m0 110v1m0 11v2m0 5v1m0 4v3m0 1v2m0 2v1m0 4v1m0 4v1m0 13v1m0 20v1m0 20v5"/>
<path class="c8" d="M531 183v1m0 20v1m0 3v1m0 1v1m0 7v1m0 11v1m0 13v1m0 1v1m0 2v1m0 3v3m0 1v2m0 4v1m0 2v1m0 29v1m0 1v1m0 5v1m0 14v2m0 3v1m0 9v1m0 3v2m0 2v1m0 2v1m0 4v1m0 5v1m0 15v1m0 3v1m0 1v1m0 19v1m0 1v2m0 9v1m0 25v1m0 1v1m0 2v1m0 22v1m0 1v3m0 7v1m0 7v2m0 18v1m0 1v1m0 18v1m0 1v1m0 2v1m0 2v2m0 1v2m0 4v3m0 1v2m0 2v3m0 4v1m0 1v1m0 4v4m0 4v1m0 1v1m0 3v1m0 3v1m0 3v1m0 3v2m0 9v1m0 2v1m0 155v2m0 23v1m0 20v1m0 43v1m0 17v1m0 55v1m0 3v1m0 8v1m0 114v1m0 1v1m0 11v1m0 27v1m0 1v1m0 5v1m0 78v1m0 17v2m0 5v1m0 1v1m0 37v1m0 2v2m0 2v4m0 1v2m0 2v1m0 6v2m0 1v1m0 2v2m0 3v2m0 1v2m0 1v1m0 6v2m0 1v2m0 1v1m0 4v1m0 6v2m0 1v1m0 5v1m0 4v2m0 3v3m0 12v1m0 49v1m0 32v1m0 41v3m0 2v1m0 11v1m0 1v1m0 29v1m0 10v1m0 11v2m0 1v1m0 1v1m0 1v1"/>
<path class="c10" d="M531 184v1m0 4v1m0 212v1m0 159v1m0 14v1m0 2v1m0 15v3m0 1v1m0 7v1m0 4v1m0 3v2m0 308v1m0 556v1"/>
<path class="c9" d="M531 185v1m0 39v1m0 12v1m0 166v1m0 130v1m0 24v1m0 1v2m0 9v1m0 1v1m0 1v1m0 2v2m0 1v3m0 1v1m0 4v1m0 1v1m0 3v1m0 6v2m0 1v1m0 318v1m0 269v1m0 84v1m0 12v1m0 31v1m0 158v1"/>
<path class="c12" d="M531 186v1m0 1v1m0 422v1m0 3v1m0 4v4m0 861v1"/>
<path class="c13" d="M531 187v1m0 38v1m0 397v1m0 2v1m0 858v1"/>
<path class="c15" d="M531 227v1m0 404v1m0 26v2m0 6v2m0 7v1"/>
<path class="c16" d="M531 228v1m0 401v1m0 2v2m0 28v4m0 2v1"/>
<path class="c11" d="M531 229v1m0 173v2m0 205v1m0 1v1m0 1v1m0 1v1m0 2v1m0 5v1m0 44v3m0 16v1"/>
<path class="c14" d="M531 626v1m0 1v2m0 1v1m0 42v2"/>
<path class="c22" d="M531 635v1m0 41v1"/>
<path class="c30" d="M531 636v1m0 15v1"/>
<path class="c29" d="M531 637v2"/>
<path class="c40" d="M531 639v2"/>
<path class="c41" d="M531 641v1"/>
<path class="c47" d="M531 642v1"/>
<path class="c45" d="M531 643v1m0 7v1m0 36v1"/>
<path class="c52" d="M531 644v1m0 37v1"/>
<path class="c56" d="M531 645v1m0 4v1m0 32v2m0 1v1"/>
<path class="c46" d="M531 646v2"/>
<path class="c48" d="M531 648v1"/>
<path class="c54" d="M531 649v1m0 35v1"/>
<path class="c23" d="M531 653v1"/>
<path class="c20" d="M531 654v1m0 1v1m0 21v1"/>
<path class="c19" d="M531 655v1m0 2v1m0 2v1"/>
<path class="c17" d="M531 657v1m0 4v1m0 10v1"/>
<path class="c24" d="M531 679v1"/>
<path class="c31" d="M531 680v1"/>
<path class="c35" d="M531 681v1"/>
<path class="c55" d="M531 687v1"/>
<path class="c4" d="M531 735v1m0 157v1m0 12v1m0 8v1m0 59v1m0 1v2m0 29v2m0 10v1m0 48v1m0 16v1m0 19v1m0 123v2"/>
</g>
<g stroke-width="3">
<path class="c6" d="M534.5 118v3m0 1v2m0 3v3m0 9v6m0 2v1m0 3v1m0 1v4m0 2v3m0 1v4m0 1v1m0 1v1m0 1v2m0 2v6m0 10v3m0 2v2m0 1v2m0 1v1m0 11v3m0 1v6m0 6v3m0 4v1m0 1v1m0 2v1m0 2v2m0 1v2m0 1v6m0 7v1m0 5v1m0 4v5m0 2v3m0 1v2m0 1v1m0 1v2m0 1v1m0 3v1m0 6v2m0 8v6m0 1v5m0 1v1m0 10v1m0 5v1m0 11v5m0 4v1m0 2v3m0 1v2m0 7v1m0 2v1m0 3v3m0 1v1m0 14v1m0 1v3m0 2v3m0 4v2m0 3v2m0 4v1m0 3v2m0 1v4m0 2v1m0 1v6m0 3v3m0 2v1m0 2v2m0 1v3m0 1v2m0 3v1m0 1v4m0 2v1m0 2v6m0 1v5m0 1v1m0 5v1m0 5v2m0 6v1m0 3v1m0 3v1m0 2v3m0 1v1m0 3v1m0 6v2m0 1v1m0 4v2m0 2v1m0 11v1m0 122v5m0 2v1m0 1v4m0 2v1m0 1v3m0 1v1m0 4v3m0 3v6m0 3v2m0 5v2m0 2v3m0 2v2m0 3v1m0 1v11m0 2v1m0 2v1m0 1v1m0 2v1m0 4v1m0 4v1m0 3v1m0 1v1m0 4v1m0 1v1m0 1v1m0 2v1m0 1v2m0 3v2m0 2v1m0 5v4m0 1v2m0 1v1m0 1v2m0 1v1m0 1v3m0 3v2m0 3v1m0 4v1m0 3v1m0 1v1m0 1v3m0 2v1m0 1v1m0 1v1m0 7v1m0 6v2m0 9v2m0 1v4m0 4v2m0 5v1m0 1v4m0 8v1m0 2v1m0 3v1m0 5v8m0 3v1m0 1v1m0 2v4m0 1v3m0 1v1m0 1v3m0 1v1m0 4v1m0 1v3m0 1v1m0 10v1m0 7v1m0 1v1m0 5v1m0 7v3m0 1v2m0 10v2m0 1v3m0 1v1m0 3v1m0 1v1m0 1v1m0 1v3m0 1v1m0 4v1m0 3v2m0 4v3m0 2v2m0 4v2m0 5v2m0 1v1m0 3v1m0 8v2m0 1v1m0 1v2m0 2v1m0 5v1m0 2v1m0 1v2m0 1v1m0 3v2m0 8v1m0 2v3m0 2v1m0 1v1m0 2v8m0 4v1m0 1v1m0 5v2m0 1v2m0 4v4m0 2v1m0 1v1m0 2v2m0 1v1m0 2v3m0 1v1m0 1v4m0 1v1m0 3v1m0 4v1m0 3v2m0 3v2m0 2v1m0 1v1m0 6v1m0 2v1m0 3v2m0 2v5m0 2v4m0 1v1m0 1v1m0 1v1m0 2v1m0 1v2m0 2v3m0 2v1m0 2v4m0 6v1m0 3v1m0 12v4m0 4v1m0 4v1m0 2v1m0 2v1m0 2v3m0 4v1m0 2v1m0 5v2m0 1v7m0 1v3m0 5v4m0 3v9m0 1v1m0 1v1m0 6v3m0 1v2m0 1v1m0 1v1m0 3v2m0 7v4m0 7v2m0 3v3m0 3v1m0 2v4m0 1v4m0 4v2m0 3v1m0 2v1m0 1v2m0 1v1m0 2v1m0 7v1m0 5v1m0 6v1m0 1v4m0 1v1m0 1v1m0 3v2m0 2v2m0 1v2m0 1v2m0 1v7m0 6v3m0 1v2m0 1v1m0 2v2m0 3v1m0 1v1"/>
<path class="c7" d="M534.5 121v1m0 2v1m0 5v5m0 1v3m0 6v2m0 1v2m0 7v2m0 12v1m0 3v1m0 6v2m0 18v1m0 2v4m0 1v1m0 7v1m0 6v1m0 4v1m0 10v2m0 1v2m0 5v1m0 9v2m0 3v4m0 2v4m0 20v1m0 1v1m0 1v4m0 1v1m0 4v6m0 12v1m0 1v2m0 3v3m0 1v1m0 1v1m0 1v3m0 1v1m0 3v1m0 1v5m0 5v3m0 10v2m0 1v4m0 1v2m0 1v2m0 4v1m0 1v1m0 4v2m0 4v3m0 1v1m0 19v4m0 1v1m0 1v1m0 8v1m0 8v3m0 3v1m0 2v2m0 2v1m0 3v1m0 2v3m0 17v1m0 5v1m0 1v3m0 1v1m0 9v5m0 6v1m0 2v1m0 4v1m0 1v1m0 3v4m0 6v4m0 3v1m0 1v2m0 8v1m0 1v4m0 2v1m0 1v3m0 1v1m0 1v1m0 7v1m0 25v1m0 89v1m0 5v4m0 3v1m0 26v1m0 2v2m0 41v4m0 1v1m0 3v2m0 1v1m0 7v2m0 1v2m0 1v2m0 12v1m0 1v1m0 8v1m0 10v1m0 48v2m0 13v2m0 1v1m0 2v2m0 1v1m0 9v1m0 27v1m0 3v1m0 10v1m0 20v1m0 39v2m0 3v1m0 1v1m0 3v1m0 1v1m0 35v3m0 1v1m0 56v1m0 22v1m0 4v2m0 4v2m0 1v1m0 1v2m0 4v2m0 5v1m0 4v1m0 2v2m0 1v3m0 15v1m0 6v1m0 1v2m0 1v1m0 1v1m0 2v1m0 7v1m0 8v1m0 1v2m0 4v2m0 4v1m0 1v1m0 5v6m0 1v3m0 1v1m0 1v3m0 2v1m0 2v2m0 4v1m0 1v2m0 1v4m0 1v2m0 1v1m0 2v1m0 9v2m0 1v1m0 1v3m0 2v1m0 15v1m0 20v2m0 2v2m0 19v1m0 7v6m0 2v3m0 3v3m0 1v2m0 9v4m0 2v3m0 1v2m0 1v1m0 2v1m0 1v2m0 1v5m0 1v1m0 4v1m0 2v2m0 1v3m0 15v2m0 2v1m0 5v1m0 7v2m0 2v2m0 6v1m0 1v2m0 2v1"/>
<path class="c5" d="M534.5 125v1m0 24v1m0 1v1m0 9v1m0 4v1m0 1v1m0 4v1m0 20v2m0 2v1m0 9v1m0 1v4m0 20v2m0 2v1m0 8v1m0 21v1m0 10v2m0 3v1m0 2v1m0 1v1m0 2v1m0 13v2m0 12v1m0 45v2m0 3v1m0 15v1m0 6v4m0 14v2m0 3v4m0 2v3m0 8v1m0 3v1m0 4v1m0 2v1m0 13v1m0 16v1m0 4v2m0 1v1m0 18v1m0 2v4m0 3v1m0 6v3m0 1v1m0 1v1m0 2v1m0 6v2m0 5v2m0 2v1m0 139v2m0 2v1m0 5v2m0 1v1m0 4v2m0 5v1m0 9v2m0 6v2m0 3v5m0 2v2m0 3v1m0 5v1m0 1v1m0 11v2m0 1v2m0 1v1m0 1v2m0 1v2m0 1v1m0 1v4m0 1v3m0 1v1m0 16v3m0 7v1m0 6v1m0 2v1m0 1v1m0 8v3m0 3v2m0 1v4m0 1v1m0 3v1m0 1v1m0 3v2m0 1v1m0 1v1m0 2v1m0 3v2m0 1v5m0 3v3m0 1v1m0 2v2m0 2v1m0 5v1m0 4v5m0 1v1m0 14v1m0 1v3m0 1v3m0 1v1m0 8v3m0 1v1m0 1v2m0 4v1m0 3v1m0 7v4m0 1v1m0 8v6m0 2v7m0 3v1m0 1v3m0 1v3m0 2v2m0 3v1m0 2v1m0 1v8m0 2v1m0 5v1m0 3v1m0 10v1m0 1v1m0 1v3m0 2v4m0 3v2m0 2v4m0 5v2m0 2v1m0 7v6m0 2v1m0 1v1m0 2v2m0 1v5m0 1v2m0 1v1m0 2v1m0 1v3m0 2v3m0 2v3m0 1v2m0 3v2m0 1v1m0 1v1m0 9v4m0 1v1m0 1v2m0 1v2m0 29v1m0 8v1m0 6v1m0 1v1m0 1v1m0 2v3m0 2v2m0 3v5m0 11v1m0 5v1m0 5v1m0 1v1m0 6v1m0 11v1m0 52v4m0 19v1m0 3v4m0 5v3m0 9v1m0 1v1m0 10v1m0 2v1m0 1v1m0 1v3m0 2v4m0 1v2m0 29v1m0 30v1m0 15v1m0 4v1m0 1v1m0 1v3m0 9v1m0 13v1m0 5v1m0 10v1m0 1v1m0 1v1"/>
<path class="c4" d="M534.5 126v1m0 107v1m0 2v1m0 250v1m0 24v1m0 178v2m0 41v1m0 47v1m0 20v1m0 53v1m0 15v1m0 1v1m0 1v1m0 8v1m0 5v1m0 1v2m0 9v1m0 80v3m0 6v1m0 12v1m0 7v2m0 9v1m0 14v1m0 17v1m0 24v3m0 11v1m0 38v2m0 33v1m0 24v1m0 25v1"/>
<path class="c8" d="M534.5 135v1m0 48v1m0 5v2m0 12v1m0 53v3m0 2v2m0 32v1m0 6v1m0 27v3m0 7v1m0 5v3m0 1v1m0 13v1m0 11v1m0 179v1m0 4v8m0 6v2m0 1v1m0 3v1m0 1v1m0 1v4m0 2v1m0 1v2m0 1v1m0 1v1m0 5v1m0 1v2m0 5v1m0 8v1m0 299v1m0 256v2m0 66v1m0 33v1m0 20v1m0 3v2m0 1v2m0 7v1m0 12v1m0 2v1m0 12v1m0 44v2m0 28v1m0 62v1m0 3v1m0 38v1m0 16v1"/>
<path class="c9" d="M534.5 185v1m0 152v1m0 63v1m0 2v1m0 186v2m0 4v1m0 1v1m0 1v5m0 1v1m0 2v5m0 1v2m0 3v3m0 859v1"/>
<path class="c12" d="M534.5 186v1m0 440v1m0 31v1m0 7v1m0 8v2"/>
<path class="c13" d="M534.5 187v1m0 443v1m0 30v1m0 3v1m0 1v5"/>
<path class="c11" d="M534.5 188v1m0 37v1m0 2v1m0 174v1m0 221v1m0 48v1m0 251v1m0 557v2"/>
<path class="c10" d="M534.5 189v1m0 213v1m0 215v2m0 68v1m0 238v1"/>
<path class="c14" d="M534.5 227v1m0 400v3m0 1v2m0 1v1m0 24v1m0 2v3m0 7v1"/>
<path class="c15" d="M534.5 228v1m0 428v2m0 2v1m0 12v1"/>
<path class="c17" d="M534.5 634v1"/>
<path class="c16" d="M534.5 636v1m0 41v1"/>
<path class="c22" d="M534.5 637v1"/>
<path class="c23" d="M534.5 638v1"/>
<path class="c29" d="M534.5 639v1"/>
<path class="c30" d="M534.5 640v1"/>
<path class="c32" d="M534.5 641v1"/>
<path class="c36" d="M534.5 642v1"/>
<path class="c42" d="M534.5 643v2m0 1v1m0 1v2"/>
<path class="c34" d="M534.5 645v1"/>
<path class="c39" d="M534.5 647v1"/>
<path class="c43" d="M534.5 650v1"/>
<path class="c28" d="M534.5 651v1"/>
<path class="c19" d="M534.5 652v1"/>
<path class="c21" d="M534.5 653v1m0 26v1"/>
<path class="c20" d="M534.5 654v1m0 26v1"/>
<path class="c18" d="M534.5 655v2m0 22v1"/>
<path class="c52" d="M534.5 682v1"/>
<path class="c56" d="M534.5 683v1"/>
<path class="c57" d="M534.5 684v2"/>
<path class="c53" d="M534.5 686v2"/>
<path class="c41" d="M534.5 688v1"/>
<path class="c3" d="M534.5 877v1"/>
</g>
<g stroke-width="4">
<path class="c6" d="M538 118v1m0 8v1m0 1v4m0 6v1m0 3v2m0 1v1m0 2v1m0 3v3m0 1v2m0 2v1m0 7v1m0 8v2m0 1v2m0 9v2m0 2v1m0 1v1m0 6v2m0 4v1m0 2v1m0 2v5m0 9v2m0 3v1m0 1v1m0 1v4m0 1v1m0 1v1m0 1v1m0 3v3m0 1v1m0 1v2m0 1v1m0 2v5m0 1v2m0 4v1m0 5v1m0 1v1m0 1v1m0 2v1m0 1v4m0 1v1m0 1v2m0 1v1m0 1v1m0 14v1m0 1v3m0 4v2m0 1v2m0 2v4m0 1v1m0 2v1m0 3v1m0 3v1m0 2v1m0 1v7m0 4v5m0 1v2m0 1v2m0 1v1m0 2v1m0 4v1m0 1v2m0 1v5m0 2v1m0 16v1m0 2v1m0 7v1m0 1v2m0 1v4m0 2v1m0 1v1m0 2v5m0 1v1m0 3v1m0 1v3m0 1v1m0 1v1m0 1v5m0 2v8m0 6v3m0 2v1m0 3v1m0 1v1m0 3v3m0 1v1m0 8v3m0 1v1m0 2v2m0 7v3m0 1v4m0 1v1m0 2v1m0 1v1m0 1v3m0 4v2m0 1v2m0 1v1m0 2v1m0 3v4m0 1v4m0 1v3m0 31v1m0 86v3m0 1v1m0 2v2m0 3v1m0 2v2m0 1v1m0 4v2m0 1v4m0 5v2m0 8v2m0 2v1m0 1v5m0 3v2m0 3v1m0 2v6m0 7v1m0 2v1m0 7v14m0 2v2m0 1v3m0 1v1m0 2v2m0 1v2m0 6v5m0 1v2m0 3v1m0 3v1m0 2v2m0 3v2m0 2v1m0 4v1m0 3v3m0 1v1m0 6v1m0 9v2m0 1v1m0 6v2m0 17v1m0 1v2m0 1v1m0 2v3m0 11v1m0 9v1m0 1v4m0 1v3m0 2v1m0 1v3m0 4v2m0 6v1m0 9v1m0 1v1m0 11v1m0 2v2m0 5v1m0 5v1m0 10v5m0 8v2m0 2v5m0 1v1m0 1v2m0 1v3m0 3v1m0 15v1m0 2v2m0 1v4m0 6v1m0 3v1m0 3v1m0 1v1m0 9v2m0 12v1m0 1v1m0 1v1m0 2v1m0 5v1m0 1v2m0 4v1m0 1v1m0 1v2m0 3v1m0 4v4m0 1v2m0 1v1m0 2v1m0 1v1m0 1v3m0 1v1m0 3v2m0 1v2m0 1v3m0 8v2m0 2v1m0 1v1m0 1v1m0 2v5m0 4v2m0 2v2m0 1v3m0 1v2m0 3v2m0 1v2m0 7v1m0 1v2m0 1v1m0 1v1m0 1v7m0 10v2m0 1v5m0 2v1m0 4v1m0 8v4m0 2v4m0 2v2m0 1v1m0 3v1m0 2v1m0 7v4m0 4v1m0 2v2m0 4v2m0 1v2m0 4v2m0 5v3m0 4v4m0 5v3m0 2v1m0 1v2m0 1v3m0 6v5m0 9v3m0 12v3m0 1v1m0 1v1m0 1v1m0 2v1m0 1v1m0 1v1m0 1v1m0 1v2m0 2v1m0 9v1m0 1v2m0 3v2m0 3v5m0 1v1m0 3v2m0 1v5m0 5v2m0 1v3m0 1v1m0 2v1m0 1v1m0 1v1m0 1v9m0 5v2m0 1v7m0 3v2m0 1v3m0 2v1m0 5v1m0 1v1m0 1v1m0 1v1"/>
<path class="c5" d="M538 119v2m0 1v3m0 1v1m0 13v2m0 5v2m0 1v3m0 3v1m0 3v1m0 2v1m0 2v3m0 1v3m0 1v2m0 1v1m0 2v1m0 16v1m0 1v1m0 1v3m0 5v1m0 2v1m0 9v3m0 8v1m0 3v1m0 1v1m0 8v1m0 1v1m0 1v1m0 3v1m0 4v1m0 8v1m0 7v5m0 1v1m0 1v1m0 1v2m0 1v1m0 11v1m0 1v14m0 25v1m0 8v1m0 1v1m0 7v2m0 10v1m0 4v2m0 1v2m0 1v1m0 4v1m0 5v2m0 12v5m0 4v3m0 1v3m0 9v1m0 11v1m0 2v2m0 1v1m0 3v1m0 1v1m0 1v1m0 15v6m0 3v1m0 3v1m0 2v1m0 7v1m0 1v1m0 1v6m0 3v1m0 1v2m0 2v6m0 12v1m0 10v1m0 5v1m0 2v1m0 130v2m0 2v1m0 3v1m0 1v2m0 2v3m0 2v1m0 2v1m0 1v2m0 1v1m0 2v1m0 4v5m0 2v2m0 3v1m0 1v1m0 2v2m0 1v1m0 6v2m0 3v2m0 1v2m0 6v6m0 3v1m0 1v2m0 1v4m0 14v2m0 6v1m0 5v1m0 4v1m0 2v1m0 20v3m0 3v1m0 2v1m0 3v2m0 6v6m0 1v1m0 1v2m0 1v1m0 1v2m0 2v1m0 1v2m0 3v1m0 2v1m0 1v2m0 1v2m0 1v1m0 1v2m0 1v1m0 1v1m0 2v1m0 2v1m0 1v2m0 3v4m0 8v9m0 6v1m0 3v2m0 1v1m0 3v2m0 1v1m0 2v4m0 1v1m0 3v2m0 1v1m0 2v1m0 1v1m0 1v1m0 2v3m0 1v2m0 1v1m0 2v1m0 2v5m0 1v4m0 2v9m0 6v2m0 1v1m0 1v1m0 5v1m0 5v1m0 8v3m0 1v8m0 1v1m0 1v1m0 4v2m0 2v1m0 4v3m0 1v1m0 2v2m0 2v1m0 1v1m0 1v1m0 1v2m0 2v2m0 1v1m0 3v2m0 1v2m0 2v1m0 2v1m0 4v1m0 2v1m0 1v2m0 4v1m0 2v1m0 1v2m0 1v1m0 1v1m0 2v3m0 1v1m0 1v2m0 4v1m0 4v2m0 1v1m0 1v1m0 3v1m0 2v2m0 2v1m0 2v1m0 3v2m0 2v1m0 1v1m0 11v1m0 5v4m0 2v1m0 3v1m0 3v1m0 2v2m0 3v1m0 2v1m0 1v2m0 2v1m0 1v1m0 2v1m0 3v1m0 8v4m0 1v4m0 2v1m0 5v2m0 6v1m0 1v4m0 7v1m0 8v1m0 5v1m0 23v3m0 2v1m0 3v3m0 3v3m0 4v4m0 4v4m0 7v1m0 2v1m0 3v6m0 5v9m0 3v1m0 3v1m0 2v1m0 1v3m0 5v1m0 1v1m0 1v2m0 1v1m0 3v1m0 5v1m0 1v2m0 1v6m0 1v1m0 2v3m0 2v2m0 13v1m0 12v1m0 3v1m0 1v2m0 3v1m0 1v1m0 12v1m0 20v2m0 1v5m0 1v1m0 3v1m0 1v1"/>
<path class="c7" d="M538 121v1m0 6v1m0 4v2m0 1v2m0 4v1m0 2v1m0 37v1m0 6v2m0 2v2m0 4v1m0 3v1m0 2v2m0 1v1m0 2v1m0 1v2m0 8v1m0 4v1m0 4v1m0 8v1m0 1v1m0 4v1m0 6v1m0 5v1m0 8v4m0 19v1m0 1v1m0 2v1m0 18v1m0 3v4m0 2v1m0 2v2m0 4v1m0 1v2m0 3v1m0 1v3m0 1v1m0 12v2m0 5v1m0 5v1m0 6v1m0 2v1m0 11v2m0 4v2m0 1v2m0 6v2m0 9v1m0 2v1m0 5v1m0 1v1m0 1v2m0 7v1m0 18v1m0 26v3m0 32v1m0 4v1m0 1v1m0 2v1m0 1v1m0 3v3m0 3v1m0 4v1m0 2v3m0 4v1m0 4v1m0 3v3m0 1v3m0 6v5m0 9v4m0 1v2m0 123v1m0 16v1m0 58v2m0 5v2m0 2v1m0 6v1m0 2v3m0 1v3m0 2v1m0 7v1m0 2v1m0 10v1m0 12v1m0 32v1m0 15v1m0 5v1m0 11v1m0 105v1m0 71v1m0 1v1m0 3v1m0 36v1m0 26v2m0 1v1m0 1v1m0 2v1m0 2v1m0 1v1m0 1v1m0 44v1m0 9v1m0 20v4m0 2v1m0 4v2m0 4v1m0 5v2m0 4v3m0 2v1m0 1v4m0 1v2m0 4v4m0 1v2m0 2v1m0 8v1m0 9v1m0 15v1m0 3v2m0 46v1m0 10v1m0 6v1m0 22v1m0 5v1m0 1v3m0 11v2m0 11v1m0 13v1m0 1v1m0 4v1m0 7v3m0 2v1"/>
<path class="c4" d="M538 125v1m0 33v1m0 2v1m0 1v2m0 7v1m0 2v1m0 57v1m0 188v1m0 64v1m0 1v1m0 1v1m0 12v1m0 21v1m0 164v2m0 14v1m0 7v1m0 18v2m0 1v1m0 17v1m0 17v1m0 1v1m0 4v1m0 22v1m0 48v2m0 3v1m0 13v1m0 4v1m0 8v3m0 4v1m0 2v1m0 2v1m0 1v1m0 2v1m0 1v1m0 53v1m0 7v1m0 2v2m0 2v1m0 1v2m0 5v2m0 3v1m0 2v1m0 2v1m0 13v1m0 10v1m0 7v1m0 1v1m0 1v2m0 2v1m0 8v1m0 18v1m0 3v3m0 13v1m0 1v1m0 3v1m0 2v1m0 6v2m0 2v1m0 1v1m0 4v1m0 2v2m0 1v2m0 12v3m0 5v1m0 13v1m0 22v1m0 22v1m0 31v1m0 6v1m0 2v2m0 22v1m0 86v1m0 57v3m0 2v1m0 1v1m0 21v1m0 7v1m0 70v1m0 30v1"/>
<path class="c8" d="M538 135v1m0 2v1m0 124v1m0 81v1m0 56v1m0 2v1m0 2v1m0 59v1m0 111v1m0 3v6m0 5v5m0 1v3m0 8v1m0 1v1m0 1v1m0 203v1m0 18v1m0 85v2m0 2v1m0 289v1m0 101v1m0 162v1m0 30v1"/>
<path class="c9" d="M538 184v1m0 4v1m0 213v1m0 196v1m0 10v1m0 1v1m0 1v1m0 1v1m0 71v1"/>
<path class="c10" d="M538 185v1m0 2v1m0 429v8m0 2v1m0 2v2m0 2v1m0 291v2m0 556v1"/>
<path class="c12" d="M538 186v2m0 445v1m0 35v2m0 1v3m0 1v1m0 2v1"/>
<path class="c11" d="M538 226v1m0 2v1m0 174v1m0 221v2m0 1v2m0 40v1m0 3v1m0 1v2m0 807v1"/>
<path class="c14" d="M538 227v2m0 409v1m0 20v2m0 1v2m0 1v2"/>
<path class="c13" d="M538 634v1m0 1v1m0 30v2"/>
<path class="c16" d="M538 637v1m0 1v1m0 17v2m0 21v1"/>
<path class="c20" d="M538 640v1m0 12v2"/>
<path class="c25" d="M538 641v1"/>
<path class="c26" d="M538 642v1m0 8v1"/>
<path class="c31" d="M538 643v1m0 1v1m0 1v1"/>
<path class="c30" d="M538 644v1m0 3v2"/>
<path class="c33" d="M538 646v1"/>
<path class="c28" d="M538 650v1"/>
<path class="c19" d="M538 652v1"/>
<path class="c18" d="M538 655v1m0 25v1"/>
<path class="c17" d="M538 656v1"/>
<path class="c15" d="M538 661v1m0 2v1"/>
<path class="c54" d="M538 682v1m0 1v1"/>
<path class="c55" d="M538 683v1"/>
<path class="c53" d="M538 685v1"/>
<path class="c49" d="M538 686v2"/>
<path class="c40" d="M538 688v1"/>
<path class="c3" d="M538 1066v1m0 347v1"/>
</g>
<g stroke-width="3">
<path class="c5" d="M541.5 118v2m0 5v3m0 1v1m0 5v3m0 2v1m0 2v1m0 3v1m0 1v1m0 3v4m0 1v1m0 1v5m0 1v1m0 2v2m0 1v1m0 2v3m0 2v1m0 1v1m0 12v3m0 11v1m0 1v1m0 1v1m0 1v1m0 1v1m0 1v2m0 2v1m0 7v1m0 5v1m0 1v1m0 2v1m0 2v1m0 1v2m0 1v1m0 17v1m0 3v1m0 3v2m0 2v3m0 3v1m0 4v1m0 2v2m0 3v2m0 2v1m0 2v1m0 8v3m0 1v1m0 3v1m0 1v1m0 11v1m0 1v2m0 2v1m0 9v3m0 2v1m0 1v1m0 2v2m0 8v3m0 2v1m0 4v5m0 2v6m0 1v1m0 1v2m0 12v2m0 3v3m0 2v2m0 2v1m0 8v1m0 1v3m0 4v1m0 2v1m0 3v4m0 2v1m0 3v3m0 2v3m0 1v4m0 1v1m0 1v1m0 3v3m0 2v1m0 2v2m0 1v2m0 2v1m0 2v7m0 2v1m0 4v1m0 3v1m0 1v1m0 1v1m0 2v1m0 3v2m0 1v1m0 5v3m0 8v1m0 6v2m0 1v1m0 1v1m0 10v1m0 117v1m0 2v2m0 7v2m0 2v2m0 2v1m0 1v2m0 2v2m0 2v2m0 2v1m0 2v1m0 1v2m0 1v1m0 1v1m0 4v2m0 3v3m0 3v1m0 1v2m0 1v1m0 1v1m0 1v4m0 3v1m0 3v3m0 2v1m0 1v2m0 1v1m0 1v2m0 1v2m0 1v1m0 1v4m0 1v1m0 1v1m0 1v1m0 4v1m0 3v4m0 3v2m0 2v1m0 2v1m0 9v1m0 1v5m0 2v2m0 3v2m0 2v1m0 1v6m0 2v8m0 3v2m0 1v1m0 1v3m0 3v1m0 1v2m0 5v3m0 1v1m0 1v1m0 1v1m0 1v1m0 2v1m0 2v3m0 2v1m0 4v5m0 7v2m0 1v1m0 1v4m0 1v4m0 4v3m0 4v1m0 6v1m0 2v2m0 1v1m0 1v1m0 1v2m0 2v4m0 2v1m0 1v2m0 2v1m0 1v2m0 1v3m0 4v9m0 2v1m0 1v1m0 2v8m0 1v3m0 3v1m0 1v1m0 2v1m0 1v5m0 3v1m0 2v2m0 2v1m0 5v1m0 1v6m0 4v1m0 2v3m0 2v2m0 2v1m0 1v2m0 1v1m0 1v1m0 4v3m0 2v1m0 2v4m0 1v5m0 1v3m0 3v1m0 1v3m0 3v2m0 1v2m0 2v3m0 1v3m0 2v3m0 4v6m0 6v5m0 2v2m0 4v1m0 1v5m0 2v3m0 3v2m0 3v1m0 1v1m0 8v1m0 1v4m0 1v3m0 7v3m0 1v1m0 3v1m0 1v4m0 1v1m0 4v1m0 4v1m0 3v1m0 5v3m0 1v4m0 1v1m0 1v1m0 6v1m0 5v2m0 2v1m0 3v1m0 8v1m0 20v2m0 3v1m0 3v1m0 12v4m0 2v1m0 3v1m0 3v4m0 1v2m0 2v2m0 2v3m0 1v2m0 1v6m0 1v1m0 7v4m0 3v3m0 3v1m0 1v1m0 2v1m0 1v2m0 1v2m0 4v1m0 5v1m0 5v3m0 1v1m0 6v1m0 1v3m0 1v4m0 3v4m0 3v2m0 2v2m0 2v1m0 10v2m0 8v2m0 3v1m0 3v2m0 3v1m0 1v1m0 2v3m0 1v3m0 1v7m0 1v2m0 7v1m0 1v2m0 2v1m0 1v1m0 1v2m0 1v1m0 3v1"/>
<path class="c6" d="M541.5 120v1m0 1v2m0 4v1m0 1v4m0 4v2m0 2v1m0 1v3m0 1v1m0 8v1m0 7v1m0 12v2m0 1v1m0 1v1m0 7v1m0 2v1m0 4v1m0 1v2m0 1v1m0 1v2m0 8v1m0 1v1m0 2v2m0 1v1m0 7v2m0 1v2m0 3v2m0 1v2m0 1v1m0 2v1m0 2v1m0 4v6m0 1v4m0 3v1m0 1v3m0 7v3m0 1v1m0 4v2m0 2v3m0 2v2m0 1v2m0 1v7m0 6v3m0 1v1m0 1v7m0 2v1m0 2v1m0 2v1m0 2v3m0 4v2m0 3v2m0 1v1m0 1v2m0 2v1m0 1v3m0 1v1m0 4v2m0 1v4m0 5v1m0 7v1m0 1v1m0 2v1m0 4v2m0 1v3m0 3v3m0 11v2m0 1v1m0 1v2m0 1v1m0 3v4m0 1v2m0 1v2m0 5v2m0 1v2m0 4v2m0 8v1m0 1v1m0 7v1m0 3v1m0 6v1m0 1v1m0 8v2m0 1v3m0 4v1m0 1v1m0 1v1m0 4v1m0 1v1m0 2v1m0 1v5m0 3v2m0 2v4m0 1v1m0 1v1m0 1v2m0 2v1m0 3v6m0 1v3m0 1v3m0 3v1m0 1v1m0 12v1m0 4v1m0 14v1m0 80v5m0 11v1m0 6v2m0 2v1m0 5v1m0 18v1m0 1v1m0 1v1m0 2v1m0 8v3m0 1v3m0 3v2m0 4v1m0 1v1m0 2v1m0 9v1m0 3v1m0 1v4m0 8v2m0 3v2m0 1v2m0 1v1m0 1v3m0 1v3m0 1v1m0 5v2m0 4v1m0 2v2m0 9v1m0 8v3m0 2v1m0 1v1m0 3v1m0 1v1m0 1v1m0 10v1m0 5v1m0 1v2m0 1v1m0 16v3m0 1v1m0 11v1m0 4v4m0 3v4m0 1v2m0 3v1m0 1v2m0 2v1m0 3v1m0 2v2m0 4v2m0 1v1m0 2v2m0 4v1m0 21v1m0 15v1m0 3v2m0 7v3m0 1v2m0 2v2m0 1v2m0 1v2m0 1v1m0 8v1m0 2v2m0 7v1m0 16v1m0 14v1m0 7v1m0 16v1m0 3v2m0 3v4m0 7v2m0 1v2m0 20v2m0 9v1m0 2v1m0 1v1m0 1v1m0 1v4m0 1v1m0 8v2m0 1v3m0 7v2m0 1v1m0 4v1m0 6v3m0 2v1m0 1v1m0 1v3m0 1v1m0 8v1m0 1v1m0 1v1m0 1v1m0 2v1m0 1v5m0 2v2m0 1v1m0 1v1m0 1v5m0 1v2m0 1v5m0 1v2m0 1v1m0 1v1m0 1v2m0 3v1m0 3v1m0 1v1m0 1v2m0 2v3m0 2v2m0 1v3m0 5v2m0 1v3m0 1v3m0 4v1m0 6v1m0 4v1m0 11v7m0 4v3m0 3v3m0 3v2m0 4v1m0 2v1m0 1v1m0 2v5m0 3v3m0 3v1m0 1v3m0 4v1m0 8v3m0 4v3m0 2v2m0 6v8m0 8v3m0 2v3m0 3v1m0 2v1m0 1v1m0 8v1m0 14v2m0 1v4m0 1v1m0 2v2m0 1v1m0 6v1"/>
<path class="c7" d="M541.5 121v1m0 2v1m0 59v1m0 5v1m0 7v1m0 1v1m0 4v1m0 2v1m0 1v1m0 14v1m0 4v1m0 7v1m0 12v1m0 1v1m0 1v2m0 6v1m0 50v1m0 18v2m0 1v1m0 5v1m0 4v4m0 15v1m0 3v1m0 1v1m0 32v1m0 2v1m0 19v1m0 2v1m0 1v1m0 27v1m0 24v1m0 8v1m0 47v2m0 6v1m0 1v1m0 22v1m0 1v1m0 1v1m0 1v2m0 1v1m0 2v6m0 7v2m0 1v2m0 1v2m0 1v4m0 1v3m0 7v1m0 97v1m0 24v1m0 56v3m0 16v1m0 3v1m0 22v1m0 105v3m0 95v1m0 11v1m0 88v1m0 2v1m0 68v1m0 18v1m0 2v1m0 5v1m0 14v1m0 1v2m0 21v1m0 8v1m0 2v1m0 1v1m0 1v1m0 2v3m0 1v1m0 3v1m0 4v1m0 4v2m0 2v1m0 3v1m0 85v2m0 11v3m0 55v2m0 31v1m0 16v1"/>
<path class="c4" d="M541.5 134v1m0 6v1m0 8v3m0 6v1m0 7v2m0 2v1m0 1v2m0 17v2m0 9v1m0 8v1m0 1v1m0 19v1m0 34v2m0 8v1m0 8v3m0 27v1m0 70v1m0 22v1m0 8v2m0 2v2m0 24v1m0 18v1m0 8v3m0 6v1m0 3v1m0 6v1m0 13v1m0 1v2m0 6v2m0 2v1m0 32v1m0 130v2m0 7v2m0 2v2m0 2v2m0 4v2m0 9v2m0 4v1m0 1v1m0 1v4m0 2v3m0 12v1m0 1v1m0 17v1m0 10v1m0 1v1m0 6v1m0 17v1m0 28v2m0 13v1m0 21v1m0 5v1m0 1v3m0 5v1m0 1v1m0 7v1m0 3v2m0 1v2m0 1v1m0 14v1m0 1v1m0 34v1m0 19v1m0 6v4m0 9v1m0 2v1m0 2v1m0 8v1m0 3v2m0 2v1m0 4v1m0 29v1m0 2v1m0 6v2m0 3v1m0 1v1m0 2v1m0 1v1m0 2v3m0 4v1m0 1v1m0 5v1m0 9v3m0 5v3m0 2v1m0 2v2m0 33v1m0 3v4m0 12v3m0 2v1m0 1v1m0 4v1m0 12v1m0 5v1m0 3v1m0 3v1m0 12v4m0 45v1m0 74v2m0 3v1m0 6v1m0 6v1m0 22v1m0 4v1m0 6v1m0 1v1m0 28v1m0 20v2m0 1v1m0 8v1m0 22v1m0 2v1m0 1v2m0 7v1m0 7v1m0 18v1m0 5v2"/>
<path class="c9" d="M541.5 185v1m0 2v2m0 212v2m0 215v1m0 6v2m0 3v3m0 55v1m0 237v1"/>
<path class="c11" d="M541.5 186v2m0 38v1m0 2v1m0 405v1m0 1v2m0 31v7"/>
<path class="c14" d="M541.5 227v1m0 415v1m0 16v3"/>
<path class="c15" d="M541.5 228v1m0 428v2"/>
<path class="c8" d="M541.5 254v1m0 313v1m0 8v1m0 6v1m0 1v2m0 7v4m0 1v1m0 2v1m0 2v1m0 2v1m0 8v1m0 1v5m0 54v1m0 245v1m0 2v1m0 272v1m0 282v1m0 2v2"/>
<path class="c3" d="M541.5 278v1m0 608v1m0 27v1m0 93v1m0 80v1m0 10v1m0 66v1m0 7v1m0 84v1"/>
<path class="c10" d="M541.5 404v1m0 223v3m0 46v2m0 806v2"/>
<path class="c12" d="M541.5 634v1m0 1v1m0 2v1m0 24v1m0 2v3m0 10v1"/>
<path class="c16" d="M541.5 640v1"/>
<path class="c13" d="M541.5 641v1m0 17v1m0 3v1m0 1v2"/>
<path class="c17" d="M541.5 642v1m0 12v2m0 24v1"/>
<path class="c22" d="M541.5 644v3m0 2v1"/>
<path class="c26" d="M541.5 647v1"/>
<path class="c21" d="M541.5 648v1m0 1v2"/>
<path class="c20" d="M541.5 652v2"/>
<path class="c19" d="M541.5 654v1"/>
<path class="c43" d="M541.5 682v1"/>
<path class="c55" d="M541.5 683v1"/>
<path class="c50" d="M541.5 684v1"/>
<path class="c51" d="M541.5 685v1"/>
<path class="c48" d="M541.5 686v1"/>
<path class="c45" d="M541.5 687v1"/>
<path class="c37" d="M541.5 688v1"/>
</g>
<g stroke-width="4">
<path class="c5" d="M545 118v4m0 1v1m0 1v1m0 1v1m0 1v4m0 1v2m0 1v1m0 1v1m0 2v1m0 3v2m0 8v1m0 1v3m0 2v1m0 3v8m0 1v4m0 3v1m0 11v1m0 2v1m0 4v1m0 2v1m0 2v1m0 3v1m0 1v3m0 1v3m0 9v2m0 2v3m0 1v2m0 2v1m0 1v2m0 2v1m0 1v8m0 2v2m0 1v3m0 7v4m0 2v1m0 2v1m0 1v1m0 2v1m0 3v3m0 4v1m0 3v5m0 2v4m0 1v2m0 1v1m0 2v1m0 1v1m0 3v1m0 5v1m0 10v1m0 1v2m0 2v1m0 1v1m0 3v1m0 3v2m0 1v3m0 2v3m0 1v1m0 2v3m0 1v3m0 1v1m0 1v1m0 2v1m0 1v3m0 1v4m0 8v1m0 3v1m0 5v10m0 2v1m0 2v4m0 1v1m0 2v1m0 5v1m0 2v3m0 2v1m0 1v2m0 1v1m0 1v1m0 2v2m0 4v3m0 1v2m0 1v1m0 1v3m0 2v2m0 2v1m0 2v3m0 1v1m0 3v3m0 2v6m0 1v1m0 6v1m0 1v5m0 1v2m0 2v1m0 3v3m0 1v1m0 1v2m0 3v1m0 2v1m0 6v4m0 2v1m0 10v2m0 2v1m0 115v1m0 1v7m0 2v3m0 1v2m0 2v1m0 3v4m0 1v1m0 3v1m0 1v3m0 2v5m0 1v1m0 3v1m0 4v1m0 2v1m0 1v1m0 1v1m0 1v2m0 1v1m0 4v2m0 2v2m0 1v3m0 1v3m0 9v1m0 1v1m0 2v2m0 5v2m0 1v2m0 3v1m0 2v3m0 4v2m0 2v1m0 1v6m0 1v3m0 1v2m0 1v2m0 4v3m0 5v2m0 4v3m0 1v10m0 1v2m0 1v1m0 1v1m0 18v1m0 7v2m0 1v1m0 4v2m0 2v1m0 2v4m0 2v2m0 8v2m0 3v1m0 1v5m0 3v5m0 1v1m0 2v1m0 3v2m0 6v1m0 1v1m0 1v1m0 2v1m0 1v4m0 2v2m0 6v5m0 1v5m0 1v1m0 1v1m0 1v2m0 1v4m0 6v1m0 5v3m0 1v3m0 1v2m0 1v2m0 2v1m0 3v2m0 3v3m0 1v1m0 1v1m0 1v1m0 9v1m0 10v3m0 2v1m0 1v1m0 1v1m0 1v1m0 2v4m0 1v1m0 2v1m0 1v1m0 2v2m0 1v1m0 3v1m0 5v3m0 1v9m0 1v2m0 1v3m0 1v2m0 1v3m0 3v1m0 1v3m0 3v2m0 1v1m0 2v2m0 1v3m0 1v4m0 1v1m0 3v2m0 3v2m0 1v2m0 2v1m0 1v1m0 4v1m0 4v2m0 2v1m0 1v1m0 1v1m0 2v1m0 3v1m0 2v1m0 2v1m0 1v5m0 2v2m0 12v1m0 2v1m0 1v7m0 2v1m0 1v1m0 1v1m0 1v1m0 3v1m0 2v2m0 3v3m0 3v3m0 2v4m0 4v1m0 6v1m0 1v2m0 4v1m0 1v3m0 3v3m0 4v1m0 8v1m0 1v1m0 2v3m0 1v1m0 2v2m0 3v5m0 1v2m0 1v2m0 4v2m0 1v1m0 1v3m0 3v1m0 1v1m0 1v3m0 5v6m0 3v1m0 2v2m0 2v1m0 6v2m0 1v2m0 1v1m0 1v2m0 1v5m0 7v1m0 3v1m0 1v1m0 9v1m0 2v1m0 4v4m0 1v1m0 1v9m0 2v2m0 6v1m0 1v1m0 1v10m0 1v1m0 2v2m0 2v3m0 3v2m0 1v1m0 1v2m0 2v1m0 1v1m0 3v1m0 2v1m0 2v2m0 4v1m0 1v1m0 1v2m0 3v1"/>
<path class="c4" d="M545 122v1m0 3v1m0 13v2m0 1v2m0 17v1m0 17v3m0 31v1m0 18v2m0 12v2m0 1v1m0 17v2m0 1v2m0 5v2m0 1v2m0 1v1m0 1v1m0 2v3m0 3v1m0 12v2m0 41v1m0 1v3m0 15v1m0 2v1m0 11v1m0 2v1m0 19v1m0 1v5m0 10v2m0 1v2m0 20v2m0 1v1m0 4v1m0 2v1m0 12v1m0 12v1m0 4v1m0 7v2m0 6v1m0 2v1m0 3v1m0 1v1m0 8v1m0 2v1m0 1v1m0 12v2m0 12v1m0 132v1m0 7v2m0 3v1m0 3v1m0 10v3m0 5v2m0 7v3m0 1v2m0 10v1m0 2v1m0 1v4m0 6v1m0 8v1m0 1v1m0 3v2m0 1v1m0 12v1m0 4v1m0 47v3m0 17v1m0 1v1m0 1v1m0 1v3m0 2v4m0 1v2m0 5v5m0 1v1m0 2v1m0 2v3m0 2v2m0 1v2m0 18v3m0 1v1m0 7v1m0 8v1m0 6v2m0 1v3m0 3v1m0 4v1m0 8v1m0 3v2m0 11v1m0 3v1m0 7v6m0 2v4m0 10v1m0 2v2m0 1v2m0 3v3m0 3v1m0 1v1m0 1v1m0 1v7m0 1v1m0 1v5m0 3v1m0 4v1m0 2v1m0 1v1m0 1v1m0 1v2m0 4v1m0 2v1m0 3v1m0 3v1m0 1v3m0 1v2m0 1v2m0 3v1m0 9v1m0 2v1m0 3v1m0 2v1m0 11v1m0 4v1m0 5v1m0 3v1m0 35v1m0 11v1m0 19v1m0 2v3m0 8v1m0 8v1m0 3v1m0 1v1m0 1v1m0 69v1m0 8v2m0 2v3m0 8v1m0 2v4m0 8v3m0 1v1m0 6v2m0 1v1m0 14v1m0 2v6m0 10v1m0 19v2m0 1v1m0 1v4m0 12v1m0 41v2m0 13v2m0 19v1m0 1v1"/>
<path class="c6" d="M545 124v1m0 3v1m0 4v1m0 2v1m0 1v1m0 6v1m0 2v8m0 1v1m0 3v1m0 2v3m0 8v1m0 16v1m0 3v2m0 1v1m0 1v1m0 3v1m0 1v1m0 4v1m0 5v1m0 3v3m0 5v1m0 11v1m0 1v1m0 14v2m0 2v1m0 9v1m0 13v1m0 8v3m0 1v3m0 11v1m0 2v1m0 1v2m0 1v1m0 1v3m0 1v2m0 2v1m0 2v5m0 3v1m0 4v2m0 7v3m0 2v1m0 3v2m0 10v1m0 3v1m0 1v1m0 2v1m0 5v1m0 4v4m0 5v2m0 26v1m0 2v1m0 1v5m0 1v2m0 9v1m0 3v1m0 4v3m0 3v1m0 4v1m0 3v2m0 2v2m0 2v1m0 5v3m0 13v1m0 12v1m0 3v1m0 2v1m0 4v1m0 1v1m0 2v3m0 4v3m0 1v1m0 5v1m0 2v5m0 1v1m0 1v2m0 2v2m0 12v1m0 3v2m0 1v2m0 5v1m0 1v2m0 5v1m0 6v1m0 72v1m0 20v3m0 4v1m0 24v2m0 1v2m0 1v1m0 1v1m0 12v2m0 6v1m0 15v2m0 2v5m0 6v1m0 2v2m0 3v4m0 2v2m0 1v1m0 6v1m0 3v1m0 2v1m0 2v2m0 1v1m0 3v5m0 2v1m0 17v1m0 30v1m0 20v2m0 2v2m0 2v4m0 12v2m0 6v1m0 1v1m0 2v3m0 9v1m0 3v2m0 6v2m0 13v1m0 7v1m0 4v1m0 11v1m0 7v1m0 3v1m0 32v1m0 11v1m0 4v1m0 18v1m0 43v3m0 1v1m0 4v2m0 4v2m0 11v1m0 1v3m0 2v3m0 2v1m0 9v1m0 2v4m0 3v1m0 1v1m0 1v1m0 1v2m0 1v2m0 2v1m0 3v1m0 7v2m0 2v2m0 6v4m0 1v2m0 9v1m0 2v1m0 6v1m0 2v2m0 2v3m0 3v1m0 1v1m0 3v2m0 4v4m0 2v5m0 1v1m0 2v4m0 1v1m0 3v3m0 3v3m0 3v7m0 3v2m0 3v1m0 13v1m0 11v1m0 1v1m0 9v1m0 3v1m0 10v3m0 1v2m0 3v1m0 9v1m0 2v1m0 1v1m0 8v7m0 1v3m0 1v1m0 11v2m0 1v4m0 6v1m0 9v2m0 2v1m0 3v1m0 2v1m0 1v1m0 10v1m0 1v2m0 7v1m0 1v1m0 2v1m0 1v1m0 5v1m0 2v2m0 1v2m0 1v2m0 3v3m0 6v3"/>
<path class="c7" d="M545 184v1m0 5v2m0 1v2m0 5v1m0 1v1m0 1v1m0 3v1m0 1v2m0 13v1m0 12v1m0 2v1m0 88v2m0 2v1m0 5v1m0 1v1m0 2v1m0 59v1m0 31v1m0 27v1m0 85v1m0 1v1m0 12v1m0 1v1m0 7v11m0 1v3m0 2v1m0 2v5m0 1v1m0 5v2m0 1v6m0 185v1m0 36v1m0 350v2m0 1v1m0 1v2m0 24v1m0 1v1m0 47v1m0 12v1m0 15v1m0 27v1m0 1v1m0 157v1m0 26v1m0 13v1m0 10v1"/>
<path class="c8" d="M545 185v1m0 3v1m0 151v1m0 60v1m0 202v3m0 10v1m0 6v1m0 53v2m0 517v1m0 285v1"/>
<path class="c11" d="M545 186v2m0 38v1m0 403v1m0 3v1m0 1v1m0 2v1m0 23v2m0 2v3m0 2v2"/>
<path class="c10" d="M545 188v1m0 40v1m0 173v2m0 223v2m0 1v3m0 3v2m0 31v2m0 3v2m0 809v1"/>
<path class="c14" d="M545 227v2m0 414v1m0 13v2"/>
<path class="c3" d="M545 267v1m0 2v1m0 102v1m0 139v3m0 192v1m0 15v1m0 10v1m0 40v1m0 1v1m0 1v3m0 75v1m0 18v1m0 3v2m0 4v1m0 2v4m0 12v1m0 58v1m0 22v2m0 55v1m0 29v3m0 22v1m0 5v1m0 10v1m0 108v1m0 12v2m0 150v1m0 56v1m0 1v1"/>
<path class="c9" d="M545 619v6m0 1v2m0 7v1m0 41v2m0 10v1m0 237v2m0 556v1"/>
<path class="c12" d="M545 640v2m0 17v2m0 1v1m0 2v2m0 7v1m0 6v1"/>
<path class="c13" d="M545 642v1m0 18v1"/>
<path class="c16" d="M545 644v1m0 11v1"/>
<path class="c17" d="M545 645v1m0 9v1"/>
<path class="c18" d="M545 646v1m0 7v1"/>
<path class="c20" d="M545 647v1m0 3v1"/>
<path class="c21" d="M545 648v3"/>
<path class="c19" d="M545 652v2"/>
<path class="c49" d="M545 682v2"/>
<path class="c51" d="M545 684v1"/>
<path class="c55" d="M545 685v1"/>
<path class="c53" d="M545 686v1"/>
<path class="c45" d="M545 687v1"/>
<path class="c35" d="M545 688v1"/>
<path class="c2" d="M545 987v1"/>
</g>
<g stroke-width="3">
<path class="c5" d="M548.5 118v3m0 1v3m0 2v6m0 1v11m0 1v1m0 1v2m0 2v1m0 2v1m0 1v4m0 5v1m0 3v4m0 1v1m0 1v2m0 3v1m0 9v1m0 1v1m0 1v1m0 1v2m0 1v2m0 2v4m0 1v1m0 2v7m0 1v1m0 1v2m0 6v2m0 2v1m0 1v1m0 1v1m0 8v1m0 1v1m0 1v1m0 2v3m0 7v1m0 1v3m0 1v5m0 4v3m0 3v1m0 2v4m0 3v3m0 1v1m0 1v3m0 7v2m0 1v2m0 1v2m0 1v1m0 1v3m0 1v3m0 1v4m0 1v1m0 1v1m0 2v2m0 1v1m0 1v2m0 2v2m0 3v4m0 1v1m0 1v1m0 2v4m0 2v2m0 3v2m0 1v1m0 2v1m0 1v2m0 1v1m0 4v1m0 2v1m0 3v2m0 6v1m0 1v2m0 1v2m0 4v1m0 2v4m0 5v2m0 2v2m0 1v1m0 3v1m0 2v2m0 7v1m0 1v1m0 5v1m0 4v3m0 1v1m0 2v5m0 3v3m0 1v1m0 1v2m0 5v2m0 1v1m0 1v3m0 2v1m0 1v2m0 3v2m0 1v2m0 1v5m0 4v2m0 1v1m0 3v2m0 1v2m0 1v2m0 3v1m0 2v4m0 5v2m0 2v7m0 1v1m0 2v1m0 1v2m0 1v4m0 110v1m0 4v2m0 1v3m0 1v2m0 3v1m0 3v1m0 1v2m0 1v1m0 1v2m0 2v4m0 2v2m0 2v3m0 1v1m0 1v3m0 2v3m0 1v3m0 2v1m0 2v1m0 1v1m0 1v3m0 4v1m0 1v3m0 1v4m0 1v1m0 1v1m0 1v1m0 2v2m0 1v3m0 7v1m0 2v3m0 2v3m0 1v2m0 1v2m0 1v2m0 1v2m0 1v1m0 1v2m0 3v1m0 1v5m0 2v2m0 1v2m0 8v1m0 1v3m0 1v2m0 3v3m0 1v1m0 2v2m0 1v1m0 1v1m0 1v1m0 5v1m0 7v1m0 12v1m0 5v1m0 8v1m0 3v2m0 7v1m0 1v3m0 9v1m0 5v2m0 6v2m0 1v1m0 4v1m0 5v4m0 3v1m0 1v1m0 2v2m0 9v1m0 2v2m0 1v3m0 1v3m0 2v4m0 2v1m0 5v6m0 1v4m0 2v1m0 1v5m0 1v2m0 2v1m0 3v1m0 2v3m0 1v3m0 4v1m0 4v5m0 9v1m0 4v1m0 1v1m0 3v3m0 1v1m0 2v4m0 1v1m0 1v2m0 1v5m0 5v1m0 1v7m0 1v1m0 4v3m0 1v2m0 1v1m0 1v4m0 1v2m0 4v3m0 1v1m0 1v2m0 1v3m0 2v3m0 3v4m0 1v1m0 1v3m0 3v2m0 2v1m0 5v3m0 4v1m0 2v5m0 1v2m0 2v2m0 5v1m0 1v1m0 2v1m0 1v1m0 3v5m0 1v2m0 5v2m0 1v1m0 1v2m0 1v1m0 3v3m0 1v4m0 1v4m0 5v1m0 1v1m0 1v1m0 1v1m0 2v4m0 2v2m0 8v6m0 2v7m0 2v2m0 1v2m0 1v1m0 8v2m0 1v3m0 1v3m0 1v3m0 1v3m0 1v2m0 1v3m0 1v5m0 2v2m0 1v2m0 1v1m0 4v5m0 2v3m0 2v1m0 1v2m0 3v1m0 6v1m0 4v1m0 4v1m0 3v4m0 2v1m0 1v1m0 1v1m0 4v1m0 2v1m0 3v4m0 4v10m0 4v4m0 2v1m0 1v4m0 3v2m0 6v1m0 1v7m0 1v1m0 3v1m0 1v1m0 2v2m0 1v4m0 2v11m0 1v2m0 1v4m0 2v1m0 3v2m0 1v1m0 2v1m0 1v1m0 2v1"/>
<path class="c6" d="M548.5 121v1m0 23v1m0 7v1m0 7v1m0 17v3m0 1v1m0 7v1m0 1v1m0 6v1m0 3v1m0 15v1m0 1v1m0 17v8m0 1v1m0 1v1m0 1v2m0 3v5m0 1v1m0 1v1m0 16v3m0 1v2m0 12v1m0 12v1m0 2v1m0 2v1m0 1v1m0 3v1m0 16v1m0 4v2m0 2v3m0 4v1m0 1v1m0 7v2m0 30v1m0 3v1m0 2v1m0 2v1m0 2v4m0 14v2m0 8v2m0 2v2m0 9v1m0 7v1m0 3v1m0 16v1m0 3v1m0 1v2m0 2v1m0 1v1m0 4v1m0 1v1m0 22v1m0 2v1m0 6v1m0 2v3m0 7v2m0 1v2m0 2v1m0 11v1m0 9v1m0 1v2m0 1v1m0 5v1m0 1v3m0 8v1m0 122v1m0 2v1m0 6v1m0 13v1m0 1v2m0 7v4m0 1v1m0 30v1m0 4v1m0 7v1m0 5v1m0 2v1m0 18v1m0 15v1m0 3v2m0 3v1m0 1v2m0 55v4m0 2v1m0 23v2m0 1v2m0 4v1m0 34v1m0 2v1m0 32v2m0 7v1m0 10v1m0 3v1m0 9v1m0 40v1m0 47v1m0 12v2m0 12v1m0 3v1m0 5v1m0 1v1m0 1v1m0 21v1m0 8v1m0 4v1m0 1v3m0 8v2m0 1v2m0 2v1m0 6v1m0 5v1m0 4v1m0 12v1m0 4v1m0 8v1m0 1v6m0 6v2m0 7v2m0 5v1m0 1v8m0 6v1m0 11v1m0 2v1m0 9v2m0 5v1m0 15v2m0 1v1m0 25v1m0 5v1m0 1v1m0 4v3m0 4v2m0 6v1m0 12v4m0 5v1m0 1v1m0 6v1m0 2v1m0 4v1m0 1v1m0 25v1m0 14v1m0 4v2m0 1v3m0 2v1"/>
<path class="c4" d="M548.5 125v2m0 6v1m0 13v1m0 2v2m0 2v1m0 1v1m0 7v2m0 1v3m0 4v1m0 1v1m0 18v1m0 1v1m0 5v1m0 5v1m0 1v2m0 20v1m0 2v1m0 33v1m0 5v4m0 13v1m0 1v1m0 3v1m0 5v7m0 23v1m0 1v1m0 1v2m0 22v2m0 8v2m0 3v1m0 1v2m0 1v1m0 2v1m0 1v1m0 1v2m0 1v2m0 1v3m0 7v1m0 12v2m0 7v2m0 6v1m0 1v1m0 1v1m0 7v3m0 1v1m0 1v1m0 1v1m0 1v3m0 1v3m0 6v2m0 5v1m0 1v1m0 3v1m0 17v1m0 5v3m0 2v1m0 2v1m0 5v4m0 4v1m0 1v1m0 2v1m0 10v1m0 12v1m0 7v1m0 1v1m0 2v1m0 2v1m0 115v1m0 1v2m0 2v1m0 3v1m0 2v1m0 1v1m0 2v2m0 1v1m0 2v1m0 1v1m0 2v2m0 4v1m0 4v1m0 3v1m0 5v2m0 3v1m0 3v1m0 7v1m0 12v1m0 4v1m0 1v1m0 1v1m0 1v2m0 2v1m0 3v3m0 1v1m0 1v1m0 2v1m0 8v1m0 5v1m0 7v1m0 2v3m0 7v2m0 5v2m0 1v5m0 8v1m0 11v1m0 1v1m0 1v1m0 1v1m0 2v2m0 1v4m0 2v1m0 1v6m0 3v3m0 1v3m0 1v1m0 1v4m0 1v1m0 1v1m0 1v3m0 10v1m0 3v2m0 1v1m0 1v4m0 1v2m0 1v2m0 2v1m0 7v1m0 2v3m0 1v1m0 1v3m0 4v3m0 1v1m0 1v2m0 2v1m0 1v7m0 1v1m0 7v1m0 4v1m0 4v2m0 1v1m0 2v2m0 6v1m0 7v1m0 8v2m0 1v3m0 1v1m0 10v2m0 1v1m0 1v1m0 6v9m0 1v2m0 1v1m0 1v1m0 2v2m0 3v1m0 1v2m0 4v1m0 4v1m0 5v5m0 1v1m0 7v1m0 1v4m0 3v1m0 2v1m0 1v1m0 4v1m0 2v3m0 4v1m0 1v1m0 2v1m0 9v1m0 5v1m0 6v2m0 2v1m0 6v1m0 3v4m0 1v2m0 5v1m0 2v1m0 3v5m0 3v2m0 11v1m0 4v1m0 6v1m0 2v1m0 2v2m0 13v5m0 1v1m0 3v1m0 1v1m0 5v2m0 3v1m0 25v1m0 14v1m0 7v1m0 3v1m0 10v1m0 9v1m0 4v4m0 5v2m0 10v2m0 1v3m0 1v2m0 1v2m0 3v4m0 1v2m0 5v1m0 4v1m0 1v1m0 4v2m0 3v1m0 4v1m0 1v2m0 18v1m0 7v2m0 18v1m0 1v2m0 2v1m0 1v2m0 2v1m0 17v1m0 17v2m0 1v1m0 1v2"/>
<path class="c3" d="M548.5 162v2m0 70v1m0 59v1m0 80v1m0 13v1m0 35v3m0 11v1m0 11v1m0 27v1m0 65v1m0 146v1m0 12v1m0 2v1m0 47v1m0 36v1m0 1v1m0 8v1m0 24v1m0 14v1m0 32v2m0 7v2m0 8v3m0 7v1m0 6v1m0 1v1m0 21v1m0 1v1m0 7v1m0 20v1m0 18v1m0 20v1m0 9v2m0 41v2m0 6v1m0 17v1m0 4v1m0 81v1m0 1v1m0 221v1m0 6v1m0 5v2m0 89v1"/>
<path class="c7" d="M548.5 184v1m0 5v1m0 34v1m0 12v1m0 24v1m0 66v1m0 14v1m0 56v1m0 86v1m0 1v1m0 61v1m0 27v1m0 2v1m0 1v5m0 1v1m0 3v4m0 1v3m0 2v6m0 2v1m0 1v2m0 233v1m0 103v1m0 240v1m0 1v1m0 316v1"/>
<path class="c9" d="M548.5 185v1m0 217v2m0 221v8m0 3v1m0 33v1m0 3v1m0 1v4m0 246v1"/>
<path class="c11" d="M548.5 186v2m0 41v1m0 404v1m0 1v1m0 2v1m0 19v2m0 2v2m0 1v4m0 3v2m0 811v1"/>
<path class="c10" d="M548.5 188v2m0 445v1m0 2v1m0 31v1m0 1v1m0 3v1m0 808v1"/>
<path class="c12" d="M548.5 226v1m0 413v3m0 18v2"/>
<path class="c15" d="M548.5 227v1m0 417v1"/>
<path class="c16" d="M548.5 228v1m0 417v1"/>
<path class="c8" d="M548.5 230v1m0 369v1m0 4v1m0 6v2m0 1v1m0 2v8m0 55v1m0 7v1m0 238v1m0 555v1m0 2v1"/>
<path class="c13" d="M548.5 643v1m0 21v1"/>
<path class="c14" d="M548.5 644v1m0 12v2"/>
<path class="c19" d="M548.5 647v1"/>
<path class="c21" d="M548.5 648v1m0 3v2"/>
<path class="c22" d="M548.5 649v1"/>
<path class="c23" d="M548.5 650v2"/>
<path class="c20" d="M548.5 654v1"/>
<path class="c17" d="M548.5 655v2"/>
<path class="c43" d="M548.5 682v1m0 4v1"/>
<path class="c53" d="M548.5 683v1"/>
<path class="c48" d="M548.5 684v1"/>
<path class="c52" d="M548.5 685v1"/>
<path class="c47" d="M548.5 686v1"/>
<path class="c33" d="M548.5 688v1"/>
</g>
<g stroke-width="3">
<path class="c5" d="M551.5 118v1m0 2v1m0 2v1m0 5v2m0 1v1m0 1v7m0 1v1m0 1v2m0 1v1m0 4v1m0 18v1m0 4v3m0 1v2m0 9v3m0 1v3m0 2v3m0 2v3m0 4v1m0 1v1m0 1v1m0 1v1m0 2v2m0 6v1m0 4v1m0 2v1m0 1v1m0 1v3m0 7v4m0 2v1m0 1v1m0 7v2m0 1v6m0 2v2m0 2v2m0 2v1m0 2v2m0 3v4m0 1v3m0 1v8m0 1v2m0 5v1m0 4v2m0 1v2m0 1v4m0 1v1m0 1v1m0 2v1m0 1v1m0 1v1m0 2v3m0 5v1m0 1v4m0 4v4m0 1v2m0 8v2m0 1v2m0 2v1m0 1v6m0 10v6m0 2v1m0 1v3m0 9v1m0 1v8m0 17v2m0 1v1m0 1v1m0 2v3m0 3v1m0 2v2m0 3v1m0 4v3m0 4v1m0 3v1m0 5v1m0 2v2m0 2v2m0 1v3m0 5v4m0 1v1m0 3v1m0 4v1m0 2v2m0 1v1m0 2v5m0 2v3m0 1v2m0 2v1m0 4v3m0 1v4m0 1v1m0 1v2m0 2v1m0 1v2m0 1v3m0 4v1m0 5v1m0 1v3m0 92v1m0 7v2m0 1v4m0 2v1m0 2v1m0 1v3m0 1v5m0 1v3m0 2v2m0 1v2m0 11v4m0 1v1m0 1v1m0 2v1m0 5v1m0 2v1m0 2v1m0 3v1m0 3v1m0 1v1m0 1v1m0 4v3m0 2v2m0 5v1m0 3v3m0 4v2m0 1v6m0 6v2m0 1v1m0 2v3m0 1v1m0 6v1m0 1v3m0 8v2m0 1v1m0 2v1m0 2v1m0 10v1m0 4v1m0 9v1m0 4v1m0 9v1m0 1v2m0 1v1m0 2v1m0 3v1m0 10v2m0 1v1m0 2v2m0 2v2m0 3v1m0 3v1m0 5v2m0 1v2m0 4v1m0 2v4m0 6v1m0 2v3m0 1v1m0 1v1m0 3v2m0 1v1m0 7v1m0 2v1m0 8v3m0 1v1m0 2v1m0 15v2m0 3v2m0 2v2m0 3v2m0 2v1m0 4v4m0 1v3m0 3v2m0 10v1m0 2v2m0 4v1m0 6v1m0 3v1m0 3v1m0 2v1m0 7v1m0 1v3m0 5v1m0 1v1m0 2v1m0 1v5m0 1v1m0 1v5m0 4v2m0 8v1m0 3v2m0 1v1m0 1v2m0 4v1m0 2v1m0 5v1m0 2v1m0 5v1m0 1v3m0 3v3m0 3v2m0 1v2m0 1v4m0 1v6m0 1v1m0 3v1m0 4v1m0 5v1m0 1v2m0 6v1m0 1v1m0 3v3m0 1v3m0 1v2m0 2v2m0 6v2m0 1v2m0 1v5m0 1v1m0 3v1m0 3v1m0 1v4m0 2v3m0 1v1m0 1v1m0 5v1m0 3v3m0 1v2m0 2v1m0 1v2m0 1v1m0 1v1m0 1v5m0 1v2m0 2v1m0 1v2m0 1v2m0 1v1m0 1v1m0 1v1m0 2v1m0 8v1m0 1v1m0 4v1m0 6v4m0 1v1m0 8v1m0 1v1m0 2v6m0 2v3m0 4v1m0 2v1m0 3v1m0 2v2m0 4v2m0 1v2m0 2v2m0 2v1m0 1v1m0 1v2m0 8v6m0 2v2m0 1v3m0 1v1m0 7v4m0 2v1m0 5v2m0 10v1m0 1v3m0 2v1m0 5v3m0 1v1m0 11v1m0 2v1m0 1v1m0 1v1m0 5v2m0 1v1m0 2v1m0 1v2"/>
<path class="c4" d="M551.5 119v2m0 1v2m0 1v2m0 20v1m0 1v4m0 2v1m0 1v2m0 1v2m0 1v1m0 2v1m0 1v4m0 1v1m0 1v2m0 3v1m0 14v1m0 13v1m0 1v2m0 1v1m0 5v2m0 2v1m0 6v4m0 1v1m0 2v1m0 5v2m0 2v2m0 5v2m0 1v1m0 1v1m0 15v1m0 3v2m0 3v1m0 1v2m0 3v2m0 4v1m0 3v1m0 8v1m0 3v2m0 1v1m0 1v4m0 2v1m0 7v1m0 1v1m0 1v2m0 3v1m0 1v2m0 3v1m0 10v4m0 7v8m0 2v1m0 3v1m0 24v2m0 5v9m0 1v1m0 8v2m0 1v7m0 2v1m0 1v3m0 4v1m0 2v1m0 3v3m0 2v1m0 2v3m0 1v1m0 1v2m0 5v2m0 1v3m0 1v1m0 2v2m0 9v1m0 3v1m0 1v1m0 1v1m0 6v3m0 1v1m0 1v2m0 1v2m0 5v1m0 5v2m0 3v1m0 3v1m0 1v2m0 1v1m0 34v1m0 96v7m0 2v1m0 4v2m0 1v2m0 5v1m0 5v1m0 3v2m0 2v1m0 2v3m0 5v3m0 15v1m0 1v2m0 5v2m0 1v3m0 1v1m0 1v1m0 1v4m0 7v5m0 3v1m0 3v3m0 10v2m0 3v1m0 2v1m0 1v2m0 3v1m0 2v5m0 1v1m0 3v1m0 2v1m0 2v2m0 2v1m0 2v1m0 1v1m0 2v3m0 1v4m0 1v1m0 1v4m0 1v1m0 1v4m0 1v2m0 1v1m0 2v1m0 1v1m0 2v6m0 1v1m0 2v1m0 1v1m0 2v3m0 4v1m0 1v5m0 8v2m0 2v2m0 2v3m0 1v5m0 5v1m0 1v2m0 7v1m0 1v2m0 3v2m0 3v1m0 1v1m0 1v3m0 5v3m0 2v1m0 1v2m0 1v4m0 1v1m0 1v1m0 3v1m0 2v1m0 1v15m0 2v3m0 3v1m0 7v1m0 2v3m0 5v1m0 3v1m0 1v1m0 2v1m0 1v1m0 5v2m0 1v2m0 2v4m0 3v1m0 1v2m0 1v1m0 1v1m0 1v3m0 2v1m0 1v1m0 1v1m0 1v3m0 1v1m0 3v5m0 1v1m0 1v1m0 2v1m0 5v1m0 1v1m0 5v4m0 2v4m0 1v3m0 1v1m0 4v1m0 1v1m0 2v4m0 1v2m0 1v1m0 1v1m0 1v1m0 6v3m0 1v1m0 3v2m0 5v1m0 6v1m0 13v2m0 2v4m0 1v3m0 6v1m0 1v1m0 2v1m0 1v1m0 2v1m0 12v1m0 2v2m0 1v3m0 2v1m0 2v1m0 5v1m0 7v1m0 1v1m0 9v1m0 1v1m0 2v4m0 1v3m0 6v1m0 18v2m0 1v1m0 2v1m0 2v1m0 5v2m0 1v4m0 1v1m0 1v1m0 1v1m0 3v2m0 4v3m0 6v3m0 2v1m0 1v1m0 12v1m0 3v3m0 2v2m0 1v1m0 1v1m0 6v3m0 2v1m0 3v1m0 2v2m0 1v1m0 1v1m0 2v4m0 2v2m0 6v2m0 2v1m0 16v2m0 8v8m0 7v2m0 1v5m0 3v1m0 5v6m0 3v1m0 3v1m0 1v2m0 2v1m0 2v1m0 1v1m0 5v1"/>
<path class="c6" d="M551.5 127v3m0 2v1m0 1v1m0 7v1m0 1v1m0 38v1m0 6v2m0 8v1m0 4v1m0 4v1m0 5v1m0 1v1m0 22v1m0 9v1m0 10v1m0 1v4m0 17v1m0 6v1m0 37v1m0 11v1m0 9v4m0 1v1m0 12v1m0 25v4m0 5v1m0 9v1m0 45v1m0 8v1m0 14v2m0 8v2m0 3v2m0 2v2m0 15v1m0 6v1m0 7v1m0 1v1m0 14v1m0 4v1m0 4v1m0 4v1m0 1v1m0 2v2m0 1v1m0 6v1m0 1v2m0 1v2m0 1v2m0 5v2m0 1v1m0 1v2m0 1v2m0 2v1m0 3v1m0 1v1m0 8v1m0 85v1m0 35v1m0 1v1m0 1v2m0 1v2m0 1v1m0 5v2m0 20v2m0 20v1m0 23v1m0 85v1m0 7v1m0 24v1m0 7v2m0 25v1m0 54v3m0 3v1m0 4v1m0 104v2m0 21v2m0 1v2m0 14v1m0 1v1m0 2v1m0 7v1m0 20v2m0 1v1m0 11v1m0 1v1m0 3v1m0 3v1m0 2v1m0 5v1m0 16v1m0 3v1m0 9v1m0 7v1m0 11v1m0 3v1m0 1v1m0 2v1m0 1v1m0 1v1m0 5v1m0 13v1m0 32v1m0 10v1m0 1v2m0 6v1m0 13v1m0 2v2m0 2v1m0 8v1m0 33v1m0 1v1m0 3v3m0 22v2m0 18v4m0 6v1m0 1v1m0 2v1m0 5v2m0 6v1"/>
<path class="c3" d="M551.5 154v1m0 1v1m0 2v1m0 2v1m0 1v2m0 1v1m0 6v1m0 24v1m0 37v1m0 9v2m0 21v1m0 7v1m0 36v1m0 2v1m0 67v1m0 2v1m0 50v1m0 7v2m0 1v1m0 27v1m0 33v1m0 1v1m0 63v1m0 155v3m0 1v1m0 16v1m0 9v1m0 28v2m0 7v1m0 12v2m0 24v2m0 1v2m0 6v1m0 3v1m0 4v1m0 4v1m0 8v1m0 4v1m0 4v2m0 3v2m0 13v1m0 5v3m0 21v1m0 16v1m0 10v1m0 2v2m0 17v1m0 3v2m0 9v1m0 1v1m0 6v1m0 24v1m0 24v1m0 4v1m0 1v1m0 1v2m0 13v2m0 1v1m0 4v1m0 6v1m0 3v1m0 19v1m0 25v1m0 23v1m0 1v1m0 17v1m0 23v1m0 3v1m0 16v1m0 1v2m0 45v1m0 63v1m0 8v1m0 1v1m0 4v2m0 3v3m0 12v2m0 1v1m0 20v1m0 37v2m0 50v1"/>
<path class="c8" d="M551.5 184v1m0 434v3m0 4v4m0 48v3m0 8v1m0 237v1m0 556v1"/>
<path class="c9" d="M551.5 185v1m0 3v1m0 39v1m0 172v3m0 226v3m0 32v3m0 1v1m0 6v1"/>
<path class="c12" d="M551.5 186v2m0 39v1m0 414v1m0 17v2m0 824v1"/>
<path class="c10" d="M551.5 188v1m0 37v1m0 403v1m0 3v5m0 25v2m0 3v1m0 1v6m0 808v1"/>
<path class="c7" d="M551.5 204v1m0 20v1m0 37v1m0 136v2m0 55v1m0 126v1m0 5v1m0 9v1m0 1v1m0 2v1m0 2v2m0 1v3m0 1v1m0 1v2m0 3v3m0 56v1m0 246v1m0 355v2m0 10v1m0 174v3m0 13v2m0 61v1"/>
<path class="c14" d="M551.5 228v1m0 414v1"/>
<path class="c11" d="M551.5 639v3m0 20v2"/>
<path class="c16" d="M551.5 644v2"/>
<path class="c17" d="M551.5 646v1m0 9v1"/>
<path class="c20" d="M551.5 647v1m0 6v1"/>
<path class="c23" d="M551.5 648v1m0 3v2"/>
<path class="c24" d="M551.5 649v1"/>
<path class="c26" d="M551.5 650v1"/>
<path class="c25" d="M551.5 651v1"/>
<path class="c18" d="M551.5 655v1"/>
<path class="c15" d="M551.5 657v2"/>
<path class="c13" d="M551.5 659v1"/>
<path class="c41" d="M551.5 682v1"/>
<path class="c52" d="M551.5 683v1"/>
<path class="c46" d="M551.5 684v1"/>
<path class="c45" d="M551.5 685v1"/>
<path class="c49" d="M551.5 686v1"/>
<path class="c43" d="M551.5 687v1"/>
<path class="c28" d="M551.5 688v1"/>
<path class="c2" d="M551.5 738v1m0 77v1m0 252v1m0 2v1m0 33v1"/>
</g>
<g stroke-width="3">
<path class="c4" d="M554.5 118v2m0 1v2m0 3v2m0 1v1m0 1v2m0 1v3m0 4v1m0 1v5m0 1v1m0 1v2m0 1v1m0 2v1m0 3v1m0 2v3m0 2v1m0 1v5m0 2v2m0 12v2m0 1v1m0 3v1m0 1v2m0 2v3m0 1v1m0 2v2m0 1v3m0 1v2m0 1v3m0 10v1m0 1v1m0 2v1m0 1v1m0 3v3m0 1v1m0 1v2m0 2v1m0 4v2m0 7v1m0 8v1m0 6v1m0 1v1m0 1v2m0 1v3m0 8v1m0 3v4m0 1v1m0 4v1m0 3v4m0 5v1m0 7v2m0 2v1m0 7v6m0 4v4m0 2v1m0 1v1m0 1v1m0 1v3m0 4v3m0 1v3m0 2v2m0 1v2m0 1v3m0 8v2m0 1v1m0 2v2m0 2v4m0 1v5m0 1v1m0 1v1m0 4v3m0 2v2m0 7v1m0 2v1m0 2v3m0 1v3m0 2v2m0 4v3m0 3v2m0 1v1m0 5v2m0 3v3m0 1v3m0 1v2m0 1v3m0 1v4m0 1v4m0 1v1m0 2v2m0 1v1m0 1v4m0 2v2m0 2v1m0 1v1m0 10v2m0 3v1m0 1v1m0 1v4m0 4v3m0 6v2m0 8v2m0 107v1m0 4v1m0 1v2m0 1v6m0 2v2m0 1v3m0 3v4m0 1v1m0 5v2m0 1v4m0 1v1m0 2v3m0 2v2m0 1v3m0 2v1m0 1v1m0 2v1m0 1v3m0 3v9m0 2v1m0 1v3m0 1v1m0 1v2m0 1v1m0 3v2m0 2v2m0 2v1m0 1v1m0 1v1m0 1v2m0 4v1m0 6v2m0 1v3m0 1v5m0 2v3m0 7v1m0 1v4m0 5v4m0 3v7m0 5v2m0 1v1m0 2v1m0 1v1m0 5v1m0 1v3m0 1v1m0 2v4m0 1v4m0 1v1m0 2v1m0 1v2m0 1v2m0 1v1m0 1v1m0 1v3m0 8v2m0 1v1m0 1v2m0 1v1m0 1v1m0 1v3m0 1v9m0 3v1m0 1v2m0 1v1m0 2v1m0 1v1m0 1v5m0 4v7m0 2v1m0 1v4m0 1v2m0 2v1m0 2v4m0 1v2m0 1v1m0 1v2m0 1v1m0 4v1m0 1v1m0 1v2m0 2v3m0 1v1m0 1v1m0 1v3m0 2v3m0 3v3m0 1v1m0 1v1m0 1v2m0 10v3m0 4v1m0 1v2m0 2v3m0 1v1m0 1v3m0 1v2m0 1v1m0 1v1m0 2v1m0 1v1m0 1v1m0 9v2m0 1v1m0 2v1m0 3v2m0 2v1m0 2v1m0 2v1m0 2v3m0 3v1m0 1v5m0 2v1m0 2v1m0 5v1m0 1v1m0 2v1m0 3v2m0 2v1m0 2v1m0 4v1m0 2v1m0 3v2m0 4v4m0 6v1m0 1v1m0 1v2m0 1v4m0 1v2m0 4v1m0 1v1m0 2v1m0 2v2m0 2v2m0 1v1m0 6v3m0 1v1m0 9v1m0 3v5m0 1v2m0 2v2m0 2v1m0 1v2m0 1v3m0 1v1m0 1v3m0 2v1m0 6v1m0 8v1m0 2v4m0 1v1m0 1v1m0 6v1m0 3v1m0 5v2m0 3v1m0 7v1m0 1v2m0 1v2m0 2v3m0 1v3m0 5v1m0 1v1m0 1v2m0 1v5m0 1v3m0 1v2m0 3v1m0 2v7m0 8v2m0 1v1m0 1v2m0 3v2m0 2v1m0 7v1m0 1v1m0 2v2m0 1v1m0 6v1m0 1v2m0 4v1m0 8v2m0 1v1m0 4v8m0 12v1m0 1v7m0 3v1m0 1v2m0 1v2m0 12v1m0 2v2m0 1v1m0 3v1m0 1v1m0 3v1m0 2v5m0 1v1m0 1v1m0 1v2"/>
<path class="c3" d="M554.5 120v1m0 12v1m0 16v1m0 4v2m0 1v3m0 1v2m0 3v2m0 7v1m0 3v1m0 22v1m0 10v1m0 6v1m0 12v1m0 1v1m0 2v1m0 38v1m0 2v2m0 6v1m0 15v3m0 4v1m0 22v1m0 47v1m0 7v1m0 2v1m0 25v1m0 5v1m0 35v1m0 9v2m0 5v1m0 1v1m0 1v1m0 4v1m0 3v1m0 6v1m0 3v1m0 4v1m0 4v1m0 1v2m0 10v1m0 2v1m0 2v1m0 157v1m0 1v2m0 20v2m0 4v1m0 13v1m0 1v2m0 3v1m0 3v1m0 3v1m0 7v1m0 15v1m0 6v1m0 1v1m0 5v2m0 52v1m0 13v1m0 16v1m0 1v2m0 9v1m0 5v1m0 5v1m0 4v1m0 2v1m0 1v1m0 5v1m0 17v1m0 6v1m0 19v1m0 2v1m0 4v1m0 7v3m0 8v2m0 6v1m0 2v2m0 1v2m0 9v1m0 2v1m0 1v4m0 7v1m0 3v1m0 3v1m0 3v2m0 3v1m0 12v9m0 9v1m0 9v1m0 3v1m0 2v1m0 4v1m0 1v1m0 3v2m0 1v2m0 3v1m0 2v1m0 1v2m0 9v2m0 1v2m0 6v3m0 1v1m0 5v2m0 2v1m0 12v3m0 2v2m0 1v1m0 17v1m0 6v1m0 10v1m0 4v1m0 2v1m0 6v2m0 11v6m0 17v1m0 5v1m0 12v1m0 5v1m0 3v2m0 46v2m0 12v1m0 15v1m0 6v1m0 5v1m0 3v1m0 2v2m0 27v1m0 25v1m0 6v4m0 13v2m0 1v1m0 10v1m0 18v2m0 5v1m0 15v2m0 28v1"/>
<path class="c5" d="M554.5 123v1m0 1v1m0 2v1m0 1v1m0 6v3m0 2v1m0 5v1m0 4v1m0 16v1m0 6v1m0 3v3m0 10v1m0 1v3m0 1v1m0 3v1m0 3v1m0 2v1m0 6v1m0 14v1m0 4v1m0 2v1m0 1v3m0 3v1m0 4v2m0 1v3m0 5v2m0 1v2m0 1v7m0 2v1m0 2v3m0 1v1m0 4v1m0 3v2m0 1v1m0 2v2m0 10v4m0 1v1m0 1v1m0 4v4m0 2v3m0 1v3m0 2v2m0 1v1m0 1v5m0 6v4m0 4v2m0 1v1m0 1v1m0 1v1m0 3v4m0 7v2m0 9v2m0 1v1m0 6v1m0 1v2m0 2v2m0 12v1m0 1v4m0 3v2m0 2v1m0 2v4m0 1v2m0 1v2m0 3v1m0 3v1m0 4v3m0 5v1m0 2v1m0 4v1m0 3v2m0 8v1m0 22v1m0 1v1m0 4v1m0 4v1m0 3v3m0 1v6m0 2v3m0 1v1m0 1v1m0 5v3m0 3v3m0 1v2m0 2v1m0 1v3m0 1v1m0 3v1m0 5v1m0 4v1m0 101v1m0 2v1m0 6v2m0 2v1m0 3v1m0 9v4m0 2v1m0 12v1m0 7v1m0 1v1m0 1v1m0 6v3m0 10v1m0 1v1m0 8v1m0 1v1m0 4v2m0 2v2m0 1v1m0 1v1m0 4v4m0 1v6m0 6v1m0 5v2m0 3v2m0 1v1m0 1v2m0 6v3m0 1v1m0 6v1m0 7v3m0 1v1m0 7v1m0 1v5m0 5v1m0 2v1m0 17v1m0 4v1m0 1v1m0 3v2m0 1v1m0 3v1m0 4v1m0 2v1m0 3v1m0 3v1m0 9v1m0 1v1m0 6v2m0 3v1m0 8v1m0 10v1m0 16v1m0 2v1m0 11v1m0 1v1m0 2v1m0 6v1m0 11v2m0 3v1m0 1v1m0 1v1m0 11v1m0 3v4m0 4v2m0 3v1m0 10v1m0 1v1m0 4v1m0 17v2m0 3v2m0 7v2m0 16v1m0 2v1m0 2v1m0 2v1m0 1v2m0 10v1m0 1v4m0 1v2m0 1v3m0 2v2m0 1v1m0 6v4m0 1v1m0 1v1m0 11v3m0 1v1m0 4v2m0 2v2m0 2v1m0 10v1m0 1v4m0 2v3m0 1v2m0 9v2m0 2v2m0 1v1m0 6v1m0 8v3m0 2v1m0 1v4m0 2v2m0 1v2m0 4v1m0 1v1m0 1v2m0 1v3m0 1v2m0 2v1m0 1v3m0 2v1m0 3v4m0 2v1m0 1v1m0 5v2m0 3v1m0 3v4m0 2v1m0 1v1m0 17v1m0 1v2m0 7v3m0 1v4m0 2v1m0 1v1m0 2v1m0 1v1m0 2v2m0 1v3m0 2v2m0 1v1m0 1v2m0 2v1m0 1v3m0 1v2m0 1v1m0 7v1m0 1v6m0 2v1m0 13v2m0 1v2m0 5v2m0 1v1m0 17v6m0 1v5m0 5v1m0 1v2m0 2v1m0 1v3m0 1v2m0 5v1m0 1v1m0 1v1"/>
<path class="c6" d="M554.5 124v1m0 15v1m0 49v2m0 18v1m0 14v1m0 6v1m0 18v1m0 8v1m0 2v2m0 2v1m0 30v1m0 1v2m0 18v1m0 9v1m0 14v1m0 54v1m0 4v1m0 36v2m0 21v1m0 72v1m0 19v1m0 9v1m0 5v1m0 3v1m0 1v1m0 3v5m0 1v4m0 1v1m0 1v1m0 1v1m0 2v6m0 2v1m0 3v1m0 1v1m0 106v1m0 96v1m0 16v1m0 1v1m0 11v1m0 18v1m0 54v1m0 3v1m0 27v1m0 164v1m0 33v2m0 1v1m0 38v1m0 54v2m0 41v2m0 6v2m0 15v1m0 6v1m0 2v1m0 13v1m0 58v1m0 22v2m0 27v1m0 59v1m0 14v1"/>
<path class="c7" d="M554.5 184v1m0 4v1m0 41v1m0 170v1m0 193v1m0 1v1m0 1v2m0 6v2m0 1v3m0 1v1m0 1v1m0 3v5m0 1v1m0 3v1m0 48v1m0 8v1m0 656v1m0 137v1m0 2v2"/>
<path class="c8" d="M554.5 185v1m0 44v1m0 387v3m0 5v1m0 1v1m0 1v1m0 1v2m0 3v1m0 33v1m0 5v1m0 1v1m0 1v1m0 245v2"/>
<path class="c11" d="M554.5 186v1m0 42v1m0 429v2m0 1v1m0 823v1"/>
<path class="c12" d="M554.5 187v1m0 455v1m0 17v1"/>
<path class="c9" d="M554.5 188v1m0 215v1m0 224v1m0 5v2m0 1v3m0 26v1m0 2v1m0 1v1m0 2v1m0 2v1"/>
<path class="c10" d="M554.5 226v1m0 176v1m0 230v1m0 6v2m0 20v4m0 1v2m0 3v2m0 1v1m0 808v1"/>
<path class="c13" d="M554.5 227v1m0 430v1"/>
<path class="c14" d="M554.5 228v1m0 415v1m0 12v1"/>
<path class="c2" d="M554.5 480v1m0 211v1m0 63v1m0 47v1m0 53v1m0 47v1m0 199v1m0 2v3m0 357v1m0 32v1m0 1v1"/>
<path class="c16" d="M554.5 645v1"/>
<path class="c19" d="M554.5 646v1m0 8v1"/>
<path class="c23" d="M554.5 647v1"/>
<path class="c26" d="M554.5 648v1"/>
<path class="c29" d="M554.5 649v1"/>
<path class="c30" d="M554.5 650v1"/>
<path class="c31" d="M554.5 651v1"/>
<path class="c28" d="M554.5 652v1"/>
<path class="c27" d="M554.5 653v1"/>
<path class="c24" d="M554.5 654v1"/>
<path class="c18" d="M554.5 656v1"/>
<path class="c40" d="M554.5 682v1"/>
<path class="c48" d="M554.5 683v1"/>
<path class="c50" d="M554.5 684v1"/>
<path class="c49" d="M554.5 685v1"/>
<path class="c41" d="M554.5 686v2"/>
<path class="c25" d="M554.5 688v1"/>
</g>
<g stroke-width="3">
<path class="c4" d="M557.5 118v1m0 2v1m0 1v2m0 2v9m0 4v1m0 2v1m0 6v5m0 2v2m0 1v2m0 4v4m0 1v1m0 1v1m0 1v6m0 14v1m0 2v1m0 1v3m0 2v2m0 1v2m0 1v1m0 2v3m0 1v3m0 2v2m0 6v3m0 1v1m0 1v1m0 2v1m0 1v5m0 2v2m0 1v1m0 16v1m0 1v2m0 3v3m0 2v2m0 2v1m0 1v1m0 2v1m0 6v1m0 1v2m0 2v2m0 9v3m0 1v1m0 2v3m0 1v5m0 5v1m0 1v1m0 2v2m0 11v2m0 1v1m0 1v2m0 6v2m0 2v3m0 2v1m0 3v4m0 4v2m0 1v2m0 3v1m0 2v2m0 6v2m0 4v3m0 2v7m0 1v5m0 3v1m0 1v3m0 2v1m0 7v1m0 1v1m0 1v2m0 2v1m0 1v1m0 1v2m0 2v1m0 7v3m0 1v2m0 4v4m0 3v2m0 2v2m0 2v1m0 8v1m0 1v4m0 5v1m0 1v4m0 1v1m0 5v1m0 1v2m0 1v1m0 1v1m0 1v2m0 1v1m0 4v3m0 1v1m0 2v1m0 1v2m0 7v1m0 1v1m0 1v1m0 2v1m0 117v1m0 4v5m0 1v3m0 2v1m0 2v2m0 2v1m0 2v2m0 1v2m0 3v2m0 1v3m0 1v1m0 5v3m0 1v2m0 3v1m0 1v2m0 1v1m0 2v2m0 1v2m0 6v1m0 1v2m0 3v1m0 4v3m0 3v1m0 5v4m0 6v1m0 5v3m0 1v3m0 1v1m0 3v3m0 3v1m0 2v1m0 1v2m0 4v4m0 4v1m0 2v3m0 1v1m0 2v1m0 4v1m0 5v2m0 1v1m0 4v1m0 1v1m0 1v1m0 1v2m0 1v1m0 1v1m0 1v8m0 2v1m0 7v2m0 1v1m0 1v1m0 1v5m0 1v1m0 1v1m0 1v2m0 12v1m0 3v1m0 1v1m0 1v1m0 2v1m0 1v2m0 3v1m0 1v1m0 1v2m0 1v3m0 2v1m0 1v5m0 2v1m0 6v6m0 4v4m0 1v1m0 2v1m0 1v2m0 1v2m0 3v1m0 7v3m0 5v2m0 1v8m0 1v4m0 1v3m0 2v4m0 8v1m0 2v7m0 1v1m0 1v2m0 2v2m0 2v3m0 1v3m0 12v1m0 1v1m0 1v1m0 1v2m0 1v1m0 1v1m0 7v1m0 2v1m0 1v1m0 4v5m0 1v1m0 3v3m0 1v4m0 3v2m0 1v3m0 1v2m0 2v1m0 1v8m0 1v2m0 1v2m0 1v1m0 1v3m0 10v1m0 3v1m0 2v1m0 1v1m0 4v1m0 2v1m0 2v1m0 1v3m0 1v1m0 2v2m0 3v4m0 2v1m0 1v2m0 1v3m0 5v1m0 1v1m0 1v1m0 1v1m0 1v3m0 1v1m0 3v1m0 1v1m0 4v4m0 2v1m0 1v4m0 2v1m0 1v2m0 2v1m0 1v1m0 4v3m0 2v1m0 3v3m0 2v1m0 2v1m0 2v2m0 1v1m0 1v1m0 1v1m0 1v1m0 1v1m0 1v1m0 5v1m0 2v5m0 2v4m0 3v1m0 5v1m0 1v6m0 2v2m0 1v1m0 1v2m0 1v2m0 1v1m0 3v2m0 1v1m0 3v1m0 1v2m0 1v2m0 7v1m0 2v1m0 2v1m0 1v2m0 3v3m0 1v1m0 2v1m0 4v1m0 3v4m0 1v1m0 1v1m0 2v3m0 2v1m0 3v2m0 2v1m0 1v1m0 3v1m0 3v1m0 1v1m0 1v4m0 7v2m0 1v2m0 6v1m0 1v1m0 4v1m0 1v2m0 9v5m0 2v3m0 2v2m0 1v1m0 1v1m0 5v1m0 1v1m0 1v1m0 2v2m0 3v1m0 1v1m0 3v1m0 1v1"/>
<path class="c3" d="M557.5 119v2m0 1v1m0 2v2m0 12v1m0 1v1m0 13v2m0 2v1m0 2v1m0 11v1m0 24v1m0 3v1m0 8v1m0 4v1m0 3v1m0 14v1m0 2v1m0 8v1m0 21v1m0 13v1m0 1v1m0 1v2m0 1v5m0 9v6m0 1v2m0 41v1m0 17v2m0 8v4m0 2v1m0 4v1m0 1v2m0 36v1m0 19v2m0 3v1m0 2v1m0 15v4m0 5v2m0 2v2m0 9v2m0 8v2m0 1v2m0 1v1m0 4v1m0 1v3m0 17v2m0 3v1m0 8v1m0 133v2m0 5v1m0 3v2m0 2v1m0 3v1m0 1v2m0 10v1m0 23v1m0 1v2m0 2v1m0 9v1m0 2v3m0 2v2m0 4v3m0 18v1m0 6v1m0 5v3m0 5v1m0 15v1m0 4v2m0 8v2m0 3v1m0 6v1m0 1v4m0 1v1m0 3v1m0 15v2m0 1v4m0 1v1m0 3v1m0 1v1m0 9v1m0 1v1m0 11v3m0 1v3m0 3v1m0 7v2m0 2v1m0 1v1m0 21v3m0 8v2m0 4v1m0 1v2m0 1v1m0 2v1m0 2v3m0 1v7m0 3v4m0 3v1m0 13v1m0 18v1m0 10v1m0 2v2m0 2v2m0 3v1m0 3v5m0 2v1m0 1v3m0 1v1m0 1v1m0 8v7m0 1v2m0 4v2m0 6v1m0 7v1m0 13v1m0 14v1m0 2v1m0 2v1m0 1v1m0 3v4m0 1v5m0 2v1m0 13v1m0 1v1m0 6v1m0 2v1m0 3v1m0 8v1m0 2v1m0 3v5m0 5v1m0 16v1m0 12v2m0 19v1m0 6v1m0 1v2m0 1v1m0 13v1m0 14v1m0 10v4m0 8v2m0 4v1m0 5v1m0 1v1m0 1v1m0 2v1m0 11v7m0 1v2m0 1v1m0 11v1m0 1v2m0 1v3m0 14v1m0 3v1m0 2v3m0 15v1m0 1v1m0 30v1m0 2v3m0 1v1m0 28v1m0 1v1m0 2v1m0 2v3m0 1v1m0 1v1m0 1v1m0 1v1m0 1v1"/>
<path class="c5" d="M557.5 136v3m0 3v1m0 1v1m0 1v4m0 13v3m0 4v1m0 1v1m0 8v2m0 9v1m0 3v2m0 6v1m0 2v1m0 5v1m0 8v1m0 15v1m0 2v1m0 5v1m0 3v1m0 1v1m0 2v2m0 1v4m0 2v1m0 1v2m0 4v3m0 3v1m0 3v1m0 12v1m0 1v1m0 2v2m0 14v1m0 1v2m0 3v1m0 6v4m0 1v1m0 2v1m0 2v3m0 1v2m0 1v4m0 4v1m0 2v1m0 1v4m0 2v2m0 6v3m0 13v2m0 6v1m0 8v1m0 1v1m0 3v2m0 7v1m0 5v3m0 5v2m0 1v1m0 3v3m0 1v1m0 7v1m0 5v1m0 1v4m0 1v2m0 3v1m0 10v1m0 8v2m0 1v4m0 2v2m0 1v1m0 6v1m0 13v2m0 4v1m0 1v1m0 1v1m0 2v1m0 1v2m0 7v2m0 4v1m0 1v2m0 4v1m0 3v2m0 1v1m0 1v1m0 2v2m0 1v3m0 1v1m0 1v1m0 28v2m0 4v2m0 1v1m0 81v1m0 3v1m0 6v1m0 2v3m0 6v1m0 1v2m0 1v2m0 3v1m0 4v1m0 1v1m0 11v6m0 8v1m0 10v3m0 1v1m0 4v6m0 1v1m0 1v2m0 8v1m0 8v1m0 5v1m0 2v4m0 5v3m0 6v1m0 1v2m0 3v2m0 2v4m0 16v1m0 1v1m0 1v1m0 24v1m0 5v1m0 6v3m0 5v1m0 8v1m0 3v2m0 1v1m0 4v1m0 6v1m0 3v2m0 1v1m0 5v2m0 1v3m0 10v1m0 35v1m0 11v1m0 8v2m0 4v6m0 1v1m0 2v1m0 7v1m0 34v1m0 2v1m0 1v1m0 12v1m0 1v1m0 2v1m0 7v3m0 8v3m0 2v1m0 7v1m0 1v1m0 31v1m0 1v1m0 1v2m0 3v1m0 1v2m0 1v1m0 3v1m0 1v1m0 5v1m0 3v1m0 1v1m0 4v2m0 14v1m0 1v1m0 3v1m0 3v1m0 1v3m0 1v1m0 1v3m0 5v1m0 2v1m0 7v1m0 2v2m0 3v4m0 3v2m0 2v2m0 3v1m0 6v1m0 2v1m0 1v1m0 1v1m0 1v1m0 1v1m0 3v1m0 1v1m0 1v1m0 1v2m0 6v1m0 4v3m0 1v1m0 5v1m0 10v1m0 4v1m0 11v3m0 1v1m0 17v1m0 1v1m0 2v3m0 11v1m0 1v2m0 5v1m0 1v1m0 1v1m0 5v1m0 6v2m0 1v1m0 1v3m0 1v1m0 1v1m0 8v2m0 1v2m0 1v1m0 2v1m0 2v1m0 6v1m0 1v4m0 7v1m0 1v4m0 5v2m0 3v2m0 2v1m0 1v1m0 1v2m0 8v1m0 10v1"/>
<path class="c6" d="M557.5 145v1m0 37v1m0 6v2m0 1v2m0 15v1m0 14v1m0 4v1m0 23v2m0 2v1m0 4v2m0 1v1m0 13v1m0 49v1m0 7v1m0 6v1m0 2v1m0 12v1m0 39v1m0 3v1m0 2v1m0 1v1m0 31v3m0 24v1m0 61v1m0 23v1m0 6v3m0 3v1m0 5v1m0 1v2m0 2v1m0 3v1m0 1v1m0 1v4m0 1v7m0 2v1m0 1v1m0 1v2m0 2v1m0 2v3m0 2v1m0 2v1m0 2v1m0 109v1m0 8v2m0 42v1m0 32v1m0 3v2m0 98v1m0 1v1m0 58v1m0 69v1m0 100v1m0 41v1m0 2v1m0 69v1m0 15v1m0 40v1m0 1v1m0 98v1m0 31v1m0 11v1m0 2v1m0 11v1m0 40v3"/>
<path class="c7" d="M557.5 184v1m0 217v1m0 189v1m0 7v2m0 1v1m0 1v1m0 2v2m0 1v2m0 6v2m0 5v2m0 3v3m0 1v1m0 1v2m0 36v7m0 7v1m0 235v1m0 2v1m0 555v1m0 2v1"/>
<path class="c8" d="M557.5 185v1m0 218v1m0 223v2m0 4v1m0 1v1m0 2v1m0 27v8m0 252v1"/>
<path class="c10" d="M557.5 186v1m0 1v1m0 40v1m0 412v1m0 16v4m0 822v1"/>
<path class="c11" d="M557.5 187v1m0 38v1m0 1259v1"/>
<path class="c9" d="M557.5 189v1m0 213v1m0 226v1m0 9v2m0 21v4"/>
<path class="c13" d="M557.5 227v1m0 430v1"/>
<path class="c14" d="M557.5 228v1"/>
<path class="c2" d="M557.5 234v1m0 76v1m0 139v1m0 239v2m0 83v1m0 27v1m0 69v1m0 24v1m0 1v1m0 188v2m0 1v1m0 90v1m0 193v1m0 12v1"/>
<path class="c12" d="M557.5 643v1"/>
<path class="c15" d="M557.5 644v1m0 12v1"/>
<path class="c16" d="M557.5 645v1"/>
<path class="c20" d="M557.5 646v1"/>
<path class="c26" d="M557.5 647v1m0 6v1"/>
<path class="c31" d="M557.5 648v1m0 4v1"/>
<path class="c34" d="M557.5 649v1"/>
<path class="c36" d="M557.5 650v1m0 31v1"/>
<path class="c35" d="M557.5 651v1"/>
<path class="c33" d="M557.5 652v1"/>
<path class="c22" d="M557.5 655v1"/>
<path class="c19" d="M557.5 656v1"/>
<path class="c46" d="M557.5 683v1m0 2v1"/>
<path class="c49" d="M557.5 684v1"/>
<path class="c50" d="M557.5 685v1"/>
<path class="c41" d="M557.5 687v1"/>
<path class="c21" d="M557.5 688v1"/>
</g>
<g stroke-width="3">
<path class="c4" d="M560.5 118v3m0 1v2m0 1v2m0 1v1m0 5v1m0 1v1m0 2v3m0 2v3m0 1v2m0 1v2m0 1v1m0 3v3m0 1v1m0 3v2m0 2v1m0 7v4m0 10v2m0 1v5m0 1v2m0 2v4m0 3v1m0 1v6m0 1v4m0 6v1m0 8v3m0 2v1m0 3v2m0 1v1m0 7v3m0 1v2m0 1v3m0 1v4m0 1v2m0 1v6m0 1v1m0 5v1m0 3v5m0 4v3m0 4v3m0 2v1m0 1v5m0 1v5m0 1v3m0 3v1m0 1v3m0 2v1m0 1v2m0 3v1m0 2v1m0 1v1m0 1v5m0 2v8m0 8v1m0 1v2m0 1v1m0 2v2m0 1v8m0 7v4m0 4v2m0 1v1m0 1v3m0 1v1m0 6v6m0 1v2m0 1v2m0 1v1m0 7v2m0 2v3m0 2v1m0 1v5m0 1v2m0 5v1m0 2v3m0 1v3m0 1v1m0 1v3m0 3v2m0 1v1m0 2v2m0 4v5m0 2v1m0 2v1m0 1v2m0 2v2m0 1v2m0 2v1m0 3v2m0 5v3m0 1v1m0 1v3m0 3v1m0 1v1m0 3v2m0 2v2m0 4v1m0 1v2m0 2v1m0 3v1m0 1v1m0 1v2m0 5v1m0 13v2m0 84v1m0 3v1m0 1v3m0 1v1m0 1v1m0 8v1m0 1v2m0 5v3m0 4v2m0 2v1m0 1v1m0 9v3m0 1v1m0 2v2m0 3v1m0 1v1m0 1v6m0 2v4m0 4v1m0 2v4m0 3v2m0 1v2m0 1v4m0 2v1m0 3v1m0 3v1m0 1v1m0 1v4m0 4v2m0 3v1m0 1v1m0 4v1m0 1v1m0 5v2m0 2v2m0 3v4m0 1v4m0 1v2m0 2v3m0 3v1m0 2v2m0 4v2m0 1v2m0 1v1m0 1v1m0 2v3m0 1v3m0 1v7m0 1v1m0 2v1m0 2v1m0 1v1m0 1v3m0 2v3m0 1v1m0 9v6m0 1v1m0 1v2m0 1v1m0 5v3m0 5v2m0 2v3m0 1v2m0 1v7m0 3v9m0 3v5m0 1v1m0 1v1m0 1v1m0 5v2m0 2v1m0 1v2m0 2v1m0 6v3m0 7v3m0 2v2m0 1v3m0 1v3m0 3v1m0 2v3m0 1v4m0 2v1m0 2v2m0 1v1m0 1v3m0 3v1m0 3v2m0 1v3m0 3v1m0 3v3m0 1v1m0 7v4m0 1v3m0 7v2m0 1v5m0 1v1m0 5v2m0 3v1m0 1v2m0 1v2m0 2v2m0 1v1m0 2v2m0 3v1m0 1v3m0 2v5m0 6v1m0 3v2m0 1v1m0 1v1m0 1v2m0 1v1m0 2v1m0 2v1m0 2v1m0 1v1m0 1v1m0 2v1m0 2v1m0 2v2m0 2v1m0 2v2m0 5v1m0 3v1m0 2v1m0 2v1m0 3v3m0 4v3m0 2v5m0 1v1m0 3v2m0 1v1m0 2v2m0 2v1m0 1v2m0 1v5m0 5v1m0 1v5m0 1v1m0 3v2m0 3v1m0 1v2m0 1v1m0 1v1m0 1v4m0 1v4m0 3v1m0 2v6m0 3v1m0 2v2m0 1v1m0 1v1m0 1v1m0 1v4m0 1v1m0 2v4m0 1v1m0 2v1m0 2v2m0 1v1m0 2v2m0 1v4m0 1v5m0 1v4m0 3v1m0 6v4m0 1v1m0 1v1m0 2v1m0 1v1m0 1v1m0 1v2m0 3v1m0 3v2m0 1v2m0 4v3m0 1v3m0 3v2m0 2v5m0 2v1m0 3v4m0 1v5m0 1v3m0 13v1m0 1v3m0 1v5m0 1v8m0 2v1m0 2v2m0 1v4m0 5v1m0 2v1m0 1v1m0 4v3m0 1v2m0 1v3m0 1v1m0 1v1"/>
<path class="c5" d="M560.5 121v1m0 2v1m0 2v1m0 7v1m0 1v2m0 3v1m0 10v1m0 7v1m0 1v3m0 16v2m0 7v1m0 2v1m0 5v1m0 3v1m0 5v2m0 1v1m0 6v1m0 4v1m0 4v1m0 4v1m0 2v1m0 4v2m0 8v1m0 1v5m0 3v1m0 2v1m0 8v1m0 9v1m0 15v3m0 20v1m0 5v1m0 3v3m0 1v1m0 3v2m0 1v1m0 2v3m0 1v2m0 3v1m0 18v5m0 1v1m0 2v1m0 1v2m0 11v2m0 4v1m0 10v1m0 1v1m0 3v1m0 13v1m0 5v1m0 24v1m0 8v1m0 4v1m0 3v1m0 16v3m0 15v2m0 5v2m0 1v1m0 12v1m0 12v1m0 3v2m0 2v4m0 1v1m0 2v2m0 5v1m0 1v1m0 2v5m0 1v7m0 1v1m0 3v1m0 2v5m0 2v6m0 70v1m0 5v1m0 3v1m0 23v1m0 5v2m0 1v1m0 1v1m0 13v2m0 4v1m0 10v1m0 6v3m0 2v1m0 9v1m0 10v3m0 1v2m0 2v1m0 13v2m0 1v1m0 1v4m0 11v1m0 18v1m0 29v1m0 33v1m0 5v2m0 11v1m0 21v1m0 32v1m0 24v1m0 17v1m0 3v1m0 12v1m0 4v2m0 7v1m0 12v1m0 45v1m0 15v1m0 2v1m0 6v1m0 2v1m0 1v1m0 1v1m0 15v1m0 2v2m0 6v1m0 2v1m0 1v2m0 1v1m0 20v1m0 13v1m0 1v2m0 10v1m0 1v2m0 12v1m0 4v1m0 1v2m0 2v2m0 1v1m0 14v1m0 5v1m0 1v3m0 2v3m0 4v1m0 8v1m0 4v1m0 4v1m0 14v1m0 3v1m0 8v2m0 4v1m0 1v1m0 2v1m0 5v2m0 18v3m0 1v5m0 16v1m0 3v1m0 2v1m0 1v1m0 16v1m0 1v1m0 2v1m0 27v1m0 9v2m0 11v1m0 11v2m0 2v1m0 10v1m0 2v1m0 3v1"/>
<path class="c3" d="M560.5 129v5m0 9v1m0 3v1m0 2v1m0 4v1m0 1v1m0 10v2m0 1v7m0 25v1m0 5v1m0 22v3m0 1v2m0 1v1m0 6v2m0 22v1m0 7v1m0 8v2m0 1v2m0 1v1m0 14v4m0 3v2m0 1v1m0 36v1m0 7v2m0 8v3m0 15v1m0 19v4m0 10v1m0 2v3m0 9v1m0 4v7m0 2v2m0 3v2m0 1v1m0 8v5m0 2v1m0 9v1m0 3v3m0 2v1m0 1v2m0 5v1m0 5v2m0 1v2m0 1v1m0 6v1m0 6v2m0 5v2m0 5v1m0 3v2m0 2v1m0 1v1m0 135v2m0 7v1m0 1v2m0 1v2m0 1v2m0 1v1m0 3v4m0 4v3m0 8v8m0 3v1m0 5v2m0 4v1m0 7v1m0 4v1m0 4v1m0 5v3m0 5v1m0 4v2m0 7v1m0 3v1m0 4v4m0 2v1m0 10v1m0 1v5m0 6v3m0 4v1m0 7v1m0 4v3m0 1v2m0 2v4m0 2v1m0 2v1m0 1v1m0 1v2m0 7v1m0 7v1m0 1v2m0 4v1m0 1v1m0 4v1m0 3v1m0 1v1m0 14v1m0 1v1m0 4v5m0 3v5m0 2v2m0 6v1m0 7v3m0 9v3m0 5v1m0 3v1m0 2v4m0 2v2m0 1v1m0 2v2m0 1v1m0 1v3m0 4v7m0 3v2m0 10v3m0 1v2m0 11v2m0 2v1m0 5v3m0 1v3m0 6v2m0 2v3m0 3v1m0 1v1m0 1v4m0 5v1m0 3v3m0 1v3m0 2v1m0 7v5m0 2v3m0 1v1m0 6v1m0 2v1m0 1v1m0 4v1m0 6v2m0 5v2m0 1v2m0 2v1m0 4v1m0 1v1m0 10v1m0 1v2m0 1v1m0 1v1m0 1v2m0 1v2m0 1v2m0 2v1m0 2v1m0 3v5m0 1v1m0 6v2m0 2v2m0 4v1m0 5v2m0 5v1m0 2v2m0 14v1m0 5v5m0 18v1m0 4v1m0 1v1m0 21v1m0 1v1m0 1v2m0 4v1m0 3v1m0 4v1m0 10v1m0 2v1m0 2v1m0 5v1m0 4v1m0 5v1m0 13v1m0 4v1m0 1v1m0 1v2m0 1v1m0 1v1m0 4v1m0 1v1m0 6v1m0 2v3m0 4v1m0 4v1m0 4v1m0 5v2m0 1v3m0 4v1m0 5v1m0 3v1m0 1v3m0 5v1m0 3v1m0 3v1m0 14v2m0 10v5m0 6v2m0 1v1m0 3v1m0 2v1m0 5v1m0 1v1"/>
<path class="c2" d="M560.5 156v1m0 91v1m0 40v1m0 4v2m0 131v1m0 124v1m0 138v1m0 13v1m0 2v1m0 6v1m0 40v1m0 149v2m0 7v1m0 85v1m0 16v1m0 71v1m0 10v1m0 4v1m0 11v1m0 57v1m0 45v1m0 18v1m0 97v1m0 99v1m0 109v1"/>
<path class="c6" d="M560.5 184v1m0 5v1m0 60v1m0 2v1m0 49v1m0 97v1m0 2v1m0 130v3m0 19v1m0 17v3m0 19v1m0 1v3m0 8v2m0 6v1m0 1v2m0 1v5m0 48v1m0 1v3m0 157v1m0 15v1m0 68v3m0 305v1m0 94v2m0 1v1m0 98v1m0 54v1m0 3v1m0 42v1"/>
<path class="c8" d="M560.5 185v1m0 2v2m0 213v2m0 225v1m0 5v3m0 25v1m0 1v2m0 2v2m0 2v1m0 1v1m0 250v1"/>
<path class="c10" d="M560.5 186v1m0 39v1m0 415v1m0 16v1m0 1v1m0 3v1m0 820v1"/>
<path class="c11" d="M560.5 187v1"/>
<path class="c13" d="M560.5 227v1m0 430v1"/>
<path class="c14" d="M560.5 228v1m0 428v1"/>
<path class="c9" d="M560.5 229v1m0 404v1m0 4v3m0 18v1m0 1v2m0 4v2m0 2v2m0 811v1"/>
<path class="c1" d="M560.5 426v1"/>
<path class="c7" d="M560.5 620v1m0 2v1m0 5v1m0 1v3m0 1v1m0 39v1m0 2v1m0 249v1m0 558v1"/>
<path class="c12" d="M560.5 643v1"/>
<path class="c15" d="M560.5 644v1"/>
<path class="c18" d="M560.5 645v1m0 10v1"/>
<path class="c23" d="M560.5 646v1"/>
<path class="c29" d="M560.5 647v1"/>
<path class="c35" d="M560.5 648v1"/>
<path class="c39" d="M560.5 649v1"/>
<path class="c42" d="M560.5 650v1"/>
<path class="c41" d="M560.5 651v1"/>
<path class="c37" d="M560.5 652v1"/>
<path class="c34" d="M560.5 653v1"/>
<path class="c28" d="M560.5 654v1"/>
<path class="c22" d="M560.5 655v1"/>
<path class="c38" d="M560.5 682v1"/>
<path class="c44" d="M560.5 683v1"/>
<path class="c48" d="M560.5 684v2"/>
<path class="c47" d="M560.5 686v1"/>
<path class="c33" d="M560.5 687v1"/>
<path class="c20" d="M560.5 688v1"/>
</g>
<g stroke-width="3">
<path class="c4" d="M563.5 118v1m0 2v1m0 2v1m0 2v3m0 2v3m0 5v1m0 1v3m0 2v1m0 2v4m0 1v1m0 1v2m0 1v2m0 1v1m0 1v2m0 2v4m0 1v1m0 2v1m0 1v1m0 2v1m0 9v1m0 3v1m0 1v1m0 1v2m0 3v3m0 1v1m0 1v1m0 3v1m0 1v2m0 2v2m0 8v3m0 3v1m0 1v2m0 4v1m0 1v1m0 1v2m0 1v1m0 2v3m0 1v1m0 4v2m0 1v3m0 1v6m0 3v2m0 1v1m0 1v1m0 1v2m0 1v1m0 5v1m0 1v8m0 2v2m0 1v4m0 3v2m0 2v3m0 1v1m0 1v2m0 2v2m0 2v2m0 1v2m0 2v2m0 4v1m0 2v3m0 1v1m0 2v2m0 1v4m0 1v2m0 1v3m0 2v1m0 2v5m0 2v1m0 6v2m0 2v1m0 2v1m0 6v2m0 1v1m0 1v1m0 2v4m0 1v1m0 1v2m0 2v4m0 2v4m0 2v1m0 1v5m0 1v3m0 6v2m0 2v1m0 1v2m0 4v2m0 1v1m0 4v1m0 2v2m0 1v3m0 1v4m0 2v11m0 1v2m0 2v1m0 2v6m0 7v3m0 1v1m0 2v2m0 1v5m0 2v3m0 3v3m0 1v2m0 3v1m0 1v2m0 1v4m0 4v1m0 1v2m0 2v1m0 1v1m0 3v1m0 1v3m0 2v2m0 4v2m0 13v3m0 4v1m0 75v2m0 2v3m0 2v1m0 1v4m0 1v1m0 3v2m0 1v2m0 2v1m0 1v6m0 6v1m0 2v1m0 2v1m0 9v1m0 3v1m0 2v1m0 1v1m0 3v2m0 1v9m0 3v4m0 6v5m0 2v2m0 7v1m0 3v2m0 10v3m0 1v1m0 1v6m0 1v2m0 1v4m0 4v1m0 8v1m0 1v6m0 3v2m0 5v3m0 4v1m0 2v3m0 1v5m0 1v1m0 1v1m0 1v1m0 1v5m0 1v1m0 2v1m0 1v1m0 2v1m0 3v1m0 4v1m0 1v1m0 1v3m0 2v1m0 3v1m0 3v2m0 1v1m0 2v1m0 9v2m0 1v1m0 2v2m0 5v4m0 3v1m0 3v1m0 3v2m0 1v4m0 2v2m0 2v1m0 6v6m0 1v2m0 3v1m0 2v3m0 1v8m0 1v1m0 2v7m0 3v4m0 4v1m0 2v2m0 2v1m0 3v1m0 1v3m0 1v3m0 1v1m0 1v2m0 6v1m0 3v1m0 1v2m0 1v1m0 1v1m0 1v2m0 2v1m0 7v3m0 8v4m0 1v2m0 2v2m0 1v3m0 1v1m0 1v5m0 2v3m0 1v3m0 4v1m0 3v2m0 1v2m0 1v2m0 2v4m0 1v5m0 1v1m0 2v2m0 2v6m0 2v2m0 1v1m0 7v1m0 2v2m0 1v7m0 1v3m0 1v3m0 2v1m0 3v2m0 2v1m0 2v3m0 6v4m0 2v1m0 3v2m0 1v2m0 1v1m0 2v1m0 4v2m0 4v1m0 1v8m0 1v1m0 3v2m0 1v4m0 5v1m0 3v4m0 3v2m0 3v2m0 5v2m0 3v3m0 1v5m0 8v3m0 2v1m0 2v4m0 14v1m0 1v1m0 1v1m0 5v3m0 8v2m0 3v2m0 1v2m0 1v1m0 1v2m0 1v1m0 1v4m0 1v1m0 1v1m0 3v2m0 1v1m0 1v3m0 1v8m0 1v3m0 1v2m0 2v2m0 2v1m0 1v2m0 2v1m0 2v1m0 3v2m0 1v1m0 2v1m0 1v1m0 1v3m0 2v1m0 1v2m0 7v3m0 7v3m0 1v10m0 2v3m0 2v1m0 3v3m0 1v1m0 1v2m0 3v1m0 1v1m0 3v1m0 4v1m0 1v1"/>
<path class="c3" d="M563.5 119v1m0 2v2m0 1v2m0 14v1m0 12v1m0 1v1m0 2v1m0 2v1m0 1v1m0 2v2m0 4v1m0 1v2m0 3v2m0 13v1m0 1v1m0 1v1m0 2v2m0 8v3m0 4v2m0 2v2m0 9v1m0 11v1m0 1v1m0 12v1m0 8v1m0 6v3m0 2v1m0 1v1m0 1v1m0 4v4m0 2v1m0 8v2m0 2v1m0 4v2m0 4v1m0 3v1m0 1v1m0 3v1m0 3v1m0 19v1m0 2v1m0 10v1m0 3v2m0 8v2m0 1v3m0 1v2m0 2v2m0 1v2m0 13v2m0 6v1m0 8v1m0 5v2m0 12v2m0 1v2m0 2v1m0 2v1m0 2v3m0 5v4m0 2v1m0 2v1m0 3v1m0 4v1m0 26v4m0 6v1m0 1v1m0 20v1m0 22v2m0 119v2m0 3v2m0 1v1m0 4v1m0 2v2m0 2v1m0 3v1m0 9v5m0 1v2m0 2v1m0 1v1m0 1v3m0 1v3m0 1v2m0 2v2m0 18v3m0 4v6m0 5v2m0 3v6m0 3v1m0 2v3m0 1v2m0 1v3m0 5v1m0 6v1m0 2v1m0 9v1m0 4v3m0 8v1m0 4v5m0 3v3m0 2v2m0 9v1m0 5v1m0 5v1m0 1v1m0 2v1m0 1v2m0 1v3m0 1v2m0 3v1m0 1v1m0 10v3m0 7v9m0 2v1m0 5v2m0 1v1m0 7v1m0 1v2m0 2v3m0 2v1m0 8v2m0 1v5m0 7v1m0 2v3m0 1v2m0 12v1m0 1v2m0 7v3m0 4v4m0 2v1m0 2v1m0 16v1m0 2v6m0 1v3m0 1v1m0 2v1m0 1v1m0 1v1m0 2v2m0 1v5m0 1v1m0 4v4m0 1v2m0 4v1m0 2v1m0 3v1m0 3v1m0 1v1m0 14v4m0 3v1m0 14v1m0 5v1m0 1v1m0 3v2m0 6v1m0 3v1m0 1v1m0 4v2m0 1v2m0 2v1m0 7v1m0 7v1m0 2v3m0 2v1m0 2v1m0 4v4m0 1v1m0 5v1m0 1v3m0 5v1m0 1v1m0 2v1m0 1v2m0 7v1m0 10v1m0 1v1m0 2v1m0 7v1m0 2v3m0 4v3m0 2v3m0 15v1m0 5v8m0 6v2m0 7v2m0 1v4m0 1v3m0 1v1m0 1v1m0 1v1m0 1v3m0 3v6m0 1v1m0 10v1m0 1v1m0 4v1m0 4v1m0 1v1m0 1v2m0 3v1m0 1v1m0 12v1m0 3v1m0 2v2m0 2v2m0 1v1m0 5v2m0 6v1m0 1v2m0 1v1m0 1v1m0 3v2m0 1v1m0 7v1m0 7v2m0 1v1m0 22v3m0 8v3m0 1v1m0 3v1m0 1v3m0 5v2"/>
<path class="c2" d="M563.5 120v1m0 168v1m0 5v1m0 54v2m0 37v1m0 40v1m0 17v1m0 2v1m0 263v1m0 9v1m0 9v1m0 3v1m0 10v1m0 59v1m0 2v1m0 29v4m0 27v1m0 40v2m0 43v1m0 6v2m0 79v1m0 52v1m0 4v1m0 4v1m0 77v1m0 28v1m0 12v1m0 2v1m0 7v1m0 22v1m0 97v1m0 4v1m0 9v1m0 12v1m0 112v1m0 42v1m0 1v1m0 1v1"/>
<path class="c5" d="M563.5 130v2m0 3v2m0 2v1m0 5v2m0 1v2m0 28v1m0 4v1m0 6v2m0 1v2m0 9v1m0 3v1m0 1v1m0 5v1m0 13v1m0 5v1m0 1v1m0 2v4m0 8v2m0 3v1m0 1v1m0 1v2m0 2v1m0 50v1m0 2v1m0 9v1m0 3v1m0 3v1m0 2v1m0 4v3m0 8v1m0 3v1m0 4v1m0 9v2m0 22v1m0 9v1m0 7v1m0 4v2m0 13v1m0 5v1m0 12v1m0 7v1m0 2v1m0 6v1m0 13v1m0 11v1m0 2v2m0 1v2m0 10v3m0 6v1m0 2v1m0 5v1m0 4v3m0 7v2m0 1v1m0 2v1m0 4v4m0 1v1m0 5v1m0 1v3m0 5v2m0 2v4m0 2v2m0 1v1m0 8v1m0 3v1m0 2v1m0 1v3m0 11v1m0 77v1m0 10v1m0 24v1m0 11v1m0 1v3m0 2v1m0 31v1m0 7v2m0 16v1m0 16v4m0 10v1m0 7v2m0 20v1m0 7v1m0 1v1m0 10v1m0 21v1m0 4v1m0 6v1m0 1v2m0 14v2m0 6v1m0 10v1m0 11v2m0 10v1m0 18v1m0 36v1m0 2v2m0 1v1m0 3v1m0 3v1m0 54v1m0 14v2m0 3v1m0 8v2m0 3v1m0 2v1m0 2v2m0 13v1m0 17v3m0 25v1m0 32v1m0 5v1m0 9v2m0 10v1m0 2v1m0 8v3m0 1v1m0 18v2m0 1v2m0 2v3m0 20v2m0 7v3m0 34v3m0 2v1m0 7v1m0 12v1m0 8v1m0 25v2m0 4v3m0 22v2m0 1v1m0 3v3m0 2v1m0 15v2m0 3v2m0 7v1m0 10v2"/>
<path class="c6" d="M563.5 137v2m0 45v1m0 40v1m0 9v1m0 15v1m0 90v1m0 2v1m0 55v1m0 3v1m0 2v1m0 129v1m0 12v1m0 28v1m0 15v1m0 1v2m0 1v5m0 5v2m0 5v1m0 1v4m0 1v1m0 1v2m0 1v4m0 1v1m0 2v1m0 40v1m0 1v1m0 243v1m0 2v1m0 126v1m0 142v1m0 71v2m0 49v1m0 162v1m0 46v1"/>
<path class="c8" d="M563.5 185v1m0 3v1m0 213v2m0 229v1m0 1v1m0 3v1m0 21v1m0 1v2m0 1v3m0 6v1m0 809v1"/>
<path class="c9" d="M563.5 186v1m0 1v1m0 40v1m0 412v1m0 16v3"/>
<path class="c10" d="M563.5 187v1m0 38v1"/>
<path class="c13" d="M563.5 227v2m0 429v1"/>
<path class="c7" d="M563.5 402v1m0 197v1m0 18v1m0 4v1m0 1v1m0 10v1m0 1v1m0 1v1m0 21v1m0 2v1m0 3v6m0 1v2m0 1v1m0 8v1m0 237v1m0 557v1"/>
<path class="c11" d="M563.5 643v1"/>
<path class="c14" d="M563.5 644v1m0 12v1"/>
<path class="c17" d="M563.5 645v1m0 42v1"/>
<path class="c23" d="M563.5 646v1m0 8v1"/>
<path class="c30" d="M563.5 647v1"/>
<path class="c37" d="M563.5 648v1"/>
<path class="c41" d="M563.5 649v1m0 35v1"/>
<path class="c44" d="M563.5 650v1"/>
<path class="c45" d="M563.5 651v1m0 32v1"/>
<path class="c40" d="M563.5 652v1"/>
<path class="c36" d="M563.5 653v1m0 33v1"/>
<path class="c29" d="M563.5 654v1"/>
<path class="c19" d="M563.5 656v1"/>
<path class="c31" d="M563.5 682v1"/>
<path class="c51" d="M563.5 683v1"/>
<path class="c42" d="M563.5 686v1"/>
<path class="c1" d="M563.5 1248v1"/>
</g>
<g stroke-width="3">
<path class="c3" d="M566.5 118v2m0 5v2m0 1v3m0 19v2m0 4v1m0 1v2m0 2v2m0 3v2m0 1v5m0 1v1m0 3v1m0 1v1m0 9v1m0 2v1m0 7v1m0 1v3m0 1v1m0 4v1m0 6v1m0 1v2m0 9v2m0 1v1m0 1v2m0 1v1m0 3v1m0 1v1m0 1v1m0 5v2m0 1v2m0 4v1m0 2v2m0 7v2m0 2v2m0 3v3m0 1v2m0 1v3m0 4v1m0 1v2m0 1v2m0 3v4m0 1v2m0 1v1m0 3v1m0 1v1m0 4v1m0 1v3m0 6v1m0 3v1m0 1v2m0 3v1m0 1v1m0 6v1m0 3v1m0 12v1m0 1v1m0 1v1m0 1v1m0 2v1m0 4v2m0 1v2m0 10v1m0 4v1m0 1v2m0 7v2m0 1v2m0 7v1m0 1v1m0 1v1m0 1v1m0 4v1m0 5v1m0 2v2m0 2v2m0 2v1m0 1v1m0 6v1m0 2v2m0 2v3m0 7v1m0 7v4m0 2v1m0 5v5m0 1v2m0 1v2m0 1v3m0 1v4m0 1v2m0 14v6m0 1v1m0 1v3m0 3v1m0 11v1m0 6v1m0 110v5m0 5v5m0 1v1m0 2v1m0 2v3m0 1v2m0 1v3m0 2v3m0 4v2m0 1v2m0 1v3m0 5v2m0 3v1m0 16v2m0 1v4m0 4v1m0 2v1m0 2v2m0 3v1m0 6v2m0 7v1m0 1v1m0 2v1m0 2v1m0 1v1m0 22v1m0 1v1m0 1v3m0 2v1m0 4v1m0 3v2m0 5v4m0 5v1m0 12v2m0 1v1m0 2v1m0 4v1m0 2v1m0 4v1m0 1v2m0 3v2m0 1v3m0 2v2m0 1v2m0 9v3m0 1v1m0 20v1m0 1v1m0 6v2m0 15v1m0 11v1m0 6v2m0 9v2m0 1v4m0 27v3m0 1v1m0 1v1m0 4v2m0 2v3m0 2v5m0 3v4m0 1v2m0 2v2m0 3v4m0 6v2m0 4v1m0 2v9m0 2v2m0 2v1m0 1v1m0 4v3m0 1v2m0 4v3m0 1v2m0 3v1m0 2v2m0 1v7m0 3v2m0 2v1m0 5v1m0 1v2m0 1v1m0 2v1m0 1v2m0 1v1m0 2v1m0 2v1m0 1v1m0 1v1m0 2v1m0 2v1m0 1v4m0 1v1m0 1v3m0 1v1m0 3v2m0 1v1m0 1v1m0 1v3m0 6v1m0 1v4m0 4v1m0 8v3m0 1v1m0 10v1m0 1v1m0 5v1m0 2v1m0 2v1m0 2v1m0 2v1m0 6v1m0 18v3m0 18v3m0 1v1m0 1v1m0 1v3m0 2v1m0 1v5m0 3v1m0 2v2m0 1v2m0 7v1m0 1v3m0 4v1m0 1v2m0 1v2m0 2v4m0 10v2m0 1v1m0 1v1m0 2v1m0 1v1m0 6v1m0 8v2m0 6v1m0 2v3m0 2v4m0 3v1m0 1v1m0 2v2m0 4v1m0 23v2m0 2v2m0 1v1m0 3v2m0 2v6m0 8v4m0 2v1m0 3v1m0 8v2m0 1v1m0 1v1m0 2v1m0 1v3"/>
<path class="c4" d="M566.5 120v1m0 1v2m0 3v1m0 3v3m0 3v7m0 1v3m0 1v1m0 2v4m0 4v1m0 3v3m0 8v1m0 1v3m0 1v1m0 1v1m0 7v1m0 1v2m0 1v4m0 1v2m0 5v1m0 1v4m0 1v1m0 1v1m0 2v1m0 1v1m0 8v3m0 4v1m0 2v1m0 1v1m0 1v1m0 1v1m0 1v1m0 2v2m0 1v1m0 2v1m0 3v1m0 1v1m0 1v1m0 4v2m0 2v2m0 2v1m0 4v2m0 6v1m0 3v2m0 1v1m0 1v1m0 2v1m0 2v3m0 4v1m0 2v1m0 1v2m0 2v1m0 1v1m0 1v2m0 1v1m0 4v1m0 1v3m0 1v1m0 1v1m0 1v1m0 2v3m0 1v1m0 1v6m0 1v3m0 1v8m0 1v1m0 1v1m0 1v1m0 1v1m0 1v1m0 1v2m0 1v4m0 2v1m0 2v2m0 9v1m0 1v2m0 4v7m0 2v1m0 2v1m0 1v2m0 2v1m0 1v1m0 1v1m0 1v1m0 1v4m0 1v3m0 3v2m0 2v2m0 5v1m0 2v2m0 2v1m0 1v2m0 2v1m0 4v1m0 1v5m0 1v7m0 4v2m0 1v1m0 2v2m0 20v1m0 2v4m0 4v1m0 2v1m0 1v1m0 6v1m0 1v1m0 3v2m0 2v1m0 1v3m0 1v1m0 1v1m0 4v3m0 1v1m0 6v1m0 8v2m0 10v1m0 1v3m0 68v3m0 14v4m0 7v1m0 2v2m0 6v1m0 3v1m0 5v3m0 5v1m0 3v5m0 2v3m0 1v4m0 1v3m0 1v2m0 1v4m0 2v1m0 4v2m0 3v2m0 5v3m0 1v3m0 2v1m0 2v6m0 2v1m0 2v1m0 1v2m0 3v4m0 1v2m0 6v2m0 1v6m0 1v1m0 1v1m0 3v2m0 1v3m0 4v1m0 3v4m0 6v3m0 1v2m0 2v2m0 3v3m0 4v2m0 3v2m0 1v2m0 2v1m0 3v1m0 3v2m0 10v1m0 2v1m0 6v2m0 3v1m0 3v2m0 2v1m0 2v1m0 6v4m0 1v1m0 1v1m0 1v4m0 2v1m0 1v2m0 8v3m0 2v4m0 2v4m0 2v5m0 2v1m0 1v3m0 1v3m0 2v1m0 4v1m0 1v1m0 2v6m0 1v1m0 2v2m0 5v1m0 1v3m0 3v1m0 1v1m0 1v4m0 2v2m0 4v1m0 5v3m0 4v1m0 3v1m0 3v2m0 4v6m0 2v4m0 2v1m0 13v2m0 1v1m0 1v4m0 3v1m0 2v2m0 5v1m0 2v3m0 13v3m0 3v1m0 1v1m0 3v1m0 1v1m0 2v1m0 1v2m0 1v1m0 4v1m0 2v1m0 2v1m0 1v1m0 1v2m0 9v1m0 1v1m0 3v1m0 2v2m0 2v1m0 3v1m0 4v5m0 6v3m0 2v1m0 2v5m0 5v1m0 1v2m0 1v1m0 1v1m0 3v1m0 1v2m0 2v1m0 1v2m0 2v1m0 1v1m0 5v3m0 4v8m0 1v1m0 1v4m0 1v2m0 5v4m0 2v1m0 2v1m0 1v5m0 3v1m0 1v1m0 5v2m0 1v1m0 5v3m0 5v1m0 2v2m0 1v4m0 5v4m0 1v1m0 2v1m0 2v1m0 5v2m0 1v2m0 1v1m0 2v1m0 2v1m0 1v1m0 1v1m0 2v1m0 1v1m0 1v3m0 2v7m0 3v2m0 1v1m0 3v2m0 3v1m0 5v1m0 1v1m0 1v1m0 1v2m0 3v3m0 1v2m0 5v1m0 3v1m0 7v1m0 1v2m0 2v2m0 6v1m0 2v2m0 6v1m0 1v3m0 2v1m0 4v2m0 1v3m0 1v8m0 7v1m0 1v1"/>
<path class="c5" d="M566.5 121v1m0 2v1m0 9v3m0 7v1m0 3v1m0 8v1m0 3v1m0 28v1m0 9v1m0 3v1m0 11v1m0 1v2m0 5v1m0 18v1m0 6v1m0 2v1m0 8v1m0 9v2m0 5v1m0 2v1m0 14v1m0 27v1m0 7v1m0 1v1m0 5v1m0 55v4m0 3v1m0 22v1m0 2v2m0 16v2m0 10v1m0 3v1m0 2v2m0 7v1m0 4v1m0 21v2m0 29v3m0 2v2m0 1v1m0 18v1m0 3v1m0 1v1m0 1v2m0 1v1m0 3v1m0 2v5m0 1v8m0 2v2m0 1v1m0 1v4m0 2v1m0 3v8m0 58v1m0 11v1m0 5v1m0 27v1m0 3v1m0 27v1m0 3v1m0 2v1m0 30v2m0 25v1m0 2v6m0 2v1m0 19v1m0 23v2m0 2v3m0 18v1m0 1v2m0 4v1m0 8v1m0 7v2m0 2v2m0 7v2m0 2v2m0 1v2m0 1v2m0 1v3m0 8v1m0 7v1m0 2v1m0 2v5m0 4v1m0 4v2m0 5v1m0 8v1m0 3v1m0 11v1m0 1v2m0 6v1m0 1v2m0 2v5m0 1v1m0 42v1m0 19v1m0 43v2m0 19v2m0 17v1m0 27v1m0 12v1m0 14v1m0 2v2m0 8v1m0 2v1m0 2v1m0 1v1m0 1v2m0 5v2m0 5v1m0 11v3m0 9v1m0 1v1m0 4v1m0 5v2m0 4v2m0 1v2m0 1v1m0 12v1m0 54v1m0 2v1m0 1v2m0 8v1m0 4v1m0 3v1m0 8v1m0 6v2m0 13v1m0 8v1m0 6v5m0 1v2m0 2v2m0 6v1m0 8v1m0 15v1m0 3v2"/>
<path class="c2" d="M566.5 169v1m0 66v1m0 24v1m0 5v1m0 2v1m0 18v1m0 31v1m0 51v1m0 1v1m0 36v1m0 47v1m0 52v1m0 2v1m0 2v1m0 3v1m0 35v1m0 145v1m0 2v1m0 6v1m0 17v1m0 43v1m0 4v2m0 20v1m0 3v1m0 5v1m0 38v2m0 3v1m0 8v2m0 18v1m0 4v2m0 19v1m0 4v1m0 147v1m0 16v1m0 34v2m0 19v1m0 15v1m0 12v1m0 5v1m0 13v1m0 5v1m0 8v2m0 21v1m0 12v1m0 48v1m0 1v2m0 71v2m0 13v1m0 15v1m0 44v1m0 10v1m0 50v2m0 40v1m0 1v1m0 1v1"/>
<path class="c6" d="M566.5 184v1m0 45v1m0 177v1m0 129v1m0 59v1m0 1v1m0 4v1m0 13v5m0 1v1m0 1v2m0 2v1m0 1v1m0 1v1m0 1v2m0 34v1m0 1v2m0 1v1m0 271v1m0 23v2m0 396v1m0 107v1m0 6v2"/>
<path class="c7" d="M566.5 185v1m0 438v1m0 1v1m0 2v2m0 1v1m0 1v1m0 1v1m0 4v1m0 20v1m0 1v1m0 2v2m0 1v3m0 1v1m0 809v1"/>
<path class="c9" d="M566.5 186v2m0 41v1m0 173v1m0 255v3"/>
<path class="c8" d="M566.5 188v2m0 212v1m0 1v1m0 234v2m0 1v1m0 20v1m0 1v2m0 2v1m0 257v2"/>
<path class="c10" d="M566.5 226v1m0 1258v2"/>
<path class="c12" d="M566.5 227v1m0 430v1"/>
<path class="c13" d="M566.5 228v1"/>
<path class="c11" d="M566.5 643v1"/>
<path class="c14" d="M566.5 644v1m0 12v1m0 30v1"/>
<path class="c17" d="M566.5 645v1"/>
<path class="c23" d="M566.5 646v1"/>
<path class="c30" d="M566.5 647v1m0 6v1"/>
<path class="c37" d="M566.5 648v1m0 4v1m0 33v1"/>
<path class="c41" d="M566.5 649v1m0 2v1"/>
<path class="c44" d="M566.5 650v1m0 33v1"/>
<path class="c45" d="M566.5 651v1m0 31v1m0 2v1"/>
<path class="c24" d="M566.5 655v1"/>
<path class="c19" d="M566.5 656v1"/>
<path class="c32" d="M566.5 682v1"/>
<path class="c42" d="M566.5 685v1"/>
<path class="c1" d="M566.5 776v1m0 363v1m0 65v1"/>
</g>
<g stroke-width="6">
<path class="c2" d="M571 182v2m0 10v2m0 28v2m0 390v4m0 868v2"/>
<path class="c3" d="M571 184v2m0 6v2m0 36v4m0 386v8m0 2v4m0 44v6m0 242v2m0 556v2"/>
<path class="c6" d="M571 186v2m0 214v2m0 238v2m0 18v2m0 264v2"/>
<path class="c8" d="M571 188v2m0 36v2m0 430v2"/>
<path class="c4" d="M571 190v2m0 436v2m0 4v4m0 28v4m0 2v2m0 2v2"/>
<path class="c10" d="M571 228v2"/>
<path class="c5" d="M571 404v2m0 232v4m0 22v2m0 4v2m0 2v2"/>
<path class="c11" d="M571 644v2"/>
<path class="c19" d="M571 646v2"/>
<path class="c30" d="M571 648v2"/>
<path class="c37" d="M571 650v2"/>
<path class="c34" d="M571 652v2"/>
<path class="c23" d="M571 654v2"/>
<path class="c15" d="M571 656v2"/>
<path class="c7" d="M571 660v2m0 824v2"/>
<path class="c42" d="M571 684v2m0 2v2"/>
<path class="c43" d="M571 686v2"/>
</g>
<g stroke-width="6">
<path class="c3" d="M577 184v2m0 216v2m0 214v6m0 2v6m0 2v6m0 30v2m0 2v2m0 2v2m0 804v2"/>
<path class="c7" d="M577 186v4m0 468v2"/>
<path class="c4" d="M577 190v2m0 38v2m0 172v2m0 234v2m0 22v6m0 2v2m0 6v2m0 244v2"/>
<path class="c2" d="M577 224v2m0 398v2m0 6v2m0 42v2m0 4v2m0 246v2"/>
<path class="c8" d="M577 226v2"/>
<path class="c10" d="M577 228v2"/>
<path class="c6" d="M577 642v2m0 16v2m0 824v2"/>
<path class="c9" d="M577 644v2"/>
<path class="c13" d="M577 646v2"/>
<path class="c20" d="M577 648v2"/>
<path class="c24" d="M577 650v2"/>
<path class="c23" d="M577 652v2"/>
<path class="c16" d="M577 654v2"/>
<path class="c11" d="M577 656v2"/>
<path class="c5" d="M577 662v2m0 264v2"/>
<path class="c42" d="M577 684v2"/>
<path class="c41" d="M577 686v2"/>
<path class="c39" d="M577 688v2"/>
<path class="c0" d="M577 1488v2"/>
</g>
<g stroke-width="6">
<path class="c4" d="M583 184v2m0 452v4m0 30v4m0 252v2m0 554v2"/>
<path class="c7" d="M583 186v2m0 38v2m0 416v2m0 12v2"/>
<path class="c6" d="M583 188v2m0 470v2m0 824v2"/>
<path class="c3" d="M583 190v2m0 38v2m0 170v4m0 218v2m0 2v10m0 26v6m0 8v4"/>
<path class="c2" d="M583 224v2m0 392v6m0 2v2m0 42v2m0 4v2m0 4v2m0 240v2"/>
<path class="c10" d="M583 228v2"/>
<path class="c5" d="M583 642v2m0 18v2"/>
<path class="c9" d="M583 646v2"/>
<path class="c12" d="M583 648v2"/>
<path class="c14" d="M583 650v4"/>
<path class="c11" d="M583 654v2"/>
<path class="c8" d="M583 656v2"/>
<path class="c36" d="M583 684v4"/>
<path class="c35" d="M583 688v2"/>
</g>
<g stroke-width="6">
<path class="c3" d="M589 182v2m0 6v2m0 210v4m0 216v2m0 2v2m0 4v6m0 28v6m0 256v2"/>
<path class="c4" d="M589 184v2m0 452v2m0 22v4"/>
<path class="c6" d="M589 186v2m0 458v2m0 8v2"/>
<path class="c7" d="M589 188v2m0 1296v2"/>
<path class="c2" d="M589 194v2m0 28v2m0 4v2m0 168v2m0 4v2m0 212v2m0 2v2m0 2v4m0 40v4m0 2v6m0 246v2m0 552v2"/>
<path class="c8" d="M589 226v2"/>
<path class="c11" d="M589 228v2"/>
<path class="c5" d="M589 640v6m0 12v4"/>
<path class="c9" d="M589 648v8"/>
<path class="c30" d="M589 684v4"/>
<path class="c33" d="M589 688v2"/>
<path class="c0" d="M589 1482v2"/>
</g>
<g stroke-width="6">
<path class="c3" d="M595 182v4m0 218v2m0 220v6m0 2v4m0 2v4m0 20v2m0 2v4m0 2v2m0 808v2"/>
<path class="c7" d="M595 186v4m0 36v2m0 420v2"/>
<path class="c5" d="M595 190v2m0 452v2m0 10v4"/>
<path class="c2" d="M595 194v2m0 34v2m0 170v2m0 216v6m0 46v2m0 2v6m0 244v2m0 560v2"/>
<path class="c11" d="M595 228v2"/>
<path class="c4" d="M595 632v2m0 4v2m0 20v4m0 2v2m0 260v2"/>
<path class="c6" d="M595 646v2m0 6v2m0 830v2"/>
<path class="c9" d="M595 650v2"/>
<path class="c8" d="M595 652v2"/>
<path class="c28" d="M595 684v2"/>
<path class="c25" d="M595 686v2"/>
<path class="c30" d="M595 688v2"/>
</g>
<g stroke-width="6">
<path class="c3" d="M601 184v2m0 4v2m0 38v2m0 402v10m0 14v2m0 2v4m0 2v4m0 254v2m0 556v2"/>
<path class="c7" d="M601 186v2m0 38v2"/>
<path class="c8" d="M601 188v2m0 458v2"/>
<path class="c11" d="M601 228v2"/>
<path class="c0" d="M601 232v2m0 1248v2m0 4v2"/>
<path class="c2" d="M601 400v2m0 2v2m0 214v2m0 2v10m0 38v12m0 244v4"/>
<path class="c5" d="M601 644v2"/>
<path class="c6" d="M601 646v2m0 6v4m0 828v2"/>
<path class="c9" d="M601 650v4"/>
<path class="c4" d="M601 660v2m0 4v2"/>
<path class="c25" d="M601 684v2"/>
<path class="c26" d="M601 686v2"/>
<path class="c30" d="M601 688v2"/>
</g>
<g stroke-width="6">
<path class="c4" d="M607 184v2m0 4v2m0 38v2m0 404v2m0 4v2m0 14v2"/>
<path class="c7" d="M607 186v4m0 36v2m0 418v2m0 6v2m0 830v2"/>
<path class="c2" d="M607 192v2m0 208v6m0 212v2m0 2v10m0 28v2m0 6v2m0 2v2m0 2v2m0 244v2m0 2v2"/>
<path class="c10" d="M607 228v2m0 422v2"/>
<path class="c0" d="M607 232v2m0 166v2"/>
<path class="c3" d="M607 622v2m0 10v2m0 2v4m0 18v2m0 2v6m0 2v2m0 2v2m0 4v2m0 800v2"/>
<path class="c5" d="M607 644v2"/>
<path class="c9" d="M607 648v2"/>
<path class="c11" d="M607 650v2"/>
<path class="c6" d="M607 656v2"/>
<path class="c22" d="M607 684v2"/>
<path class="c25" d="M607 686v2"/>
<path class="c24" d="M607 688v2"/>
</g>
<g stroke-width="6">
<path class="c0" d="M613 182v2"/>
<path class="c2" d="M613 184v2m0 4v6m0 36v2m0 388v4m0 4v2m0 4v2m0 34v2m0 2v8m0 804v2"/>
<path class="c6" d="M613 186v2m0 38v2"/>
<path class="c7" d="M613 188v2m0 464v2m0 830v2"/>
<path class="c9" d="M613 228v2"/>
<path class="c4" d="M613 230v2m0 426v6"/>
<path class="c3" d="M613 628v2m0 2v4m0 2v6m0 20v8m0 2v2m0 808v2"/>
<path class="c5" d="M613 644v2m0 10v2"/>
<path class="c8" d="M613 646v2"/>
<path class="c10" d="M613 648v2"/>
<path class="c12" d="M613 650v2"/>
<path class="c11" d="M613 652v2"/>
<path class="c23" d="M613 684v2"/>
<path class="c20" d="M613 686v2"/>
<path class="c21" d="M613 688v2"/>
</g>
<g stroke-width="6">
<path class="c3" d="M619 184v2m0 44v2m0 392v2m0 4v2m0 2v2m0 4v4m0 14v6m0 4v4m0 2v2"/>
<path class="c7" d="M619 186v2m0 460v2m0 836v2"/>
<path class="c5" d="M619 188v2m0 36v2m0 426v4"/>
<path class="c2" d="M619 190v4m0 30v2m0 396v2m0 2v4m0 2v2m0 2v4m0 26v2m0 4v2m0 2v4m0 808v2"/>
<path class="c8" d="M619 228v2m0 422v2"/>
<path class="c0" d="M619 232v2"/>
<path class="c4" d="M619 644v2m0 18v2m0 818v2"/>
<path class="c6" d="M619 646v2"/>
<path class="c9" d="M619 650v2"/>
<path class="c20" d="M619 684v2"/>
<path class="c19" d="M619 686v2"/>
<path class="c22" d="M619 688v2"/>
</g>
<g stroke-width="6">
<path class="c2" d="M625 184v2m0 44v2m0 390v10m0 30v2m0 2v2m0 2v4m0 2v6m0 806v2"/>
<path class="c5" d="M625 186v2m0 38v2m0 420v4"/>
<path class="c4" d="M625 188v2m0 454v2m0 6v6"/>
<path class="c3" d="M625 190v2m0 440v12m0 2v2m0 10v4m0 2v2m0 2v2m0 814v2"/>
<path class="c8" d="M625 228v2"/>
<path class="c20" d="M625 684v2"/>
<path class="c17" d="M625 686v2"/>
<path class="c16" d="M625 688v2"/>
<path class="c6" d="M625 1486v2"/>
</g>
<g stroke-width="6">
<path class="c3" d="M631 184v2m0 2v4m0 34v2m0 2v2m0 394v6m0 2v2m0 4v2m0 4v4m0 10v2m0 4v10m0 2v4"/>
<path class="c4" d="M631 186v2m0 456v2m0 8v6"/>
<path class="c2" d="M631 192v4m0 28v2m0 396v2m0 8v2m0 2v4m0 2v2m0 18v4m0 10v2m0 806v2"/>
<path class="c7" d="M631 228v2"/>
<path class="c5" d="M631 650v4m0 832v2"/>
<path class="c16" d="M631 684v2"/>
<path class="c17" d="M631 686v2"/>
<path class="c14" d="M631 688v2"/>
</g>
<g stroke-width="6">
<path class="c2" d="M637 184v4m0 2v2m0 40v2m0 388v10m0 30v2m0 2v2m0 4v10m0 802v2m0 2v2"/>
<path class="c4" d="M637 188v2m0 448v2m0 6v2m0 6v8m0 824v2"/>
<path class="c3" d="M637 226v2m0 404v6m0 2v4m0 20v2m0 2v4"/>
<path class="c6" d="M637 228v2m0 418v2"/>
<path class="c5" d="M637 644v2"/>
<path class="c8" d="M637 650v2"/>
<path class="c7" d="M637 652v2"/>
<path class="c14" d="M637 684v2"/>
<path class="c15" d="M637 686v2"/>
<path class="c16" d="M637 688v2"/>
</g>
<g stroke-width="6">
<path class="c2" d="M643 182v4m0 4v6m0 28v4m0 394v2m0 4v2m0 32v2m0 4v4m0 2v2m0 4v2m0 802v2"/>
<path class="c3" d="M643 228v2m0 396v2m0 2v8m0 2v2m0 18v2m0 2v4m0 4v2m0 2v4"/>
<path class="c4" d="M643 638v2m0 2v4m0 10v4"/>
<path class="c6" d="M643 646v2m0 6v2"/>
<path class="c9" d="M643 648v2"/>
<path class="c11" d="M643 650v2"/>
<path class="c8" d="M643 652v2"/>
<path class="c14" d="M643 684v6"/>
</g>
<g stroke-width="6">
<path class="c4" d="M649 186v2m0 2v2m0 40v2m0 388v4m0 4v6m0 4v2m0 16v2m0 2v18"/>
<path class="c2" d="M649 188v2m0 40v2"/>
<path class="c1" d="M649 228v2"/>
<path class="c5" d="M649 628v2m0 6v4m0 2v2m0 16v2m0 824v2"/>
<path class="c6" d="M649 644v2m0 10v2"/>
<path class="c7" d="M649 646v2m0 6v2"/>
<path class="c9" d="M649 648v2"/>
<path class="c11" d="M649 650v2"/>
<path class="c10" d="M649 652v2"/>
<path class="c14" d="M649 684v2"/>
<path class="c16" d="M649 686v4"/>
</g>
<g stroke-width="6">
<path class="c4" d="M655 622v4m0 2v4m0 2v2m0 2v2m0 20v2m0 2v2m0 8v2m0 2v4"/>
<path class="c5" d="M655 626v2m0 4v2m0 2v2m0 2v6m0 12v2m0 2v2m0 2v8"/>
<path class="c6" d="M655 646v2m0 2v2m0 2v4"/>
<path class="c7" d="M655 648v2m0 2v2"/>
<path class="c12" d="M655 684v2"/>
<path class="c10" d="M655 686v2"/>
<path class="c13" d="M655 688v2"/>
<path class="c2" d="M655 1484v6"/>
</g>
<g stroke-width="6">
<path class="c13" d="M661 684v4"/>
<path class="c9" d="M661 688v2"/>
</g>
<g stroke-width="6">
<path class="c10" d="M667 684v2"/>
<path class="c13" d="M667 686v2"/>
<path class="c9" d="M667 688v2"/>
</g>
<g stroke-width="6">
<path class="c13" d="M673 684v4"/>
<path class="c10" d="M673 688v2"/>
</g>
<g stroke-width="6">
<path class="c5" d="M679 648v4"/>
<path class="c4" d="M679 652v2"/>
<path class="c9" d="M679 684v4"/>
<path class="c7" d="M679 688v2"/>
</g>
<g stroke-width="6">
<path class="c4" d="M685 646v2"/>
<path class="c8" d="M685 648v2m0 2v2"/>
<path class="c9" d="M685 650v2"/>
<path class="c5" d="M685 654v2"/>
<path class="c7" d="M685 684v4"/>
<path class="c10" d="M685 688v2"/>
</g>
<g stroke-width="6">
<path class="c5" d="M691 646v2m0 36v2"/>
<path class="c8" d="M691 648v2"/>
<path class="c10" d="M691 650v2"/>
<path class="c9" d="M691 652v2m0 34v2"/>
<path class="c6" d="M691 654v2"/>
<path class="c4" d="M691 656v2"/>
<path class="c11" d="M691 686v2"/>
</g>
<g stroke-width="6">
<path class="c5" d="M697 646v2m0 6v2"/>
<path class="c7" d="M697 648v4m0 36v2"/>
<path class="c6" d="M697 652v2m0 30v4"/>
</g>
<g stroke-width="6">
<path class="c4" d="M703 650v2"/>
<path class="c9" d="M703 684v2"/>
<path class="c6" d="M703 686v2"/>
</g>
<g stroke-width="6">
<path class="c5" d="M709 684v2"/>
<path class="c6" d="M709 686v2"/>
</g>
<g stroke-width="6">
<path class="c9" d="M715 684v2m0 2v2"/>
<path class="c5" d="M715 686v2"/>
</g>
<g stroke-width="6">
<path class="c8" d="M727 684v2"/>
</g>
<g stroke-width="6">
<path class="c4" d="M733 684v2"/>
</g>
<g stroke-width="6">
<path class="c4" d="M739 684v2"/>
</g>
<g stroke-width="6">
<path class="c5" d="M751 686v2"/>
</g>
</g>
<path fill="#888" d="M128 114h1v1440h-1zM173 114h1v1440h-1zM206 114h1v1440h-1zM231 114h1v1440h-1zM251 114h1v1440h-1zM269 114h1v1440h-1zM284 114h1v1440h-1zM297 114h1v1440h-1zM387 114h1v1440h-1zM432 114h1v1440h-1zM465 114h1v1440h-1zM490 114h1v1440h-1zM510 114h1v1440h-1zM527 114h1v1440h-1zM542 114h1v1440h-1zM556 114h1v1440h-1zM645 114h1v1440h-1zM691 114h1v1440h-1zM723 114h1v1440h-1zM748 114h1v1440h-1zM769 114h1v1440h-1zM786 114h1v1440h-1zM801 114h1v1440h-1zM815 114h1v1440h-1zM904 114h1v1440h-1z"/>
<path fill="#000" d="M309 114h1v1440h-1zM568 114h1v1440h-1zM826 114h1v1440h-1z"/>
<rect x="50" y="114" width="901" height="1" fill="#000"/>
<rect x="50" y="1554" width="900" height="1" fill="#000"/>
<rect x="50" y="114" width="1" height="1441" fill="#000"/>
<rect x="950" y="114" width="1" height="1" fill="#000"/><rect x="950" y="115" width="1" height="1439" fill="#888"/>
<path fill="#000" d="M44 124h6v1h-6z M951 124h6v1h-6z M44 134h6v1h-6z M951 134h6v1h-6z M44 144h6v1h-6z M951 144h6v1h-6z M44 154h6v1h-6z M951 154h6v1h-6z M44 164h6v1h-6z M951 164h6v1h-6z M38 174h12v1h-12z M951 174h12v1h-12z M44 184h6v1h-6z M951 184h6v1h-6z M44 194h6v1h-6z M951 194h6v1h-6z M44 204h6v1h-6z M951 204h6v1h-6z M44 214h6v1h-6z M951 214h6v1h-6z M44 224h6v1h-6z M951 224h6v1h-6z M38 234h12v1h-12z M951 234h12v1h-12z M44 244h6v1h-6z M951 244h6v1h-6z M44 254h6v1h-6z M951 254h6v1h-6z M44 264h6v1h-6z M951 264h6v1h-6z M44 274h6v1h-6z M951 274h6v1h-6z M44 284h6v1h-6z M951 284h6v1h-6z M38 294h12v1h-12z M951 294h12v1h-12z M44 304h6v1h-6z M951 304h6v1h-6z M44 314h6v1h-6z M951 314h6v1h-6z M44 324h6v1h-6z M951 324h6v1h-6z M44 334h6v1h-6z M951 334h6v1h-6z M44 344h6v1h-6z M951 344h6v1h-6z M38 354h12v1h-12z M951 354h12v1h-12z M44 364h6v1h-6z M951 364h6v1h-6z M44 374h6v1h-6z M951 374h6v1h-6z M44 384h6v1h-6z M951 384h6v1h-6z M44 394h6v1h-6z M951 394h6v1h-6z M44 404h6v1h-6z M951 404h6v1h-6z M38 414h12v1h-12z M951 414h12v1h-12z M44 424h6v1h-6z M951 424h6v1h-6z M44 434h6v1h-6z M951 434h6v1h-6z M44 444h6v1h-6z M951 444h6v1h-6z M44 454h6v1h-6z M951 454h6v1h-6z M44 464h6v1h-6z M951 464h6v1h-6z M38 474h12v1h-12z M951 474h12v1h-12z M44 484h6v1h-6z M951 484h6v1h-6z M44 494h6v1h-6z M951 494h6v1h-6z M44 504h6v1h-6z M951 504h6v1h-6z M44 514h6v1h-6z M951 514h6v1h-6z M44 524h6v1h-6z M951 524h6v1h-6z M38 534h12v1h-12z M951 534h12v1h-12z M44 544h6v1h-6z M951 544h6v1h-6z M44 554h6v1h-6z M951 554h6v1h-6z M44 564h6v1h-6z M951 564h6v1h-6z M44 574h6v1h-6z M951 574h6v1h-6z M44 584h6v1h-6z M951 584h6v1h-6z M38 594h12v1h-12z M951 594h12v1h-12z M44 604h6v1h-6z M951 604h6v1h-6z M44 614h6v1h-6z M951 614h6v1h-6z M44 624h6v1h-6z M951 624h6v1h-6z M44 634h6v1h-6z M951 634h6v1h-6z M44 644h6v1h-6z M951 644h6v1h-6z M38 654h12v1h-12z M951 654h12v1h-12z M44 664h6v1h-6z M951 664h6v1h-6z M44 674h6v1h-6z M951 674h6v1h-6z M44 684h6v1h-6z M951 684h6v1h-6z M44 694h6v1h-6z M951 694h6v1h-6z M44 704h6v1h-6z M951 704h6v1h-6z M38 714h12v1h-12z M951 714h12v1h-12z M44 724h6v1h-6z M951 724h6v1h-6z M44 734h6v1h-6z M951 734h6v1h-6z M44 744h6v1h-6z M951 744h6v1h-6z M44 754h6v1h-6z M951 754h6v1h-6z M44 764h6v1h-6z M951 764h6v1h-6z M38 774h12v1h-12z M951 774h12v1h-12z M44 784h6v1h-6z M951 784h6v1h-6z M44 794h6v1h-6z M951 794h6v1h-6z M44 804h6v1h-6z M951 804h6v1h-6z M44 814h6v1h-6z M951 814h6v1h-6z M44 824h6v1h-6z M951 824h6v1h-6z M38 834h12v1h-12z M951 834h12v1h-12z M44 844h6v1h-6z M951 844h6v1h-6z M44 854h6v1h-6z M951 854h6v1h-6z M44 864h6v1h-6z M951 864h6v1h-6z M44 874h6v1h-6z M951 874h6v1h-6z M44 884h6v1h-6z M951 884h6v1h-6z M38 894h12v1h-12z M951 894h12v1h-12z M44 904h6v1h-6z M951 904h6v1h-6z M44 914h6v1h-6z M951 914h6v1h-6z M44 924h6v1h-6z M951 924h6v1h-6z M44 934h6v1h-6z M951 934h6v1h-6z M44 944h6v1h-6z M951 944h6v1h-6z M38 954h12v1h-12z M951 954h12v1h-12z M44 964h6v1h-6z M951 964h6v1h-6z M44 974h6v1h-6z M951 974h6v1h-6z M44 984h6v1h-6z M951 984h6v1h-6z M44 994h6v1h-6z M951 994h6v1h-6z M44 1004h6v1h-6z M951 1004h6v1h-6z M38 1014h12v1h-12z M951 1014h12v1h-12z M44 1024h6v1h-6z M951 1024h6v1h-6z M44 1034h6v1h-6z M951 1034h6v1h-6z M44 1044h6v1h-6z M951 1044h6v1h-6z M44 1054h6v1h-6z M951 1054h6v1h-6z M44 1064h6v1h-6z M951 1064h6v1h-6z M38 1074h12v1h-12z M951 1074h12v1h-12z M44 1084h6v1h-6z M951 1084h6v1h-6z M44 1094h6v1h-6z M951 1094h6v1h-6z M44 1104h6v1h-6z M951 1104h6v1h-6z M44 1114h6v1h-6z M951 1114h6v1h-6z M44 1124h6v1h-6z M951 1124h6v1h-6z M38 1134h12v1h-12z M951 1134h12v1h-12z M44 1144h6v1h-6z M951 1144h6v1h-6z M44 1154h6v1h-6z M951 1154h6v1h-6z M44 1164h6v1h-6z M951 1164h6v1h-6z M44 1174h6v1h-6z M951 1174h6v1h-6z M44 1184h6v1h-6z M951 1184h6v1h-6z M38 1194h12v1h-12z M951 1194h12v1h-12z M44 1204h6v1h-6z M951 1204h6v1h-6z M44 1214h6v1h-6z M951 1214h6v1h-6z M44 1224h6v1h-6z M951 1224h6v1h-6z M44 1234h6v1h-6z M951 1234h6v1h-6z M44 1244h6v1h-6z M951 1244h6v1h-6z M38 1254h12v1h-12z M951 1254h12v1h-12z M44 1264h6v1h-6z M951 1264h6v1h-6z M44 1274h6v1h-6z M951 1274h6v1h-6z M44 1284h6v1h-6z M951 1284h6v1h-6z M44 1294h6v1h-6z M951 1294h6v1h-6z M44 1304h6v1h-6z M951 1304h6v1h-6z M38 1314h12v1h-12z M951 1314h12v1h-12z M44 1324h6v1h-6z M951 1324h6v1h-6z M44 1334h6v1h-6z M951 1334h6v1h-6z M44 1344h6v1h-6z M951 1344h6v1h-6z M44 1354h6v1h-6z M951 1354h6v1h-6z M44 1364h6v1h-6z M951 1364h6v1h-6z M38 1374h12v1h-12z M951 1374h12v1h-12z M44 1384h6v1h-6z M951 1384h6v1h-6z M44 1394h6v1h-6z M951 1394h6v1h-6z M44 1404h6v1h-6z M951 1404h6v1h-6z M44 1414h6v1h-6z M951 1414h6v1h-6z M44 1424h6v1h-6z M951 1424h6v1h-6z M38 1434h12v1h-12z M951 1434h12v1h-12z M44 1444h6v1h-6z M951 1444h6v1h-6z M44 1454h6v1h-6z M951 1454h6v1h-6z M44 1464h6v1h-6z M951 1464h6v1h-6z M44 1474h6v1h-6z M951 1474h6v1h-6z M44 1484h6v1h-6z M951 1484h6v1h-6z M38 1494h12v1h-12z M951 1494h12v1h-12z M44 1504h6v1h-6z M951 1504h6v1h-6z M44 1514h6v1h-6z M951 1514h6v1h-6z M44 1524h6v1h-6z M951 1524h6v1h-6z M44 1534h6v1h-6z M951 1534h6v1h-6z M44 1544h6v1h-6z M951 1544h6v1h-6z M38 1554h12v1h-12z M951 1554h12v1h-12z"/>
<defs><path id="g0" d="M2 0h2v1h-2zM1 1h1v1h-1zM4 1h1v1h-1zM0 2h2v1h-2zM4 2h2v1h-2zM0 3h2v1h-2zM4 3h2v1h-2zM0 4h2v1h-2zM4 4h2v1h-2zM0 5h2v1h-2zM4 5h2v1h-2zM0 6h2v1h-2zM4 6h2v1h-2zM1 7h1v1h-1zM4 7h1v1h-1zM2 8h2v1h-2z"/><path id="g1" d="M2 0h2v1h-2zM1 1h3v1h-3zM0 2h1v1h-1zM2 2h2v1h-2zM2 3h2v1h-2zM2 4h2v1h-2zM2 5h2v1h-2zM2 6h2v1h-2zM2 7h2v1h-2zM0 8h6v1h-6z"/><path id="g2" d="M1 0h4v1h-4zM0 1h2v1h-2zM4 1h2v1h-2zM0 2h2v1h-2zM4 2h2v1h-2zM4 3h2v1h-2zM2 4h3v1h-3zM1 5h2v1h-2zM0 6h2v1h-2zM0 7h2v1h-2zM0 8h6v1h-6z"/><path id="g3" d="M1 0h4v1h-4zM0 1h2v1h-2zM4 1h2v1h-2zM4 2h2v1h-2zM4 3h2v1h-2zM2 4h3v1h-3zM4 5h2v1h-2zM4 6h2v1h-2zM0 7h2v1h-2zM4 7h2v1h-2zM1 8h4v1h-4z"/><path id="g4" d="M4 0h2v1h-2zM3 1h3v1h-3zM2 2h1v1h-1zM4 2h2v1h-2zM1 3h2v1h-2zM4 3h2v1h-2zM0 4h2v1h-2zM4 4h2v1h-2zM0 5h2v1h-2zM4 5h2v1h-2zM0 6h6v1h-6zM4 7h2v1h-2zM4 8h2v1h-2z"/><path id="g5" d="M0 0h6v1h-6zM0 1h2v1h-2zM0 2h2v1h-2zM0 3h5v1h-5zM0 4h2v1h-2zM4 4h2v1h-2zM4 5h2v1h-2zM4 6h2v1h-2zM0 7h2v1h-2zM4 7h2v1h-2zM1 8h4v1h-4z"/><path id="g6" d="M1 0h4v1h-4zM0 1h2v1h-2zM4 1h2v1h-2zM0 2h2v1h-2zM0 3h2v1h-2zM0 4h5v1h-5zM0 5h2v1h-2zM4 5h2v1h-2zM0 6h2v1h-2zM4 6h2v1h-2zM0 7h2v1h-2zM4 7h2v1h-2zM1 8h4v1h-4z"/><path id="g7" d="M0 0h6v1h-6zM4 1h2v1h-2zM4 2h2v1h-2zM3 3h2v1h-2zM3 4h2v1h-2zM2 5h2v1h-2zM2 6h2v1h-2zM1 7h2v1h-2zM1 8h2v1h-2z"/><path id="g8" d="M1 0h4v1h-4zM0 1h2v1h-2zM4 1h2v1h-2zM0 2h2v1h-2zM4 2h2v1h-2zM0 3h2v1h-2zM4 3h2v1h-2zM1 4h4v1h-4zM0 5h2v1h-2zM4 5h2v1h-2zM0 6h2v1h-2zM4 6h2v1h-2zM0 7h2v1h-2zM4 7h2v1h-2zM1 8h4v1h-4z"/><path id="g9" d="M1 0h4v1h-4zM0 1h2v1h-2zM4 1h2v1h-2zM0 2h2v1h-2zM4 2h2v1h-2zM0 3h2v1h-2zM4 3h2v1h-2zM1 4h5v1h-5zM4 5h2v1h-2zM4 6h2v1h-2zM0 7h2v1h-2zM4 7h2v1h-2zM1 8h4v1h-4z"/><path id="g10" d="M2 2h2v1h-2zM1 3h4v1h-4zM2 4h2v1h-2zM2 7h2v1h-2zM1 8h4v1h-4zM2 9h2v1h-2z"/><path id="g11" d="M2 7h2v1h-2zM1 8h4v1h-4zM2 9h2v1h-2z"/><path id="g12" d="M2 6h3v1h-3zM2 7h3v1h-3zM2 8h2v1h-2zM1 9h2v1h-2z"/><path id="g13" d="M0 0h2v1h-2zM4 0h2v1h-2zM0 1h2v1h-2zM4 1h2v1h-2zM0 2h2v1h-2zM4 2h2v1h-2zM0 3h2v1h-2zM4 3h2v1h-2zM0 4h2v1h-2zM4 4h2v1h-2zM0 5h2v1h-2zM4 5h2v1h-2zM0 6h2v1h-2zM4 6h2v1h-2zM0 7h2v1h-2zM4 7h2v1h-2zM1 8h4v1h-4z"/><path id="g14" d="M0 0h6v1h-6zM2 1h2v1h-2zM2 2h2v1h-2zM2 3h2v1h-2zM2 4h2v1h-2zM2 5h2v1h-2zM2 6h2v1h-2zM2 7h2v1h-2zM2 8h2v1h-2z"/><path id="g15" d="M1 0h4v1h-4zM0 1h2v1h-2zM4 1h2v1h-2zM0 2h2v1h-2zM0 3h2v1h-2zM0 4h2v1h-2zM0 5h2v1h-2zM0 6h2v1h-2zM0 7h2v1h-2zM4 7h2v1h-2zM1 8h4v1h-4z"/><path id="g16" d="M0 0h5v1h-5zM0 1h2v1h-2zM4 1h2v1h-2zM0 2h2v1h-2zM4 2h2v1h-2zM0 3h2v1h-2zM4 3h2v1h-2zM0 4h2v1h-2zM4 4h2v1h-2zM0 5h2v1h-2zM4 5h2v1h-2zM0 6h2v1h-2zM4 6h2v1h-2zM0 7h2v1h-2zM4 7h2v1h-2zM0 8h5v1h-5z"/><path id="g17" d="M1 3h4v1h-4zM0 4h2v1h-2zM4 4h2v1h-2zM0 5h6v1h-6zM0 6h2v1h-2zM0 7h2v1h-2zM4 7h2v1h-2zM1 8h4v1h-4z"/><path id="g18" d="M1 3h4v1h-4zM0 4h2v1h-2zM4 4h2v1h-2zM0 5h2v1h-2zM0 6h2v1h-2zM0 7h2v1h-2zM4 7h2v1h-2zM1 8h4v1h-4z"/><path id="g19" d="M0 0h2v1h-2zM4 0h2v1h-2zM0 1h2v1h-2zM4 1h2v1h-2zM0 2h2v1h-2zM4 2h2v1h-2zM1 3h1v1h-1zM4 3h1v1h-1zM1 4h1v1h-1zM4 4h1v1h-1zM1 5h4v1h-4zM2 6h2v1h-2zM2 7h2v1h-2zM2 8h2v1h-2z"/><path id="g20" d="M0 0h6v1h-6zM0 1h2v1h-2zM0 2h2v1h-2zM0 3h2v1h-2zM0 4h5v1h-5zM0 5h2v1h-2zM0 6h2v1h-2zM0 7h2v1h-2zM0 8h6v1h-6z"/><path id="g21" d="M0 0h5v1h-5zM0 1h2v1h-2zM4 1h2v1h-2zM0 2h2v1h-2zM4 2h2v1h-2zM0 3h2v1h-2zM4 3h2v1h-2zM0 4h5v1h-5zM0 5h2v1h-2zM3 5h1v1h-1zM0 6h2v1h-2zM4 6h1v1h-1zM0 7h2v1h-2zM4 7h2v1h-2zM0 8h2v1h-2zM4 8h2v1h-2z"/><path id="g22" d="M0 0h6v1h-6zM0 1h2v1h-2zM0 2h2v1h-2zM0 3h2v1h-2zM0 4h5v1h-5zM0 5h2v1h-2zM0 6h2v1h-2zM0 7h2v1h-2zM0 8h2v1h-2z"/><path id="g23" d="M0 0h2v1h-2zM4 0h2v1h-2zM0 1h2v1h-2zM4 1h2v1h-2zM0 2h2v1h-2zM4 2h2v1h-2zM0 3h2v1h-2zM4 3h2v1h-2zM0 4h6v1h-6zM0 5h2v1h-2zM4 5h2v1h-2zM0 6h2v1h-2zM4 6h2v1h-2zM0 7h2v1h-2zM4 7h2v1h-2zM0 8h2v1h-2zM4 8h2v1h-2z"/><path id="g24" d="M0 0h6v1h-6zM4 1h2v1h-2zM4 2h2v1h-2zM3 3h2v1h-2zM2 4h2v1h-2zM1 5h2v1h-2zM0 6h2v1h-2zM0 7h2v1h-2zM0 8h6v1h-6z"/><path id="g25" d="M0 0h2v1h-2zM0 1h2v1h-2zM0 2h2v1h-2zM0 3h2v1h-2zM0 4h2v1h-2zM0 5h2v1h-2zM0 6h2v1h-2zM0 7h2v1h-2zM0 8h6v1h-6z"/><path id="g26" d="M1 0h4v1h-4zM0 1h2v1h-2zM4 1h2v1h-2zM0 2h2v1h-2zM4 2h2v1h-2zM0 3h2v1h-2zM4 3h2v1h-2zM0 4h2v1h-2zM4 4h2v1h-2zM0 5h2v1h-2zM4 5h2v1h-2zM0 6h2v1h-2zM4 6h2v1h-2zM0 7h2v1h-2zM4 7h2v1h-2zM1 8h4v1h-4z"/><path id="g27" d="M1 0h4v1h-4zM0 1h2v1h-2zM4 1h2v1h-2zM0 2h2v1h-2zM0 3h2v1h-2zM0 4h2v1h-2zM3 4h3v1h-3zM0 5h2v1h-2zM4 5h2v1h-2zM0 6h2v1h-2zM4 6h2v1h-2zM0 7h2v1h-2zM4 7h2v1h-2zM1 8h5v1h-5z"/><path id="g28" d="M1 0h4v1h-4zM0 1h2v1h-2zM4 1h2v1h-2zM0 2h2v1h-2zM4 2h2v1h-2zM0 3h2v1h-2zM4 3h2v1h-2zM0 4h2v1h-2zM4 4h2v1h-2zM0 5h2v1h-2zM4 5h2v1h-2zM0 6h2v1h-2zM3 6h3v1h-3zM0 7h2v1h-2zM4 7h2v1h-2zM1 8h4v1h-4zM4 9h2v1h-2z"/><path id="g29" d="M0 0h2v1h-2zM4 0h2v1h-2zM0 1h3v1h-3zM4 1h2v1h-2zM0 2h3v1h-3zM4 2h2v1h-2zM0 3h2v1h-2zM3 3h3v1h-3zM0 4h2v1h-2zM3 4h3v1h-3zM0 5h2v1h-2zM4 5h2v1h-2zM0 6h2v1h-2zM4 6h2v1h-2zM0 7h2v1h-2zM4 7h2v1h-2zM0 8h2v1h-2zM4 8h2v1h-2z"/><path id="g30" d="M0 0h2v1h-2zM4 0h2v1h-2zM0 1h2v1h-2zM4 1h2v1h-2zM0 2h2v1h-2zM4 2h2v1h-2zM1 3h4v1h-4zM2 4h2v1h-2zM2 5h2v1h-2zM2 6h2v1h-2zM2 7h2v1h-2zM2 8h2v1h-2z"/><path id="g31" d="M3 0h2v1h-2zM2 1h2v1h-2zM1 2h2v1h-2zM1 3h2v1h-2zM1 4h2v1h-2zM1 5h2v1h-2zM1 6h2v1h-2zM2 7h2v1h-2zM3 8h2v1h-2z"/><path id="g32" d="M1 0h2v1h-2zM2 1h2v1h-2zM3 2h2v1h-2zM3 3h2v1h-2zM3 4h2v1h-2zM3 5h2v1h-2zM3 6h2v1h-2zM2 7h2v1h-2zM1 8h2v1h-2z"/></defs>
<g fill="#000">
<use href="#g0" x="0" y="1550"/><use href="#g0" x="7" y="1550"/><use href="#g10" x="14" y="1550"/><use href="#g0" x="21" y="1550"/><use href="#g0" x="28" y="1550"/>
<use href="#g0" x="965" y="1550"/><use href="#g0" x="972" y="1550"/><use href="#g10" x="979" y="1550"/><use href="#g0" x="986" y="1550"/><use href="#g0" x="993" y="1550"/>
<use href="#g0" x="0" y="1490"/><use href="#g1" x="7" y="1490"/><use href="#g10" x="14" y="1490"/><use href="#g0" x="21" y="1490"/><use href="#g0" x="28" y="1490"/>
<use href="#g0" x="965" y="1490"/><use href="#g1" x="972" y="1490"/><use href="#g10" x="979" y="1490"/><use href="#g0" x="986" y="1490"/><use href="#g0" x="993" y="1490"/>
<use href="#g0" x="0" y="1430"/><use href="#g2" x="7" y="1430"/><use href="#g10" x="14" y="1430"/><use href="#g0" x="21" y="1430"/><use href="#g0" x="28" y="1430"/>
<use href="#g0" x="965" y="1430"/><use href="#g2" x="972" y="1430"/><use href="#g10" x="979" y="1430"/><use href="#g0" x="986" y="1430"/><use href="#g0" x="993" y="1430"/>
<use href="#g0" x="0" y="1370"/><use href="#g3" x="7" y="1370"/><use href="#g10" x="14" y="1370"/><use href="#g0" x="21" y="1370"/><use href="#g0" x="28" y="1370"/>
<use href="#g0" x="965" y="1370"/><use href="#g3" x="972" y="1370"/><use href="#g10" x="979" y="1370"/><use href="#g0" x="986" y="1370"/><use href="#g0" x="993" y="1370"/>
<use href="#g0" x="0" y="1310"/><use href="#g4" x="7" y="1310"/><use href="#g10" x="14" y="1310"/><use href="#g0" x="21" y="1310"/><use href="#g0" x="28" y="1310"/>
<use href="#g0" x="965" y="1310"/><use href="#g4" x="972" y="1310"/><use href="#g10" x="979" y="1310"/><use href="#g0" x="986" y="1310"/><use href="#g0" x="993" y="1310"/>
<use href="#g0" x="0" y="1250"/><use href="#g5" x="7" y="1250"/><use href="#g10" x="14" y="1250"/><use href="#g0" x="21" y="1250"/><use href="#g0" x="28" y="1250"/>
<use href="#g0" x="965" y="1250"/><use href="#g5" x="972" y="1250"/><use href="#g10" x="979" y="1250"/><use href="#g0" x="986" y="1250"/><use href="#g0" x="993" y="1250"/>
<use href="#g0" x="0" y="1190"/><use href="#g6" x="7" y="1190"/><use href="#g10" x="14" y="1190"/><use href="#g0" x="21" y="1190"/><use href="#g0" x="28" y="1190"/>
<use href="#g0" x="965" y="1190"/><use href="#g6" x="972" y="1190"/><use href="#g10" x="979" y="1190"/><use href="#g0" x="986" y="1190"/><use href="#g0" x="993" y="1190"/>
<use href="#g0" x="0" y="1130"/><use href="#g7" x="7" y="1130"/><use href="#g10" x="14" y="1130"/><use href="#g0" x="21" y="1130"/><use href="#g0" x="28" y="1130"/>
<use href="#g0" x="965" y="1130"/><use href="#g7" x="972" y="1130"/><use href="#g10" x="979" y="1130"/><use href="#g0" x="986" y="1130"/><use href="#g0" x="993" y="1130"/>
<use href="#g0" x="0" y="1070"/><use href="#g8" x="7" y="1070"/><use href="#g10" x="14" y="1070"/><use href="#g0" x="21" y="1070"/><use href="#g0" x="28" y="1070"/>
<use href="#g0" x="965" y="1070"/><use href="#g8" x="972" y="1070"/><use href="#g10" x="979" y="1070"/><use href="#g0" x="986" y="1070"/><use href="#g0" x="993" y="1070"/>
<use href="#g0" x="0" y="1010"/><use href="#g9" x="7" y="1010"/><use href="#g10" x="14" y="1010"/><use href="#g0" x="21" y="1010"/><use href="#g0" x="28" y="1010"/>
<use href="#g0" x="965" y="1010"/><use href="#g9" x="972" y="1010"/><use href="#g10" x="979" y="1010"/><use href="#g0" x="986" y="1010"/><use href="#g0" x="993" y="1010"/>
<use href="#g1" x="0" y="950"/><use href="#g0" x="7" y="950"/><use href="#g10" x="14" y="950"/><use href="#g0" x="21" y="950"/><use href="#g0" x="28" y="950"/>
<use href="#g1" x="965" y="950"/><use href="#g0" x="972" y="950"/><use href="#g10" x="979" y="950"/><use href="#g0" x="986" y="950"/><use href="#g0" x="993" y="950"/>
<use href="#g1" x="0" y="890"/><use href="#g1" x="7" y="890"/><use href="#g10" x="14" y="890"/><use href="#g0" x="21" y="890"/><use href="#g0" x="28" y="890"/>
<use href="#g1" x="965" y="890"/><use href="#g1" x="972" y="890"/><use href="#g10" x="979" y="890"/><use href="#g0" x="986" y="890"/><use href="#g0" x="993" y="890"/>
<use href="#g1" x="0" y="830"/><use href="#g2" x="7" y="830"/><use href="#g10" x="14" y="830"/><use href="#g0" x="21" y="830"/><use href="#g0" x="28" y="830"/>
<use href="#g1" x="965" y="830"/><use href="#g2" x="972" y="830"/><use href="#g10" x="979" y="830"/><use href="#g0" x="986" y="830"/><use href="#g0" x="993" y="830"/>
<use href="#g1" x="0" y="770"/><use href="#g3" x="7" y="770"/><use href="#g10" x="14" y="770"/><use href="#g0" x="21" y="770"/><use href="#g0" x="28" y="770"/>
<use href="#g1" x="965" y="770"/><use href="#g3" x="972" y="770"/><use href="#g10" x="979" y="770"/><use href="#g0" x="986" y="770"/><use href="#g0" x="993" y="770"/>
<use href="#g1" x="0" y="710"/><use href="#g4" x="7" y="710"/><use href="#g10" x="14" y="710"/><use href="#g0" x="21" y="710"/><use href="#g0" x="28" y="710"/>
<use href="#g1" x="965" y="710"/><use href="#g4" x="972" y="710"/><use href="#g10" x="979" y="710"/><use href="#g0" x="986" y="710"/><use href="#g0" x="993" y="710"/>
<use href="#g1" x="0" y="650"/><use href="#g5" x="7" y="650"/><use href="#g10" x="14" y="650"/><use href="#g0" x="21" y="650"/><use href="#g0" x="28" y="650"/>
<use href="#g1" x="965" y="650"/><use href="#g5" x="972" y="650"/><use href="#g10" x="979" y="650"/><use href="#g0" x="986" y="650"/><use href="#g0" x="993" y="650"/>
<use href="#g1" x="0" y="590"/><use href="#g6" x="7" y="590"/><use href="#g10" x="14" y="590"/><use href="#g0" x="21" y="590"/><use href="#g0" x="28" y="590"/>
<use href="#g1" x="965" y="590"/><use href="#g6" x="972" y="590"/><use href="#g10" x="979" y="590"/><use href="#g0" x="986" y="590"/><use href="#g0" x="993" y="590"/>
<use href="#g1" x="0" y="530"/><use href="#g7" x="7" y="530"/><use href="#g10" x="14" y="530"/><use href="#g0" x="21" y="530"/><use href="#g0" x="28" y="530"/>
<use href="#g1" x="965" y="530"/><use href="#g7" x="972" y="530"/><use href="#g10" x="979" y="530"/><use href="#g0" x="986" y="530"/><use href="#g0" x="993" y="530"/>
<use href="#g1" x="0" y="470"/><use href="#g8" x="7" y="470"/><use href="#g10" x="14" y="470"/><use href="#g0" x="21" y="470"/><use href="#g0" x="28" y="470"/>
<use href="#g1" x="965" y="470"/><use href="#g8" x="972" y="470"/><use href="#g10" x="979" y="470"/><use href="#g0" x="986" y="470"/><use href="#g0" x="993" y="470"/>
<use href="#g1" x="0" y="410"/><use href="#g9" x="7" y="410"/><use href="#g10" x="14" y="410"/><use href="#g0" x="21" y="410"/><use href="#g0" x="28" y="410"/>
<use href="#g1" x="965" y="410"/><use href="#g9" x="972" y="410"/><use href="#g10" x="979" y="410"/><use href="#g0" x="986" y="410"/><use href="#g0" x="993" y="410"/>
<use href="#g2" x="0" y="350"/><use href="#g0" x="7" y="350"/><use href="#g10" x="14" y="350"/><use href="#g0" x="21" y="350"/><use href="#g0" x="28" y="350"/>
<use href="#g2" x="965" y="350"/><use href="#g0" x="972" y="350"/><use href="#g10" x="979" y="350"/><use href="#g0" x="986" y="350"/><use href="#g0" x="993" y="350"/>
<use href="#g2" x="0" y="290"/><use href="#g1" x="7" y="290"/><use href="#g10" x="14" y="290"/><use href="#g0" x="21" y="290"/><use href="#g0" x="28" y="290"/>
<use href="#g2" x="965" y="290"/><use href="#g1" x="972" y="290"/><use href="#g10" x="979" y="290"/><use href="#g0" x="986" y="290"/><use href="#g0" x="993" y="290"/>
<use href="#g2" x="0" y="230"/><use href="#g2" x="7" y="230"/><use href="#g10" x="14" y="230"/><use href="#g0" x="21" y="230"/><use href="#g0" x="28" y="230"/>
<use href="#g2" x="965" y="230"/><use href="#g2" x="972" y="230"/><use href="#g10" x="979" y="230"/><use href="#g0" x="986" y="230"/><use href="#g0" x="993" y="230"/>
<use href="#g2" x="0" y="170"/><use href="#g3" x="7" y="170"/><use href="#g10" x="14" y="170"/><use href="#g0" x="21" y="170"/><use href="#g0" x="28" y="170"/>
<use href="#g2" x="965" y="170"/><use href="#g3" x="972" y="170"/><use href="#g10" x="979" y="170"/><use href="#g0" x="986" y="170"/><use href="#g0" x="993" y="170"/>
<rect x="50" y="1555" width="1" height="10"/>
<use href="#g0" x="38" y="1566"/><use href="#g11" x="45" y="1566"/><use href="#g0" x="52" y="1566"/><use href="#g1" x="59" y="1566"/>
<rect x="309" y="1555" width="1" height="10"/>
<use href="#g0" x="300" y="1566"/><use href="#g11" x="307" y="1566"/><use href="#g1" x="314" y="1566"/>
<rect x="568" y="1555" width="1" height="10"/>
<use href="#g1" x="565" y="1566"/>
<rect x="826" y="1555" width="1" height="10"/>
<use href="#g1" x="820" y="1566"/><use href="#g0" x="827" y="1566"/>
<use href="#g31" x="442" y="1577"/><use href="#g25" x="449" y="1577"/><use href="#g26" x="456" y="1577"/><use href="#g27" x="463" y="1577"/><use href="#g32" x="470" y="1577"/><use href="#g22" x="484" y="1577"/><use href="#g21" x="491" y="1577"/><use href="#g20" x="498" y="1577"/><use href="#g28" x="505" y="1577"/><use href="#g13" x="512" y="1577"/><use href="#g20" x="519" y="1577"/><use href="#g29" x="526" y="1577"/><use href="#g15" x="533" y="1577"/><use href="#g30" x="540" y="1577"/><use href="#g31" x="554" y="1577"/><use href="#g23" x="561" y="1577"/><use href="#g24" x="568" y="1577"/><use href="#g32" x="575" y="1577"/>
<use href="#g13" x="14" y="72"/><use href="#g14" x="21" y="72"/><use href="#g15" x="28" y="72"/>
<use href="#g16" x="50" y="72"/><use href="#g17" x="57" y="72"/><use href="#g18" x="64" y="72"/><use href="#g8" x="78" y="72"/><use href="#g12" x="85" y="72"/><use href="#g2" x="92" y="72"/><use href="#g0" x="99" y="72"/><use href="#g2" x="106" y="72"/><use href="#g5" x="113" y="72"/>
<use href="#g19" x="455" y="72"/><use href="#g20" x="462" y="72"/><use href="#g21" x="469" y="72"/><use href="#g22" x="476" y="72"/><use href="#g23" x="490" y="72"/><use href="#g23" x="497" y="72"/><use href="#g24" x="504" y="72"/><use href="#g22" x="518" y="72"/><use href="#g21" x="525" y="72"/><use href="#g0" x="539" y="72"/><use href="#g0" x="546" y="72"/>
<use href="#g13" x="954" y="72"/><use href="#g14" x="961" y="72"/><use href="#g15" x="968" y="72"/>
</g>
<g fill="none" stroke="#2f8a2f" stroke-linejoin="round" stroke-linecap="round" shape-rendering="auto"><path d="M2 39.5L12 38.8" stroke-width="2"/><path d="M14 37.5L19 35L25 29L31 23L37 18L41 15L46 14L50 12L55 8.5" stroke-width="1" stroke-dasharray="4 1.5"/><path d="M55.5 2V7" stroke-width="0.8"/><path d="M55 8.5C58 9 60 12 61.5 16C63 20 64 25 65.5 29C67 33 69 36 72 37.5C74 38.5 77 38.5 80 38.5" stroke-width="2.6"/><path d="M80 38.5L86 37L93 30.5" stroke-width="1" stroke-dasharray="3 2"/></g>
<g fill="none" transform="translate(9.5 0) skewX(-15)" stroke-linecap="round"><path transform="translate(-1.2 1)" stroke="#3aa6ff" stroke-width="1" d="M28.5 30Q24.5 30 24.5 35.5Q24.5 41 28.5 41Q32.5 41 32.5 35.5Q32.5 30 28.5 30Z M35 41V30H39Q42 30 42 33Q42 36 39 36H35 M52.5 32Q51 30 48.5 30Q44.5 30 44.5 35.5Q44.5 41 48.5 41Q51 41 52 39.5V37H49 M63 32Q61.5 30 59 30Q55.5 30 55.5 35.5Q55.5 41 59 41Q61.5 41 63 39.5 M64 30.5H70.5"/><path stroke="#1c1cb0" stroke-width="1.1" stroke-dasharray="3 1" d="M28.5 30Q24.5 30 24.5 35.5Q24.5 41 28.5 41Q32.5 41 32.5 35.5Q32.5 30 28.5 30Z M35 41V30H39Q42 30 42 33Q42 36 39 36H35 M52.5 32Q51 30 48.5 30Q44.5 30 44.5 35.5Q44.5 41 48.5 41Q51 41 52 39.5V37H49 M63 32Q61.5 30 59 30Q55.5 30 55.5 35.5Q55.5 41 59 41Q61.5 41 63 39.5 M64 30.5H70.5"/></g>
<path fill="#000" d="M2 1623h1v1h-1zM3 1624h1v1h-1zM4 1621h1v1h-1zM4 1622h1v1h-1zM4 1623h1v1h-1zM5 1622h1v1h-1zM6 1621h1v1h-1zM6 1622h1v1h-1zM6 1623h1v1h-1zM6 1624h1v1h-1zM7 1624h1v1h-1z"/>
<path fill="none" stroke="#000" stroke-width="1" d="M1049 118.5h19M1049 119.5h17M1049 120.5h17M1053 121.5h14M1049 122.5h18M1050 123.5h14M1052 124.5h13M1051 125.5h14M1053 126.5h14M1050 127.5h14M1050 128.5h15M1050 129.5h16M1052 130.5h14M1051 131.5h16M1048 132.5h19M1052 133.5h11M1049 134.5h16M1049 135.5h17M1048 136.5h19M1049 137.5h17M1053 138.5h13M1052 139.5h15M1050 140.5h17M1051 141.5h13M1053 142.5h16M1052 143.5h17M1051 144.5h14M1049 145.5h20M1049 146.5h19M1051 147.5h14M1051 148.5h18M1048 149.5h21M1048 150.5h19M1051 151.5h15M1051 152.5h15M1051 153.5h14M1051 154.5h15M1051 155.5h20M1045 156.5h25M1045 157.5h21M1051 158.5h15M1050 159.5h17M1051 160.5h19M1049 161.5h17M1050 162.5h17M1050 163.5h18M1048 164.5h20M1049 165.5h20M1048 166.5h20M1039 167.5h30M1050 168.5h24M1036 169.5h37M1037 170.5h37M1048 171.5h22M1034 172.5h37M1045 173.5h25M1048 174.5h24M1046 175.5h27M1048 176.5h22M1034 177.5h37M1046 178.5h23M1045 179.5h29M1045 180.5h39M1033 181.5h52M1022 182.5h73M1022 183.5h73M1022 184.5h73M1022 185.5h73M1022 186.5h73M1022 187.5h73M1022 188.5h73M1022 189.5h73M1022 190.5h73M1022 191.5h73M1022 192.5h73M1022 193.5h73M1022 194.5h73M1048 195.5h20M1051 196.5h20M1049 197.5h17M1050 198.5h19M1048 199.5h20M1050 200.5h18M1043 201.5h25M1051 202.5h16M1048 203.5h22M1051 204.5h19M1049 205.5h18M1050 206.5h20M1051 207.5h22M1050 208.5h19M1050 209.5h16M1051 210.5h14M1050 211.5h15M1051 212.5h16M1047 213.5h18M1050 214.5h17M1051 215.5h15M1052 216.5h14M1053 217.5h12M1048 218.5h17M1049 219.5h22M1051 220.5h15M1046 221.5h26M1047 222.5h23M1051 223.5h19M1050 224.5h14M1051 225.5h14M1053 226.5h16M1051 227.5h17M1053 228.5h15M1050 229.5h15M1053 230.5h11M1051 231.5h12M1055 232.5h9M1055 233.5h9M1052 234.5h15M1054 235.5h12M1054 236.5h9M1054 237.5h13M1054 238.5h12M1054 239.5h12M1054 240.5h9M1053 241.5h10M1055 242.5h9M1054 243.5h14M1053 244.5h11M1053 245.5h10M1051 246.5h12M1055 247.5h10M1055 248.5h8M1054 249.5h11M1055 250.5h7M1054 251.5h8M1053 252.5h10M1055 253.5h10M1053 254.5h13M1053 255.5h13M1051 256.5h15M1052 257.5h11M1056 258.5h7M1053 259.5h14M1053 260.5h12M1050 261.5h13M1051 262.5h14M1051 263.5h13M1053 264.5h14M1055 265.5h8M1051 266.5h15M1051 267.5h14M1052 268.5h11M1052 269.5h13M1054 270.5h10M1055 271.5h11M1054 272.5h10M1052 273.5h12M1054 274.5h7M1052 275.5h15M1053 276.5h14M1053 277.5h10M1050 278.5h13M1050 279.5h13M1055 280.5h9M1053 281.5h9M1053 282.5h9M1054 283.5h10M1053 284.5h11M1054 285.5h9M1053 286.5h12M1050 287.5h18M1054 288.5h8M1055 289.5h9M1053 290.5h10M1053 291.5h10M1050 292.5h13M1050 293.5h13M1052 294.5h13M1053 295.5h11M1053 296.5h8M1051 297.5h15M1051 298.5h12M1053 299.5h9M1053 300.5h13M1053 301.5h13M1053 302.5h11M1053 303.5h14M1052 304.5h14M1053 305.5h11M1053 306.5h10M1054 307.5h11M1054 308.5h10M1054 309.5h10M1054 310.5h10M1051 311.5h10M1053 312.5h10M1050 313.5h16M1054 314.5h11M1051 315.5h14M1050 316.5h14M1052 317.5h12M1054 318.5h11M1052 319.5h13M1054 320.5h8M1049 321.5h12M1052 322.5h16M1054 323.5h13M1051 324.5h11M1053 325.5h15M1054 326.5h10M1052 327.5h11M1055 328.5h9M1053 329.5h11M1054 330.5h14M1054 331.5h14M1050 332.5h13M1051 333.5h12M1050 334.5h16M1053 335.5h15M1052 336.5h15M1049 337.5h18M1054 338.5h12M1054 339.5h9M1054 340.5h10M1053 341.5h12M1052 342.5h12M1052 343.5h15M1054 344.5h12M1052 345.5h14M1051 346.5h12M1051 347.5h14M1054 348.5h11M1050 349.5h14M1052 350.5h12M1052 351.5h12M1052 352.5h15M1052 353.5h15M1052 354.5h15M1052 355.5h15M1047 356.5h22M1046 357.5h23M1046 358.5h23M1050 359.5h17M1048 360.5h28M1046 361.5h29M1048 362.5h23M1048 363.5h21M1050 364.5h18M1049 365.5h18M1049 366.5h19M1046 367.5h28M1044 368.5h30M1045 369.5h22M1045 370.5h22M1050 371.5h22M1050 372.5h19M1053 373.5h14M1053 374.5h13M1051 375.5h16M1052 376.5h11M1053 377.5h10M1050 378.5h15M1050 379.5h18M1053 380.5h15M1050 381.5h16M1050 382.5h16M1053 383.5h9M1055 384.5h11M1054 385.5h10M1053 386.5h10M1053 387.5h14M1055 388.5h11M1050 389.5h13M1051 390.5h13M1051 391.5h13M1053 392.5h11M1052 393.5h12M1053 394.5h12M1048 395.5h18M1049 396.5h16M1049 397.5h16M1053 398.5h15M1050 399.5h16M1050 400.5h14M1052 401.5h15M1051 402.5h14M1052 403.5h13M1054 404.5h10M1053 405.5h11M1051 406.5h15M1053 407.5h13M1052 408.5h12M1052 409.5h12M1050 410.5h17M1051 411.5h16M1052 412.5h15M1053 413.5h13M1053 414.5h10M1049 415.5h15M1049 416.5h16M1053 417.5h12M1050 418.5h14M1052 419.5h12M1054 420.5h10M1051 421.5h13M1051 422.5h12M1052 423.5h14M1051 424.5h14M1053 425.5h15M1054 426.5h13M1054 427.5h11M1054 428.5h10M1054 429.5h12M1050 430.5h17M1052 431.5h13M1052 432.5h15M1054 433.5h12M1051 434.5h13M1052 435.5h16M1052 436.5h15M1052 437.5h11M1051 438.5h16M1049 439.5h18M1049 440.5h17M1053 441.5h13M1052 442.5h13M1052 443.5h13M1053 444.5h12M1051 445.5h14M1052 446.5h18M1048 447.5h20M1051 448.5h16M1051 449.5h13M1052 450.5h14M1050 451.5h17M1052 452.5h14M1050 453.5h17M1050 454.5h15M1050 455.5h16M1050 456.5h15M1051 457.5h15M1052 458.5h13M1049 459.5h14M1052 460.5h15M1052 461.5h14M1052 462.5h13M1052 463.5h14M1049 464.5h17M1049 465.5h18M1052 466.5h15M1051 467.5h16M1050 468.5h15M1051 469.5h17M1052 470.5h16M1049 471.5h18M1049 472.5h16M1049 473.5h18M1049 474.5h20M1050 475.5h19M1047 476.5h21M1047 477.5h20M1053 478.5h14M1051 479.5h16M1051 480.5h13M1053 481.5h11M1047 482.5h18M1053 483.5h13M1051 484.5h17M1051 485.5h15M1052 486.5h15M1052 487.5h14M1051 488.5h18M1052 489.5h17M1050 490.5h18M1051 491.5h19M1051 492.5h15M1049 493.5h16M1050 494.5h13M1052 495.5h14M1049 496.5h17M1051 497.5h13M1051 498.5h14M1051 499.5h16M1051 500.5h16M1051 501.5h17M1050 502.5h16M1051 503.5h15M1052 504.5h19M1050 505.5h19M1052 506.5h17M1050 507.5h15M1052 508.5h15M1052 509.5h14M1052 510.5h15M1050 511.5h17M1049 512.5h18M1050 513.5h17M1051 514.5h18M1052 515.5h17M1046 516.5h23M1046 517.5h21M1051 518.5h15M1051 519.5h15M1050 520.5h22M1052 521.5h13M1048 522.5h18M1050 523.5h18M1047 524.5h20M1048 525.5h22M1051 526.5h16M1050 527.5h17M1051 528.5h13M1052 529.5h16M1047 530.5h23M1049 531.5h21M1051 532.5h19M1051 533.5h16M1050 534.5h17M1051 535.5h15M1047 536.5h19M1049 537.5h24M1048 538.5h25M1049 539.5h24M1044 540.5h28M1046 541.5h27M1037 542.5h36M1037 543.5h38M1034 544.5h42M1035 545.5h40M1035 546.5h43M1039 547.5h37M1039 548.5h37M1032 549.5h46M1037 550.5h42M1037 551.5h42M1035 552.5h47M1036 553.5h44M1037 554.5h45M1038 555.5h54M1034 556.5h48M1025 557.5h57M1025 558.5h67M1035 559.5h46M1037 560.5h43M1036 561.5h45M1035 562.5h46M1038 563.5h44M1038 564.5h53M1037 565.5h52M1036 566.5h52M1038 567.5h49M1035 568.5h50M1038 569.5h57M1026 570.5h52M1026 571.5h54M1028 572.5h61M1037 573.5h50M1023 574.5h63M1036 575.5h44M1037 576.5h54M1037 577.5h52M1036 578.5h51M1027 579.5h53M1027 580.5h53M1038 581.5h43M1036 582.5h45M1036 583.5h45M1036 584.5h44M1023 585.5h58M1023 586.5h59M1035 587.5h47M1034 588.5h49M1035 589.5h46M1036 590.5h46M1033 591.5h49M1034 592.5h48M1034 593.5h48M1030 594.5h59M1030 595.5h60M1027 596.5h55M1034 597.5h49M1034 598.5h48M1034 599.5h50M1034 600.5h48M1023 601.5h61M1033 602.5h51M1033 603.5h58M1034 604.5h51M1033 605.5h50M1033 606.5h51M1022 607.5h73M1022 608.5h73M1022 609.5h73M1022 610.5h73M1022 611.5h73M1022 612.5h73M1022 613.5h73M1022 614.5h73M1022 615.5h73M1022 616.5h73M1022 617.5h73M1022 618.5h73M1022 619.5h73M1022 620.5h73M1022 621.5h73M1022 622.5h73M1022 623.5h73M1022 624.5h73M1022 625.5h73M1022 626.5h73M1022 627.5h73M1022 628.5h73M1022 629.5h73M1022 630.5h73M1022 631.5h73M1022 632.5h73M1022 633.5h73M1022 634.5h73M1022 635.5h73M1022 636.5h73M1022 637.5h73M1022 638.5h73M1022 639.5h73M1022 640.5h73M1022 641.5h73M1022 642.5h73M1022 643.5h73M1022 644.5h73M1022 645.5h73M1022 646.5h73M1022 647.5h73M1022 648.5h73M1022 649.5h73M1022 650.5h73M1022 651.5h73M1022 652.5h73M1022 653.5h73M1022 654.5h73M1022 655.5h73M1022 656.5h73M1022 657.5h73M1022 658.5h73M1022 659.5h73M1022 660.5h73M1022 661.5h73M1022 662.5h73M1022 663.5h73M1022 664.5h73M1022 665.5h73M1022 666.5h73M1022 667.5h73M1022 668.5h73M1022 669.5h73M1022 670.5h73M1022 671.5h73M1022 672.5h73M1022 673.5h73M1022 674.5h73M1022 675.5h73M1022 676.5h73M1022 677.5h73M1022 678.5h73M1022 679.5h73M1022 680.5h73M1022 681.5h73M1022 682.5h73M1022 683.5h73M1022 684.5h73M1022 685.5h73M1022 686.5h73M1022 687.5h73M1051 688.5h16M1050 689.5h14M1052 690.5h13M1051 691.5h14M1052 692.5h13M1053 693.5h11M1051 694.5h12M1052 695.5h13M1052 696.5h12M1054 697.5h12M1053 698.5h13M1053 699.5h14M1053 700.5h10M1053 701.5h13M1055 702.5h8M1053 703.5h9M1054 704.5h9M1051 705.5h11M1051 706.5h12M1052 707.5h16M1052 708.5h13M1050 709.5h16M1049 710.5h15M1049 711.5h16M1051 712.5h12M1052 713.5h11M1054 714.5h11M1055 715.5h10M1054 716.5h10M1055 717.5h8M1056 718.5h6M1052 719.5h11M1050 720.5h12M1051 721.5h12M1049 722.5h15M1050 723.5h14M1050 724.5h13M1054 725.5h7M1054 726.5h10M1053 727.5h10M1051 728.5h14M1053 729.5h12M1054 730.5h11M1056 731.5h9M1050 732.5h11M1051 733.5h12M1051 734.5h13M1051 735.5h11M1051 736.5h12M1051 737.5h14M1054 738.5h12M1054 739.5h10M1054 740.5h10M1052 741.5h11M1054 742.5h12M1051 743.5h12M1051 744.5h13M1056 745.5h8M1052 746.5h13M1052 747.5h12M1054 748.5h7M1055 749.5h9M1054 750.5h10M1054 751.5h9M1052 752.5h12M1054 753.5h10M1049 754.5h13M1050 755.5h18M1052 756.5h16M1054 757.5h9M1050 758.5h14M1050 759.5h16M1053 760.5h13M1052 761.5h10M1051 762.5h14M1052 763.5h14M1052 764.5h13M1051 765.5h11M1051 766.5h13M1054 767.5h8M1055 768.5h9M1053 769.5h12M1051 770.5h12M1054 771.5h9M1050 772.5h14M1051 773.5h13M1051 774.5h14M1054 775.5h13M1052 776.5h10M1054 777.5h12M1053 778.5h10M1053 779.5h9M1054 780.5h10M1056 781.5h12M1050 782.5h13M1055 783.5h8M1053 784.5h12M1054 785.5h9M1054 786.5h12M1053 787.5h13M1052 788.5h12M1054 789.5h8M1053 790.5h11M1050 791.5h13M1050 792.5h13M1051 793.5h13M1054 794.5h10M1054 795.5h8M1049 796.5h16M1054 797.5h10M1050 798.5h15M1055 799.5h8M1053 800.5h10M1055 801.5h7M1054 802.5h10M1054 803.5h10M1053 804.5h12M1054 805.5h9M1054 806.5h12M1054 807.5h10M1054 808.5h10M1054 809.5h8M1055 810.5h8M1053 811.5h15M1054 812.5h13M1053 813.5h14M1053 814.5h10M1050 815.5h13M1051 816.5h17M1053 817.5h10M1053 818.5h11M1054 819.5h12M1049 820.5h17M1049 821.5h16M1051 822.5h12M1054 823.5h10M1052 824.5h11M1050 825.5h15M1050 826.5h12M1049 827.5h15M1053 828.5h10M1052 829.5h13M1055 830.5h9M1053 831.5h11M1054 832.5h8M1053 833.5h10M1055 834.5h13M1049 835.5h19M1049 836.5h17M1049 837.5h17M1054 838.5h12M1054 839.5h10M1054 840.5h10M1051 841.5h12M1054 842.5h9M1054 843.5h10M1053 844.5h11M1053 845.5h10M1050 846.5h12M1051 847.5h12M1053 848.5h11M1053 849.5h10M1055 850.5h9M1052 851.5h12M1054 852.5h13M1052 853.5h15M1054 854.5h10M1053 855.5h9M1053 856.5h11M1051 857.5h12M1054 858.5h10M1053 859.5h10M1053 860.5h10M1050 861.5h13M1051 862.5h12M1052 863.5h12M1053 864.5h12M1051 865.5h14M1054 866.5h11M1055 867.5h12M1053 868.5h13M1054 869.5h12M1054 870.5h11M1050 871.5h12M1051 872.5h13M1051 873.5h13M1053 874.5h9M1054 875.5h12M1054 876.5h9M1054 877.5h12M1054 878.5h11M1054 879.5h11M1052 880.5h12M1055 881.5h9M1054 882.5h10M1052 883.5h12M1054 884.5h13M1053 885.5h10M1051 886.5h13M1051 887.5h14M1050 888.5h15M1050 889.5h13M1050 890.5h15M1055 891.5h8M1054 892.5h10M1053 893.5h14M1055 894.5h11M1054 895.5h11M1053 896.5h11M1050 897.5h16M1054 898.5h11M1053 899.5h11M1052 900.5h13M1053 901.5h9M1052 902.5h12M1054 903.5h9M1053 904.5h13M1053 905.5h13M1053 906.5h10M1054 907.5h10M1055 908.5h7M1049 909.5h14M1050 910.5h12M1054 911.5h10M1051 912.5h14M1051 913.5h13M1053 914.5h14M1055 915.5h11M1053 916.5h13M1054 917.5h8M1052 918.5h14M1050 919.5h12M1050 920.5h13M1050 921.5h14M1051 922.5h11M1054 923.5h9M1054 924.5h13M1054 925.5h11M1050 926.5h13M1051 927.5h13M1052 928.5h12M1053 929.5h10M1053 930.5h12M1052 931.5h11M1052 932.5h12M1054 933.5h10M1054 934.5h11M1052 935.5h12M1052 936.5h10M1054 937.5h13M1054 938.5h13M1050 939.5h16M1051 940.5h13M1053 941.5h13M1054 942.5h13M1053 943.5h9M1054 944.5h9M1050 945.5h14M1054 946.5h9M1053 947.5h10M1052 948.5h12M1052 949.5h10M1053 950.5h10M1052 951.5h15M1054 952.5h12M1055 953.5h13M1053 954.5h9M1055 955.5h7M1050 956.5h14M1051 957.5h13M1051 958.5h16M1054 959.5h12M1053 960.5h12M1054 961.5h11M1055 962.5h11M1053 963.5h13M1054 964.5h12M1050 965.5h15M1051 966.5h14M1051 967.5h14M1054 968.5h10M1054 969.5h8M1051 970.5h13M1052 971.5h10M1052 972.5h16M1055 973.5h10M1054 974.5h9M1050 975.5h17M1050 976.5h17M1055 977.5h9M1053 978.5h10M1053 979.5h10M1052 980.5h13M1054 981.5h10M1051 982.5h13M1051 983.5h13M1051 984.5h16M1051 985.5h16M1049 986.5h13M1053 987.5h11M1052 988.5h15M1054 989.5h13M1053 990.5h10M1054 991.5h11M1054 992.5h8M1054 993.5h10M1053 994.5h10M1052 995.5h13M1054 996.5h7M1051 997.5h13M1053 998.5h10M1053 999.5h13M1052 1000.5h12M1051 1001.5h14M1051 1002.5h14M1051 1003.5h13M1052 1004.5h13M1053 1005.5h9M1054 1006.5h14M1051 1007.5h14M1052 1008.5h12M1053 1009.5h15M1054 1010.5h14M1053 1011.5h14M1054 1012.5h9M1055 1013.5h8M1054 1014.5h11M1052 1015.5h11M1055 1016.5h7M1054 1017.5h10M1054 1018.5h9M1051 1019.5h15M1051 1020.5h11M1051 1021.5h13M1053 1022.5h11M1054 1023.5h10M1052 1024.5h11M1053 1025.5h14M1054 1026.5h13M1054 1027.5h13M1053 1028.5h11M1053 1029.5h10M1055 1030.5h10M1049 1031.5h13M1054 1032.5h9M1055 1033.5h8M1052 1034.5h15M1052 1035.5h14M1055 1036.5h11M1054 1037.5h8M1054 1038.5h9M1051 1039.5h17M1051 1040.5h16M1052 1041.5h12M1051 1042.5h13M1052 1043.5h11M1051 1044.5h12M1052 1045.5h11M1052 1046.5h11M1053 1047.5h10M1051 1048.5h13M1051 1049.5h12M1054 1050.5h11M1054 1051.5h8M1052 1052.5h12M1053 1053.5h11M1049 1054.5h14M1050 1055.5h13M1055 1056.5h8M1053 1057.5h15M1054 1058.5h13M1053 1059.5h14M1054 1060.5h13M1053 1061.5h11M1054 1062.5h9M1049 1063.5h16M1054 1064.5h11M1053 1065.5h12M1054 1066.5h10M1053 1067.5h12M1051 1068.5h13M1054 1069.5h13M1051 1070.5h15M1052 1071.5h13M1050 1072.5h15M1053 1073.5h15M1050 1074.5h13M1050 1075.5h18M1053 1076.5h11M1053 1077.5h10M1049 1078.5h14M1052 1079.5h11M1052 1080.5h13M1052 1081.5h13M1055 1082.5h10M1053 1083.5h9M1050 1084.5h17M1050 1085.5h16M1051 1086.5h15M1055 1087.5h8M1053 1088.5h13M1054 1089.5h8M1053 1090.5h12M1055 1091.5h8M1052 1092.5h9M1050 1093.5h14M1050 1094.5h13M1054 1095.5h10M1053 1096.5h11M1053 1097.5h10M1053 1098.5h9M1054 1099.5h12M1054 1100.5h11M1054 1101.5h11M1053 1102.5h11M1052 1103.5h12M1050 1104.5h14M1055 1105.5h8M1054 1106.5h10M1054 1107.5h10M1056 1108.5h8M1055 1109.5h13M1050 1110.5h17M1050 1111.5h16M1051 1112.5h13M1054 1113.5h9M1049 1114.5h16M1055 1115.5h6M1054 1116.5h11M1054 1117.5h10M1051 1118.5h12M1055 1119.5h10M1051 1120.5h12M1053 1121.5h11M1053 1122.5h10M1051 1123.5h16M1054 1124.5h13M1053 1125.5h11M1054 1126.5h11M1053 1127.5h10M1055 1128.5h8M1053 1129.5h10M1054 1130.5h9M1055 1131.5h8M1050 1132.5h14M1050 1133.5h13M1050 1134.5h14M1053 1135.5h12M1051 1136.5h11M1056 1137.5h9M1055 1138.5h9M1049 1139.5h17M1050 1140.5h15M1055 1141.5h9M1051 1142.5h12M1053 1143.5h10M1053 1144.5h14M1055 1145.5h12M1055 1146.5h11M1054 1147.5h9M1052 1148.5h12M1054 1149.5h10M1053 1150.5h11M1053 1151.5h9M1052 1152.5h12M1054 1153.5h9M1054 1154.5h10M1055 1155.5h11M1053 1156.5h10M1050 1157.5h17M1055 1158.5h9M1053 1159.5h11M1054 1160.5h14M1053 1161.5h15M1054 1162.5h14M1054 1163.5h13M1050 1164.5h14M1051 1165.5h13M1051 1166.5h13M1052 1167.5h11M1052 1168.5h10M1052 1169.5h12M1054 1170.5h13M1051 1171.5h10M1049 1172.5h15M1049 1173.5h15M1052 1174.5h10M1053 1175.5h12M1053 1176.5h10M1054 1177.5h11M1051 1178.5h14M1051 1179.5h14M1051 1180.5h11M1053 1181.5h12M1054 1182.5h10M1051 1183.5h13M1051 1184.5h14M1052 1185.5h14M1051 1186.5h15M1051 1187.5h14M1053 1188.5h10M1053 1189.5h11M1054 1190.5h7M1054 1191.5h10M1052 1192.5h10M1054 1193.5h9M1050 1194.5h14M1050 1195.5h18M1050 1196.5h18M1050 1197.5h14M1054 1198.5h9M1053 1199.5h11M1052 1200.5h12M1051 1201.5h15M1054 1202.5h13M1054 1203.5h9M1053 1204.5h10M1054 1205.5h10M1052 1206.5h12M1050 1207.5h13M1051 1208.5h16M1056 1209.5h10M1052 1210.5h14M1051 1211.5h12M1051 1212.5h12M1053 1213.5h13M1051 1214.5h12M1051 1215.5h12M1051 1216.5h13M1050 1217.5h15M1050 1218.5h12M1049 1219.5h16M1050 1220.5h13M1053 1221.5h11M1050 1222.5h14M1050 1223.5h14M1054 1224.5h10M1055 1225.5h6M1054 1226.5h9M1054 1227.5h8M1055 1228.5h12M1049 1229.5h18M1050 1230.5h14M1053 1231.5h10M1053 1232.5h11M1050 1233.5h18M1051 1234.5h16M1052 1235.5h15M1053 1236.5h10M1055 1237.5h8M1055 1238.5h10M1053 1239.5h12M1053 1240.5h12M1053 1241.5h10M1054 1242.5h11M1054 1243.5h11M1053 1244.5h10M1049 1245.5h13M1053 1246.5h10M1053 1247.5h9M1056 1248.5h7M1053 1249.5h11M1055 1250.5h13M1056 1251.5h11M1055 1252.5h11M1054 1253.5h7M1054 1254.5h12M1054 1255.5h12M1054 1256.5h9M1054 1257.5h10M1055 1258.5h13M1054 1259.5h10M1053 1260.5h13M1053 1261.5h13M1053 1262.5h11M1056 1263.5h7M1051 1264.5h12M1052 1265.5h11M1052 1266.5h11M1055 1267.5h8M1054 1268.5h12M1052 1269.5h13M1050 1270.5h16M1050 1271.5h14M1054 1272.5h9M1053 1273.5h12M1054 1274.5h11M1054 1275.5h12M1052 1276.5h13M1051 1277.5h14M1053 1278.5h11M1054 1279.5h9M1054 1280.5h12M1053 1281.5h12M1054 1282.5h14M1054 1283.5h13M1055 1284.5h11M1053 1285.5h11M1053 1286.5h10M1054 1287.5h8M1053 1288.5h14M1052 1289.5h14M1055 1290.5h11M1053 1291.5h14M1051 1292.5h16M1050 1293.5h12M1053 1294.5h9M1052 1295.5h12M1054 1296.5h13M1049 1297.5h16M1050 1298.5h17M1050 1299.5h16M1050 1300.5h18M1050 1301.5h13M1052 1302.5h11M1052 1303.5h12M1054 1304.5h14M1055 1305.5h11M1054 1306.5h10M1054 1307.5h10M1054 1308.5h9M1052 1309.5h12M1052 1310.5h11M1054 1311.5h9M1053 1312.5h10M1053 1313.5h15M1053 1314.5h14M1050 1315.5h16M1051 1316.5h14M1052 1317.5h11M1054 1318.5h9M1049 1319.5h17M1055 1320.5h11M1052 1321.5h13M1054 1322.5h9M1054 1323.5h9M1053 1324.5h11M1051 1325.5h12M1054 1326.5h9M1055 1327.5h8M1054 1328.5h9M1052 1329.5h14M1051 1330.5h11M1051 1331.5h13M1055 1332.5h12M1052 1333.5h15M1054 1334.5h13M1052 1335.5h10M1055 1336.5h11M1055 1337.5h8M1053 1338.5h10M1053 1339.5h11M1053 1340.5h10M1054 1341.5h9M1052 1342.5h12M1054 1343.5h9M1054 1344.5h8M1052 1345.5h12M1054 1346.5h10M1054 1347.5h9M1053 1348.5h10M1053 1349.5h13M1049 1350.5h15M1054 1351.5h9M1055 1352.5h8M1055 1353.5h8M1053 1354.5h11M1053 1355.5h11M1054 1356.5h7M1052 1357.5h12M1054 1358.5h9M1050 1359.5h14M1052 1360.5h11M1051 1361.5h12M1052 1362.5h15M1054 1363.5h12M1053 1364.5h11M1054 1365.5h9M1052 1366.5h10M1049 1367.5h15M1049 1368.5h15M1054 1369.5h11M1052 1370.5h10M1052 1371.5h11M1054 1372.5h9M1054 1373.5h10M1053 1374.5h13M1053 1375.5h10M1053 1376.5h9M1053 1377.5h12M1050 1378.5h15M1054 1379.5h13M1051 1380.5h13M1053 1381.5h10M1052 1382.5h11M1052 1383.5h10M1052 1384.5h14M1054 1385.5h12M1054 1386.5h9M1054 1387.5h13M1053 1388.5h13M1052 1389.5h11M1055 1390.5h9M1052 1391.5h12M1054 1392.5h9M1054 1393.5h10M1053 1394.5h10M1054 1395.5h11M1053 1396.5h9M1054 1397.5h9M1054 1398.5h12M1053 1399.5h12M1054 1400.5h11M1053 1401.5h9M1052 1402.5h12M1054 1403.5h11M1051 1404.5h12M1051 1405.5h13M1051 1406.5h12M1050 1407.5h13M1050 1408.5h17M1050 1409.5h12M1053 1410.5h11M1054 1411.5h10M1050 1412.5h14M1053 1413.5h10M1055 1414.5h9M1052 1415.5h11M1054 1416.5h10M1052 1417.5h10M1053 1418.5h12M1051 1419.5h13M1054 1420.5h14M1055 1421.5h11M1054 1422.5h11M1052 1423.5h14M1053 1424.5h14M1052 1425.5h15M1052 1426.5h10M1055 1427.5h8M1053 1428.5h11M1051 1429.5h14M1055 1430.5h9M1054 1431.5h10M1051 1432.5h11M1051 1433.5h13M1052 1434.5h10M1054 1435.5h13M1051 1436.5h15M1052 1437.5h13M1052 1438.5h12M1051 1439.5h13M1052 1440.5h14M1051 1441.5h13M1051 1442.5h13M1054 1443.5h10M1054 1444.5h11M1050 1445.5h15M1054 1446.5h10M1050 1447.5h15M1050 1448.5h17M1053 1449.5h11M1056 1450.5h8M1052 1451.5h14M1049 1452.5h17M1049 1453.5h14M1050 1454.5h12M1054 1455.5h9M1054 1456.5h12M1055 1457.5h8M1050 1458.5h14M1050 1459.5h11M1050 1460.5h14M1050 1461.5h13M1052 1462.5h13M1051 1463.5h11M1051 1464.5h16M1051 1465.5h13M1051 1466.5h13M1053 1467.5h12M1049 1468.5h16M1049 1469.5h16M1053 1470.5h10M1051 1471.5h12M1051 1472.5h13M1055 1473.5h8M1053 1474.5h15M1050 1475.5h18M1050 1476.5h16M1053 1477.5h14M1053 1478.5h11M1053 1479.5h15M1056 1480.5h6M1049 1481.5h14M1049 1482.5h16M1052 1483.5h14M1054 1484.5h9M1054 1485.5h9M1054 1486.5h10M1054 1487.5h11M1053 1488.5h12M1051 1489.5h16M1051 1490.5h13M1053 1491.5h14M1054 1492.5h12M1053 1493.5h15M1051 1494.5h13M1052 1495.5h16M1054 1496.5h13M1054 1497.5h12M1054 1498.5h11M1054 1499.5h11M1053 1500.5h12M1053 1501.5h12M1054 1502.5h11M1054 1503.5h8M1053 1504.5h11M1054 1505.5h10M1054 1506.5h10M1052 1507.5h10M1054 1508.5h9M1050 1509.5h13M1053 1510.5h9M1054 1511.5h11M1051 1512.5h13M1051 1513.5h13M1053 1514.5h9M1053 1515.5h11M1053 1516.5h9M1054 1517.5h8M1053 1518.5h10M1054 1519.5h9M1053 1520.5h10M1052 1521.5h13M1052 1522.5h15M1053 1523.5h13M1055 1524.5h11M1053 1525.5h13M1049 1526.5h14M1054 1527.5h9M1050 1528.5h14M1050 1529.5h14M1052 1530.5h11M1050 1531.5h14M1049 1532.5h15M1050 1533.5h17M1051 1534.5h15M1054 1535.5h9M1050 1536.5h13M1053 1537.5h11M1053 1538.5h11M1055 1539.5h7M1055 1540.5h12M1051 1541.5h15M1054 1542.5h8M1053 1543.5h11M1056 1544.5h8M1054 1545.5h11M1054 1546.5h9M1053 1547.5h15M1053 1548.5h12M1053 1549.5h12M1053 1550.5h10M1050 1551.5h15M1051 1552.5h12M1053 1553.5h11"/>
</svg></body></html>
